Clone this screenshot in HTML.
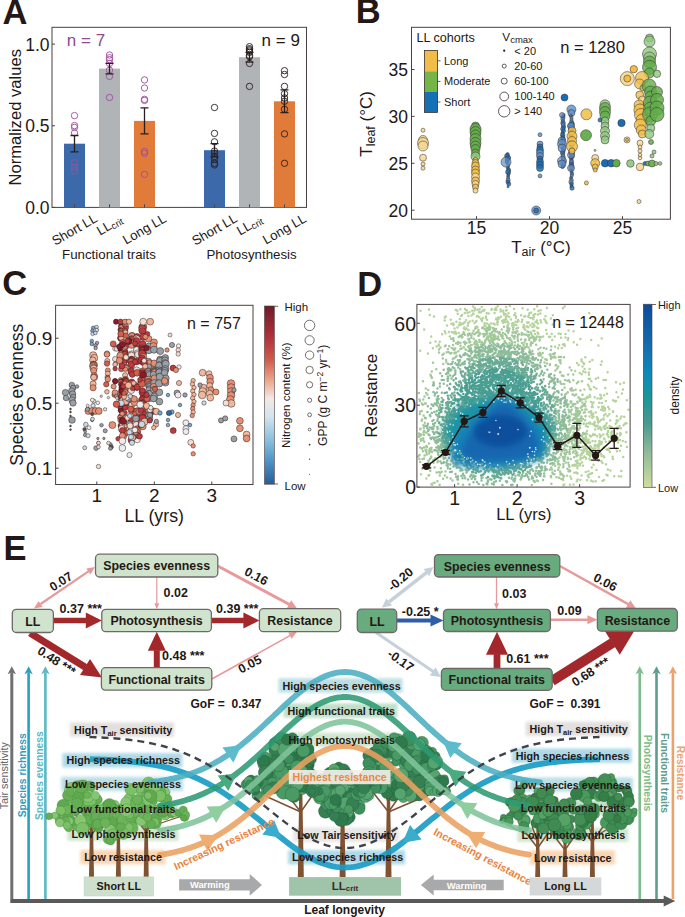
<!DOCTYPE html>
<html><head><meta charset="utf-8"><style>
html,body{margin:0;padding:0;background:#fff;}
svg{display:block;}
text{font-family:"Liberation Sans", sans-serif;}
</style></head><body>
<svg width="685" height="917" viewBox="0 0 685 917">
<rect width="685" height="917" fill="#fff"/>
<text x="2.5" y="23.8" font-size="34.5" fill="#231815" text-anchor="start" font-weight="bold">A</text>
<rect x="52" y="27.3" width="254.5" height="180.1" fill="none" stroke="#4a4040" stroke-width="1"/>
<line x1="52" y1="207.4" x2="55" y2="207.4" stroke="#4a4040" stroke-width="1"/>
<text x="49.6" y="213.8" font-size="17.5" fill="#231815" text-anchor="end">0.0</text>
<line x1="52" y1="125.75" x2="55" y2="125.75" stroke="#4a4040" stroke-width="1"/>
<text x="49.6" y="132.15" font-size="17.5" fill="#231815" text-anchor="end">0.5</text>
<line x1="52" y1="44.099999999999994" x2="55" y2="44.099999999999994" stroke="#4a4040" stroke-width="1"/>
<text x="49.6" y="50.49999999999999" font-size="17.5" fill="#231815" text-anchor="end">1.0</text>
<rect x="64.0" y="143.7" width="21" height="63.7" fill="#3c69aa"/>
<line x1="74.5" y1="207.4" x2="74.5" y2="204.4" stroke="#4a4040" stroke-width="1"/>
<rect x="99.0" y="68.6" width="21" height="138.8" fill="#b1b4b7"/>
<line x1="109.5" y1="207.4" x2="109.5" y2="204.4" stroke="#4a4040" stroke-width="1"/>
<rect x="134.0" y="120.9" width="21" height="86.5" fill="#e07b39"/>
<line x1="144.5" y1="207.4" x2="144.5" y2="204.4" stroke="#4a4040" stroke-width="1"/>
<rect x="204.0" y="150.2" width="21" height="57.2" fill="#3c69aa"/>
<line x1="214.5" y1="207.4" x2="214.5" y2="204.4" stroke="#4a4040" stroke-width="1"/>
<rect x="239.0" y="57.2" width="21" height="150.2" fill="#b1b4b7"/>
<line x1="249.5" y1="207.4" x2="249.5" y2="204.4" stroke="#4a4040" stroke-width="1"/>
<rect x="274.0" y="101.3" width="21" height="106.1" fill="#e07b39"/>
<line x1="284.5" y1="207.4" x2="284.5" y2="204.4" stroke="#4a4040" stroke-width="1"/>
<circle cx="74.5" cy="115.6" r="3.2" fill="none" stroke="#9d4e9d" stroke-width="0.9"/>
<circle cx="74.5" cy="125.6" r="3.2" fill="none" stroke="#9d4e9d" stroke-width="0.9"/>
<circle cx="74.5" cy="127.4" r="3.2" fill="none" stroke="#9d4e9d" stroke-width="0.9"/>
<circle cx="74.5" cy="132.9" r="3.2" fill="none" stroke="#9d4e9d" stroke-width="0.9"/>
<circle cx="74.5" cy="162.8" r="3.2" fill="none" stroke="#9d4e9d" stroke-width="0.9"/>
<circle cx="74.5" cy="167.1" r="3.2" fill="none" stroke="#9d4e9d" stroke-width="0.9"/>
<circle cx="74.5" cy="170.8" r="3.2" fill="none" stroke="#9d4e9d" stroke-width="0.9"/>
<path d="M74.5 135.5V151.9M70.5 135.5H78.5M70.5 151.9H78.5" stroke="#2a1f1f" stroke-width="1.3" fill="none"/>
<circle cx="109.5" cy="55.0" r="3.2" fill="none" stroke="#9d4e9d" stroke-width="0.9"/>
<circle cx="109.5" cy="57.7" r="3.2" fill="none" stroke="#9d4e9d" stroke-width="0.9"/>
<circle cx="109.5" cy="59.6" r="3.2" fill="none" stroke="#9d4e9d" stroke-width="0.9"/>
<circle cx="109.5" cy="63.4" r="3.2" fill="none" stroke="#9d4e9d" stroke-width="0.9"/>
<circle cx="109.5" cy="70.2" r="3.2" fill="none" stroke="#9d4e9d" stroke-width="0.9"/>
<circle cx="109.5" cy="76.4" r="3.2" fill="none" stroke="#9d4e9d" stroke-width="0.9"/>
<circle cx="109.5" cy="97.5" r="3.2" fill="none" stroke="#9d4e9d" stroke-width="0.9"/>
<path d="M109.5 63.4V73.8M105.5 63.4H113.5M105.5 73.8H113.5" stroke="#2a1f1f" stroke-width="1.3" fill="none"/>
<circle cx="144.5" cy="79.9" r="3.2" fill="none" stroke="#9d4e9d" stroke-width="0.9"/>
<circle cx="144.5" cy="88.0" r="3.2" fill="none" stroke="#9d4e9d" stroke-width="0.9"/>
<circle cx="144.5" cy="99.3" r="3.2" fill="none" stroke="#9d4e9d" stroke-width="0.9"/>
<circle cx="144.5" cy="100.4" r="3.2" fill="none" stroke="#9d4e9d" stroke-width="0.9"/>
<circle cx="144.5" cy="151.4" r="3.2" fill="none" stroke="#9d4e9d" stroke-width="0.9"/>
<circle cx="144.5" cy="153.3" r="3.2" fill="none" stroke="#9d4e9d" stroke-width="0.9"/>
<circle cx="144.5" cy="174.4" r="3.2" fill="none" stroke="#9d4e9d" stroke-width="0.9"/>
<path d="M144.5 107.8V133.9M140.5 107.8H148.5M140.5 133.9H148.5" stroke="#2a1f1f" stroke-width="1.3" fill="none"/>
<circle cx="214.5" cy="107.5" r="3.2" fill="none" stroke="#2a2020" stroke-width="0.9"/>
<circle cx="214.5" cy="133.4" r="3.2" fill="none" stroke="#2a2020" stroke-width="0.9"/>
<circle cx="214.5" cy="141.8" r="3.2" fill="none" stroke="#2a2020" stroke-width="0.9"/>
<circle cx="214.5" cy="151.1" r="3.2" fill="none" stroke="#2a2020" stroke-width="0.9"/>
<circle cx="214.5" cy="153.3" r="3.2" fill="none" stroke="#2a2020" stroke-width="0.9"/>
<circle cx="214.5" cy="156.6" r="3.2" fill="none" stroke="#2a2020" stroke-width="0.9"/>
<circle cx="214.5" cy="159.6" r="3.2" fill="none" stroke="#2a2020" stroke-width="0.9"/>
<circle cx="214.5" cy="163.3" r="3.2" fill="none" stroke="#2a2020" stroke-width="0.9"/>
<circle cx="214.5" cy="164.9" r="3.2" fill="none" stroke="#2a2020" stroke-width="0.9"/>
<path d="M214.5 143.7V156.8M210.5 143.7H218.5M210.5 156.8H218.5" stroke="#2a1f1f" stroke-width="1.3" fill="none"/>
<circle cx="249.5" cy="46.7" r="3.2" fill="none" stroke="#2a2020" stroke-width="0.9"/>
<circle cx="249.5" cy="48.7" r="3.2" fill="none" stroke="#2a2020" stroke-width="0.9"/>
<circle cx="249.5" cy="49.8" r="3.2" fill="none" stroke="#2a2020" stroke-width="0.9"/>
<circle cx="249.5" cy="51.0" r="3.2" fill="none" stroke="#2a2020" stroke-width="0.9"/>
<circle cx="249.5" cy="52.3" r="3.2" fill="none" stroke="#2a2020" stroke-width="0.9"/>
<circle cx="249.5" cy="55.5" r="3.2" fill="none" stroke="#2a2020" stroke-width="0.9"/>
<circle cx="249.5" cy="56.7" r="3.2" fill="none" stroke="#2a2020" stroke-width="0.9"/>
<circle cx="249.5" cy="63.4" r="3.2" fill="none" stroke="#2a2020" stroke-width="0.9"/>
<circle cx="249.5" cy="86.4" r="3.2" fill="none" stroke="#2a2020" stroke-width="0.9"/>
<path d="M249.5 52.3V62.1M245.5 52.3H253.5M245.5 62.1H253.5" stroke="#2a1f1f" stroke-width="1.3" fill="none"/>
<circle cx="284.5" cy="70.7" r="3.2" fill="none" stroke="#2a2020" stroke-width="0.9"/>
<circle cx="284.5" cy="74.5" r="3.2" fill="none" stroke="#2a2020" stroke-width="0.9"/>
<circle cx="284.5" cy="86.4" r="3.2" fill="none" stroke="#2a2020" stroke-width="0.9"/>
<circle cx="284.5" cy="93.7" r="3.2" fill="none" stroke="#2a2020" stroke-width="0.9"/>
<circle cx="284.5" cy="98.0" r="3.2" fill="none" stroke="#2a2020" stroke-width="0.9"/>
<circle cx="284.5" cy="101.3" r="3.2" fill="none" stroke="#2a2020" stroke-width="0.9"/>
<circle cx="284.5" cy="109.3" r="3.2" fill="none" stroke="#2a2020" stroke-width="0.9"/>
<circle cx="284.5" cy="133.9" r="3.2" fill="none" stroke="#2a2020" stroke-width="0.9"/>
<circle cx="284.5" cy="163.3" r="3.2" fill="none" stroke="#2a2020" stroke-width="0.9"/>
<path d="M284.5 89.8V112.7M280.5 89.8H288.5M280.5 112.7H288.5" stroke="#2a1f1f" stroke-width="1.3" fill="none"/>
<text x="66.8" y="45.9" font-size="17" fill="#8e4a8e" text-anchor="start">n = 7</text>
<text x="261.6" y="45.9" font-size="17" fill="#231815" text-anchor="start">n = 9</text>
<text x="74.5" y="229.5" font-size="13.2" fill="#231815" text-anchor="middle" transform="rotate(-30 74.5 229.5)" dominant-baseline="central">Short LL</text>
<text x="109.5" y="225" font-size="13.2" fill="#231815" text-anchor="middle" transform="rotate(-30 109.5 225)" dominant-baseline="central">LL<tspan font-size="9.5" dy="2">crit</tspan></text>
<text x="144.5" y="229" font-size="13.2" fill="#231815" text-anchor="middle" transform="rotate(-30 144.5 229)" dominant-baseline="central">Long LL</text>
<text x="214.5" y="229.5" font-size="13.2" fill="#231815" text-anchor="middle" transform="rotate(-30 214.5 229.5)" dominant-baseline="central">Short LL</text>
<text x="249.5" y="225" font-size="13.2" fill="#231815" text-anchor="middle" transform="rotate(-30 249.5 225)" dominant-baseline="central">LL<tspan font-size="9.5" dy="2">crit</tspan></text>
<text x="284.5" y="229" font-size="13.2" fill="#231815" text-anchor="middle" transform="rotate(-30 284.5 229)" dominant-baseline="central">Long LL</text>
<text x="109" y="258.5" font-size="13.3" fill="#231815" text-anchor="middle">Functional traits</text>
<text x="251.6" y="258.5" font-size="13.3" fill="#231815" text-anchor="middle">Photosynthesis</text>
<text x="20.6" y="117.3" font-size="16.6" fill="#231815" text-anchor="middle" transform="rotate(-90 20.6 117.3)">Normalized values</text>
<text x="355.7" y="23.4" font-size="34.5" fill="#231815" text-anchor="start" font-weight="bold">B</text>
<rect x="411.5" y="27.3" width="258.9" height="191.89999999999998" fill="none" stroke="#4a4040" stroke-width="1"/>
<line x1="476.5" y1="219.2" x2="476.5" y2="216.2" stroke="#4a4040" stroke-width="1"/>
<text x="476.5" y="234.2" font-size="17.5" fill="#231815" text-anchor="middle">15</text>
<line x1="549.5" y1="219.2" x2="549.5" y2="216.2" stroke="#4a4040" stroke-width="1"/>
<text x="549.5" y="234.2" font-size="17.5" fill="#231815" text-anchor="middle">20</text>
<line x1="622.5" y1="219.2" x2="622.5" y2="216.2" stroke="#4a4040" stroke-width="1"/>
<text x="622.5" y="234.2" font-size="17.5" fill="#231815" text-anchor="middle">25</text>
<line x1="411.5" y1="210.20000000000002" x2="414.5" y2="210.20000000000002" stroke="#4a4040" stroke-width="1"/>
<text x="408" y="216.60000000000002" font-size="17.5" fill="#231815" text-anchor="end">20</text>
<line x1="411.5" y1="163.3" x2="414.5" y2="163.3" stroke="#4a4040" stroke-width="1"/>
<text x="408" y="169.70000000000002" font-size="17.5" fill="#231815" text-anchor="end">25</text>
<line x1="411.5" y1="116.4" x2="414.5" y2="116.4" stroke="#4a4040" stroke-width="1"/>
<text x="408" y="122.80000000000001" font-size="17.5" fill="#231815" text-anchor="end">30</text>
<line x1="411.5" y1="69.5" x2="414.5" y2="69.5" stroke="#4a4040" stroke-width="1"/>
<text x="408" y="75.9" font-size="17.5" fill="#231815" text-anchor="end">35</text>
<text x="372.2" y="123.9" font-size="17" fill="#231815" text-anchor="middle" transform="rotate(-90 372.2 123.9)">T<tspan font-size="12.5" dy="3">leaf</tspan><tspan dy="-3"> (°C)</tspan></text>
<text x="540.9" y="252.7" font-size="17" fill="#231815" text-anchor="middle">T<tspan font-size="12.5" dy="3">air</tspan><tspan dy="-3"> (°C)</tspan></text>
<rect x="424.4" y="50.4" width="13.1" height="20.9" fill="#f0be48"/>
<rect x="424.4" y="71.3" width="13.1" height="20.7" fill="#74b548"/>
<rect x="424.4" y="92" width="13.1" height="20.4" fill="#1570b6"/>
<rect x="424.4" y="50.4" width="13.1" height="62" fill="none" stroke="#3a3030" stroke-width="0.8"/>
<line x1="437.5" y1="60.8" x2="440.5" y2="60.8" stroke="#3a3030" stroke-width="0.8"/>
<text x="444" y="64.8" font-size="11" fill="#231815" text-anchor="start">Long</text>
<line x1="437.5" y1="81.4" x2="440.5" y2="81.4" stroke="#3a3030" stroke-width="0.8"/>
<text x="444" y="85.4" font-size="11" fill="#231815" text-anchor="start">Moderate</text>
<line x1="437.5" y1="102" x2="440.5" y2="102" stroke="#3a3030" stroke-width="0.8"/>
<text x="444" y="106" font-size="11" fill="#231815" text-anchor="start">Short</text>
<text x="416.4" y="41.7" font-size="12.6" fill="#231815" text-anchor="start">LL cohorts</text>
<text x="502.3" y="40.9" font-size="11.8" fill="#231815" text-anchor="start">V<tspan font-size="9.5" dy="2">cmax</tspan></text>
<circle cx="504.2" cy="50.7" r="1.1" fill="#231815"/>
<text x="514.3" y="54.5" font-size="11" fill="#231815" text-anchor="start">&lt; 20</text>
<circle cx="504.2" cy="66.1" r="2" fill="none" stroke="#3a3030" stroke-width="0.8"/>
<text x="514.3" y="69.89999999999999" font-size="11" fill="#231815" text-anchor="start">20-60</text>
<circle cx="504.2" cy="81.1" r="3" fill="none" stroke="#3a3030" stroke-width="0.8"/>
<text x="514.3" y="84.89999999999999" font-size="11" fill="#231815" text-anchor="start">60-100</text>
<circle cx="504.2" cy="96.5" r="4.4" fill="none" stroke="#3a3030" stroke-width="0.8"/>
<text x="514.3" y="100.3" font-size="11" fill="#231815" text-anchor="start">100-140</text>
<circle cx="504.2" cy="111.3" r="5.7" fill="none" stroke="#3a3030" stroke-width="0.8"/>
<text x="514.3" y="115.1" font-size="11" fill="#231815" text-anchor="start">&gt; 140</text>
<text x="560.2" y="53.2" font-size="16.5" fill="#231815" text-anchor="start">n = 1280</text>
<circle cx="423.0" cy="130.2" r="2" fill="#f6d78f" fill-opacity="0.85" stroke="#3a3030" stroke-opacity="0.75" stroke-width="0.7"/>
<circle cx="423.0" cy="140.0" r="4.5" fill="#f6d78f" fill-opacity="0.85" stroke="#3a3030" stroke-opacity="0.75" stroke-width="0.7"/>
<circle cx="423.0" cy="143.0" r="5.5" fill="#f6d78f" fill-opacity="0.85" stroke="#3a3030" stroke-opacity="0.75" stroke-width="0.7"/>
<circle cx="423.0" cy="146.0" r="5" fill="#f6d78f" fill-opacity="0.85" stroke="#3a3030" stroke-opacity="0.75" stroke-width="0.7"/>
<circle cx="423.0" cy="157.7" r="3.5" fill="#f6d78f" fill-opacity="0.85" stroke="#3a3030" stroke-opacity="0.75" stroke-width="0.7"/>
<circle cx="423.0" cy="164.0" r="2" fill="#f6d78f" fill-opacity="0.85" stroke="#3a3030" stroke-opacity="0.75" stroke-width="0.7"/>
<circle cx="423.0" cy="168.2" r="2" fill="#f6d78f" fill-opacity="0.85" stroke="#3a3030" stroke-opacity="0.75" stroke-width="0.7"/>
<circle cx="475.5" cy="126.0" r="4" fill="#62ad4a" fill-opacity="0.85" stroke="#3a3030" stroke-opacity="0.75" stroke-width="0.7"/>
<circle cx="475.5" cy="129.0" r="5.5" fill="#62ad4a" fill-opacity="0.85" stroke="#3a3030" stroke-opacity="0.75" stroke-width="0.7"/>
<circle cx="475.5" cy="132.0" r="5.5" fill="#62ad4a" fill-opacity="0.85" stroke="#3a3030" stroke-opacity="0.75" stroke-width="0.7"/>
<circle cx="475.5" cy="135.0" r="5" fill="#62ad4a" fill-opacity="0.85" stroke="#3a3030" stroke-opacity="0.75" stroke-width="0.7"/>
<circle cx="475.5" cy="139.0" r="5.5" fill="#62ad4a" fill-opacity="0.85" stroke="#3a3030" stroke-opacity="0.75" stroke-width="0.7"/>
<circle cx="475.5" cy="143.0" r="5.5" fill="#62ad4a" fill-opacity="0.85" stroke="#3a3030" stroke-opacity="0.75" stroke-width="0.7"/>
<circle cx="475.5" cy="146.0" r="5" fill="#62ad4a" fill-opacity="0.85" stroke="#3a3030" stroke-opacity="0.75" stroke-width="0.7"/>
<circle cx="475.5" cy="149.0" r="4.5" fill="#62ad4a" fill-opacity="0.85" stroke="#3a3030" stroke-opacity="0.75" stroke-width="0.7"/>
<circle cx="475.5" cy="153.0" r="4" fill="#62ad4a" fill-opacity="0.85" stroke="#3a3030" stroke-opacity="0.75" stroke-width="0.7"/>
<circle cx="475.5" cy="156.5" r="4.5" fill="#8ec77e" fill-opacity="0.85" stroke="#3a3030" stroke-opacity="0.75" stroke-width="0.7"/>
<circle cx="475.5" cy="160.0" r="2.5" fill="#f0be48" fill-opacity="0.85" stroke="#3a3030" stroke-opacity="0.75" stroke-width="0.7"/>
<circle cx="475.5" cy="163.0" r="3.5" fill="#f0be48" fill-opacity="0.85" stroke="#3a3030" stroke-opacity="0.75" stroke-width="0.7"/>
<circle cx="475.5" cy="166.0" r="4" fill="#f0be48" fill-opacity="0.85" stroke="#3a3030" stroke-opacity="0.75" stroke-width="0.7"/>
<circle cx="475.5" cy="170.0" r="4" fill="#f0be48" fill-opacity="0.85" stroke="#3a3030" stroke-opacity="0.75" stroke-width="0.7"/>
<circle cx="475.5" cy="173.0" r="4" fill="#f0be48" fill-opacity="0.85" stroke="#3a3030" stroke-opacity="0.75" stroke-width="0.7"/>
<circle cx="475.5" cy="177.0" r="4" fill="#f6d78f" fill-opacity="0.85" stroke="#3a3030" stroke-opacity="0.75" stroke-width="0.7"/>
<circle cx="475.5" cy="181.0" r="4" fill="#f0be48" fill-opacity="0.85" stroke="#3a3030" stroke-opacity="0.75" stroke-width="0.7"/>
<circle cx="475.5" cy="184.0" r="3.5" fill="#f6d78f" fill-opacity="0.85" stroke="#3a3030" stroke-opacity="0.75" stroke-width="0.7"/>
<circle cx="475.5" cy="187.0" r="3" fill="#f0be48" fill-opacity="0.85" stroke="#3a3030" stroke-opacity="0.75" stroke-width="0.7"/>
<circle cx="475.5" cy="190.6" r="2.5" fill="#f6d78f" fill-opacity="0.85" stroke="#3a3030" stroke-opacity="0.75" stroke-width="0.7"/>
<circle cx="507.6" cy="154.0" r="1.5" fill="#1a6db4" fill-opacity="0.85" stroke="#3a3030" stroke-opacity="0.75" stroke-width="0.7"/>
<circle cx="507.1" cy="156.0" r="2.5" fill="#1a6db4" fill-opacity="0.85" stroke="#3a3030" stroke-opacity="0.75" stroke-width="0.7"/>
<circle cx="508.2" cy="158.0" r="2.5" fill="#1a6db4" fill-opacity="0.85" stroke="#3a3030" stroke-opacity="0.75" stroke-width="0.7"/>
<circle cx="507.2" cy="160.0" r="2" fill="#1a6db4" fill-opacity="0.85" stroke="#3a3030" stroke-opacity="0.75" stroke-width="0.7"/>
<circle cx="507.2" cy="162.0" r="2" fill="#1a6db4" fill-opacity="0.85" stroke="#3a3030" stroke-opacity="0.75" stroke-width="0.7"/>
<circle cx="508.1" cy="164.0" r="1.5" fill="#5d90c9" fill-opacity="0.85" stroke="#3a3030" stroke-opacity="0.75" stroke-width="0.7"/>
<circle cx="508.2" cy="166.0" r="1.5" fill="#5d90c9" fill-opacity="0.85" stroke="#3a3030" stroke-opacity="0.75" stroke-width="0.7"/>
<circle cx="507.8" cy="168.0" r="1.5" fill="#1a6db4" fill-opacity="0.85" stroke="#3a3030" stroke-opacity="0.75" stroke-width="0.7"/>
<circle cx="508.7" cy="170.0" r="2" fill="#1a6db4" fill-opacity="0.85" stroke="#3a3030" stroke-opacity="0.75" stroke-width="0.7"/>
<circle cx="508.1" cy="172.0" r="2.5" fill="#1a6db4" fill-opacity="0.85" stroke="#3a3030" stroke-opacity="0.75" stroke-width="0.7"/>
<circle cx="508.6" cy="174.0" r="1.5" fill="#1a6db4" fill-opacity="0.85" stroke="#3a3030" stroke-opacity="0.75" stroke-width="0.7"/>
<circle cx="508.1" cy="176.0" r="1.5" fill="#1a6db4" fill-opacity="0.85" stroke="#3a3030" stroke-opacity="0.75" stroke-width="0.7"/>
<circle cx="508.1" cy="178.0" r="1.5" fill="#5d90c9" fill-opacity="0.85" stroke="#3a3030" stroke-opacity="0.75" stroke-width="0.7"/>
<circle cx="508.2" cy="180.0" r="2" fill="#5d90c9" fill-opacity="0.85" stroke="#3a3030" stroke-opacity="0.75" stroke-width="0.7"/>
<circle cx="507.9" cy="182.0" r="2" fill="#1a6db4" fill-opacity="0.85" stroke="#3a3030" stroke-opacity="0.75" stroke-width="0.7"/>
<circle cx="508.8" cy="184.0" r="2" fill="#1a6db4" fill-opacity="0.85" stroke="#3a3030" stroke-opacity="0.75" stroke-width="0.7"/>
<circle cx="506.0" cy="162.1" r="5" fill="#5d90c9" fill-opacity="0.7" stroke="#3a3030" stroke-opacity="0.75" stroke-width="0.7"/>
<circle cx="508.0" cy="186.8" r="1" fill="#1a6db4" fill-opacity="0.85" stroke="#3a3030" stroke-opacity="0.75" stroke-width="0.7"/>
<circle cx="540.0" cy="134.7" r="2" fill="#5d90c9" fill-opacity="0.85" stroke="#3a3030" stroke-opacity="0.75" stroke-width="0.7"/>
<circle cx="540.0" cy="144.0" r="3" fill="#5d90c9" fill-opacity="0.85" stroke="#3a3030" stroke-opacity="0.75" stroke-width="0.7"/>
<circle cx="540.0" cy="147.0" r="3" fill="#1a6db4" fill-opacity="0.85" stroke="#3a3030" stroke-opacity="0.75" stroke-width="0.7"/>
<circle cx="540.0" cy="150.0" r="3.5" fill="#1a6db4" fill-opacity="0.85" stroke="#3a3030" stroke-opacity="0.75" stroke-width="0.7"/>
<circle cx="540.0" cy="153.0" r="3.5" fill="#5d90c9" fill-opacity="0.85" stroke="#3a3030" stroke-opacity="0.75" stroke-width="0.7"/>
<circle cx="540.0" cy="156.0" r="3.5" fill="#5d90c9" fill-opacity="0.85" stroke="#3a3030" stroke-opacity="0.75" stroke-width="0.7"/>
<circle cx="540.0" cy="159.0" r="3" fill="#1a6db4" fill-opacity="0.85" stroke="#3a3030" stroke-opacity="0.75" stroke-width="0.7"/>
<circle cx="540.0" cy="162.0" r="3.5" fill="#1a6db4" fill-opacity="0.85" stroke="#3a3030" stroke-opacity="0.75" stroke-width="0.7"/>
<circle cx="540.0" cy="165.0" r="3.5" fill="#1a6db4" fill-opacity="0.85" stroke="#3a3030" stroke-opacity="0.75" stroke-width="0.7"/>
<circle cx="540.0" cy="168.0" r="3.5" fill="#1a6db4" fill-opacity="0.85" stroke="#3a3030" stroke-opacity="0.75" stroke-width="0.7"/>
<circle cx="540.0" cy="175.9" r="2" fill="#5d90c9" fill-opacity="0.85" stroke="#3a3030" stroke-opacity="0.75" stroke-width="0.7"/>
<circle cx="536.2" cy="210.5" r="4.5" fill="#5d90c9" fill-opacity="0.8" stroke="#3a3030" stroke-opacity="0.75" stroke-width="0.7"/>
<circle cx="536.2" cy="210.5" r="2.5" fill="#1a6db4" fill-opacity="0.85" stroke="#3a3030" stroke-opacity="0.75" stroke-width="0.7"/>
<circle cx="563.6" cy="115.0" r="1.6" fill="#5d90c9" fill-opacity="0.8" stroke="#3a3030" stroke-opacity="0.75" stroke-width="0.7"/>
<circle cx="563.1" cy="117.0" r="2" fill="#1a6db4" fill-opacity="0.8" stroke="#3a3030" stroke-opacity="0.75" stroke-width="0.7"/>
<circle cx="562.8" cy="119.0" r="2" fill="#5d90c9" fill-opacity="0.8" stroke="#3a3030" stroke-opacity="0.75" stroke-width="0.7"/>
<circle cx="562.9" cy="121.0" r="1.6" fill="#5d90c9" fill-opacity="0.8" stroke="#3a3030" stroke-opacity="0.75" stroke-width="0.7"/>
<circle cx="563.0" cy="123.0" r="2.3" fill="#1a6db4" fill-opacity="0.8" stroke="#3a3030" stroke-opacity="0.75" stroke-width="0.7"/>
<circle cx="563.3" cy="125.0" r="2" fill="#5d90c9" fill-opacity="0.8" stroke="#3a3030" stroke-opacity="0.75" stroke-width="0.7"/>
<circle cx="563.6" cy="127.0" r="2" fill="#1a6db4" fill-opacity="0.8" stroke="#3a3030" stroke-opacity="0.75" stroke-width="0.7"/>
<circle cx="562.9" cy="129.0" r="2.3" fill="#1a6db4" fill-opacity="0.8" stroke="#3a3030" stroke-opacity="0.75" stroke-width="0.7"/>
<circle cx="563.5" cy="131.0" r="2" fill="#1a6db4" fill-opacity="0.8" stroke="#3a3030" stroke-opacity="0.75" stroke-width="0.7"/>
<circle cx="562.5" cy="133.0" r="1.6" fill="#1a6db4" fill-opacity="0.8" stroke="#3a3030" stroke-opacity="0.75" stroke-width="0.7"/>
<circle cx="562.7" cy="135.0" r="2.3" fill="#1a6db4" fill-opacity="0.8" stroke="#3a3030" stroke-opacity="0.75" stroke-width="0.7"/>
<circle cx="562.9" cy="137.0" r="2" fill="#1a6db4" fill-opacity="0.8" stroke="#3a3030" stroke-opacity="0.75" stroke-width="0.7"/>
<circle cx="562.9" cy="139.0" r="2.3" fill="#1a6db4" fill-opacity="0.8" stroke="#3a3030" stroke-opacity="0.75" stroke-width="0.7"/>
<circle cx="562.6" cy="141.0" r="2" fill="#5d90c9" fill-opacity="0.8" stroke="#3a3030" stroke-opacity="0.75" stroke-width="0.7"/>
<circle cx="562.7" cy="143.0" r="2" fill="#5d90c9" fill-opacity="0.8" stroke="#3a3030" stroke-opacity="0.75" stroke-width="0.7"/>
<circle cx="563.2" cy="145.0" r="2" fill="#5d90c9" fill-opacity="0.8" stroke="#3a3030" stroke-opacity="0.75" stroke-width="0.7"/>
<circle cx="562.6" cy="147.0" r="1.6" fill="#1a6db4" fill-opacity="0.8" stroke="#3a3030" stroke-opacity="0.75" stroke-width="0.7"/>
<circle cx="563.2" cy="149.0" r="1.6" fill="#1a6db4" fill-opacity="0.8" stroke="#3a3030" stroke-opacity="0.75" stroke-width="0.7"/>
<circle cx="563.1" cy="151.0" r="2" fill="#1a6db4" fill-opacity="0.8" stroke="#3a3030" stroke-opacity="0.75" stroke-width="0.7"/>
<circle cx="562.6" cy="153.0" r="2.3" fill="#1a6db4" fill-opacity="0.8" stroke="#3a3030" stroke-opacity="0.75" stroke-width="0.7"/>
<circle cx="563.1" cy="155.0" r="1.6" fill="#5d90c9" fill-opacity="0.8" stroke="#3a3030" stroke-opacity="0.75" stroke-width="0.7"/>
<circle cx="563.0" cy="157.0" r="2.3" fill="#5d90c9" fill-opacity="0.8" stroke="#3a3030" stroke-opacity="0.75" stroke-width="0.7"/>
<circle cx="563.3" cy="159.0" r="2" fill="#5d90c9" fill-opacity="0.8" stroke="#3a3030" stroke-opacity="0.75" stroke-width="0.7"/>
<circle cx="563.3" cy="161.0" r="2.3" fill="#5d90c9" fill-opacity="0.8" stroke="#3a3030" stroke-opacity="0.75" stroke-width="0.7"/>
<circle cx="562.9" cy="163.0" r="2" fill="#1a6db4" fill-opacity="0.8" stroke="#3a3030" stroke-opacity="0.75" stroke-width="0.7"/>
<circle cx="563.0" cy="165.0" r="2" fill="#1a6db4" fill-opacity="0.8" stroke="#3a3030" stroke-opacity="0.75" stroke-width="0.7"/>
<circle cx="562.5" cy="167.0" r="1.6" fill="#1a6db4" fill-opacity="0.8" stroke="#3a3030" stroke-opacity="0.75" stroke-width="0.7"/>
<circle cx="562.0" cy="115.0" r="2.5" fill="#5d90c9" fill-opacity="0.7" stroke="#3a3030" stroke-opacity="0.75" stroke-width="0.7"/>
<circle cx="562.0" cy="141.0" r="4" fill="#5d90c9" fill-opacity="0.7" stroke="#3a3030" stroke-opacity="0.75" stroke-width="0.7"/>
<circle cx="562.0" cy="144.0" r="4.5" fill="#5d90c9" fill-opacity="0.7" stroke="#3a3030" stroke-opacity="0.75" stroke-width="0.7"/>
<circle cx="562.0" cy="148.0" r="4" fill="#5d90c9" fill-opacity="0.7" stroke="#3a3030" stroke-opacity="0.75" stroke-width="0.7"/>
<circle cx="562.0" cy="161.0" r="4.5" fill="#5d90c9" fill-opacity="0.7" stroke="#3a3030" stroke-opacity="0.75" stroke-width="0.7"/>
<circle cx="562.0" cy="164.0" r="4" fill="#5d90c9" fill-opacity="0.7" stroke="#3a3030" stroke-opacity="0.75" stroke-width="0.7"/>
<circle cx="571.4" cy="109.5" r="4.5" fill="#5d90c9" fill-opacity="0.8" stroke="#3a3030" stroke-opacity="0.75" stroke-width="0.7"/>
<circle cx="571.4" cy="113.0" r="3.5" fill="#5d90c9" fill-opacity="0.8" stroke="#3a3030" stroke-opacity="0.75" stroke-width="0.7"/>
<circle cx="570.9" cy="116.0" r="1.6" fill="#1a6db4" fill-opacity="0.8" stroke="#3a3030" stroke-opacity="0.75" stroke-width="0.7"/>
<circle cx="571.5" cy="118.0" r="1.6" fill="#5d90c9" fill-opacity="0.8" stroke="#3a3030" stroke-opacity="0.75" stroke-width="0.7"/>
<circle cx="571.5" cy="120.0" r="1.6" fill="#5d90c9" fill-opacity="0.8" stroke="#3a3030" stroke-opacity="0.75" stroke-width="0.7"/>
<circle cx="571.5" cy="122.0" r="2" fill="#5d90c9" fill-opacity="0.8" stroke="#3a3030" stroke-opacity="0.75" stroke-width="0.7"/>
<circle cx="571.9" cy="124.0" r="2.5" fill="#1a6db4" fill-opacity="0.8" stroke="#3a3030" stroke-opacity="0.75" stroke-width="0.7"/>
<circle cx="570.9" cy="126.0" r="3" fill="#5d90c9" fill-opacity="0.8" stroke="#3a3030" stroke-opacity="0.75" stroke-width="0.7"/>
<circle cx="571.4" cy="128.0" r="3" fill="#1a6db4" fill-opacity="0.8" stroke="#3a3030" stroke-opacity="0.75" stroke-width="0.7"/>
<circle cx="571.0" cy="130.0" r="2.5" fill="#5d90c9" fill-opacity="0.8" stroke="#3a3030" stroke-opacity="0.75" stroke-width="0.7"/>
<circle cx="571.4" cy="132.0" r="2" fill="#5d90c9" fill-opacity="0.8" stroke="#3a3030" stroke-opacity="0.75" stroke-width="0.7"/>
<circle cx="571.0" cy="134.0" r="2.5" fill="#1a6db4" fill-opacity="0.8" stroke="#3a3030" stroke-opacity="0.75" stroke-width="0.7"/>
<circle cx="571.5" cy="136.0" r="1.6" fill="#5d90c9" fill-opacity="0.8" stroke="#3a3030" stroke-opacity="0.75" stroke-width="0.7"/>
<circle cx="571.2" cy="138.0" r="1.6" fill="#5d90c9" fill-opacity="0.8" stroke="#3a3030" stroke-opacity="0.75" stroke-width="0.7"/>
<circle cx="571.1" cy="140.0" r="2.5" fill="#5d90c9" fill-opacity="0.8" stroke="#3a3030" stroke-opacity="0.75" stroke-width="0.7"/>
<circle cx="571.2" cy="142.0" r="2" fill="#5d90c9" fill-opacity="0.8" stroke="#3a3030" stroke-opacity="0.75" stroke-width="0.7"/>
<circle cx="571.7" cy="144.0" r="2.5" fill="#5d90c9" fill-opacity="0.8" stroke="#3a3030" stroke-opacity="0.75" stroke-width="0.7"/>
<circle cx="571.5" cy="146.0" r="2" fill="#5d90c9" fill-opacity="0.8" stroke="#3a3030" stroke-opacity="0.75" stroke-width="0.7"/>
<circle cx="571.8" cy="148.0" r="2" fill="#1a6db4" fill-opacity="0.8" stroke="#3a3030" stroke-opacity="0.75" stroke-width="0.7"/>
<circle cx="571.4" cy="150.0" r="1.6" fill="#5d90c9" fill-opacity="0.8" stroke="#3a3030" stroke-opacity="0.75" stroke-width="0.7"/>
<circle cx="571.7" cy="152.0" r="3" fill="#1a6db4" fill-opacity="0.8" stroke="#3a3030" stroke-opacity="0.75" stroke-width="0.7"/>
<circle cx="571.6" cy="154.0" r="2.5" fill="#1a6db4" fill-opacity="0.8" stroke="#3a3030" stroke-opacity="0.75" stroke-width="0.7"/>
<circle cx="571.9" cy="156.0" r="2.5" fill="#5d90c9" fill-opacity="0.8" stroke="#3a3030" stroke-opacity="0.75" stroke-width="0.7"/>
<circle cx="571.2" cy="158.0" r="2" fill="#1a6db4" fill-opacity="0.8" stroke="#3a3030" stroke-opacity="0.75" stroke-width="0.7"/>
<circle cx="571.4" cy="160.0" r="1.8" fill="#1a6db4" fill-opacity="0.8" stroke="#3a3030" stroke-opacity="0.75" stroke-width="0.7"/>
<circle cx="571.5" cy="162.0" r="2.2" fill="#5d90c9" fill-opacity="0.8" stroke="#3a3030" stroke-opacity="0.75" stroke-width="0.7"/>
<circle cx="571.4" cy="164.0" r="2.2" fill="#1a6db4" fill-opacity="0.8" stroke="#3a3030" stroke-opacity="0.75" stroke-width="0.7"/>
<circle cx="571.6" cy="166.0" r="2.2" fill="#1a6db4" fill-opacity="0.8" stroke="#3a3030" stroke-opacity="0.75" stroke-width="0.7"/>
<circle cx="571.3" cy="168.0" r="2.2" fill="#5d90c9" fill-opacity="0.8" stroke="#3a3030" stroke-opacity="0.75" stroke-width="0.7"/>
<circle cx="571.4" cy="170.0" r="1.5" fill="#1a6db4" fill-opacity="0.8" stroke="#3a3030" stroke-opacity="0.75" stroke-width="0.7"/>
<circle cx="571.6" cy="172.0" r="1.5" fill="#5d90c9" fill-opacity="0.8" stroke="#3a3030" stroke-opacity="0.75" stroke-width="0.7"/>
<circle cx="572.0" cy="174.0" r="1.8" fill="#1a6db4" fill-opacity="0.8" stroke="#3a3030" stroke-opacity="0.75" stroke-width="0.7"/>
<circle cx="571.7" cy="176.0" r="1.5" fill="#5d90c9" fill-opacity="0.8" stroke="#3a3030" stroke-opacity="0.75" stroke-width="0.7"/>
<circle cx="571.0" cy="178.0" r="1.5" fill="#1a6db4" fill-opacity="0.8" stroke="#3a3030" stroke-opacity="0.75" stroke-width="0.7"/>
<circle cx="571.5" cy="180.0" r="1.8" fill="#5d90c9" fill-opacity="0.8" stroke="#3a3030" stroke-opacity="0.75" stroke-width="0.7"/>
<circle cx="571.0" cy="182.0" r="2.2" fill="#5d90c9" fill-opacity="0.8" stroke="#3a3030" stroke-opacity="0.75" stroke-width="0.7"/>
<circle cx="571.6" cy="184.0" r="1.8" fill="#1a6db4" fill-opacity="0.8" stroke="#3a3030" stroke-opacity="0.75" stroke-width="0.7"/>
<circle cx="571.5" cy="186.0" r="1.5" fill="#1a6db4" fill-opacity="0.8" stroke="#3a3030" stroke-opacity="0.75" stroke-width="0.7"/>
<circle cx="572.0" cy="188.0" r="2.2" fill="#1a6db4" fill-opacity="0.8" stroke="#3a3030" stroke-opacity="0.75" stroke-width="0.7"/>
<circle cx="571.0" cy="126.0" r="3.5" fill="#5d90c9" fill-opacity="0.7" stroke="#3a3030" stroke-opacity="0.75" stroke-width="0.7"/>
<circle cx="571.0" cy="155.0" r="3.5" fill="#5d90c9" fill-opacity="0.7" stroke="#3a3030" stroke-opacity="0.75" stroke-width="0.7"/>
<circle cx="571.0" cy="168.0" r="3.5" fill="#5d90c9" fill-opacity="0.7" stroke="#3a3030" stroke-opacity="0.75" stroke-width="0.7"/>
<circle cx="572.0" cy="131.0" r="4" fill="#f0be48" fill-opacity="0.85" stroke="#3a3030" stroke-opacity="0.75" stroke-width="0.7"/>
<circle cx="572.0" cy="136.2" r="5" fill="#f0be48" fill-opacity="0.85" stroke="#3a3030" stroke-opacity="0.75" stroke-width="0.7"/>
<circle cx="572.0" cy="141.0" r="4.5" fill="#f0be48" fill-opacity="0.85" stroke="#3a3030" stroke-opacity="0.75" stroke-width="0.7"/>
<circle cx="572.0" cy="146.4" r="5.5" fill="#f0be48" fill-opacity="0.85" stroke="#3a3030" stroke-opacity="0.75" stroke-width="0.7"/>
<circle cx="572.0" cy="151.0" r="3" fill="#f0be48" fill-opacity="0.85" stroke="#3a3030" stroke-opacity="0.75" stroke-width="0.7"/>
<circle cx="564.5" cy="97.5" r="3.5" fill="#1a6db4" fill-opacity="1" stroke="#3a3030" stroke-opacity="0.75" stroke-width="0.7"/>
<circle cx="586.4" cy="114.3" r="5.5" fill="#f0be48" fill-opacity="0.85" stroke="#3a3030" stroke-opacity="0.75" stroke-width="0.7"/>
<circle cx="586.0" cy="135.2" r="5.5" fill="#62ad4a" fill-opacity="0.95" stroke="#3a3030" stroke-opacity="0.75" stroke-width="0.7"/>
<circle cx="605.0" cy="104.8" r="5" fill="#8ec77e" fill-opacity="0.8" stroke="#3a3030" stroke-opacity="0.75" stroke-width="0.7"/>
<circle cx="605.0" cy="108.0" r="5.5" fill="#62ad4a" fill-opacity="0.8" stroke="#3a3030" stroke-opacity="0.75" stroke-width="0.7"/>
<circle cx="605.0" cy="112.0" r="5.5" fill="#62ad4a" fill-opacity="0.8" stroke="#3a3030" stroke-opacity="0.75" stroke-width="0.7"/>
<circle cx="605.0" cy="116.0" r="5" fill="#62ad4a" fill-opacity="0.8" stroke="#3a3030" stroke-opacity="0.75" stroke-width="0.7"/>
<circle cx="605.0" cy="121.0" r="4" fill="#8ec77e" fill-opacity="0.8" stroke="#3a3030" stroke-opacity="0.75" stroke-width="0.7"/>
<circle cx="605.0" cy="126.0" r="4" fill="#8ec77e" fill-opacity="0.8" stroke="#3a3030" stroke-opacity="0.75" stroke-width="0.7"/>
<circle cx="605.0" cy="131.0" r="4.5" fill="#8ec77e" fill-opacity="0.8" stroke="#3a3030" stroke-opacity="0.75" stroke-width="0.7"/>
<circle cx="605.0" cy="136.0" r="4.5" fill="#8ec77e" fill-opacity="0.8" stroke="#3a3030" stroke-opacity="0.75" stroke-width="0.7"/>
<circle cx="605.0" cy="139.9" r="4" fill="#8ec77e" fill-opacity="0.8" stroke="#3a3030" stroke-opacity="0.75" stroke-width="0.7"/>
<circle cx="600.0" cy="120.0" r="2" fill="#1a6db4" fill-opacity="0.85" stroke="#3a3030" stroke-opacity="0.75" stroke-width="0.7"/>
<circle cx="595.2" cy="158.0" r="3.5" fill="#f6d78f" fill-opacity="0.85" stroke="#3a3030" stroke-opacity="0.75" stroke-width="0.7"/>
<circle cx="595.2" cy="163.2" r="4.5" fill="#f0be48" fill-opacity="0.85" stroke="#3a3030" stroke-opacity="0.75" stroke-width="0.7"/>
<circle cx="595.2" cy="167.0" r="3" fill="#f0be48" fill-opacity="0.85" stroke="#3a3030" stroke-opacity="0.75" stroke-width="0.7"/>
<circle cx="595.2" cy="170.0" r="2" fill="#f0be48" fill-opacity="0.85" stroke="#3a3030" stroke-opacity="0.75" stroke-width="0.7"/>
<circle cx="595.0" cy="150.4" r="1" fill="#f0be48" fill-opacity="0.85" stroke="#3a3030" stroke-opacity="0.75" stroke-width="0.7"/>
<circle cx="605.1" cy="163.2" r="3.8" fill="#1a6db4" fill-opacity="1" stroke="#3a3030" stroke-opacity="0.75" stroke-width="0.7"/>
<circle cx="611.2" cy="163.2" r="3.8" fill="#1a6db4" fill-opacity="1" stroke="#3a3030" stroke-opacity="0.75" stroke-width="0.7"/>
<circle cx="616.4" cy="163.2" r="3.8" fill="#62ad4a" fill-opacity="1" stroke="#3a3030" stroke-opacity="0.75" stroke-width="0.7"/>
<circle cx="586.4" cy="182.9" r="2" fill="#f0be48" fill-opacity="0.85" stroke="#3a3030" stroke-opacity="0.75" stroke-width="0.7"/>
<circle cx="649.5" cy="38.0" r="4" fill="#8ec77e" fill-opacity="0.8" stroke="#3a3030" stroke-opacity="0.75" stroke-width="0.7"/>
<circle cx="649.5" cy="41.5" r="5.5" fill="#8ec77e" fill-opacity="0.8" stroke="#3a3030" stroke-opacity="0.75" stroke-width="0.7"/>
<circle cx="649.5" cy="54.0" r="7" fill="#8ec77e" fill-opacity="0.8" stroke="#3a3030" stroke-opacity="0.75" stroke-width="0.7"/>
<circle cx="649.5" cy="58.0" r="6" fill="#8ec77e" fill-opacity="0.8" stroke="#3a3030" stroke-opacity="0.75" stroke-width="0.7"/>
<circle cx="649.5" cy="62.0" r="6" fill="#62ad4a" fill-opacity="0.8" stroke="#3a3030" stroke-opacity="0.75" stroke-width="0.7"/>
<circle cx="649.5" cy="67.3" r="7" fill="#62ad4a" fill-opacity="0.8" stroke="#3a3030" stroke-opacity="0.75" stroke-width="0.7"/>
<circle cx="649.5" cy="73.0" r="5" fill="#62ad4a" fill-opacity="0.8" stroke="#3a3030" stroke-opacity="0.75" stroke-width="0.7"/>
<circle cx="657.0" cy="73.8" r="3.7" fill="#8ec77e" fill-opacity="0.8" stroke="#3a3030" stroke-opacity="0.75" stroke-width="0.7"/>
<circle cx="633.8" cy="69.2" r="3.7" fill="#f0be48" fill-opacity="1" stroke="#3a3030" stroke-opacity="0.75" stroke-width="0.7"/>
<circle cx="627.3" cy="78.6" r="7" fill="#f6d78f" fill-opacity="0.9" stroke="#3a3030" stroke-opacity="0.75" stroke-width="0.7"/>
<circle cx="627.3" cy="78.6" r="3.5" fill="#f0be48" fill-opacity="1" stroke="#3a3030" stroke-opacity="0.75" stroke-width="0.7"/>
<circle cx="642.0" cy="78.0" r="6.5" fill="#f0be48" fill-opacity="0.8" stroke="#3a3030" stroke-opacity="0.75" stroke-width="0.7"/>
<circle cx="639.6" cy="84.0" r="5" fill="#f0be48" fill-opacity="0.8" stroke="#3a3030" stroke-opacity="0.75" stroke-width="0.7"/>
<circle cx="642.9" cy="88.0" r="3" fill="#b8c050" fill-opacity="0.8" stroke="#3a3030" stroke-opacity="0.75" stroke-width="0.7"/>
<circle cx="639.8" cy="95.0" r="4" fill="#f0be48" fill-opacity="0.8" stroke="#3a3030" stroke-opacity="0.75" stroke-width="0.7"/>
<circle cx="642.5" cy="100.0" r="4" fill="#f6d78f" fill-opacity="0.8" stroke="#3a3030" stroke-opacity="0.75" stroke-width="0.7"/>
<circle cx="639.1" cy="105.0" r="5" fill="#f0be48" fill-opacity="0.8" stroke="#3a3030" stroke-opacity="0.75" stroke-width="0.7"/>
<circle cx="639.9" cy="110.0" r="6" fill="#f0be48" fill-opacity="0.8" stroke="#3a3030" stroke-opacity="0.75" stroke-width="0.7"/>
<circle cx="641.0" cy="115.0" r="6.5" fill="#f0be48" fill-opacity="0.8" stroke="#3a3030" stroke-opacity="0.75" stroke-width="0.7"/>
<circle cx="642.1" cy="120.0" r="6" fill="#f0be48" fill-opacity="0.8" stroke="#3a3030" stroke-opacity="0.75" stroke-width="0.7"/>
<circle cx="640.3" cy="125.0" r="6" fill="#f0be48" fill-opacity="0.8" stroke="#3a3030" stroke-opacity="0.75" stroke-width="0.7"/>
<circle cx="641.2" cy="130.0" r="5" fill="#f0be48" fill-opacity="0.8" stroke="#3a3030" stroke-opacity="0.75" stroke-width="0.7"/>
<circle cx="642.3" cy="134.0" r="4" fill="#f0be48" fill-opacity="0.8" stroke="#3a3030" stroke-opacity="0.75" stroke-width="0.7"/>
<circle cx="649.1" cy="86.0" r="7" fill="#62ad4a" fill-opacity="0.8" stroke="#3a3030" stroke-opacity="0.75" stroke-width="0.7"/>
<circle cx="650.5" cy="92.0" r="6" fill="#62ad4a" fill-opacity="0.8" stroke="#3a3030" stroke-opacity="0.75" stroke-width="0.7"/>
<circle cx="650.8" cy="97.0" r="6" fill="#62ad4a" fill-opacity="0.8" stroke="#3a3030" stroke-opacity="0.75" stroke-width="0.7"/>
<circle cx="650.3" cy="103.0" r="7" fill="#62ad4a" fill-opacity="0.8" stroke="#3a3030" stroke-opacity="0.75" stroke-width="0.7"/>
<circle cx="650.6" cy="109.0" r="7" fill="#62ad4a" fill-opacity="0.8" stroke="#3a3030" stroke-opacity="0.75" stroke-width="0.7"/>
<circle cx="650.0" cy="114.5" r="7.5" fill="#62ad4a" fill-opacity="0.8" stroke="#3a3030" stroke-opacity="0.75" stroke-width="0.7"/>
<circle cx="650.7" cy="121.0" r="5" fill="#62ad4a" fill-opacity="0.8" stroke="#3a3030" stroke-opacity="0.75" stroke-width="0.7"/>
<circle cx="650.8" cy="128.0" r="4" fill="#8ec77e" fill-opacity="0.8" stroke="#3a3030" stroke-opacity="0.75" stroke-width="0.7"/>
<circle cx="649.3" cy="134.0" r="4.5" fill="#8ec77e" fill-opacity="0.8" stroke="#3a3030" stroke-opacity="0.75" stroke-width="0.7"/>
<circle cx="657.0" cy="92.0" r="5.5" fill="#62ad4a" fill-opacity="0.85" stroke="#3a3030" stroke-opacity="0.75" stroke-width="0.7"/>
<circle cx="657.0" cy="100.0" r="6.5" fill="#62ad4a" fill-opacity="0.85" stroke="#3a3030" stroke-opacity="0.75" stroke-width="0.7"/>
<circle cx="657.0" cy="108.0" r="7" fill="#62ad4a" fill-opacity="0.85" stroke="#3a3030" stroke-opacity="0.75" stroke-width="0.7"/>
<circle cx="657.0" cy="114.5" r="7" fill="#62ad4a" fill-opacity="0.85" stroke="#3a3030" stroke-opacity="0.75" stroke-width="0.7"/>
<circle cx="621.5" cy="123.0" r="3.7" fill="#1a6db4" fill-opacity="1" stroke="#3a3030" stroke-opacity="0.75" stroke-width="0.7"/>
<circle cx="627.0" cy="139.9" r="3" fill="#f6d78f" fill-opacity="0.85" stroke="#3a3030" stroke-opacity="0.75" stroke-width="0.7"/>
<circle cx="627.0" cy="139.9" r="1.5" fill="#f0be48" fill-opacity="0.85" stroke="#3a3030" stroke-opacity="0.75" stroke-width="0.7"/>
<circle cx="640.0" cy="143.0" r="3" fill="#f6d78f" fill-opacity="0.85" stroke="#3a3030" stroke-opacity="0.75" stroke-width="0.7"/>
<circle cx="640.0" cy="147.0" r="2" fill="#f6d78f" fill-opacity="0.85" stroke="#3a3030" stroke-opacity="0.75" stroke-width="0.7"/>
<circle cx="640.0" cy="151.0" r="2" fill="#f6d78f" fill-opacity="0.85" stroke="#3a3030" stroke-opacity="0.75" stroke-width="0.7"/>
<circle cx="640.0" cy="155.0" r="1.8" fill="#f6d78f" fill-opacity="0.85" stroke="#3a3030" stroke-opacity="0.75" stroke-width="0.7"/>
<circle cx="640.0" cy="158.0" r="1.8" fill="#f6d78f" fill-opacity="0.85" stroke="#3a3030" stroke-opacity="0.75" stroke-width="0.7"/>
<circle cx="630.4" cy="163.5" r="3.8" fill="#8ec77e" fill-opacity="0.9" stroke="#3a3030" stroke-opacity="0.75" stroke-width="0.7"/>
<circle cx="640.0" cy="166.9" r="3.8" fill="#f6d78f" fill-opacity="0.9" stroke="#3a3030" stroke-opacity="0.75" stroke-width="0.7"/>
<circle cx="645.0" cy="163.5" r="2" fill="#1a6db4" fill-opacity="0.9" stroke="#3a3030" stroke-opacity="0.75" stroke-width="0.7"/>
<circle cx="648.0" cy="163.5" r="2.5" fill="#62ad4a" fill-opacity="0.9" stroke="#3a3030" stroke-opacity="0.75" stroke-width="0.7"/>
<circle cx="652.0" cy="163.5" r="3.5" fill="#62ad4a" fill-opacity="0.9" stroke="#3a3030" stroke-opacity="0.75" stroke-width="0.7"/>
<circle cx="656.0" cy="163.5" r="2" fill="#8ec77e" fill-opacity="0.9" stroke="#3a3030" stroke-opacity="0.75" stroke-width="0.7"/>
<circle cx="660.0" cy="163.5" r="1.8" fill="#8ec77e" fill-opacity="0.9" stroke="#3a3030" stroke-opacity="0.75" stroke-width="0.7"/>
<circle cx="651.0" cy="142.0" r="2.5" fill="#62ad4a" fill-opacity="0.85" stroke="#3a3030" stroke-opacity="0.75" stroke-width="0.7"/>
<circle cx="654.0" cy="152.0" r="2" fill="#8ec77e" fill-opacity="0.85" stroke="#3a3030" stroke-opacity="0.75" stroke-width="0.7"/>
<circle cx="652.0" cy="156.0" r="2" fill="#8ec77e" fill-opacity="0.85" stroke="#3a3030" stroke-opacity="0.75" stroke-width="0.7"/>
<circle cx="639.0" cy="201.5" r="2" fill="#f6d78f" fill-opacity="0.85" stroke="#3a3030" stroke-opacity="0.75" stroke-width="0.7"/>
<text x="2.3" y="295.3" font-size="34.5" fill="#231815" text-anchor="start" font-weight="bold">C</text>
<rect x="55.6" y="305.3" width="197.4" height="179.2" fill="none" stroke="#4a4040" stroke-width="1"/>
<line x1="55.6" y1="468.2" x2="58.6" y2="468.2" stroke="#4a4040" stroke-width="1"/>
<text x="52.4" y="475.09999999999997" font-size="19" fill="#231815" text-anchor="end">0.1</text>
<line x1="55.6" y1="403.2" x2="58.6" y2="403.2" stroke="#4a4040" stroke-width="1"/>
<text x="52.4" y="410.09999999999997" font-size="19" fill="#231815" text-anchor="end">0.5</text>
<line x1="55.6" y1="338.2" x2="58.6" y2="338.2" stroke="#4a4040" stroke-width="1"/>
<text x="52.4" y="345.09999999999997" font-size="19" fill="#231815" text-anchor="end">0.9</text>
<line x1="96.8" y1="484.5" x2="96.8" y2="481.5" stroke="#4a4040" stroke-width="1"/>
<text x="96.8" y="501.7" font-size="19" fill="#231815" text-anchor="middle">1</text>
<line x1="154.3" y1="484.5" x2="154.3" y2="481.5" stroke="#4a4040" stroke-width="1"/>
<text x="154.3" y="501.7" font-size="19" fill="#231815" text-anchor="middle">2</text>
<line x1="211.8" y1="484.5" x2="211.8" y2="481.5" stroke="#4a4040" stroke-width="1"/>
<text x="211.8" y="501.7" font-size="19" fill="#231815" text-anchor="middle">3</text>
<text x="154.2" y="522" font-size="17.8" fill="#231815" text-anchor="middle">LL (yrs)</text>
<text x="22.8" y="394.7" font-size="17.5" fill="#231815" text-anchor="middle" transform="rotate(-90 22.8 394.7)">Species evenness</text>
<text x="187" y="329" font-size="16" fill="#231815" text-anchor="start">n = 757</text>
<defs><linearGradient id="rdbu" x1="0" y1="0" x2="0" y2="1"><stop offset="0" stop-color="#6e1c28"/><stop offset="0.18" stop-color="#b2323c"/><stop offset="0.3" stop-color="#d05a4e"/><stop offset="0.42" stop-color="#eba88c"/><stop offset="0.52" stop-color="#f2e9e4"/><stop offset="0.62" stop-color="#d3e4ee"/><stop offset="0.76" stop-color="#86bddc"/><stop offset="0.88" stop-color="#4a8fc4"/><stop offset="1" stop-color="#2d5b94"/></linearGradient></defs>
<rect x="264.5" y="306" width="9.8" height="178.2" fill="url(#rdbu)" stroke="#4a4040" stroke-width="0.6"/>
<line x1="274.3" y1="306.3" x2="278" y2="306.3" stroke="#4a4040" stroke-width="0.8"/>
<line x1="274.3" y1="484" x2="278" y2="484" stroke="#4a4040" stroke-width="0.8"/>
<text x="284.5" y="310.5" font-size="11.5" fill="#231815" text-anchor="start">High</text>
<text x="284.5" y="489.5" font-size="11.5" fill="#231815" text-anchor="start">Low</text>
<text x="290.2" y="395.2" font-size="11.5" fill="#231815" text-anchor="middle" transform="rotate(-90 290.2 395.2)">Nitrogen content (%)</text>
<text x="327.3" y="395.3" font-size="12" fill="#231815" text-anchor="middle" transform="rotate(-90 327.3 395.3)">GPP (g C m<tspan font-size="8.5" dy="-4.5">−2</tspan><tspan dy="4.5"> yr</tspan><tspan font-size="8.5" dy="-4.5">−1</tspan><tspan dy="4.5">)</tspan></text>
<circle cx="309.6" cy="325.4" r="5.2" fill="none" stroke="#3a3030" stroke-width="0.7"/>
<circle cx="309.6" cy="340.3" r="4.6" fill="none" stroke="#3a3030" stroke-width="0.7"/>
<circle cx="309.6" cy="355.1" r="4.2" fill="none" stroke="#3a3030" stroke-width="0.7"/>
<circle cx="309.6" cy="370" r="3.7" fill="none" stroke="#3a3030" stroke-width="0.7"/>
<circle cx="309.6" cy="384.8" r="3.1" fill="none" stroke="#3a3030" stroke-width="0.7"/>
<circle cx="309.6" cy="400.2" r="2.1" fill="none" stroke="#3a3030" stroke-width="0.7"/>
<circle cx="309.6" cy="414.8" r="1.9" fill="none" stroke="#3a3030" stroke-width="0.7"/>
<circle cx="309.6" cy="429.5" r="1.4" fill="none" stroke="#3a3030" stroke-width="0.7"/>
<circle cx="309.6" cy="444.6" r="0.9" fill="#3a3030"/>
<circle cx="309.6" cy="459.2" r="0.6" fill="#3a3030"/>
<circle cx="309.6" cy="474.2" r="0.5" fill="#3a3030"/>
<circle cx="71.8" cy="385.0" r="2.8" fill="#98a1a7" stroke="#2a1a1a" stroke-opacity="0.8" stroke-width="0.6"/>
<circle cx="73.1" cy="388.0" r="2.8" fill="#98a1a7" stroke="#2a1a1a" stroke-opacity="0.8" stroke-width="0.6"/>
<circle cx="71.8" cy="391.0" r="3.2" fill="#98a1a7" stroke="#2a1a1a" stroke-opacity="0.8" stroke-width="0.6"/>
<circle cx="72.6" cy="394.0" r="3.2" fill="#98a1a7" stroke="#2a1a1a" stroke-opacity="0.8" stroke-width="0.6"/>
<circle cx="73.1" cy="397.0" r="2.8" fill="#98a1a7" stroke="#2a1a1a" stroke-opacity="0.8" stroke-width="0.6"/>
<circle cx="72.0" cy="400.0" r="3.2" fill="#98a1a7" stroke="#2a1a1a" stroke-opacity="0.8" stroke-width="0.6"/>
<circle cx="73.0" cy="403.0" r="3.2" fill="#98a1a7" stroke="#2a1a1a" stroke-opacity="0.8" stroke-width="0.6"/>
<circle cx="65.5" cy="392.6" r="3.2" fill="#98a1a7" stroke="#2a1a1a" stroke-opacity="0.8" stroke-width="0.6"/>
<circle cx="66.0" cy="398.0" r="2.8" fill="#98a1a7" stroke="#2a1a1a" stroke-opacity="0.8" stroke-width="0.6"/>
<circle cx="77.0" cy="386.5" r="1.8" fill="#98a1a7" stroke="#2a1a1a" stroke-opacity="0.8" stroke-width="0.6"/>
<circle cx="72.0" cy="420.0" r="3.3" fill="#98a1a7" stroke="#2a1a1a" stroke-opacity="0.8" stroke-width="0.6"/>
<circle cx="70.5" cy="409.0" r="0.9" fill="#555" stroke="#2a1a1a" stroke-opacity="0.8" stroke-width="0.6"/>
<circle cx="70.5" cy="412.0" r="0.9" fill="#555" stroke="#2a1a1a" stroke-opacity="0.8" stroke-width="0.6"/>
<circle cx="70.5" cy="416.0" r="0.9" fill="#555" stroke="#2a1a1a" stroke-opacity="0.8" stroke-width="0.6"/>
<circle cx="70.5" cy="426.0" r="0.9" fill="#555" stroke="#2a1a1a" stroke-opacity="0.8" stroke-width="0.6"/>
<circle cx="70.5" cy="429.6" r="0.9" fill="#555" stroke="#2a1a1a" stroke-opacity="0.8" stroke-width="0.6"/>
<circle cx="93.2" cy="327.8" r="1.8" fill="#6aa8d8" stroke="#2a1a1a" stroke-opacity="0.8" stroke-width="0.6"/>
<circle cx="92.4" cy="330.8" r="1.8" fill="#6aa8d8" stroke="#2a1a1a" stroke-opacity="0.8" stroke-width="0.6"/>
<circle cx="92.6" cy="333.8" r="1.8" fill="#c3dbea" stroke="#2a1a1a" stroke-opacity="0.8" stroke-width="0.6"/>
<circle cx="96.6" cy="327.0" r="1.8" fill="#c3dbea" stroke="#2a1a1a" stroke-opacity="0.8" stroke-width="0.6"/>
<circle cx="96.9" cy="330.0" r="1.8" fill="#c3dbea" stroke="#2a1a1a" stroke-opacity="0.8" stroke-width="0.6"/>
<circle cx="95.4" cy="333.0" r="1.8" fill="#c3dbea" stroke="#2a1a1a" stroke-opacity="0.8" stroke-width="0.6"/>
<circle cx="91.8" cy="341.0" r="1.8" fill="#6aa8d8" stroke="#2a1a1a" stroke-opacity="0.8" stroke-width="0.6"/>
<circle cx="91.8" cy="344.0" r="1.8" fill="#6aa8d8" stroke="#2a1a1a" stroke-opacity="0.8" stroke-width="0.6"/>
<circle cx="97.0" cy="343.0" r="1.8" fill="#98a1a7" stroke="#2a1a1a" stroke-opacity="0.8" stroke-width="0.6"/>
<circle cx="95.5" cy="345.5" r="1.8" fill="#98a1a7" stroke="#2a1a1a" stroke-opacity="0.8" stroke-width="0.6"/>
<circle cx="95.6" cy="348.0" r="1.8" fill="#98a1a7" stroke="#2a1a1a" stroke-opacity="0.8" stroke-width="0.6"/>
<circle cx="93.2" cy="355.3" r="3.6" fill="#f1b79b" stroke="#2a1a1a" stroke-opacity="0.8" stroke-width="0.6"/>
<circle cx="94.3" cy="357.9" r="3.5" fill="#f1b79b" stroke="#2a1a1a" stroke-opacity="0.8" stroke-width="0.6"/>
<circle cx="92.8" cy="360.1" r="3.2" fill="#f1b79b" stroke="#2a1a1a" stroke-opacity="0.8" stroke-width="0.6"/>
<circle cx="93.1" cy="364.2" r="3.1" fill="#e58f73" stroke="#2a1a1a" stroke-opacity="0.8" stroke-width="0.6"/>
<circle cx="94.1" cy="364.8" r="3.4" fill="#e58f73" stroke="#2a1a1a" stroke-opacity="0.8" stroke-width="0.6"/>
<circle cx="93.3" cy="365.2" r="3.3" fill="#f1b79b" stroke="#2a1a1a" stroke-opacity="0.8" stroke-width="0.6"/>
<circle cx="93.6" cy="365.8" r="3.4" fill="#f1b79b" stroke="#2a1a1a" stroke-opacity="0.8" stroke-width="0.6"/>
<circle cx="93.1" cy="366.5" r="3.5" fill="#f1b79b" stroke="#2a1a1a" stroke-opacity="0.8" stroke-width="0.6"/>
<circle cx="93.4" cy="367.2" r="3.0" fill="#f1b79b" stroke="#2a1a1a" stroke-opacity="0.8" stroke-width="0.6"/>
<circle cx="93.7" cy="368.5" r="3.5" fill="#f1b79b" stroke="#2a1a1a" stroke-opacity="0.8" stroke-width="0.6"/>
<circle cx="93.7" cy="370.6" r="3.1" fill="#e58f73" stroke="#2a1a1a" stroke-opacity="0.8" stroke-width="0.6"/>
<circle cx="94.1" cy="376.0" r="3.3" fill="#e58f73" stroke="#2a1a1a" stroke-opacity="0.8" stroke-width="0.6"/>
<circle cx="94.3" cy="377.3" r="3.3" fill="#e58f73" stroke="#2a1a1a" stroke-opacity="0.8" stroke-width="0.6"/>
<circle cx="93.7" cy="377.4" r="3.0" fill="#f1b79b" stroke="#2a1a1a" stroke-opacity="0.8" stroke-width="0.6"/>
<circle cx="93.1" cy="383.9" r="3.1" fill="#f1b79b" stroke="#2a1a1a" stroke-opacity="0.8" stroke-width="0.6"/>
<circle cx="93.1" cy="387.8" r="3.1" fill="#e58f73" stroke="#2a1a1a" stroke-opacity="0.8" stroke-width="0.6"/>
<circle cx="107.0" cy="353.7" r="2.8" fill="#f1b79b" stroke="#2a1a1a" stroke-opacity="0.8" stroke-width="0.6"/>
<circle cx="107.0" cy="354.4" r="2.8" fill="#e58f73" stroke="#2a1a1a" stroke-opacity="0.8" stroke-width="0.6"/>
<circle cx="107.3" cy="361.0" r="2.6" fill="#f1b79b" stroke="#2a1a1a" stroke-opacity="0.8" stroke-width="0.6"/>
<circle cx="107.0" cy="363.6" r="2.7" fill="#d3604f" stroke="#2a1a1a" stroke-opacity="0.8" stroke-width="0.6"/>
<circle cx="107.8" cy="370.4" r="2.5" fill="#e58f73" stroke="#2a1a1a" stroke-opacity="0.8" stroke-width="0.6"/>
<circle cx="107.8" cy="373.7" r="2.5" fill="#f1b79b" stroke="#2a1a1a" stroke-opacity="0.8" stroke-width="0.6"/>
<circle cx="107.4" cy="377.5" r="2.4" fill="#d3604f" stroke="#2a1a1a" stroke-opacity="0.8" stroke-width="0.6"/>
<circle cx="107.8" cy="379.2" r="2.7" fill="#e58f73" stroke="#2a1a1a" stroke-opacity="0.8" stroke-width="0.6"/>
<circle cx="106.3" cy="384.3" r="2.7" fill="#d3604f" stroke="#2a1a1a" stroke-opacity="0.8" stroke-width="0.6"/>
<circle cx="106.9" cy="391.8" r="2.3" fill="#f1b79b" stroke="#2a1a1a" stroke-opacity="0.8" stroke-width="0.6"/>
<circle cx="88.3" cy="411.0" r="3.4" fill="#e58f73" stroke="#2a1a1a" stroke-opacity="0.8" stroke-width="0.6"/>
<circle cx="92.0" cy="411.0" r="3.4" fill="#e58f73" stroke="#2a1a1a" stroke-opacity="0.8" stroke-width="0.6"/>
<circle cx="95.5" cy="411.0" r="3.4" fill="#e58f73" stroke="#2a1a1a" stroke-opacity="0.8" stroke-width="0.6"/>
<circle cx="98.8" cy="411.0" r="3.4" fill="#e58f73" stroke="#2a1a1a" stroke-opacity="0.8" stroke-width="0.6"/>
<circle cx="115.7" cy="347.5" r="2.3" fill="#ececec" stroke="#2a1a1a" stroke-opacity="0.8" stroke-width="0.6"/>
<circle cx="115.0" cy="348.6" r="2.3" fill="#ececec" stroke="#2a1a1a" stroke-opacity="0.8" stroke-width="0.6"/>
<circle cx="116.6" cy="348.9" r="2.4" fill="#f4dcd2" stroke="#2a1a1a" stroke-opacity="0.8" stroke-width="0.6"/>
<circle cx="115.1" cy="359.1" r="2.6" fill="#f4dcd2" stroke="#2a1a1a" stroke-opacity="0.8" stroke-width="0.6"/>
<circle cx="115.6" cy="363.7" r="2.2" fill="#ececec" stroke="#2a1a1a" stroke-opacity="0.8" stroke-width="0.6"/>
<circle cx="115.1" cy="364.5" r="2.3" fill="#f1b79b" stroke="#2a1a1a" stroke-opacity="0.8" stroke-width="0.6"/>
<circle cx="121.4" cy="322.4" r="2.3" fill="#e58f73" stroke="#2a1a1a" stroke-opacity="0.8" stroke-width="0.6"/>
<circle cx="121.0" cy="322.6" r="2.4" fill="#e58f73" stroke="#2a1a1a" stroke-opacity="0.8" stroke-width="0.6"/>
<circle cx="121.7" cy="324.7" r="2.4" fill="#8b1a2b" stroke="#2a1a1a" stroke-opacity="0.8" stroke-width="0.6"/>
<circle cx="121.2" cy="325.7" r="2.6" fill="#8b1a2b" stroke="#2a1a1a" stroke-opacity="0.8" stroke-width="0.6"/>
<circle cx="121.2" cy="326.9" r="2.4" fill="#d3604f" stroke="#2a1a1a" stroke-opacity="0.8" stroke-width="0.6"/>
<circle cx="121.2" cy="327.2" r="2.3" fill="#e58f73" stroke="#2a1a1a" stroke-opacity="0.8" stroke-width="0.6"/>
<circle cx="120.3" cy="329.8" r="2.4" fill="#8b1a2b" stroke="#2a1a1a" stroke-opacity="0.8" stroke-width="0.6"/>
<circle cx="121.3" cy="330.8" r="2.6" fill="#d3604f" stroke="#2a1a1a" stroke-opacity="0.8" stroke-width="0.6"/>
<circle cx="121.3" cy="332.6" r="2.4" fill="#e58f73" stroke="#2a1a1a" stroke-opacity="0.8" stroke-width="0.6"/>
<circle cx="120.9" cy="334.4" r="2.3" fill="#8b1a2b" stroke="#2a1a1a" stroke-opacity="0.8" stroke-width="0.6"/>
<circle cx="120.5" cy="337.7" r="2.8" fill="#e58f73" stroke="#2a1a1a" stroke-opacity="0.8" stroke-width="0.6"/>
<circle cx="120.2" cy="338.4" r="2.5" fill="#8b1a2b" stroke="#2a1a1a" stroke-opacity="0.8" stroke-width="0.6"/>
<circle cx="121.7" cy="339.6" r="2.5" fill="#d3604f" stroke="#2a1a1a" stroke-opacity="0.8" stroke-width="0.6"/>
<circle cx="120.8" cy="345.7" r="2.7" fill="#c0393f" stroke="#2a1a1a" stroke-opacity="0.8" stroke-width="0.6"/>
<circle cx="120.3" cy="349.1" r="2.3" fill="#8b1a2b" stroke="#2a1a1a" stroke-opacity="0.8" stroke-width="0.6"/>
<circle cx="120.6" cy="349.5" r="2.4" fill="#8b1a2b" stroke="#2a1a1a" stroke-opacity="0.8" stroke-width="0.6"/>
<circle cx="121.5" cy="351.8" r="2.5" fill="#8b1a2b" stroke="#2a1a1a" stroke-opacity="0.8" stroke-width="0.6"/>
<circle cx="121.3" cy="353.2" r="2.3" fill="#e58f73" stroke="#2a1a1a" stroke-opacity="0.8" stroke-width="0.6"/>
<circle cx="120.8" cy="353.3" r="2.3" fill="#e58f73" stroke="#2a1a1a" stroke-opacity="0.8" stroke-width="0.6"/>
<circle cx="121.3" cy="357.9" r="2.4" fill="#c0393f" stroke="#2a1a1a" stroke-opacity="0.8" stroke-width="0.6"/>
<circle cx="120.9" cy="360.5" r="2.4" fill="#8b1a2b" stroke="#2a1a1a" stroke-opacity="0.8" stroke-width="0.6"/>
<circle cx="121.5" cy="364.6" r="2.2" fill="#d3604f" stroke="#2a1a1a" stroke-opacity="0.8" stroke-width="0.6"/>
<circle cx="121.5" cy="368.0" r="2.3" fill="#c0393f" stroke="#2a1a1a" stroke-opacity="0.8" stroke-width="0.6"/>
<circle cx="121.3" cy="369.1" r="2.7" fill="#d3604f" stroke="#2a1a1a" stroke-opacity="0.8" stroke-width="0.6"/>
<circle cx="120.6" cy="379.7" r="2.2" fill="#e58f73" stroke="#2a1a1a" stroke-opacity="0.8" stroke-width="0.6"/>
<circle cx="121.8" cy="381.4" r="2.6" fill="#d3604f" stroke="#2a1a1a" stroke-opacity="0.8" stroke-width="0.6"/>
<circle cx="121.7" cy="381.5" r="2.7" fill="#8b1a2b" stroke="#2a1a1a" stroke-opacity="0.8" stroke-width="0.6"/>
<circle cx="120.6" cy="381.6" r="2.2" fill="#d3604f" stroke="#2a1a1a" stroke-opacity="0.8" stroke-width="0.6"/>
<circle cx="121.2" cy="383.8" r="2.3" fill="#d3604f" stroke="#2a1a1a" stroke-opacity="0.8" stroke-width="0.6"/>
<circle cx="120.9" cy="384.4" r="2.4" fill="#d3604f" stroke="#2a1a1a" stroke-opacity="0.8" stroke-width="0.6"/>
<circle cx="121.5" cy="385.2" r="2.5" fill="#8b1a2b" stroke="#2a1a1a" stroke-opacity="0.8" stroke-width="0.6"/>
<circle cx="121.5" cy="387.9" r="2.6" fill="#8b1a2b" stroke="#2a1a1a" stroke-opacity="0.8" stroke-width="0.6"/>
<circle cx="121.1" cy="390.9" r="2.6" fill="#8b1a2b" stroke="#2a1a1a" stroke-opacity="0.8" stroke-width="0.6"/>
<circle cx="121.7" cy="391.1" r="2.4" fill="#8b1a2b" stroke="#2a1a1a" stroke-opacity="0.8" stroke-width="0.6"/>
<circle cx="121.4" cy="395.9" r="2.6" fill="#d3604f" stroke="#2a1a1a" stroke-opacity="0.8" stroke-width="0.6"/>
<circle cx="121.0" cy="396.0" r="2.7" fill="#8b1a2b" stroke="#2a1a1a" stroke-opacity="0.8" stroke-width="0.6"/>
<circle cx="120.4" cy="396.1" r="2.5" fill="#d3604f" stroke="#2a1a1a" stroke-opacity="0.8" stroke-width="0.6"/>
<circle cx="120.7" cy="397.9" r="2.4" fill="#d3604f" stroke="#2a1a1a" stroke-opacity="0.8" stroke-width="0.6"/>
<circle cx="120.8" cy="399.6" r="2.3" fill="#e58f73" stroke="#2a1a1a" stroke-opacity="0.8" stroke-width="0.6"/>
<circle cx="121.1" cy="399.8" r="2.4" fill="#c0393f" stroke="#2a1a1a" stroke-opacity="0.8" stroke-width="0.6"/>
<circle cx="121.2" cy="402.3" r="2.2" fill="#8b1a2b" stroke="#2a1a1a" stroke-opacity="0.8" stroke-width="0.6"/>
<circle cx="121.6" cy="402.6" r="2.5" fill="#c0393f" stroke="#2a1a1a" stroke-opacity="0.8" stroke-width="0.6"/>
<circle cx="120.9" cy="403.8" r="2.4" fill="#e58f73" stroke="#2a1a1a" stroke-opacity="0.8" stroke-width="0.6"/>
<circle cx="120.9" cy="406.5" r="2.5" fill="#c0393f" stroke="#2a1a1a" stroke-opacity="0.8" stroke-width="0.6"/>
<circle cx="120.3" cy="407.5" r="2.4" fill="#8b1a2b" stroke="#2a1a1a" stroke-opacity="0.8" stroke-width="0.6"/>
<circle cx="120.7" cy="408.6" r="2.4" fill="#8b1a2b" stroke="#2a1a1a" stroke-opacity="0.8" stroke-width="0.6"/>
<circle cx="120.5" cy="408.9" r="2.2" fill="#e58f73" stroke="#2a1a1a" stroke-opacity="0.8" stroke-width="0.6"/>
<circle cx="120.8" cy="410.3" r="2.6" fill="#c0393f" stroke="#2a1a1a" stroke-opacity="0.8" stroke-width="0.6"/>
<circle cx="120.8" cy="410.6" r="2.4" fill="#8b1a2b" stroke="#2a1a1a" stroke-opacity="0.8" stroke-width="0.6"/>
<circle cx="121.0" cy="416.1" r="2.5" fill="#d3604f" stroke="#2a1a1a" stroke-opacity="0.8" stroke-width="0.6"/>
<circle cx="120.4" cy="417.0" r="2.5" fill="#c0393f" stroke="#2a1a1a" stroke-opacity="0.8" stroke-width="0.6"/>
<circle cx="120.3" cy="417.8" r="2.7" fill="#e58f73" stroke="#2a1a1a" stroke-opacity="0.8" stroke-width="0.6"/>
<circle cx="120.8" cy="419.5" r="2.5" fill="#d3604f" stroke="#2a1a1a" stroke-opacity="0.8" stroke-width="0.6"/>
<circle cx="121.6" cy="420.5" r="2.7" fill="#8b1a2b" stroke="#2a1a1a" stroke-opacity="0.8" stroke-width="0.6"/>
<circle cx="120.4" cy="420.6" r="2.5" fill="#e58f73" stroke="#2a1a1a" stroke-opacity="0.8" stroke-width="0.6"/>
<circle cx="121.7" cy="420.6" r="2.5" fill="#8b1a2b" stroke="#2a1a1a" stroke-opacity="0.8" stroke-width="0.6"/>
<circle cx="120.8" cy="425.7" r="2.8" fill="#8b1a2b" stroke="#2a1a1a" stroke-opacity="0.8" stroke-width="0.6"/>
<circle cx="121.6" cy="427.2" r="2.8" fill="#c0393f" stroke="#2a1a1a" stroke-opacity="0.8" stroke-width="0.6"/>
<circle cx="121.5" cy="427.4" r="2.3" fill="#c0393f" stroke="#2a1a1a" stroke-opacity="0.8" stroke-width="0.6"/>
<circle cx="121.0" cy="438.2" r="2.6" fill="#e58f73" stroke="#2a1a1a" stroke-opacity="0.8" stroke-width="0.6"/>
<circle cx="126.1" cy="322.1" r="2.2" fill="#c0393f" stroke="#2a1a1a" stroke-opacity="0.8" stroke-width="0.6"/>
<circle cx="126.3" cy="322.1" r="2.4" fill="#d3604f" stroke="#2a1a1a" stroke-opacity="0.8" stroke-width="0.6"/>
<circle cx="125.1" cy="322.7" r="2.3" fill="#f1b79b" stroke="#2a1a1a" stroke-opacity="0.8" stroke-width="0.6"/>
<circle cx="124.9" cy="325.2" r="2.5" fill="#d3604f" stroke="#2a1a1a" stroke-opacity="0.8" stroke-width="0.6"/>
<circle cx="126.1" cy="326.1" r="2.4" fill="#e58f73" stroke="#2a1a1a" stroke-opacity="0.8" stroke-width="0.6"/>
<circle cx="126.2" cy="328.0" r="2.3" fill="#c0393f" stroke="#2a1a1a" stroke-opacity="0.8" stroke-width="0.6"/>
<circle cx="124.8" cy="330.8" r="2.2" fill="#d3604f" stroke="#2a1a1a" stroke-opacity="0.8" stroke-width="0.6"/>
<circle cx="125.4" cy="331.2" r="2.6" fill="#d3604f" stroke="#2a1a1a" stroke-opacity="0.8" stroke-width="0.6"/>
<circle cx="125.3" cy="332.7" r="2.6" fill="#f1b79b" stroke="#2a1a1a" stroke-opacity="0.8" stroke-width="0.6"/>
<circle cx="125.9" cy="335.6" r="2.7" fill="#d3604f" stroke="#2a1a1a" stroke-opacity="0.8" stroke-width="0.6"/>
<circle cx="125.2" cy="342.7" r="2.3" fill="#c0393f" stroke="#2a1a1a" stroke-opacity="0.8" stroke-width="0.6"/>
<circle cx="124.8" cy="343.0" r="2.5" fill="#c0393f" stroke="#2a1a1a" stroke-opacity="0.8" stroke-width="0.6"/>
<circle cx="126.0" cy="346.6" r="2.7" fill="#c0393f" stroke="#2a1a1a" stroke-opacity="0.8" stroke-width="0.6"/>
<circle cx="125.0" cy="348.2" r="2.2" fill="#f1b79b" stroke="#2a1a1a" stroke-opacity="0.8" stroke-width="0.6"/>
<circle cx="124.8" cy="350.2" r="2.4" fill="#e58f73" stroke="#2a1a1a" stroke-opacity="0.8" stroke-width="0.6"/>
<circle cx="125.6" cy="352.1" r="2.6" fill="#c0393f" stroke="#2a1a1a" stroke-opacity="0.8" stroke-width="0.6"/>
<circle cx="125.3" cy="353.5" r="2.6" fill="#c0393f" stroke="#2a1a1a" stroke-opacity="0.8" stroke-width="0.6"/>
<circle cx="124.8" cy="354.4" r="2.6" fill="#d3604f" stroke="#2a1a1a" stroke-opacity="0.8" stroke-width="0.6"/>
<circle cx="125.3" cy="356.2" r="2.7" fill="#d3604f" stroke="#2a1a1a" stroke-opacity="0.8" stroke-width="0.6"/>
<circle cx="125.2" cy="361.1" r="2.6" fill="#c0393f" stroke="#2a1a1a" stroke-opacity="0.8" stroke-width="0.6"/>
<circle cx="124.7" cy="362.0" r="2.4" fill="#c0393f" stroke="#2a1a1a" stroke-opacity="0.8" stroke-width="0.6"/>
<circle cx="124.8" cy="364.8" r="2.2" fill="#e58f73" stroke="#2a1a1a" stroke-opacity="0.8" stroke-width="0.6"/>
<circle cx="126.0" cy="366.5" r="2.2" fill="#d3604f" stroke="#2a1a1a" stroke-opacity="0.8" stroke-width="0.6"/>
<circle cx="125.9" cy="367.8" r="2.6" fill="#f1b79b" stroke="#2a1a1a" stroke-opacity="0.8" stroke-width="0.6"/>
<circle cx="125.3" cy="369.2" r="2.4" fill="#e58f73" stroke="#2a1a1a" stroke-opacity="0.8" stroke-width="0.6"/>
<circle cx="125.1" cy="375.2" r="2.6" fill="#f1b79b" stroke="#2a1a1a" stroke-opacity="0.8" stroke-width="0.6"/>
<circle cx="126.2" cy="378.8" r="2.3" fill="#e58f73" stroke="#2a1a1a" stroke-opacity="0.8" stroke-width="0.6"/>
<circle cx="124.7" cy="379.1" r="2.3" fill="#c0393f" stroke="#2a1a1a" stroke-opacity="0.8" stroke-width="0.6"/>
<circle cx="125.8" cy="380.0" r="2.4" fill="#c0393f" stroke="#2a1a1a" stroke-opacity="0.8" stroke-width="0.6"/>
<circle cx="126.0" cy="381.1" r="2.7" fill="#c0393f" stroke="#2a1a1a" stroke-opacity="0.8" stroke-width="0.6"/>
<circle cx="124.9" cy="383.5" r="2.4" fill="#e58f73" stroke="#2a1a1a" stroke-opacity="0.8" stroke-width="0.6"/>
<circle cx="126.0" cy="389.7" r="2.6" fill="#d3604f" stroke="#2a1a1a" stroke-opacity="0.8" stroke-width="0.6"/>
<circle cx="125.7" cy="391.9" r="2.4" fill="#f1b79b" stroke="#2a1a1a" stroke-opacity="0.8" stroke-width="0.6"/>
<circle cx="125.4" cy="392.2" r="2.6" fill="#e58f73" stroke="#2a1a1a" stroke-opacity="0.8" stroke-width="0.6"/>
<circle cx="125.5" cy="397.1" r="2.4" fill="#d3604f" stroke="#2a1a1a" stroke-opacity="0.8" stroke-width="0.6"/>
<circle cx="125.1" cy="399.2" r="2.2" fill="#e58f73" stroke="#2a1a1a" stroke-opacity="0.8" stroke-width="0.6"/>
<circle cx="125.5" cy="399.6" r="2.5" fill="#d3604f" stroke="#2a1a1a" stroke-opacity="0.8" stroke-width="0.6"/>
<circle cx="126.3" cy="404.5" r="2.6" fill="#e58f73" stroke="#2a1a1a" stroke-opacity="0.8" stroke-width="0.6"/>
<circle cx="125.1" cy="405.9" r="2.2" fill="#e58f73" stroke="#2a1a1a" stroke-opacity="0.8" stroke-width="0.6"/>
<circle cx="125.4" cy="407.4" r="2.7" fill="#c0393f" stroke="#2a1a1a" stroke-opacity="0.8" stroke-width="0.6"/>
<circle cx="125.0" cy="412.7" r="2.3" fill="#c0393f" stroke="#2a1a1a" stroke-opacity="0.8" stroke-width="0.6"/>
<circle cx="125.7" cy="417.6" r="2.5" fill="#e58f73" stroke="#2a1a1a" stroke-opacity="0.8" stroke-width="0.6"/>
<circle cx="125.9" cy="423.9" r="2.3" fill="#f1b79b" stroke="#2a1a1a" stroke-opacity="0.8" stroke-width="0.6"/>
<circle cx="125.6" cy="425.9" r="2.4" fill="#f1b79b" stroke="#2a1a1a" stroke-opacity="0.8" stroke-width="0.6"/>
<circle cx="125.0" cy="429.6" r="2.3" fill="#d3604f" stroke="#2a1a1a" stroke-opacity="0.8" stroke-width="0.6"/>
<circle cx="132.0" cy="335.5" r="3.3" fill="#f4dcd2" stroke="#2a1a1a" stroke-opacity="0.8" stroke-width="0.6"/>
<circle cx="131.8" cy="335.7" r="2.9" fill="#e58f73" stroke="#2a1a1a" stroke-opacity="0.8" stroke-width="0.6"/>
<circle cx="130.8" cy="338.9" r="2.8" fill="#f4dcd2" stroke="#2a1a1a" stroke-opacity="0.8" stroke-width="0.6"/>
<circle cx="131.6" cy="338.9" r="2.8" fill="#c0393f" stroke="#2a1a1a" stroke-opacity="0.8" stroke-width="0.6"/>
<circle cx="132.0" cy="339.0" r="3.2" fill="#d3604f" stroke="#2a1a1a" stroke-opacity="0.8" stroke-width="0.6"/>
<circle cx="131.7" cy="339.6" r="2.9" fill="#d3604f" stroke="#2a1a1a" stroke-opacity="0.8" stroke-width="0.6"/>
<circle cx="131.3" cy="340.3" r="3.0" fill="#e58f73" stroke="#2a1a1a" stroke-opacity="0.8" stroke-width="0.6"/>
<circle cx="131.8" cy="341.8" r="3.1" fill="#c0393f" stroke="#2a1a1a" stroke-opacity="0.8" stroke-width="0.6"/>
<circle cx="131.2" cy="342.9" r="3.1" fill="#e58f73" stroke="#2a1a1a" stroke-opacity="0.8" stroke-width="0.6"/>
<circle cx="131.4" cy="345.6" r="2.8" fill="#e58f73" stroke="#2a1a1a" stroke-opacity="0.8" stroke-width="0.6"/>
<circle cx="131.7" cy="353.7" r="3.0" fill="#f4dcd2" stroke="#2a1a1a" stroke-opacity="0.8" stroke-width="0.6"/>
<circle cx="131.0" cy="354.8" r="2.8" fill="#d3604f" stroke="#2a1a1a" stroke-opacity="0.8" stroke-width="0.6"/>
<circle cx="131.4" cy="355.4" r="3.3" fill="#f4dcd2" stroke="#2a1a1a" stroke-opacity="0.8" stroke-width="0.6"/>
<circle cx="131.6" cy="359.3" r="3.0" fill="#d3604f" stroke="#2a1a1a" stroke-opacity="0.8" stroke-width="0.6"/>
<circle cx="130.9" cy="359.5" r="2.8" fill="#d3604f" stroke="#2a1a1a" stroke-opacity="0.8" stroke-width="0.6"/>
<circle cx="131.7" cy="359.7" r="3.3" fill="#c0393f" stroke="#2a1a1a" stroke-opacity="0.8" stroke-width="0.6"/>
<circle cx="131.6" cy="360.8" r="3.4" fill="#c0393f" stroke="#2a1a1a" stroke-opacity="0.8" stroke-width="0.6"/>
<circle cx="131.0" cy="361.4" r="3.0" fill="#d3604f" stroke="#2a1a1a" stroke-opacity="0.8" stroke-width="0.6"/>
<circle cx="131.5" cy="364.5" r="3.4" fill="#c0393f" stroke="#2a1a1a" stroke-opacity="0.8" stroke-width="0.6"/>
<circle cx="131.3" cy="370.7" r="3.3" fill="#d3604f" stroke="#2a1a1a" stroke-opacity="0.8" stroke-width="0.6"/>
<circle cx="131.2" cy="371.7" r="3.3" fill="#c0393f" stroke="#2a1a1a" stroke-opacity="0.8" stroke-width="0.6"/>
<circle cx="132.3" cy="374.3" r="3.1" fill="#c0393f" stroke="#2a1a1a" stroke-opacity="0.8" stroke-width="0.6"/>
<circle cx="131.7" cy="382.1" r="3.2" fill="#c0393f" stroke="#2a1a1a" stroke-opacity="0.8" stroke-width="0.6"/>
<circle cx="132.1" cy="383.7" r="3.2" fill="#d3604f" stroke="#2a1a1a" stroke-opacity="0.8" stroke-width="0.6"/>
<circle cx="131.7" cy="388.8" r="3.3" fill="#c0393f" stroke="#2a1a1a" stroke-opacity="0.8" stroke-width="0.6"/>
<circle cx="131.3" cy="390.3" r="3.3" fill="#f4dcd2" stroke="#2a1a1a" stroke-opacity="0.8" stroke-width="0.6"/>
<circle cx="131.0" cy="398.1" r="2.9" fill="#f4dcd2" stroke="#2a1a1a" stroke-opacity="0.8" stroke-width="0.6"/>
<circle cx="132.2" cy="398.3" r="2.9" fill="#e58f73" stroke="#2a1a1a" stroke-opacity="0.8" stroke-width="0.6"/>
<circle cx="130.9" cy="401.9" r="2.9" fill="#d3604f" stroke="#2a1a1a" stroke-opacity="0.8" stroke-width="0.6"/>
<circle cx="130.8" cy="403.2" r="3.1" fill="#c0393f" stroke="#2a1a1a" stroke-opacity="0.8" stroke-width="0.6"/>
<circle cx="131.8" cy="404.8" r="3.0" fill="#f4dcd2" stroke="#2a1a1a" stroke-opacity="0.8" stroke-width="0.6"/>
<circle cx="131.7" cy="409.5" r="3.1" fill="#e58f73" stroke="#2a1a1a" stroke-opacity="0.8" stroke-width="0.6"/>
<circle cx="131.7" cy="411.9" r="3.0" fill="#d3604f" stroke="#2a1a1a" stroke-opacity="0.8" stroke-width="0.6"/>
<circle cx="131.4" cy="416.4" r="3.2" fill="#f4dcd2" stroke="#2a1a1a" stroke-opacity="0.8" stroke-width="0.6"/>
<circle cx="131.5" cy="421.9" r="2.9" fill="#c0393f" stroke="#2a1a1a" stroke-opacity="0.8" stroke-width="0.6"/>
<circle cx="131.7" cy="427.1" r="3.1" fill="#d3604f" stroke="#2a1a1a" stroke-opacity="0.8" stroke-width="0.6"/>
<circle cx="131.4" cy="427.7" r="3.2" fill="#f4dcd2" stroke="#2a1a1a" stroke-opacity="0.8" stroke-width="0.6"/>
<circle cx="132.0" cy="430.3" r="3.3" fill="#f4dcd2" stroke="#2a1a1a" stroke-opacity="0.8" stroke-width="0.6"/>
<circle cx="130.9" cy="431.0" r="2.9" fill="#f4dcd2" stroke="#2a1a1a" stroke-opacity="0.8" stroke-width="0.6"/>
<circle cx="131.3" cy="440.0" r="3.3" fill="#c0393f" stroke="#2a1a1a" stroke-opacity="0.8" stroke-width="0.6"/>
<circle cx="137.0" cy="336.4" r="3.0" fill="#c0393f" stroke="#2a1a1a" stroke-opacity="0.8" stroke-width="0.6"/>
<circle cx="136.5" cy="337.9" r="3.0" fill="#f1b79b" stroke="#2a1a1a" stroke-opacity="0.8" stroke-width="0.6"/>
<circle cx="137.7" cy="339.1" r="3.2" fill="#ececec" stroke="#2a1a1a" stroke-opacity="0.8" stroke-width="0.6"/>
<circle cx="136.5" cy="340.9" r="3.3" fill="#c0393f" stroke="#2a1a1a" stroke-opacity="0.8" stroke-width="0.6"/>
<circle cx="137.4" cy="346.7" r="2.8" fill="#f4dcd2" stroke="#2a1a1a" stroke-opacity="0.8" stroke-width="0.6"/>
<circle cx="137.7" cy="347.5" r="3.1" fill="#d3604f" stroke="#2a1a1a" stroke-opacity="0.8" stroke-width="0.6"/>
<circle cx="137.1" cy="349.1" r="3.3" fill="#c0393f" stroke="#2a1a1a" stroke-opacity="0.8" stroke-width="0.6"/>
<circle cx="136.6" cy="349.8" r="3.1" fill="#ececec" stroke="#2a1a1a" stroke-opacity="0.8" stroke-width="0.6"/>
<circle cx="137.4" cy="352.9" r="3.0" fill="#ececec" stroke="#2a1a1a" stroke-opacity="0.8" stroke-width="0.6"/>
<circle cx="137.8" cy="354.5" r="3.1" fill="#f4dcd2" stroke="#2a1a1a" stroke-opacity="0.8" stroke-width="0.6"/>
<circle cx="136.7" cy="360.4" r="2.8" fill="#e58f73" stroke="#2a1a1a" stroke-opacity="0.8" stroke-width="0.6"/>
<circle cx="136.5" cy="361.7" r="3.2" fill="#c0393f" stroke="#2a1a1a" stroke-opacity="0.8" stroke-width="0.6"/>
<circle cx="136.7" cy="369.9" r="3.1" fill="#f4dcd2" stroke="#2a1a1a" stroke-opacity="0.8" stroke-width="0.6"/>
<circle cx="137.2" cy="372.8" r="3.4" fill="#d3604f" stroke="#2a1a1a" stroke-opacity="0.8" stroke-width="0.6"/>
<circle cx="137.7" cy="385.1" r="3.3" fill="#f1b79b" stroke="#2a1a1a" stroke-opacity="0.8" stroke-width="0.6"/>
<circle cx="136.2" cy="386.2" r="2.8" fill="#e58f73" stroke="#2a1a1a" stroke-opacity="0.8" stroke-width="0.6"/>
<circle cx="136.7" cy="386.4" r="3.2" fill="#ececec" stroke="#2a1a1a" stroke-opacity="0.8" stroke-width="0.6"/>
<circle cx="137.0" cy="387.1" r="3.3" fill="#e58f73" stroke="#2a1a1a" stroke-opacity="0.8" stroke-width="0.6"/>
<circle cx="137.0" cy="387.2" r="3.2" fill="#c0393f" stroke="#2a1a1a" stroke-opacity="0.8" stroke-width="0.6"/>
<circle cx="136.2" cy="400.7" r="2.8" fill="#f4dcd2" stroke="#2a1a1a" stroke-opacity="0.8" stroke-width="0.6"/>
<circle cx="136.7" cy="411.1" r="3.1" fill="#d3604f" stroke="#2a1a1a" stroke-opacity="0.8" stroke-width="0.6"/>
<circle cx="136.6" cy="411.2" r="3.2" fill="#d3604f" stroke="#2a1a1a" stroke-opacity="0.8" stroke-width="0.6"/>
<circle cx="136.4" cy="413.7" r="3.0" fill="#ececec" stroke="#2a1a1a" stroke-opacity="0.8" stroke-width="0.6"/>
<circle cx="136.5" cy="416.0" r="2.8" fill="#e58f73" stroke="#2a1a1a" stroke-opacity="0.8" stroke-width="0.6"/>
<circle cx="137.3" cy="417.1" r="3.1" fill="#c0393f" stroke="#2a1a1a" stroke-opacity="0.8" stroke-width="0.6"/>
<circle cx="137.2" cy="420.0" r="3.3" fill="#f4dcd2" stroke="#2a1a1a" stroke-opacity="0.8" stroke-width="0.6"/>
<circle cx="136.8" cy="420.1" r="3.0" fill="#c0393f" stroke="#2a1a1a" stroke-opacity="0.8" stroke-width="0.6"/>
<circle cx="136.3" cy="424.6" r="3.3" fill="#f4dcd2" stroke="#2a1a1a" stroke-opacity="0.8" stroke-width="0.6"/>
<circle cx="137.2" cy="428.8" r="3.1" fill="#d3604f" stroke="#2a1a1a" stroke-opacity="0.8" stroke-width="0.6"/>
<circle cx="137.7" cy="430.9" r="3.2" fill="#e58f73" stroke="#2a1a1a" stroke-opacity="0.8" stroke-width="0.6"/>
<circle cx="136.5" cy="431.4" r="2.8" fill="#c0393f" stroke="#2a1a1a" stroke-opacity="0.8" stroke-width="0.6"/>
<circle cx="137.1" cy="432.5" r="3.0" fill="#e58f73" stroke="#2a1a1a" stroke-opacity="0.8" stroke-width="0.6"/>
<circle cx="136.5" cy="434.7" r="3.3" fill="#c0393f" stroke="#2a1a1a" stroke-opacity="0.8" stroke-width="0.6"/>
<circle cx="136.2" cy="435.3" r="3.1" fill="#e58f73" stroke="#2a1a1a" stroke-opacity="0.8" stroke-width="0.6"/>
<circle cx="136.4" cy="438.0" r="2.9" fill="#d3604f" stroke="#2a1a1a" stroke-opacity="0.8" stroke-width="0.6"/>
<circle cx="137.2" cy="439.6" r="3.2" fill="#ececec" stroke="#2a1a1a" stroke-opacity="0.8" stroke-width="0.6"/>
<circle cx="143.0" cy="326.7" r="3.8" fill="#d3604f" stroke="#2a1a1a" stroke-opacity="0.8" stroke-width="0.6"/>
<circle cx="142.1" cy="327.6" r="3.4" fill="#c0393f" stroke="#2a1a1a" stroke-opacity="0.8" stroke-width="0.6"/>
<circle cx="142.4" cy="330.0" r="3.7" fill="#e58f73" stroke="#2a1a1a" stroke-opacity="0.8" stroke-width="0.6"/>
<circle cx="142.6" cy="331.0" r="3.5" fill="#c0393f" stroke="#2a1a1a" stroke-opacity="0.8" stroke-width="0.6"/>
<circle cx="143.2" cy="336.9" r="3.5" fill="#c0393f" stroke="#2a1a1a" stroke-opacity="0.8" stroke-width="0.6"/>
<circle cx="142.7" cy="344.2" r="3.4" fill="#c0393f" stroke="#2a1a1a" stroke-opacity="0.8" stroke-width="0.6"/>
<circle cx="142.4" cy="348.6" r="3.6" fill="#c0393f" stroke="#2a1a1a" stroke-opacity="0.8" stroke-width="0.6"/>
<circle cx="142.0" cy="349.5" r="3.2" fill="#c0393f" stroke="#2a1a1a" stroke-opacity="0.8" stroke-width="0.6"/>
<circle cx="142.8" cy="350.2" r="3.3" fill="#c0393f" stroke="#2a1a1a" stroke-opacity="0.8" stroke-width="0.6"/>
<circle cx="142.9" cy="350.6" r="3.2" fill="#c0393f" stroke="#2a1a1a" stroke-opacity="0.8" stroke-width="0.6"/>
<circle cx="142.9" cy="353.1" r="3.6" fill="#c0393f" stroke="#2a1a1a" stroke-opacity="0.8" stroke-width="0.6"/>
<circle cx="143.0" cy="353.6" r="3.2" fill="#d3604f" stroke="#2a1a1a" stroke-opacity="0.8" stroke-width="0.6"/>
<circle cx="142.1" cy="353.7" r="3.8" fill="#c0393f" stroke="#2a1a1a" stroke-opacity="0.8" stroke-width="0.6"/>
<circle cx="143.2" cy="357.2" r="3.7" fill="#e58f73" stroke="#2a1a1a" stroke-opacity="0.8" stroke-width="0.6"/>
<circle cx="142.0" cy="358.2" r="3.3" fill="#c0393f" stroke="#2a1a1a" stroke-opacity="0.8" stroke-width="0.6"/>
<circle cx="141.9" cy="360.9" r="3.8" fill="#c0393f" stroke="#2a1a1a" stroke-opacity="0.8" stroke-width="0.6"/>
<circle cx="143.1" cy="371.3" r="3.6" fill="#d3604f" stroke="#2a1a1a" stroke-opacity="0.8" stroke-width="0.6"/>
<circle cx="142.6" cy="373.1" r="3.3" fill="#c0393f" stroke="#2a1a1a" stroke-opacity="0.8" stroke-width="0.6"/>
<circle cx="142.3" cy="374.4" r="3.4" fill="#d3604f" stroke="#2a1a1a" stroke-opacity="0.8" stroke-width="0.6"/>
<circle cx="141.8" cy="380.4" r="3.4" fill="#d3604f" stroke="#2a1a1a" stroke-opacity="0.8" stroke-width="0.6"/>
<circle cx="141.9" cy="383.6" r="3.7" fill="#d3604f" stroke="#2a1a1a" stroke-opacity="0.8" stroke-width="0.6"/>
<circle cx="143.0" cy="392.8" r="3.6" fill="#e58f73" stroke="#2a1a1a" stroke-opacity="0.8" stroke-width="0.6"/>
<circle cx="143.2" cy="398.3" r="3.6" fill="#c0393f" stroke="#2a1a1a" stroke-opacity="0.8" stroke-width="0.6"/>
<circle cx="143.1" cy="400.0" r="3.2" fill="#c0393f" stroke="#2a1a1a" stroke-opacity="0.8" stroke-width="0.6"/>
<circle cx="142.4" cy="400.4" r="3.6" fill="#c0393f" stroke="#2a1a1a" stroke-opacity="0.8" stroke-width="0.6"/>
<circle cx="142.9" cy="403.1" r="3.7" fill="#d3604f" stroke="#2a1a1a" stroke-opacity="0.8" stroke-width="0.6"/>
<circle cx="142.1" cy="403.5" r="3.2" fill="#c0393f" stroke="#2a1a1a" stroke-opacity="0.8" stroke-width="0.6"/>
<circle cx="142.3" cy="404.0" r="3.7" fill="#c0393f" stroke="#2a1a1a" stroke-opacity="0.8" stroke-width="0.6"/>
<circle cx="141.8" cy="407.4" r="3.5" fill="#e58f73" stroke="#2a1a1a" stroke-opacity="0.8" stroke-width="0.6"/>
<circle cx="142.9" cy="408.0" r="3.7" fill="#e58f73" stroke="#2a1a1a" stroke-opacity="0.8" stroke-width="0.6"/>
<circle cx="142.7" cy="410.6" r="3.8" fill="#d3604f" stroke="#2a1a1a" stroke-opacity="0.8" stroke-width="0.6"/>
<circle cx="142.7" cy="413.8" r="3.3" fill="#c0393f" stroke="#2a1a1a" stroke-opacity="0.8" stroke-width="0.6"/>
<circle cx="143.3" cy="413.9" r="3.3" fill="#c0393f" stroke="#2a1a1a" stroke-opacity="0.8" stroke-width="0.6"/>
<circle cx="142.0" cy="417.5" r="3.6" fill="#c0393f" stroke="#2a1a1a" stroke-opacity="0.8" stroke-width="0.6"/>
<circle cx="142.6" cy="418.5" r="3.8" fill="#c0393f" stroke="#2a1a1a" stroke-opacity="0.8" stroke-width="0.6"/>
<circle cx="142.8" cy="426.4" r="3.4" fill="#e58f73" stroke="#2a1a1a" stroke-opacity="0.8" stroke-width="0.6"/>
<circle cx="148.6" cy="338.8" r="3.3" fill="#e58f73" stroke="#2a1a1a" stroke-opacity="0.8" stroke-width="0.6"/>
<circle cx="148.9" cy="346.7" r="3.6" fill="#98a1a7" stroke="#2a1a1a" stroke-opacity="0.8" stroke-width="0.6"/>
<circle cx="149.0" cy="350.4" r="3.3" fill="#98a1a7" stroke="#2a1a1a" stroke-opacity="0.8" stroke-width="0.6"/>
<circle cx="148.4" cy="361.5" r="3.3" fill="#98a1a7" stroke="#2a1a1a" stroke-opacity="0.8" stroke-width="0.6"/>
<circle cx="149.4" cy="363.2" r="3.4" fill="#e58f73" stroke="#2a1a1a" stroke-opacity="0.8" stroke-width="0.6"/>
<circle cx="148.5" cy="367.2" r="3.3" fill="#98a1a7" stroke="#2a1a1a" stroke-opacity="0.8" stroke-width="0.6"/>
<circle cx="148.6" cy="371.5" r="3.6" fill="#98a1a7" stroke="#2a1a1a" stroke-opacity="0.8" stroke-width="0.6"/>
<circle cx="148.5" cy="372.0" r="3.5" fill="#98a1a7" stroke="#2a1a1a" stroke-opacity="0.8" stroke-width="0.6"/>
<circle cx="148.8" cy="373.8" r="3.6" fill="#e58f73" stroke="#2a1a1a" stroke-opacity="0.8" stroke-width="0.6"/>
<circle cx="149.4" cy="374.9" r="3.4" fill="#98a1a7" stroke="#2a1a1a" stroke-opacity="0.8" stroke-width="0.6"/>
<circle cx="148.4" cy="379.8" r="3.6" fill="#e58f73" stroke="#2a1a1a" stroke-opacity="0.8" stroke-width="0.6"/>
<circle cx="148.5" cy="381.8" r="3.4" fill="#98a1a7" stroke="#2a1a1a" stroke-opacity="0.8" stroke-width="0.6"/>
<circle cx="148.2" cy="382.5" r="3.5" fill="#d3604f" stroke="#2a1a1a" stroke-opacity="0.8" stroke-width="0.6"/>
<circle cx="149.3" cy="384.9" r="3.4" fill="#e58f73" stroke="#2a1a1a" stroke-opacity="0.8" stroke-width="0.6"/>
<circle cx="148.9" cy="385.9" r="3.3" fill="#98a1a7" stroke="#2a1a1a" stroke-opacity="0.8" stroke-width="0.6"/>
<circle cx="149.4" cy="386.8" r="3.2" fill="#98a1a7" stroke="#2a1a1a" stroke-opacity="0.8" stroke-width="0.6"/>
<circle cx="149.7" cy="389.0" r="3.4" fill="#98a1a7" stroke="#2a1a1a" stroke-opacity="0.8" stroke-width="0.6"/>
<circle cx="149.1" cy="390.3" r="3.5" fill="#98a1a7" stroke="#2a1a1a" stroke-opacity="0.8" stroke-width="0.6"/>
<circle cx="149.3" cy="393.9" r="3.5" fill="#98a1a7" stroke="#2a1a1a" stroke-opacity="0.8" stroke-width="0.6"/>
<circle cx="149.6" cy="393.9" r="3.5" fill="#98a1a7" stroke="#2a1a1a" stroke-opacity="0.8" stroke-width="0.6"/>
<circle cx="148.9" cy="398.6" r="3.3" fill="#98a1a7" stroke="#2a1a1a" stroke-opacity="0.8" stroke-width="0.6"/>
<circle cx="149.6" cy="408.9" r="3.3" fill="#d3604f" stroke="#2a1a1a" stroke-opacity="0.8" stroke-width="0.6"/>
<circle cx="149.3" cy="410.9" r="3.5" fill="#e58f73" stroke="#2a1a1a" stroke-opacity="0.8" stroke-width="0.6"/>
<circle cx="149.6" cy="414.0" r="3.4" fill="#98a1a7" stroke="#2a1a1a" stroke-opacity="0.8" stroke-width="0.6"/>
<circle cx="149.2" cy="415.3" r="3.4" fill="#98a1a7" stroke="#2a1a1a" stroke-opacity="0.8" stroke-width="0.6"/>
<circle cx="149.6" cy="418.5" r="3.3" fill="#98a1a7" stroke="#2a1a1a" stroke-opacity="0.8" stroke-width="0.6"/>
<circle cx="154.0" cy="342.3" r="3.4" fill="#e58f73" stroke="#2a1a1a" stroke-opacity="0.8" stroke-width="0.6"/>
<circle cx="153.5" cy="346.1" r="3.5" fill="#e58f73" stroke="#2a1a1a" stroke-opacity="0.8" stroke-width="0.6"/>
<circle cx="154.0" cy="349.7" r="3.6" fill="#98a1a7" stroke="#2a1a1a" stroke-opacity="0.8" stroke-width="0.6"/>
<circle cx="154.2" cy="363.3" r="3.3" fill="#e58f73" stroke="#2a1a1a" stroke-opacity="0.8" stroke-width="0.6"/>
<circle cx="153.8" cy="369.4" r="3.2" fill="#e58f73" stroke="#2a1a1a" stroke-opacity="0.8" stroke-width="0.6"/>
<circle cx="154.7" cy="370.7" r="3.5" fill="#98a1a7" stroke="#2a1a1a" stroke-opacity="0.8" stroke-width="0.6"/>
<circle cx="154.1" cy="371.2" r="3.2" fill="#98a1a7" stroke="#2a1a1a" stroke-opacity="0.8" stroke-width="0.6"/>
<circle cx="154.4" cy="372.5" r="3.6" fill="#98a1a7" stroke="#2a1a1a" stroke-opacity="0.8" stroke-width="0.6"/>
<circle cx="154.8" cy="372.6" r="3.6" fill="#e58f73" stroke="#2a1a1a" stroke-opacity="0.8" stroke-width="0.6"/>
<circle cx="153.5" cy="374.5" r="3.3" fill="#98a1a7" stroke="#2a1a1a" stroke-opacity="0.8" stroke-width="0.6"/>
<circle cx="154.5" cy="378.4" r="3.5" fill="#e58f73" stroke="#2a1a1a" stroke-opacity="0.8" stroke-width="0.6"/>
<circle cx="154.2" cy="383.0" r="3.5" fill="#98a1a7" stroke="#2a1a1a" stroke-opacity="0.8" stroke-width="0.6"/>
<circle cx="153.8" cy="386.9" r="3.5" fill="#e58f73" stroke="#2a1a1a" stroke-opacity="0.8" stroke-width="0.6"/>
<circle cx="153.9" cy="389.7" r="3.3" fill="#98a1a7" stroke="#2a1a1a" stroke-opacity="0.8" stroke-width="0.6"/>
<circle cx="154.4" cy="396.4" r="3.4" fill="#98a1a7" stroke="#2a1a1a" stroke-opacity="0.8" stroke-width="0.6"/>
<circle cx="153.6" cy="398.5" r="3.4" fill="#98a1a7" stroke="#2a1a1a" stroke-opacity="0.8" stroke-width="0.6"/>
<circle cx="160.2" cy="351.1" r="3.5" fill="#98a1a7" stroke="#2a1a1a" stroke-opacity="0.8" stroke-width="0.6"/>
<circle cx="160.2" cy="359.5" r="3.5" fill="#98a1a7" stroke="#2a1a1a" stroke-opacity="0.8" stroke-width="0.6"/>
<circle cx="160.1" cy="360.9" r="3.5" fill="#98a1a7" stroke="#2a1a1a" stroke-opacity="0.8" stroke-width="0.6"/>
<circle cx="159.8" cy="365.3" r="3.5" fill="#98a1a7" stroke="#2a1a1a" stroke-opacity="0.8" stroke-width="0.6"/>
<circle cx="159.1" cy="365.5" r="3.5" fill="#98a1a7" stroke="#2a1a1a" stroke-opacity="0.8" stroke-width="0.6"/>
<circle cx="159.2" cy="370.4" r="3.5" fill="#98a1a7" stroke="#2a1a1a" stroke-opacity="0.8" stroke-width="0.6"/>
<circle cx="160.2" cy="371.6" r="3.6" fill="#98a1a7" stroke="#2a1a1a" stroke-opacity="0.8" stroke-width="0.6"/>
<circle cx="159.4" cy="372.4" r="3.5" fill="#98a1a7" stroke="#2a1a1a" stroke-opacity="0.8" stroke-width="0.6"/>
<circle cx="160.1" cy="376.8" r="3.6" fill="#98a1a7" stroke="#2a1a1a" stroke-opacity="0.8" stroke-width="0.6"/>
<circle cx="159.9" cy="377.0" r="3.8" fill="#98a1a7" stroke="#2a1a1a" stroke-opacity="0.8" stroke-width="0.6"/>
<circle cx="159.1" cy="383.4" r="3.7" fill="#98a1a7" stroke="#2a1a1a" stroke-opacity="0.8" stroke-width="0.6"/>
<circle cx="165.3" cy="357.8" r="3.3" fill="#98a1a7" stroke="#2a1a1a" stroke-opacity="0.8" stroke-width="0.6"/>
<circle cx="165.0" cy="360.2" r="3.3" fill="#98a1a7" stroke="#2a1a1a" stroke-opacity="0.8" stroke-width="0.6"/>
<circle cx="164.9" cy="363.0" r="3.4" fill="#98a1a7" stroke="#2a1a1a" stroke-opacity="0.8" stroke-width="0.6"/>
<circle cx="165.7" cy="363.9" r="3.6" fill="#98a1a7" stroke="#2a1a1a" stroke-opacity="0.8" stroke-width="0.6"/>
<circle cx="165.3" cy="369.2" r="3.6" fill="#98a1a7" stroke="#2a1a1a" stroke-opacity="0.8" stroke-width="0.6"/>
<circle cx="164.9" cy="370.8" r="3.4" fill="#98a1a7" stroke="#2a1a1a" stroke-opacity="0.8" stroke-width="0.6"/>
<circle cx="164.6" cy="372.7" r="3.3" fill="#98a1a7" stroke="#2a1a1a" stroke-opacity="0.8" stroke-width="0.6"/>
<circle cx="165.9" cy="378.3" r="3.3" fill="#98a1a7" stroke="#2a1a1a" stroke-opacity="0.8" stroke-width="0.6"/>
<circle cx="165.4" cy="382.5" r="3.6" fill="#98a1a7" stroke="#2a1a1a" stroke-opacity="0.8" stroke-width="0.6"/>
<circle cx="122.2" cy="413.7" r="2.4" fill="#e58f73" stroke="#2a1a1a" stroke-opacity="0.8" stroke-width="0.6"/>
<circle cx="153.4" cy="411.5" r="2.8" fill="#8b1a2b" stroke="#2a1a1a" stroke-opacity="0.8" stroke-width="0.6"/>
<circle cx="138.6" cy="436.1" r="2.6" fill="#c3dbea" stroke="#2a1a1a" stroke-opacity="0.8" stroke-width="0.6"/>
<circle cx="132.3" cy="419.9" r="3.3" fill="#ececec" stroke="#2a1a1a" stroke-opacity="0.8" stroke-width="0.6"/>
<circle cx="129.0" cy="417.2" r="2.6" fill="#ececec" stroke="#2a1a1a" stroke-opacity="0.8" stroke-width="0.6"/>
<circle cx="153.9" cy="410.5" r="2.5" fill="#d3604f" stroke="#2a1a1a" stroke-opacity="0.8" stroke-width="0.6"/>
<circle cx="150.0" cy="409.9" r="2.6" fill="#ececec" stroke="#2a1a1a" stroke-opacity="0.8" stroke-width="0.6"/>
<circle cx="118.1" cy="438.8" r="2.3" fill="#c0393f" stroke="#2a1a1a" stroke-opacity="0.8" stroke-width="0.6"/>
<circle cx="131.1" cy="419.9" r="2.7" fill="#c0393f" stroke="#2a1a1a" stroke-opacity="0.8" stroke-width="0.6"/>
<circle cx="131.1" cy="399.9" r="2.3" fill="#d3604f" stroke="#2a1a1a" stroke-opacity="0.8" stroke-width="0.6"/>
<circle cx="141.2" cy="424.6" r="3.2" fill="#8b1a2b" stroke="#2a1a1a" stroke-opacity="0.8" stroke-width="0.6"/>
<circle cx="141.4" cy="422.8" r="3.0" fill="#e58f73" stroke="#2a1a1a" stroke-opacity="0.8" stroke-width="0.6"/>
<circle cx="122.2" cy="425.0" r="2.8" fill="#f1b79b" stroke="#2a1a1a" stroke-opacity="0.8" stroke-width="0.6"/>
<circle cx="116.9" cy="403.2" r="2.2" fill="#e58f73" stroke="#2a1a1a" stroke-opacity="0.8" stroke-width="0.6"/>
<circle cx="155.9" cy="424.5" r="2.7" fill="#f1b79b" stroke="#2a1a1a" stroke-opacity="0.8" stroke-width="0.6"/>
<circle cx="149.8" cy="420.3" r="2.5" fill="#ececec" stroke="#2a1a1a" stroke-opacity="0.8" stroke-width="0.6"/>
<circle cx="120.9" cy="396.5" r="2.2" fill="#c0393f" stroke="#2a1a1a" stroke-opacity="0.8" stroke-width="0.6"/>
<circle cx="135.9" cy="418.5" r="3.3" fill="#98a1a7" stroke="#2a1a1a" stroke-opacity="0.8" stroke-width="0.6"/>
<circle cx="139.6" cy="436.3" r="2.8" fill="#c0393f" stroke="#2a1a1a" stroke-opacity="0.8" stroke-width="0.6"/>
<circle cx="144.6" cy="421.7" r="3.5" fill="#f1b79b" stroke="#2a1a1a" stroke-opacity="0.8" stroke-width="0.6"/>
<circle cx="134.8" cy="413.6" r="2.3" fill="#d3604f" stroke="#2a1a1a" stroke-opacity="0.8" stroke-width="0.6"/>
<circle cx="122.2" cy="401.8" r="2.2" fill="#c0393f" stroke="#2a1a1a" stroke-opacity="0.8" stroke-width="0.6"/>
<circle cx="112.4" cy="425.1" r="3.5" fill="#e58f73" stroke="#2a1a1a" stroke-opacity="0.8" stroke-width="0.6"/>
<circle cx="122.5" cy="400.5" r="2.8" fill="#ececec" stroke="#2a1a1a" stroke-opacity="0.8" stroke-width="0.6"/>
<circle cx="146.5" cy="405.9" r="3.2" fill="#f1b79b" stroke="#2a1a1a" stroke-opacity="0.8" stroke-width="0.6"/>
<circle cx="156.3" cy="411.5" r="3.2" fill="#f1b79b" stroke="#2a1a1a" stroke-opacity="0.8" stroke-width="0.6"/>
<circle cx="147.0" cy="398.8" r="3.0" fill="#d3604f" stroke="#2a1a1a" stroke-opacity="0.8" stroke-width="0.6"/>
<circle cx="134.1" cy="437.0" r="2.5" fill="#c0393f" stroke="#2a1a1a" stroke-opacity="0.8" stroke-width="0.6"/>
<circle cx="146.4" cy="395.5" r="2.2" fill="#e58f73" stroke="#2a1a1a" stroke-opacity="0.8" stroke-width="0.6"/>
<circle cx="130.7" cy="409.1" r="3.0" fill="#d3604f" stroke="#2a1a1a" stroke-opacity="0.8" stroke-width="0.6"/>
<circle cx="141.2" cy="409.2" r="3.4" fill="#d3604f" stroke="#2a1a1a" stroke-opacity="0.8" stroke-width="0.6"/>
<circle cx="134.6" cy="402.5" r="3.5" fill="#e58f73" stroke="#2a1a1a" stroke-opacity="0.8" stroke-width="0.6"/>
<circle cx="129.4" cy="424.0" r="3.0" fill="#98a1a7" stroke="#2a1a1a" stroke-opacity="0.8" stroke-width="0.6"/>
<circle cx="134.9" cy="430.0" r="2.8" fill="#ececec" stroke="#2a1a1a" stroke-opacity="0.8" stroke-width="0.6"/>
<circle cx="149.7" cy="420.5" r="2.6" fill="#c0393f" stroke="#2a1a1a" stroke-opacity="0.8" stroke-width="0.6"/>
<circle cx="141.8" cy="424.3" r="3.2" fill="#c3dbea" stroke="#2a1a1a" stroke-opacity="0.8" stroke-width="0.6"/>
<circle cx="153.7" cy="427.7" r="2.2" fill="#f1b79b" stroke="#2a1a1a" stroke-opacity="0.8" stroke-width="0.6"/>
<circle cx="140.9" cy="408.9" r="2.8" fill="#f4dcd2" stroke="#2a1a1a" stroke-opacity="0.8" stroke-width="0.6"/>
<circle cx="130.1" cy="425.8" r="3.0" fill="#f4dcd2" stroke="#2a1a1a" stroke-opacity="0.8" stroke-width="0.6"/>
<circle cx="150.8" cy="407.7" r="2.2" fill="#ececec" stroke="#2a1a1a" stroke-opacity="0.8" stroke-width="0.6"/>
<circle cx="124.9" cy="402.1" r="3.4" fill="#c0393f" stroke="#2a1a1a" stroke-opacity="0.8" stroke-width="0.6"/>
<circle cx="125.8" cy="401.3" r="3.4" fill="#f1b79b" stroke="#2a1a1a" stroke-opacity="0.8" stroke-width="0.6"/>
<circle cx="125.1" cy="433.3" r="3.2" fill="#d3604f" stroke="#2a1a1a" stroke-opacity="0.8" stroke-width="0.6"/>
<circle cx="128.6" cy="398.8" r="2.9" fill="#98a1a7" stroke="#2a1a1a" stroke-opacity="0.8" stroke-width="0.6"/>
<circle cx="121.6" cy="428.8" r="3.4" fill="#f4dcd2" stroke="#2a1a1a" stroke-opacity="0.8" stroke-width="0.6"/>
<circle cx="126.9" cy="397.6" r="2.7" fill="#f4dcd2" stroke="#2a1a1a" stroke-opacity="0.8" stroke-width="0.6"/>
<circle cx="156.4" cy="421.4" r="2.2" fill="#98a1a7" stroke="#2a1a1a" stroke-opacity="0.8" stroke-width="0.6"/>
<circle cx="134.1" cy="398.9" r="3.2" fill="#e58f73" stroke="#2a1a1a" stroke-opacity="0.8" stroke-width="0.6"/>
<circle cx="123.2" cy="421.1" r="3.4" fill="#8b1a2b" stroke="#2a1a1a" stroke-opacity="0.8" stroke-width="0.6"/>
<circle cx="127.4" cy="417.8" r="2.5" fill="#f4dcd2" stroke="#2a1a1a" stroke-opacity="0.8" stroke-width="0.6"/>
<circle cx="121.2" cy="403.1" r="3.1" fill="#c3dbea" stroke="#2a1a1a" stroke-opacity="0.8" stroke-width="0.6"/>
<circle cx="139.7" cy="411.2" r="3.2" fill="#f1b79b" stroke="#2a1a1a" stroke-opacity="0.8" stroke-width="0.6"/>
<circle cx="123.8" cy="436.5" r="2.8" fill="#e58f73" stroke="#2a1a1a" stroke-opacity="0.8" stroke-width="0.6"/>
<circle cx="129.8" cy="415.9" r="2.3" fill="#c3dbea" stroke="#2a1a1a" stroke-opacity="0.8" stroke-width="0.6"/>
<circle cx="140.7" cy="410.5" r="2.9" fill="#c0393f" stroke="#2a1a1a" stroke-opacity="0.8" stroke-width="0.6"/>
<circle cx="116.5" cy="404.2" r="3.3" fill="#d3604f" stroke="#2a1a1a" stroke-opacity="0.8" stroke-width="0.6"/>
<circle cx="140.2" cy="404.6" r="3.4" fill="#ececec" stroke="#2a1a1a" stroke-opacity="0.8" stroke-width="0.6"/>
<circle cx="132.4" cy="437.6" r="3.2" fill="#f1b79b" stroke="#2a1a1a" stroke-opacity="0.8" stroke-width="0.6"/>
<circle cx="124.2" cy="396.7" r="2.5" fill="#f1b79b" stroke="#2a1a1a" stroke-opacity="0.8" stroke-width="0.6"/>
<circle cx="130.2" cy="396.2" r="2.2" fill="#c3dbea" stroke="#2a1a1a" stroke-opacity="0.8" stroke-width="0.6"/>
<circle cx="143.5" cy="362.1" r="3.2" fill="#c0393f" stroke="#2a1a1a" stroke-opacity="0.8" stroke-width="0.6"/>
<circle cx="143.2" cy="374.8" r="3.2" fill="#8b1a2b" stroke="#2a1a1a" stroke-opacity="0.8" stroke-width="0.6"/>
<circle cx="146.6" cy="348.0" r="2.8" fill="#8b1a2b" stroke="#2a1a1a" stroke-opacity="0.8" stroke-width="0.6"/>
<circle cx="116.1" cy="394.5" r="2.8" fill="#e58f73" stroke="#2a1a1a" stroke-opacity="0.8" stroke-width="0.6"/>
<circle cx="128.7" cy="341.2" r="3.3" fill="#8b1a2b" stroke="#2a1a1a" stroke-opacity="0.8" stroke-width="0.6"/>
<circle cx="120.8" cy="332.7" r="2.5" fill="#f1b79b" stroke="#2a1a1a" stroke-opacity="0.8" stroke-width="0.6"/>
<circle cx="115.1" cy="368.7" r="2.2" fill="#c0393f" stroke="#2a1a1a" stroke-opacity="0.8" stroke-width="0.6"/>
<circle cx="122.0" cy="365.9" r="3.0" fill="#c0393f" stroke="#2a1a1a" stroke-opacity="0.8" stroke-width="0.6"/>
<circle cx="147.5" cy="333.9" r="2.4" fill="#c0393f" stroke="#2a1a1a" stroke-opacity="0.8" stroke-width="0.6"/>
<circle cx="113.2" cy="343.9" r="3.0" fill="#d3604f" stroke="#2a1a1a" stroke-opacity="0.8" stroke-width="0.6"/>
<circle cx="133.7" cy="383.1" r="2.3" fill="#f1b79b" stroke="#2a1a1a" stroke-opacity="0.8" stroke-width="0.6"/>
<circle cx="126.0" cy="357.3" r="2.6" fill="#f4dcd2" stroke="#2a1a1a" stroke-opacity="0.8" stroke-width="0.6"/>
<circle cx="118.9" cy="346.7" r="2.4" fill="#8b1a2b" stroke="#2a1a1a" stroke-opacity="0.8" stroke-width="0.6"/>
<circle cx="144.2" cy="362.8" r="3.2" fill="#c0393f" stroke="#2a1a1a" stroke-opacity="0.8" stroke-width="0.6"/>
<circle cx="114.3" cy="394.9" r="2.4" fill="#d3604f" stroke="#2a1a1a" stroke-opacity="0.8" stroke-width="0.6"/>
<circle cx="143.3" cy="392.2" r="2.4" fill="#f4dcd2" stroke="#2a1a1a" stroke-opacity="0.8" stroke-width="0.6"/>
<circle cx="146.5" cy="394.8" r="2.6" fill="#c0393f" stroke="#2a1a1a" stroke-opacity="0.8" stroke-width="0.6"/>
<circle cx="135.0" cy="361.7" r="2.6" fill="#c0393f" stroke="#2a1a1a" stroke-opacity="0.8" stroke-width="0.6"/>
<circle cx="121.2" cy="338.1" r="2.6" fill="#f1b79b" stroke="#2a1a1a" stroke-opacity="0.8" stroke-width="0.6"/>
<circle cx="120.8" cy="334.0" r="3.0" fill="#d3604f" stroke="#2a1a1a" stroke-opacity="0.8" stroke-width="0.6"/>
<circle cx="144.1" cy="360.7" r="2.4" fill="#f4dcd2" stroke="#2a1a1a" stroke-opacity="0.8" stroke-width="0.6"/>
<circle cx="127.4" cy="340.9" r="2.5" fill="#c0393f" stroke="#2a1a1a" stroke-opacity="0.8" stroke-width="0.6"/>
<circle cx="123.4" cy="386.3" r="2.5" fill="#c0393f" stroke="#2a1a1a" stroke-opacity="0.8" stroke-width="0.6"/>
<circle cx="124.1" cy="393.2" r="2.3" fill="#d3604f" stroke="#2a1a1a" stroke-opacity="0.8" stroke-width="0.6"/>
<circle cx="115.0" cy="392.7" r="2.9" fill="#e58f73" stroke="#2a1a1a" stroke-opacity="0.8" stroke-width="0.6"/>
<circle cx="132.6" cy="388.5" r="2.3" fill="#c0393f" stroke="#2a1a1a" stroke-opacity="0.8" stroke-width="0.6"/>
<circle cx="120.1" cy="355.5" r="3.3" fill="#e58f73" stroke="#2a1a1a" stroke-opacity="0.8" stroke-width="0.6"/>
<circle cx="145.4" cy="336.8" r="2.5" fill="#e58f73" stroke="#2a1a1a" stroke-opacity="0.8" stroke-width="0.6"/>
<circle cx="115.0" cy="380.9" r="2.5" fill="#8b1a2b" stroke="#2a1a1a" stroke-opacity="0.8" stroke-width="0.6"/>
<circle cx="113.6" cy="386.5" r="2.6" fill="#e58f73" stroke="#2a1a1a" stroke-opacity="0.8" stroke-width="0.6"/>
<circle cx="128.5" cy="385.3" r="3.2" fill="#f1b79b" stroke="#2a1a1a" stroke-opacity="0.8" stroke-width="0.6"/>
<circle cx="119.5" cy="360.5" r="3.2" fill="#e58f73" stroke="#2a1a1a" stroke-opacity="0.8" stroke-width="0.6"/>
<circle cx="122.7" cy="342.6" r="3.1" fill="#d3604f" stroke="#2a1a1a" stroke-opacity="0.8" stroke-width="0.6"/>
<circle cx="140.0" cy="379.8" r="2.4" fill="#c0393f" stroke="#2a1a1a" stroke-opacity="0.8" stroke-width="0.6"/>
<circle cx="142.0" cy="392.3" r="3.0" fill="#c0393f" stroke="#2a1a1a" stroke-opacity="0.8" stroke-width="0.6"/>
<circle cx="122.6" cy="344.4" r="2.9" fill="#8b1a2b" stroke="#2a1a1a" stroke-opacity="0.8" stroke-width="0.6"/>
<circle cx="135.0" cy="343.5" r="2.5" fill="#c0393f" stroke="#2a1a1a" stroke-opacity="0.8" stroke-width="0.6"/>
<circle cx="115.3" cy="381.3" r="2.6" fill="#8b1a2b" stroke="#2a1a1a" stroke-opacity="0.8" stroke-width="0.6"/>
<circle cx="145.1" cy="366.3" r="2.6" fill="#f1b79b" stroke="#2a1a1a" stroke-opacity="0.8" stroke-width="0.6"/>
<circle cx="142.5" cy="390.5" r="2.7" fill="#c0393f" stroke="#2a1a1a" stroke-opacity="0.8" stroke-width="0.6"/>
<circle cx="97.9" cy="438.5" r="1.2" fill="#98a1a7" stroke="#2a1a1a" stroke-opacity="0.8" stroke-width="0.6"/>
<circle cx="93.1" cy="405.6" r="2.2" fill="#c3dbea" stroke="#2a1a1a" stroke-opacity="0.8" stroke-width="0.6"/>
<circle cx="85.2" cy="435.0" r="1.8" fill="#98a1a7" stroke="#2a1a1a" stroke-opacity="0.8" stroke-width="0.6"/>
<circle cx="96.1" cy="448.1" r="2.4" fill="#98a1a7" stroke="#2a1a1a" stroke-opacity="0.8" stroke-width="0.6"/>
<circle cx="88.1" cy="435.7" r="2.1" fill="#c3dbea" stroke="#2a1a1a" stroke-opacity="0.8" stroke-width="0.6"/>
<circle cx="110.5" cy="444.5" r="1.8" fill="#98a1a7" stroke="#2a1a1a" stroke-opacity="0.8" stroke-width="0.6"/>
<circle cx="93.9" cy="401.1" r="2.0" fill="#f4dcd2" stroke="#2a1a1a" stroke-opacity="0.8" stroke-width="0.6"/>
<circle cx="101.5" cy="425.2" r="1.8" fill="#98a1a7" stroke="#2a1a1a" stroke-opacity="0.8" stroke-width="0.6"/>
<circle cx="92.3" cy="400.0" r="1.9" fill="#ececec" stroke="#2a1a1a" stroke-opacity="0.8" stroke-width="0.6"/>
<circle cx="87.5" cy="409.3" r="2.1" fill="#98a1a7" stroke="#2a1a1a" stroke-opacity="0.8" stroke-width="0.6"/>
<circle cx="84.7" cy="447.8" r="2.0" fill="#c3dbea" stroke="#2a1a1a" stroke-opacity="0.8" stroke-width="0.6"/>
<circle cx="84.6" cy="429.2" r="1.8" fill="#555" stroke="#2a1a1a" stroke-opacity="0.8" stroke-width="0.6"/>
<circle cx="92.1" cy="420.3" r="1.5" fill="#98a1a7" stroke="#2a1a1a" stroke-opacity="0.8" stroke-width="0.6"/>
<circle cx="108.4" cy="397.6" r="1.2" fill="#f4dcd2" stroke="#2a1a1a" stroke-opacity="0.8" stroke-width="0.6"/>
<circle cx="103.9" cy="438.4" r="1.2" fill="#98a1a7" stroke="#2a1a1a" stroke-opacity="0.8" stroke-width="0.6"/>
<circle cx="97.8" cy="402.8" r="1.8" fill="#ececec" stroke="#2a1a1a" stroke-opacity="0.8" stroke-width="0.6"/>
<circle cx="89.0" cy="427.7" r="2.0" fill="#ececec" stroke="#2a1a1a" stroke-opacity="0.8" stroke-width="0.6"/>
<circle cx="116.2" cy="396.1" r="1.9" fill="#98a1a7" stroke="#2a1a1a" stroke-opacity="0.8" stroke-width="0.6"/>
<circle cx="98.3" cy="442.9" r="1.7" fill="#f4dcd2" stroke="#2a1a1a" stroke-opacity="0.8" stroke-width="0.6"/>
<circle cx="117.0" cy="398.0" r="1.5" fill="#f4dcd2" stroke="#2a1a1a" stroke-opacity="0.8" stroke-width="0.6"/>
<circle cx="92.2" cy="414.1" r="1.6" fill="#555" stroke="#2a1a1a" stroke-opacity="0.8" stroke-width="0.6"/>
<circle cx="111.3" cy="447.0" r="2.1" fill="#555" stroke="#2a1a1a" stroke-opacity="0.8" stroke-width="0.6"/>
<circle cx="85.8" cy="424.5" r="2.3" fill="#c3dbea" stroke="#2a1a1a" stroke-opacity="0.8" stroke-width="0.6"/>
<circle cx="92.5" cy="419.1" r="1.9" fill="#c3dbea" stroke="#2a1a1a" stroke-opacity="0.8" stroke-width="0.6"/>
<circle cx="87.7" cy="405.7" r="1.5" fill="#ececec" stroke="#2a1a1a" stroke-opacity="0.8" stroke-width="0.6"/>
<circle cx="101.2" cy="396.2" r="1.2" fill="#f4dcd2" stroke="#2a1a1a" stroke-opacity="0.8" stroke-width="0.6"/>
<circle cx="110.4" cy="448.4" r="1.9" fill="#98a1a7" stroke="#2a1a1a" stroke-opacity="0.8" stroke-width="0.6"/>
<circle cx="85.2" cy="431.6" r="1.4" fill="#98a1a7" stroke="#2a1a1a" stroke-opacity="0.8" stroke-width="0.6"/>
<circle cx="105.2" cy="430.8" r="2.1" fill="#98a1a7" stroke="#2a1a1a" stroke-opacity="0.8" stroke-width="0.6"/>
<circle cx="105.1" cy="409.3" r="1.7" fill="#f4dcd2" stroke="#2a1a1a" stroke-opacity="0.8" stroke-width="0.6"/>
<circle cx="116.0" cy="321.7" r="2.6" fill="#8b1a2b" stroke="#2a1a1a" stroke-opacity="0.8" stroke-width="0.6"/>
<circle cx="120.5" cy="321.7" r="2.6" fill="#c0393f" stroke="#2a1a1a" stroke-opacity="0.8" stroke-width="0.6"/>
<circle cx="125.0" cy="321.7" r="2.6" fill="#e58f73" stroke="#2a1a1a" stroke-opacity="0.8" stroke-width="0.6"/>
<circle cx="129.0" cy="321.7" r="2.6" fill="#f1b79b" stroke="#2a1a1a" stroke-opacity="0.8" stroke-width="0.6"/>
<circle cx="143.2" cy="321.7" r="3.4" fill="#f4dcd2" stroke="#2a1a1a" stroke-opacity="0.8" stroke-width="0.6"/>
<circle cx="150.2" cy="321.7" r="3.4" fill="#f1b79b" stroke="#2a1a1a" stroke-opacity="0.8" stroke-width="0.6"/>
<circle cx="164.7" cy="381.0" r="3.3" fill="#e58f73" stroke="#2a1a1a" stroke-opacity="0.8" stroke-width="0.6"/>
<circle cx="159.4" cy="392.3" r="3.4" fill="#98a1a7" stroke="#2a1a1a" stroke-opacity="0.8" stroke-width="0.6"/>
<circle cx="159.4" cy="401.6" r="3.4" fill="#98a1a7" stroke="#2a1a1a" stroke-opacity="0.8" stroke-width="0.6"/>
<circle cx="178.5" cy="346.0" r="2.2" fill="#ececec" stroke="#2a1a1a" stroke-opacity="0.8" stroke-width="0.6"/>
<circle cx="178.2" cy="350.0" r="2.2" fill="#f4dcd2" stroke="#2a1a1a" stroke-opacity="0.8" stroke-width="0.6"/>
<circle cx="178.2" cy="354.0" r="2.2" fill="#f4dcd2" stroke="#2a1a1a" stroke-opacity="0.8" stroke-width="0.6"/>
<circle cx="179.0" cy="367.0" r="2.2" fill="#ececec" stroke="#2a1a1a" stroke-opacity="0.8" stroke-width="0.6"/>
<circle cx="179.0" cy="383.0" r="2.6" fill="#f1b79b" stroke="#2a1a1a" stroke-opacity="0.8" stroke-width="0.6"/>
<circle cx="173.0" cy="368.0" r="3" fill="#c0393f" stroke="#2a1a1a" stroke-opacity="0.8" stroke-width="0.6"/>
<circle cx="176.0" cy="370.0" r="2.6" fill="#e58f73" stroke="#2a1a1a" stroke-opacity="0.8" stroke-width="0.6"/>
<circle cx="193.1" cy="380.6" r="2.2" fill="#f1b79b" stroke="#2a1a1a" stroke-opacity="0.8" stroke-width="0.6"/>
<circle cx="192.4" cy="384.1" r="2.2" fill="#f1b79b" stroke="#2a1a1a" stroke-opacity="0.8" stroke-width="0.6"/>
<circle cx="194.0" cy="387.6" r="2.2" fill="#f1b79b" stroke="#2a1a1a" stroke-opacity="0.8" stroke-width="0.6"/>
<circle cx="192.7" cy="391.1" r="2.2" fill="#f1b79b" stroke="#2a1a1a" stroke-opacity="0.8" stroke-width="0.6"/>
<circle cx="193.9" cy="394.6" r="2.2" fill="#f1b79b" stroke="#2a1a1a" stroke-opacity="0.8" stroke-width="0.6"/>
<circle cx="192.6" cy="398.1" r="2.2" fill="#f1b79b" stroke="#2a1a1a" stroke-opacity="0.8" stroke-width="0.6"/>
<circle cx="194.0" cy="401.6" r="2.2" fill="#f1b79b" stroke="#2a1a1a" stroke-opacity="0.8" stroke-width="0.6"/>
<circle cx="193.1" cy="405.1" r="2.2" fill="#e58f73" stroke="#2a1a1a" stroke-opacity="0.8" stroke-width="0.6"/>
<circle cx="192.7" cy="408.6" r="2.2" fill="#e58f73" stroke="#2a1a1a" stroke-opacity="0.8" stroke-width="0.6"/>
<circle cx="193.2" cy="412.1" r="2.2" fill="#f1b79b" stroke="#2a1a1a" stroke-opacity="0.8" stroke-width="0.6"/>
<circle cx="192.2" cy="415.6" r="2.2" fill="#e58f73" stroke="#2a1a1a" stroke-opacity="0.8" stroke-width="0.6"/>
<circle cx="202.6" cy="372.7" r="3.4" fill="#f1b79b" stroke="#2a1a1a" stroke-opacity="0.8" stroke-width="0.6"/>
<circle cx="203.3" cy="388.0" r="3.8" fill="#f1b79b" stroke="#2a1a1a" stroke-opacity="0.8" stroke-width="0.6"/>
<circle cx="202.7" cy="391.5" r="3.8" fill="#f1b79b" stroke="#2a1a1a" stroke-opacity="0.8" stroke-width="0.6"/>
<circle cx="202.2" cy="395.0" r="3.8" fill="#f1b79b" stroke="#2a1a1a" stroke-opacity="0.8" stroke-width="0.6"/>
<circle cx="204.0" cy="403.0" r="2.2" fill="#c3dbea" stroke="#2a1a1a" stroke-opacity="0.8" stroke-width="0.6"/>
<circle cx="209.0" cy="373.7" r="3" fill="#f1b79b" stroke="#2a1a1a" stroke-opacity="0.8" stroke-width="0.6"/>
<circle cx="210.0" cy="377.7" r="3.4" fill="#e58f73" stroke="#2a1a1a" stroke-opacity="0.8" stroke-width="0.6"/>
<circle cx="210.2" cy="381.7" r="3.4" fill="#e58f73" stroke="#2a1a1a" stroke-opacity="0.8" stroke-width="0.6"/>
<circle cx="209.6" cy="385.7" r="3" fill="#f1b79b" stroke="#2a1a1a" stroke-opacity="0.8" stroke-width="0.6"/>
<circle cx="210.9" cy="389.7" r="3" fill="#e58f73" stroke="#2a1a1a" stroke-opacity="0.8" stroke-width="0.6"/>
<circle cx="209.6" cy="393.7" r="3.4" fill="#f1b79b" stroke="#2a1a1a" stroke-opacity="0.8" stroke-width="0.6"/>
<circle cx="210.3" cy="397.7" r="3.4" fill="#f1b79b" stroke="#2a1a1a" stroke-opacity="0.8" stroke-width="0.6"/>
<circle cx="216.0" cy="392.0" r="3" fill="#e58f73" stroke="#2a1a1a" stroke-opacity="0.8" stroke-width="0.6"/>
<circle cx="200.0" cy="385.0" r="2.2" fill="#98a1a7" stroke="#2a1a1a" stroke-opacity="0.8" stroke-width="0.6"/>
<circle cx="231.0" cy="383.5" r="3.8" fill="#e58f73" stroke="#2a1a1a" stroke-opacity="0.8" stroke-width="0.6"/>
<circle cx="231.1" cy="387.5" r="3.8" fill="#e58f73" stroke="#2a1a1a" stroke-opacity="0.8" stroke-width="0.6"/>
<circle cx="231.2" cy="391.5" r="3.8" fill="#e58f73" stroke="#2a1a1a" stroke-opacity="0.8" stroke-width="0.6"/>
<circle cx="231.0" cy="395.5" r="3.8" fill="#e58f73" stroke="#2a1a1a" stroke-opacity="0.8" stroke-width="0.6"/>
<circle cx="230.3" cy="399.5" r="3.8" fill="#e58f73" stroke="#2a1a1a" stroke-opacity="0.8" stroke-width="0.6"/>
<circle cx="231.2" cy="403.5" r="3.8" fill="#f1b79b" stroke="#2a1a1a" stroke-opacity="0.8" stroke-width="0.6"/>
<circle cx="226.0" cy="403.0" r="3" fill="#f4dcd2" stroke="#2a1a1a" stroke-opacity="0.8" stroke-width="0.6"/>
<circle cx="234.0" cy="390.0" r="2.2" fill="#98a1a7" stroke="#2a1a1a" stroke-opacity="0.8" stroke-width="0.6"/>
<circle cx="239.9" cy="420.8" r="3.4" fill="#e58f73" stroke="#2a1a1a" stroke-opacity="0.8" stroke-width="0.6"/>
<circle cx="239.9" cy="428.3" r="3.4" fill="#e58f73" stroke="#2a1a1a" stroke-opacity="0.8" stroke-width="0.6"/>
<circle cx="246.6" cy="434.5" r="3.4" fill="#f1b79b" stroke="#2a1a1a" stroke-opacity="0.8" stroke-width="0.6"/>
<circle cx="246.6" cy="438.5" r="3.4" fill="#e58f73" stroke="#2a1a1a" stroke-opacity="0.8" stroke-width="0.6"/>
<circle cx="234.0" cy="438.9" r="3" fill="#98a1a7" stroke="#2a1a1a" stroke-opacity="0.8" stroke-width="0.6"/>
<circle cx="173.2" cy="430.6" r="3" fill="#c0393f" stroke="#2a1a1a" stroke-opacity="0.8" stroke-width="0.6"/>
<circle cx="221.0" cy="420.4" r="2.6" fill="#98a1a7" stroke="#2a1a1a" stroke-opacity="0.8" stroke-width="0.6"/>
<circle cx="225.2" cy="418.4" r="2.6" fill="#98a1a7" stroke="#2a1a1a" stroke-opacity="0.8" stroke-width="0.6"/>
<circle cx="185.9" cy="422.8" r="3" fill="#ececec" stroke="#2a1a1a" stroke-opacity="0.8" stroke-width="0.6"/>
<circle cx="185.9" cy="428.7" r="3" fill="#ececec" stroke="#2a1a1a" stroke-opacity="0.8" stroke-width="0.6"/>
<circle cx="185.9" cy="431.6" r="3" fill="#ececec" stroke="#2a1a1a" stroke-opacity="0.8" stroke-width="0.6"/>
<circle cx="190.8" cy="442.4" r="3" fill="#f4dcd2" stroke="#2a1a1a" stroke-opacity="0.8" stroke-width="0.6"/>
<circle cx="193.2" cy="445.9" r="2.2" fill="#e58f73" stroke="#2a1a1a" stroke-opacity="0.8" stroke-width="0.6"/>
<circle cx="193.2" cy="453.8" r="2.2" fill="#e58f73" stroke="#2a1a1a" stroke-opacity="0.8" stroke-width="0.6"/>
<circle cx="172.0" cy="412.0" r="2.2" fill="#6aa8d8" stroke="#2a1a1a" stroke-opacity="0.8" stroke-width="0.6"/>
<circle cx="169.0" cy="413.0" r="2.6" fill="#2f6aa8" stroke="#2a1a1a" stroke-opacity="0.8" stroke-width="0.6"/>
<circle cx="168.0" cy="420.0" r="1.8" fill="#6aa8d8" stroke="#2a1a1a" stroke-opacity="0.8" stroke-width="0.6"/>
<circle cx="190.0" cy="425.0" r="1.8" fill="#6aa8d8" stroke="#2a1a1a" stroke-opacity="0.8" stroke-width="0.6"/>
<circle cx="180.0" cy="405.0" r="1.8" fill="#6aa8d8" stroke="#2a1a1a" stroke-opacity="0.8" stroke-width="0.6"/>
<circle cx="168.0" cy="395.0" r="1.8" fill="#6aa8d8" stroke="#2a1a1a" stroke-opacity="0.8" stroke-width="0.6"/>
<circle cx="177.0" cy="393.0" r="3" fill="#98a1a7" stroke="#2a1a1a" stroke-opacity="0.8" stroke-width="0.6"/>
<circle cx="178.0" cy="395.0" r="3" fill="#ececec" stroke="#2a1a1a" stroke-opacity="0.8" stroke-width="0.6"/>
<circle cx="185.0" cy="395.0" r="2.2" fill="#98a1a7" stroke="#2a1a1a" stroke-opacity="0.8" stroke-width="0.6"/>
<circle cx="168.0" cy="425.0" r="1.8" fill="#98a1a7" stroke="#2a1a1a" stroke-opacity="0.8" stroke-width="0.6"/>
<circle cx="178.0" cy="415.0" r="2.6" fill="#f1b79b" stroke="#2a1a1a" stroke-opacity="0.8" stroke-width="0.6"/>
<circle cx="155.0" cy="389.0" r="2.6" fill="#d3604f" stroke="#2a1a1a" stroke-opacity="0.8" stroke-width="0.6"/>
<circle cx="160.0" cy="413.0" r="2.2" fill="#6aa8d8" stroke="#2a1a1a" stroke-opacity="0.8" stroke-width="0.6"/>
<circle cx="150.0" cy="415.0" r="2.6" fill="#98a1a7" stroke="#2a1a1a" stroke-opacity="0.8" stroke-width="0.6"/>
<circle cx="167.0" cy="350.0" r="2.2" fill="#e58f73" stroke="#2a1a1a" stroke-opacity="0.8" stroke-width="0.6"/>
<circle cx="172.0" cy="345.0" r="2.6" fill="#98a1a7" stroke="#2a1a1a" stroke-opacity="0.8" stroke-width="0.6"/>
<circle cx="170.0" cy="335.0" r="2" fill="#f4dcd2" stroke="#2a1a1a" stroke-opacity="0.8" stroke-width="0.6"/>
<circle cx="122.4" cy="430.5" r="3" fill="#c0393f" stroke="#2a1a1a" stroke-opacity="0.8" stroke-width="0.6"/>
<circle cx="122.4" cy="435.8" r="3" fill="#e58f73" stroke="#2a1a1a" stroke-opacity="0.8" stroke-width="0.6"/>
<circle cx="122.4" cy="441.0" r="3.4" fill="#ececec" stroke="#2a1a1a" stroke-opacity="0.8" stroke-width="0.6"/>
<circle cx="122.4" cy="448.0" r="3.4" fill="#ececec" stroke="#2a1a1a" stroke-opacity="0.8" stroke-width="0.6"/>
<circle cx="129.5" cy="455.0" r="2.6" fill="#ececec" stroke="#2a1a1a" stroke-opacity="0.8" stroke-width="0.6"/>
<circle cx="129.5" cy="432.3" r="2.6" fill="#c3dbea" stroke="#2a1a1a" stroke-opacity="0.8" stroke-width="0.6"/>
<circle cx="131.0" cy="437.0" r="2.6" fill="#c3dbea" stroke="#2a1a1a" stroke-opacity="0.8" stroke-width="0.6"/>
<circle cx="132.0" cy="442.8" r="2.6" fill="#c3dbea" stroke="#2a1a1a" stroke-opacity="0.8" stroke-width="0.6"/>
<circle cx="98.5" cy="466.5" r="2.2" fill="#f4dcd2" stroke="#2a1a1a" stroke-opacity="0.8" stroke-width="0.6"/>
<circle cx="98.5" cy="443.0" r="1.8" fill="#f4dcd2" stroke="#2a1a1a" stroke-opacity="0.8" stroke-width="0.6"/>
<circle cx="98.5" cy="447.0" r="1.8" fill="#f4dcd2" stroke="#2a1a1a" stroke-opacity="0.8" stroke-width="0.6"/>
<circle cx="108.5" cy="443.0" r="1.8" fill="#f4dcd2" stroke="#2a1a1a" stroke-opacity="0.8" stroke-width="0.6"/>
<text x="357.2" y="295.5" font-size="34.5" fill="#231815" text-anchor="start" font-weight="bold">D</text>
<defs><clipPath id="dclip"><rect x="416.9" y="304.4" width="213.20000000000005" height="182.70000000000005"/></clipPath><filter id="blur4" x="-50%" y="-50%" width="200%" height="200%"><feGaussianBlur stdDeviation="5"/></filter><filter id="blur2" x="-50%" y="-50%" width="200%" height="200%"><feGaussianBlur stdDeviation="3"/></filter><linearGradient id="dens" x1="0" y1="0" x2="0" y2="1"><stop offset="0" stop-color="#0d4a9a"/><stop offset="0.25" stop-color="#1570b0"/><stop offset="0.38" stop-color="#0d8ab8"/><stop offset="0.5" stop-color="#19959a"/><stop offset="0.65" stop-color="#4a9a8e"/><stop offset="0.8" stop-color="#8cb89a"/><stop offset="1" stop-color="#cfe09d"/></linearGradient></defs>
<g clip-path="url(#dclip)">
<path d="M560.8 334.1h0M445.5 333.2h0M477.1 326.5h0M537.7 332.7h0M606.5 474.8h0M461.1 315.9h0M552.8 315.3h0M591.0 436.3h0M580.4 339.0h0M546.2 329.9h0M577.6 479.4h0M516.4 324.9h0M532.1 318.0h0M427.9 353.5h0M616.3 439.6h0M525.4 329.7h0M590.2 456.2h0M591.8 467.6h0M582.2 381.2h0M564.2 484.6h0M615.1 401.6h0M613.0 400.3h0M626.4 432.3h0M588.4 471.3h0M507.2 315.8h0M466.5 310.5h0M515.9 316.2h0M582.0 453.6h0M477.7 316.1h0M615.1 401.0h0M609.0 449.8h0M618.1 439.7h0M505.9 317.1h0M605.2 429.1h0M506.3 319.2h0M589.1 386.6h0M522.6 308.2h0M602.5 481.0h0M476.0 321.6h0M600.6 427.8h0M583.2 450.8h0M474.6 310.4h0M583.2 452.8h0M426.4 478.5h0M521.8 322.0h0M486.0 316.6h0M592.6 407.0h0M479.0 311.9h0M584.1 363.9h0M583.8 441.4h0M616.0 382.2h0M592.1 473.0h0M577.0 363.1h0M588.7 378.8h0M601.3 461.2h0M432.9 348.3h0M599.6 442.3h0M585.7 472.1h0M585.7 401.5h0M453.9 333.1h0M486.7 313.3h0M472.2 310.7h0M590.0 379.1h0M468.0 322.9h0M599.1 477.0h0M598.4 452.3h0M483.0 317.9h0M605.0 410.3h0M616.8 416.3h0M606.6 449.4h0M604.5 439.3h0M614.2 476.2h0M589.8 388.9h0M591.3 454.6h0M589.8 361.7h0M473.2 313.6h0M599.6 453.1h0M459.0 325.3h0M593.2 434.3h0M625.3 423.6h0M620.2 384.0h0M564.7 345.9h0M590.4 445.9h0M420.2 350.7h0M597.5 398.6h0M573.7 342.3h0M585.5 448.2h0M595.0 425.8h0M591.0 413.0h0M591.0 447.0h0M608.4 448.9h0M514.5 324.4h0M600.9 395.4h0M624.7 424.1h0M626.8 400.3h0M601.3 429.7h0M586.7 439.4h0M422.4 468.7h0M620.0 435.3h0M594.7 459.0h0M593.0 455.1h0M587.6 475.4h0M451.3 323.8h0M605.4 414.1h0M481.7 306.9h0M598.4 345.6h0M587.6 453.2h0M594.8 422.6h0M445.7 316.6h0M612.1 431.4h0M589.5 441.9h0M469.7 321.5h0M606.9 434.1h0M570.3 471.1h0M518.1 327.8h0M584.6 369.1h0M589.4 458.7h0M444.8 331.2h0M530.2 318.1h0M592.2 417.8h0M597.9 420.2h0M599.2 445.1h0M454.5 328.6h0M586.1 444.1h0M611.1 432.6h0M607.0 393.8h0M563.2 480.1h0M586.0 437.0h0M528.3 327.2h0M597.6 445.0h0M503.2 322.3h0M589.6 416.5h0M468.5 330.1h0M585.5 406.4h0M618.1 442.4h0M585.2 448.8h0M588.0 397.5h0M464.8 313.1h0M508.6 323.5h0M595.8 426.6h0M588.1 451.5h0M587.1 434.0h0M603.1 410.5h0M619.8 450.8h0M593.5 402.5h0M599.2 402.8h0M587.5 442.7h0M597.7 460.1h0M611.1 435.7h0M595.1 429.4h0M486.9 323.4h0M432.6 483.6h0M525.3 316.2h0M488.7 313.4h0M626.5 423.3h0M591.0 411.2h0M580.5 457.6h0M506.1 307.1h0M570.3 476.5h0M457.7 313.7h0M604.1 438.6h0M460.7 324.7h0M506.7 310.2h0M546.9 333.7h0M580.4 479.9h0M580.0 465.2h0M537.1 306.2h0M605.3 388.0h0M618.7 476.2h0M587.9 426.7h0M464.3 327.4h0M574.3 472.7h0M538.1 323.5h0M605.8 400.9h0M508.5 313.3h0M578.9 463.5h0M587.2 397.0h0M538.0 314.4h0M577.6 466.2h0M587.4 441.8h0M530.3 325.2h0M538.2 328.2h0M616.5 422.6h0M484.4 325.5h0M447.0 325.5h0M533.3 319.2h0M578.7 365.0h0M498.3 317.5h0M600.1 437.2h0M591.3 473.4h0M585.3 357.3h0M564.4 344.2h0M559.2 345.3h0M603.3 434.4h0M580.6 455.2h0M590.1 452.7h0M502.2 321.0h0M518.6 321.3h0M601.8 361.5h0M580.7 454.8h0M597.3 446.5h0M618.2 397.3h0M540.3 313.6h0M585.4 372.3h0M505.8 310.6h0M507.9 325.7h0M598.1 422.5h0M465.0 309.1h0M438.8 344.4h0M546.7 322.9h0M449.8 336.6h0M590.3 459.9h0M579.7 373.0h0M579.8 463.8h0M616.0 400.9h0M616.5 392.3h0M612.6 456.7h0M517.0 322.0h0M497.6 322.1h0M507.4 321.6h0M533.4 314.9h0M609.6 426.0h0M586.6 409.5h0M588.8 454.8h0M456.2 310.1h0M598.9 444.3h0M533.8 324.6h0M512.2 325.4h0M483.6 310.1h0M600.2 394.8h0M588.8 372.6h0M594.0 386.9h0M574.2 464.7h0M514.4 325.2h0M601.2 409.8h0M617.3 429.1h0M587.1 480.3h0M607.5 415.9h0M608.0 430.9h0M534.0 316.7h0M601.6 454.7h0M455.8 310.1h0M575.2 371.0h0M555.2 346.8h0M604.7 426.7h0M607.6 372.2h0M453.6 325.0h0M491.8 309.1h0M598.9 446.5h0M609.4 441.1h0M536.8 327.6h0M567.9 340.0h0M609.3 414.3h0M495.9 308.0h0M524.5 329.1h0M434.0 316.5h0M628.5 409.7h0M581.6 454.8h0M535.5 322.0h0M568.5 330.4h0M587.1 454.0h0M620.8 434.1h0M621.2 476.4h0M499.1 318.6h0M537.0 320.6h0M607.9 432.2h0M471.5 315.5h0M438.7 345.6h0M581.8 381.3h0M528.3 316.8h0M474.5 323.0h0M532.4 327.1h0M576.8 481.3h0M600.9 364.7h0M601.7 338.6h0M582.4 453.0h0M589.4 448.1h0M603.6 406.8h0M590.3 451.8h0M485.5 325.9h0M586.8 441.7h0M481.0 312.2h0M472.6 320.7h0M598.5 407.3h0M568.3 338.1h0M607.1 449.4h0M544.3 319.3h0M603.8 456.2h0M530.7 332.3h0M540.6 310.3h0M603.7 419.5h0M592.3 404.4h0M621.4 416.5h0M537.7 332.6h0M533.8 326.4h0M577.4 473.5h0M429.0 309.6h0M534.3 309.2h0M444.7 320.5h0M594.6 397.2h0M610.4 470.6h0M584.4 389.4h0M616.0 401.0h0M595.4 448.4h0M524.1 327.0h0M565.5 333.9h0M605.0 408.6h0M497.1 322.4h0M466.0 320.3h0M500.9 316.8h0M607.6 475.4h0M528.7 322.6h0M482.0 321.1h0M436.7 346.4h0M584.6 439.6h0M504.5 320.4h0M612.9 459.1h0M462.9 323.7h0M593.5 416.5h0M526.7 326.6h0M516.0 318.0h0M589.8 448.0h0M591.1 402.0h0M586.9 451.7h0M591.1 480.7h0M511.0 319.5h0M455.0 331.8h0M583.4 362.7h0M467.7 325.7h0M577.2 465.7h0M589.6 368.9h0M598.5 461.0h0M484.5 309.7h0M456.2 333.7h0M584.3 456.5h0M597.8 455.5h0M585.2 434.6h0M623.9 382.8h0M593.0 423.9h0M468.2 323.4h0M586.9 431.0h0M473.1 306.5h0M469.6 312.0h0M599.4 441.0h0M503.5 312.8h0M524.2 327.9h0M522.2 319.7h0M543.1 336.4h0M596.8 417.3h0M609.2 428.2h0M570.0 484.8h0M595.3 441.2h0M481.1 319.2h0M584.5 438.7h0M551.7 334.0h0M514.0 309.1h0M515.2 313.2h0M484.1 310.4h0M421.1 474.2h0M497.8 322.1h0M420.5 310.7h0M460.4 309.2h0M494.8 324.6h0M620.0 440.1h0M586.4 423.8h0M623.2 457.1h0M624.2 416.8h0M523.3 327.2h0M586.3 433.2h0M621.0 445.8h0M439.8 341.7h0M584.5 450.7h0M466.8 310.2h0M567.1 475.7h0M608.2 407.1h0M504.2 314.8h0M585.9 439.0h0M614.9 435.6h0M535.2 314.0h0M589.3 442.7h0M481.8 319.2h0M581.5 450.3h0M505.5 314.0h0M541.1 322.4h0M600.8 453.7h0M534.5 325.6h0M528.8 315.0h0M616.6 420.2h0M424.2 329.6h0M625.7 442.0h0M509.9 305.9h0M537.7 333.0h0M541.1 337.3h0M617.2 433.8h0M565.5 337.5h0M620.8 428.2h0M621.9 393.4h0M595.8 378.7h0M623.0 389.5h0M599.9 427.2h0M576.3 472.4h0M464.3 322.6h0M582.9 446.9h0M585.4 444.5h0M552.7 324.4h0M476.9 316.6h0M590.6 450.3h0M497.7 306.3h0M609.3 409.3h0M459.8 319.1h0M606.6 423.3h0M584.9 445.7h0M591.2 411.5h0M512.3 323.4h0M582.6 447.1h0M621.3 470.9h0M503.0 322.8h0M602.0 442.1h0M587.6 397.0h0M590.0 442.7h0M608.7 436.9h0M588.7 423.3h0M611.6 427.0h0M507.5 325.6h0M607.9 469.6h0M562.9 308.3h0M607.3 427.7h0M592.3 360.1h0M605.9 441.7h0M493.7 323.5h0M601.2 436.1h0M507.7 322.0h0M527.7 309.8h0M491.1 323.5h0M594.6 421.9h0M597.5 419.5h0M622.8 441.1h0M545.4 320.5h0M591.8 406.9h0M536.5 322.2h0M580.4 459.5h0M477.6 309.7h0M467.5 313.1h0M596.2 425.8h0M476.5 321.0h0M602.7 408.0h0M505.2 319.5h0M432.2 484.9h0M595.7 412.4h0M539.8 336.8h0M603.5 427.3h0M512.2 323.5h0M592.4 453.4h0M598.6 449.1h0M431.3 484.2h0M473.5 313.9h0M582.0 462.6h0M523.7 325.0h0M585.1 441.3h0M581.6 475.4h0M571.3 478.8h0M518.1 320.0h0M558.1 348.3h0M588.6 439.6h0M502.9 310.8h0M474.8 308.0h0M591.2 449.6h0M588.0 384.7h0M491.4 309.8h0M585.1 433.8h0M596.5 470.0h0M450.7 319.8h0M619.4 425.9h0M601.7 443.5h0M494.6 312.9h0M597.8 419.4h0M534.9 334.1h0M584.1 449.0h0M597.3 451.0h0M454.9 333.3h0M597.8 425.8h0M589.2 312.9h0M524.2 316.6h0M435.6 341.5h0M444.8 317.5h0M540.6 320.2h0M575.8 464.9h0M461.1 323.8h0M550.9 318.5h0M595.1 445.1h0M500.5 309.6h0M503.5 321.4h0M604.1 428.2h0M497.5 324.5h0M618.2 420.6h0M561.8 347.9h0M601.5 455.9h0M514.2 314.9h0M549.0 336.7h0M585.0 403.9h0M600.2 441.5h0M583.0 465.7h0M604.8 408.1h0M614.1 437.6h0M607.3 449.7h0M582.6 457.9h0M464.7 322.4h0M503.1 320.3h0M592.6 441.1h0M581.7 374.2h0M599.6 434.4h0M609.0 448.4h0M577.4 473.3h0M600.1 398.5h0M604.0 480.1h0M593.1 448.4h0M598.1 428.4h0M477.1 316.0h0M586.8 449.3h0M610.2 420.5h0M521.1 315.2h0M616.1 448.5h0M582.5 366.5h0M600.3 398.8h0M616.9 451.2h0M588.9 374.7h0M545.9 321.9h0M442.1 334.2h0M591.3 381.3h0M623.5 425.2h0M564.6 306.6h0M505.3 322.2h0M475.1 309.3h0M533.2 330.8h0M602.5 463.1h0M603.6 379.9h0M593.6 449.1h0M488.9 324.7h0M613.5 441.7h0M588.7 477.2h0M494.7 309.5h0M576.8 462.7h0M554.8 336.6h0M581.5 359.5h0M457.4 310.7h0M486.0 317.9h0M593.6 464.8h0M529.4 313.3h0M594.7 446.1h0M600.7 444.3h0M591.8 415.0h0M590.5 436.5h0M603.3 418.5h0M463.9 328.4h0M573.5 484.5h0M590.1 422.4h0M604.1 415.5h0M465.5 329.5h0M456.4 321.8h0M599.4 421.4h0M563.5 484.9h0M532.4 323.6h0M577.4 468.3h0M604.2 457.3h0M594.0 424.4h0M453.9 332.6h0M593.1 413.7h0M457.4 327.6h0M603.6 447.4h0M552.3 340.1h0M583.1 371.6h0M515.6 321.7h0M429.8 315.1h0M558.6 333.5h0M589.9 435.6h0M607.7 435.2h0M496.4 309.9h0M497.6 320.0h0M590.5 423.7h0M613.1 411.9h0M451.9 331.9h0M573.5 331.2h0M466.5 328.4h0M583.8 440.1h0M476.7 327.0h0M597.1 436.3h0M577.6 460.4h0M604.5 426.1h0M538.4 310.9h0M591.2 340.0h0M575.8 461.1h0M585.7 457.7h0M588.8 412.1h0M601.0 453.9h0M453.2 324.8h0M594.7 425.4h0M562.9 344.5h0M605.9 379.9h0M577.1 344.7h0M601.1 420.1h0M590.2 396.8h0M500.6 311.5h0M538.2 334.0h0M527.4 326.6h0M458.8 333.1h0M626.9 447.1h0M545.5 316.3h0M613.0 411.3h0M601.8 403.1h0M611.8 434.3h0M494.7 309.7h0M604.2 395.3h0M431.2 336.6h0M581.5 361.2h0M595.0 434.8h0M599.9 428.3h0M462.1 315.0h0M477.4 327.4h0M468.4 316.0h0M527.1 322.4h0M574.6 465.8h0M496.1 319.2h0M523.8 326.3h0M534.4 330.7h0M596.3 388.5h0M593.1 435.0h0M606.0 464.3h0M589.7 395.1h0M595.7 481.2h0M590.9 389.4h0M588.2 440.1h0M615.6 423.8h0M513.3 323.2h0M585.9 426.1h0M605.6 425.5h0M589.2 474.3h0M487.0 319.7h0M453.4 323.4h0M602.1 406.7h0M496.3 318.6h0M455.9 332.5h0M509.2 317.0h0M609.9 452.1h0M601.5 398.1h0M620.4 418.4h0M479.3 312.5h0M546.9 308.1h0M584.1 399.0h0M479.7 309.3h0M476.7 327.7h0M479.3 317.3h0M484.5 323.2h0M616.8 427.5h0M586.1 458.8h0M593.0 481.5h0M586.0 398.4h0M597.9 418.8h0M550.2 337.1h0M459.7 322.8h0M620.3 433.0h0M482.4 311.1h0M598.2 377.8h0M561.0 337.8h0M566.2 323.9h0M448.9 331.9h0M475.6 327.0h0M430.3 342.7h0M618.6 428.1h0M618.0 437.9h0M531.0 312.5h0" stroke="#b4d49c" stroke-width="2.5" stroke-linecap="round" fill="none"/>
<path d="M418.3 456.6h0M539.3 337.3h0M486.0 333.7h0M571.4 401.4h0M571.1 429.4h0M443.1 478.7h0M493.1 342.9h0M492.3 331.8h0M490.4 341.9h0M563.2 467.2h0M572.8 435.3h0M570.3 389.2h0M568.0 436.9h0M471.7 344.9h0M585.0 420.3h0M574.1 414.6h0M482.8 343.7h0M422.9 451.3h0M552.4 472.4h0M443.3 364.0h0M583.7 423.8h0M555.4 370.4h0M479.4 342.1h0M576.1 410.3h0M558.1 469.8h0M458.4 351.2h0M575.6 443.9h0M565.3 441.9h0M456.1 352.6h0M566.3 450.0h0M425.8 403.5h0M524.5 334.5h0M554.5 474.2h0M571.4 370.3h0M491.5 337.8h0M451.8 348.1h0M493.0 327.9h0M561.4 478.9h0M560.8 454.9h0M551.4 483.7h0M542.4 357.4h0M532.7 337.1h0M464.0 333.0h0M510.2 339.2h0M519.0 346.0h0M421.7 420.8h0M577.6 421.5h0M488.8 340.4h0M428.9 443.4h0M501.4 336.1h0M438.9 472.3h0M449.2 346.2h0M580.8 418.0h0M494.0 330.9h0M489.0 328.4h0M568.3 429.1h0M544.5 362.4h0M469.4 342.4h0M536.4 337.8h0M573.3 380.3h0M567.3 431.6h0M426.8 454.6h0M585.3 409.6h0M533.7 338.9h0M461.8 334.7h0M485.7 329.7h0M574.9 439.0h0M552.7 473.8h0M575.9 428.4h0M464.9 334.7h0M565.0 380.1h0M528.5 332.1h0M578.2 437.0h0M531.3 352.5h0M488.5 328.8h0M493.6 338.9h0M567.4 468.8h0M489.8 341.0h0M577.2 401.7h0M568.6 417.9h0M554.8 352.9h0M521.9 342.9h0M513.2 327.4h0M538.8 355.4h0M529.7 349.9h0M561.7 451.6h0M568.7 435.3h0M486.8 333.0h0M526.8 344.8h0M564.4 449.5h0M431.3 449.4h0M456.1 343.2h0M568.7 415.8h0M523.5 347.9h0M576.7 409.3h0M585.6 416.1h0M423.0 381.2h0M558.2 464.2h0M493.8 340.0h0M493.6 343.3h0M451.2 338.7h0M424.3 441.7h0M575.8 413.3h0M452.3 348.3h0M575.6 407.6h0M567.8 392.2h0M572.5 465.5h0M422.5 459.0h0M512.6 332.3h0M530.8 345.6h0M552.7 464.7h0M485.8 330.7h0M491.7 339.1h0M583.0 432.9h0M489.2 340.6h0M554.2 354.6h0M470.2 342.0h0M576.6 442.1h0M482.2 328.0h0M489.5 341.5h0M431.5 447.7h0M442.4 354.9h0M503.9 326.8h0M502.4 338.3h0M508.9 330.7h0M422.1 419.5h0M440.9 468.3h0M514.4 332.5h0M497.8 338.1h0M492.9 338.7h0M564.6 450.6h0M483.3 327.8h0M570.6 428.3h0M453.4 339.6h0M577.0 441.4h0M504.7 342.4h0M476.7 332.5h0M575.6 414.3h0M454.3 350.2h0M454.2 358.3h0M574.1 445.9h0M577.4 435.3h0M563.6 459.3h0M562.8 478.8h0M569.0 412.2h0M421.7 410.9h0M569.3 424.6h0M486.8 333.9h0M491.4 334.1h0M570.5 401.5h0M419.6 455.0h0M571.6 414.3h0M510.1 338.3h0M507.4 327.2h0M560.2 381.4h0M583.9 412.8h0M475.2 328.4h0M532.6 343.1h0M469.3 346.1h0M559.3 360.2h0M524.4 342.5h0M485.6 334.5h0M552.0 469.4h0M487.1 327.7h0M527.6 331.5h0M423.8 427.8h0M478.5 330.1h0M454.4 349.6h0M570.0 417.1h0M563.8 460.8h0M504.9 333.9h0M423.4 425.2h0M549.9 365.0h0M580.4 390.6h0M561.0 356.9h0M489.4 336.6h0M474.3 344.0h0M439.0 352.6h0M471.5 336.1h0M564.6 387.8h0M564.1 476.6h0M479.3 340.0h0M502.9 332.9h0M477.1 343.9h0M572.9 439.2h0M527.9 331.8h0M576.7 414.7h0M430.5 374.8h0M508.9 338.6h0M509.4 328.4h0M580.1 399.1h0M470.0 348.9h0M420.1 462.1h0M424.9 417.7h0M574.8 418.5h0M528.6 347.5h0M539.6 340.5h0M478.0 331.5h0M424.5 447.5h0M506.5 336.3h0M489.2 326.8h0M473.7 338.8h0M584.3 433.7h0M495.8 338.9h0M576.6 416.9h0M542.7 353.0h0M566.4 437.1h0M544.0 476.4h0M578.5 397.5h0M569.4 453.5h0M491.0 338.3h0M455.3 348.5h0M577.5 428.3h0M475.1 341.3h0M555.3 465.8h0M468.7 339.8h0M567.3 380.7h0M489.8 333.7h0M521.9 333.4h0M549.7 354.5h0M570.7 411.8h0M454.4 353.3h0M576.7 422.0h0M577.3 452.6h0M578.6 434.6h0M566.1 454.1h0M577.9 415.5h0M487.7 336.4h0M579.9 399.2h0M441.7 471.7h0M578.2 439.2h0M465.1 344.3h0M427.5 394.7h0M507.2 337.9h0M446.6 352.2h0M425.9 432.6h0M570.8 402.5h0M463.5 332.3h0M522.6 333.9h0M559.1 477.7h0M432.1 451.9h0M546.8 359.9h0M568.8 465.0h0M579.5 411.3h0M533.3 353.9h0M501.1 334.9h0M580.7 407.8h0M578.0 424.3h0M561.9 375.4h0M491.9 334.3h0M494.6 331.0h0M493.5 329.0h0M573.3 446.8h0M514.4 338.4h0M484.4 335.7h0M572.7 394.5h0M495.5 336.5h0M582.0 436.4h0M431.0 457.4h0M567.6 432.4h0M482.2 344.4h0M564.2 384.0h0M468.1 346.7h0M505.9 342.9h0M576.5 456.3h0M575.3 404.2h0M578.9 448.8h0M557.7 462.1h0M582.3 402.5h0M579.4 421.2h0M560.6 363.3h0M547.0 363.6h0M504.7 341.1h0M554.3 357.2h0M506.9 331.0h0M420.6 428.7h0M490.5 327.6h0M483.2 334.1h0M421.0 440.7h0M570.8 459.0h0M515.0 342.2h0M536.1 344.8h0M520.0 346.1h0M572.7 438.4h0M582.1 435.2h0M568.3 442.6h0M571.6 438.3h0M577.0 412.1h0M529.0 335.2h0M576.6 439.3h0M581.6 435.9h0M450.4 353.6h0M429.3 453.6h0M563.9 457.9h0M583.9 434.1h0M419.9 401.1h0M447.9 349.3h0M475.8 340.8h0M580.6 442.7h0M464.6 341.7h0M577.6 402.7h0M518.1 344.8h0M558.9 356.9h0M521.9 347.6h0M582.8 418.9h0M466.1 349.8h0M466.5 342.7h0M540.5 347.7h0M558.3 366.6h0M545.3 359.2h0M543.9 348.1h0M580.2 421.1h0M572.5 446.5h0M560.4 372.1h0M568.3 462.8h0M544.6 476.2h0M569.7 367.6h0M531.3 333.7h0M420.3 434.6h0M507.6 329.0h0M529.2 340.1h0M425.4 450.2h0M430.0 458.8h0M453.1 344.9h0M564.0 357.3h0M534.7 482.0h0M439.6 484.8h0M536.7 336.4h0M574.5 395.5h0M469.3 347.9h0M560.5 360.2h0M575.1 441.4h0M421.3 434.6h0M569.8 449.5h0M492.6 342.7h0M475.4 333.4h0M530.7 337.7h0M538.2 353.7h0M526.6 334.8h0M550.9 349.9h0M580.2 412.8h0M567.8 457.7h0M534.9 339.5h0M446.4 362.3h0M445.0 346.2h0M474.6 342.7h0M579.8 425.4h0M467.9 335.5h0M516.2 332.9h0M577.2 447.2h0M436.3 369.2h0M448.8 352.3h0M463.8 347.2h0M460.5 345.8h0M477.6 346.0h0M440.5 347.4h0M488.0 338.4h0M578.3 414.4h0M525.5 339.6h0M569.8 382.1h0M454.2 348.8h0M475.0 347.1h0M479.9 334.2h0M582.8 405.7h0M580.0 427.9h0M567.3 451.8h0M489.6 326.6h0M568.7 434.7h0M560.7 383.5h0M481.8 341.9h0M495.6 331.6h0M568.6 404.5h0M504.7 342.3h0M579.8 400.9h0M502.0 335.6h0M575.6 450.6h0M425.0 425.7h0M578.7 397.6h0M573.9 419.0h0M573.2 427.8h0M571.8 436.3h0M524.0 347.9h0M512.6 332.5h0M418.8 392.9h0M524.8 347.2h0M424.5 396.5h0M469.1 339.1h0M423.5 432.2h0M418.6 443.5h0M565.4 453.3h0M577.7 419.2h0M463.7 342.3h0M531.1 342.3h0M488.4 336.4h0M583.7 438.2h0M423.9 434.7h0M574.4 436.9h0M552.5 357.3h0M572.4 426.3h0M455.9 353.0h0M426.4 449.7h0M434.6 467.5h0M573.6 451.4h0M569.4 466.8h0M564.8 457.3h0M535.8 339.6h0M582.7 405.5h0M499.7 334.0h0M491.4 338.6h0M421.7 403.4h0M575.7 416.9h0M573.3 374.4h0M581.5 416.4h0M444.9 475.5h0M469.6 333.4h0M567.4 446.3h0M494.4 334.5h0M582.9 439.3h0M565.0 443.3h0M526.6 346.7h0M447.1 477.4h0M476.8 341.7h0M581.8 406.6h0M423.2 438.2h0M419.6 399.5h0M495.0 329.8h0M492.1 340.1h0M567.9 459.0h0M498.5 332.9h0M578.3 442.5h0M424.7 403.6h0M489.9 329.4h0M455.8 356.9h0M569.6 451.8h0M577.7 455.2h0M419.3 435.6h0M553.1 354.0h0M518.0 335.1h0M578.4 445.8h0M437.4 462.2h0M428.8 468.2h0M581.8 399.4h0M577.1 445.4h0M474.4 334.2h0M558.8 467.6h0M463.7 333.8h0M493.7 336.1h0M575.6 389.8h0M536.7 480.6h0M498.9 332.8h0M578.3 422.8h0M571.6 428.8h0M494.0 338.3h0M517.4 331.2h0M563.4 475.8h0M420.7 435.4h0M506.6 343.8h0M582.5 394.8h0M570.9 439.1h0M573.4 439.9h0M451.5 353.1h0M551.0 358.8h0M572.5 448.7h0M512.4 342.4h0M562.1 474.2h0M555.5 357.5h0M580.5 441.0h0M428.3 462.8h0M538.4 349.3h0M471.3 337.7h0M463.0 484.8h0M565.0 456.5h0M499.3 332.6h0M472.5 333.2h0M574.9 447.8h0M556.1 364.9h0M565.0 446.1h0M563.5 375.9h0M572.0 443.2h0M484.1 344.5h0M426.4 452.4h0M431.8 378.0h0M584.0 412.6h0M557.6 458.9h0M498.2 336.4h0M551.1 477.3h0M429.1 451.4h0M582.1 410.1h0M424.8 422.7h0M523.6 345.1h0M560.9 453.9h0M554.2 463.6h0M574.9 422.2h0M559.5 457.5h0M461.6 348.6h0M511.4 340.8h0M570.6 411.0h0M570.0 419.8h0M578.3 381.7h0M570.7 441.1h0M506.7 331.1h0M558.4 460.9h0M570.0 437.6h0M434.5 482.7h0M573.1 439.6h0M559.0 463.9h0M478.7 335.7h0M437.4 481.3h0M515.0 336.1h0M461.6 336.7h0M568.5 471.3h0M453.3 338.3h0M537.8 481.0h0M551.3 346.5h0M512.2 345.1h0M567.0 400.3h0M568.6 409.8h0M513.2 329.6h0M446.1 360.1h0M572.9 452.6h0M517.6 337.1h0M501.7 329.5h0M491.5 333.2h0M420.2 429.2h0M568.3 442.9h0M582.0 406.4h0M458.4 343.0h0M508.2 332.7h0M430.9 376.0h0M438.0 460.8h0M546.4 348.7h0M565.1 454.3h0M452.7 358.7h0M525.5 340.2h0M569.6 471.2h0M532.4 350.9h0M528.5 335.6h0M460.0 335.9h0M564.5 459.4h0M483.0 343.6h0M426.2 451.2h0M490.0 343.1h0M571.7 441.0h0M577.5 402.5h0M490.3 336.2h0M576.7 442.1h0M560.5 474.5h0M574.3 404.0h0M491.5 340.1h0M573.7 444.8h0M572.8 427.7h0M499.8 332.2h0M550.0 364.2h0M486.9 337.8h0M477.6 344.9h0M490.5 336.6h0M482.9 327.4h0M476.1 344.5h0M576.2 394.5h0M424.1 430.7h0M507.2 338.0h0M584.6 405.4h0M512.1 343.8h0M577.9 420.9h0M561.7 384.1h0M468.1 333.9h0M577.1 420.0h0M560.4 472.4h0M424.6 455.4h0M513.2 336.6h0M564.4 453.3h0M573.2 390.6h0M571.1 390.4h0M434.4 459.9h0M499.2 339.8h0M564.2 448.5h0M458.2 483.8h0M509.6 339.5h0M565.7 462.5h0M569.8 432.6h0M575.9 415.3h0M578.5 430.0h0M585.5 416.2h0M456.5 355.9h0M575.4 415.2h0M429.5 449.5h0M573.6 432.6h0M452.5 480.6h0M517.8 339.3h0M513.8 337.2h0M462.4 336.7h0M517.8 344.8h0M433.4 460.1h0M470.7 335.1h0M439.8 475.4h0M539.9 352.7h0M550.6 354.4h0M532.4 335.9h0M560.1 471.6h0M428.8 460.7h0M521.6 334.8h0M483.8 336.6h0M579.4 419.5h0M529.8 351.5h0M569.4 470.2h0M568.4 439.0h0M423.3 439.9h0M554.8 470.7h0M423.3 399.5h0M458.0 342.0h0M572.9 406.1h0M577.5 425.1h0M574.0 426.1h0M514.9 345.6h0M569.8 430.6h0M574.6 445.6h0M560.0 361.8h0M517.9 340.9h0M497.4 343.5h0M534.2 341.1h0M478.8 332.5h0M425.8 388.6h0M420.1 447.5h0M575.8 453.8h0M575.1 445.6h0M518.9 334.2h0M535.7 338.3h0M517.5 346.3h0M562.6 450.2h0M458.8 336.9h0M423.6 415.5h0M568.8 437.4h0M571.1 402.3h0M521.1 339.5h0M432.0 377.6h0M577.4 440.1h0M521.8 333.0h0M450.6 478.6h0M576.3 410.9h0M573.1 445.5h0M440.3 472.8h0M570.8 407.1h0M436.6 472.5h0M569.5 441.5h0M563.4 466.0h0M577.3 443.5h0M580.2 425.0h0M549.7 469.7h0M479.7 340.4h0M494.0 328.6h0M577.6 413.5h0M506.1 335.3h0M572.7 404.3h0M422.0 448.8h0M445.7 345.5h0M566.2 438.7h0M579.5 412.1h0M550.8 356.6h0M540.4 354.8h0M430.2 448.5h0M442.8 358.6h0M562.1 375.4h0M546.1 359.5h0M577.8 410.8h0M574.1 457.3h0M529.4 338.6h0M579.9 411.7h0M526.9 344.0h0M485.1 340.8h0M530.7 344.3h0M516.0 331.8h0M426.6 432.8h0M431.2 456.6h0M581.4 420.7h0M572.5 420.3h0M541.0 354.8h0M470.9 345.3h0M419.0 436.8h0M581.4 440.7h0M539.8 340.0h0M543.9 475.9h0M569.8 438.4h0M419.4 459.1h0M579.1 446.9h0M509.6 343.1h0M430.0 451.5h0M481.0 344.5h0M420.0 411.7h0M424.0 447.6h0M426.1 393.0h0M575.3 427.9h0M470.1 334.4h0M430.3 470.7h0M566.9 435.2h0M484.9 342.6h0M428.3 460.7h0M524.7 348.5h0M489.5 333.4h0M487.0 330.6h0M512.0 335.4h0M557.2 368.6h0M568.1 374.5h0M575.6 419.0h0M535.0 340.5h0M583.2 432.9h0M516.4 328.4h0M560.1 372.5h0M577.7 408.3h0M419.9 414.0h0M575.0 447.6h0M424.1 458.5h0M439.0 349.5h0M568.6 421.1h0M573.7 418.2h0M565.9 444.8h0M428.2 390.1h0M584.7 412.2h0M569.0 380.2h0M584.4 403.9h0M578.5 415.5h0M525.0 339.8h0M562.7 456.9h0M492.9 335.5h0M496.0 328.9h0M492.8 341.1h0M563.4 464.0h0M433.6 382.2h0M485.8 340.2h0M498.2 339.2h0M426.4 446.1h0M503.3 338.6h0M433.0 362.8h0M478.4 335.7h0M435.3 458.2h0M540.2 355.6h0M551.2 467.5h0M430.5 467.7h0M502.7 335.9h0M569.8 454.1h0M550.8 476.0h0M576.9 383.2h0M579.1 414.6h0M569.6 411.8h0M529.0 335.1h0M555.7 365.6h0M419.0 433.4h0M570.7 430.4h0M468.4 338.8h0M571.7 409.7h0M497.6 331.8h0M570.1 447.2h0M420.8 439.0h0M573.1 435.6h0M453.7 349.5h0M422.1 448.3h0M445.5 471.4h0M427.1 447.0h0M528.2 336.3h0M460.4 342.7h0M569.4 421.8h0M484.4 334.1h0M575.6 453.5h0M574.2 429.0h0M543.0 479.9h0M579.0 422.4h0M488.6 330.0h0M485.1 342.6h0M572.6 394.5h0M457.9 344.0h0M428.6 475.6h0M443.7 353.7h0M489.1 336.3h0M533.9 337.4h0M469.0 340.2h0M486.5 339.0h0M566.2 393.7h0M453.7 341.1h0M480.4 333.6h0M498.1 337.9h0M431.8 371.4h0M531.8 485.1h0M460.4 349.1h0M461.8 337.4h0M574.3 446.7h0M559.9 464.8h0M470.9 348.3h0M429.1 475.3h0M565.2 394.4h0M433.5 462.8h0M484.4 328.8h0M473.5 330.8h0M571.7 388.2h0M422.7 404.8h0M556.5 477.2h0M486.9 331.3h0M465.5 349.5h0" stroke="#a3c99b" stroke-width="2.5" stroke-linecap="round" fill="none"/>
<path d="M475.4 350.1h0M558.2 434.5h0M503.9 348.5h0M482.5 477.4h0M471.2 474.8h0M487.9 347.8h0M476.2 361.2h0M447.3 372.7h0M565.4 438.0h0M481.6 350.2h0M568.3 416.8h0M556.2 411.0h0M526.0 475.3h0M550.4 463.8h0M556.3 441.1h0M441.3 448.3h0M551.2 460.1h0M564.7 405.3h0M521.0 356.7h0M498.1 346.5h0M558.7 413.6h0M471.5 359.3h0M442.1 447.2h0M551.7 397.0h0M560.9 432.9h0M471.8 352.3h0M451.3 460.7h0M527.5 472.0h0M514.8 480.6h0M515.1 352.0h0M560.4 407.6h0M478.7 484.1h0M565.7 438.6h0M439.3 439.9h0M560.5 401.0h0M538.6 471.5h0M472.1 358.1h0M473.8 360.9h0M457.0 463.6h0M459.0 362.5h0M463.1 364.3h0M441.5 463.2h0M508.9 350.2h0M557.7 450.9h0M464.6 364.1h0M470.0 476.6h0M474.3 357.3h0M524.9 353.9h0M515.5 475.7h0M554.9 456.7h0M553.5 453.0h0M554.8 446.8h0M564.6 428.2h0M552.6 446.6h0M448.3 373.2h0M496.6 349.4h0M566.0 427.4h0M447.8 463.9h0M450.2 468.7h0M502.0 352.1h0M529.0 358.3h0M430.8 408.4h0M455.3 363.2h0M468.5 355.8h0M557.6 379.2h0M445.3 457.9h0M558.2 391.3h0M444.4 445.6h0M430.4 416.3h0M509.0 354.6h0M433.1 423.9h0M559.4 400.0h0M541.5 468.5h0M501.6 345.9h0M507.7 356.6h0M546.9 453.4h0M553.3 435.7h0M480.0 356.1h0M493.5 357.2h0M549.7 376.5h0M438.0 402.7h0M484.8 350.1h0M508.9 477.8h0M548.9 383.9h0M500.4 355.9h0M543.2 375.3h0M562.7 424.5h0M537.5 364.7h0M565.1 402.5h0M440.6 447.7h0M564.2 402.7h0M529.0 479.4h0M479.0 359.4h0M447.2 460.5h0M507.6 345.7h0M494.0 353.9h0M535.3 473.6h0M555.1 437.2h0M523.4 356.2h0M562.4 420.1h0M526.4 365.5h0M564.8 425.0h0M512.5 484.8h0M546.2 453.0h0M499.1 352.3h0M434.5 440.0h0M442.3 443.6h0M507.3 346.8h0M558.1 421.3h0M556.9 449.9h0M455.4 371.9h0M502.0 346.3h0M437.8 398.6h0M479.6 352.5h0M427.9 406.3h0M528.9 363.8h0M460.3 470.5h0M555.2 403.4h0M559.2 439.7h0M458.2 464.0h0M437.6 428.7h0M441.8 398.0h0M438.5 415.1h0M527.1 357.3h0M496.1 349.8h0M526.8 363.1h0M473.8 361.3h0M564.2 405.9h0M474.0 477.3h0M529.5 472.5h0M553.0 456.3h0M551.6 380.7h0M487.5 351.5h0M470.2 355.9h0M546.1 451.9h0M457.5 478.1h0M490.5 356.4h0M446.1 374.1h0M564.2 418.7h0M467.6 470.4h0M556.0 414.1h0M531.2 354.5h0M560.8 430.2h0M445.7 455.0h0M437.3 427.1h0M454.4 463.5h0M552.3 459.7h0M434.1 437.8h0M566.1 414.7h0M479.1 349.5h0M501.0 353.2h0M522.5 361.4h0M456.7 466.0h0M459.8 355.4h0M562.3 417.1h0M545.4 468.6h0M447.8 368.8h0M511.5 478.4h0M563.4 444.0h0M481.5 480.4h0M491.2 349.4h0M495.6 352.7h0M558.1 429.7h0M522.0 475.1h0M502.0 352.6h0M507.1 481.6h0M438.0 416.8h0M553.6 448.2h0M554.8 434.5h0M555.9 453.4h0M439.8 439.9h0M508.0 345.6h0M548.0 455.3h0M508.4 358.3h0M524.7 359.7h0M562.6 415.2h0M564.6 409.7h0M459.4 361.7h0M564.7 420.1h0M452.0 363.7h0M429.5 435.3h0M557.4 452.2h0M488.6 351.7h0M492.4 351.2h0M554.3 443.3h0M428.6 434.5h0M552.7 388.2h0M527.7 471.8h0M438.0 399.1h0M494.5 344.4h0M558.6 415.8h0M487.7 348.3h0M426.0 426.1h0M440.1 404.5h0M520.2 356.2h0M521.8 361.8h0M515.6 354.2h0M554.1 434.2h0M558.6 392.4h0M499.7 346.9h0M445.3 453.1h0M560.6 438.7h0M558.0 397.2h0M555.4 419.6h0M532.9 478.1h0M511.1 358.2h0M443.6 457.8h0M550.3 459.1h0M515.0 349.3h0M561.4 398.9h0M475.5 476.3h0M463.3 355.1h0M500.7 354.9h0M430.5 437.9h0M464.1 354.6h0M429.7 427.6h0M564.7 425.6h0M477.6 351.6h0M442.9 441.5h0M553.5 439.3h0M517.2 360.9h0M479.1 356.8h0M489.8 356.6h0M564.0 436.2h0M437.1 399.4h0M558.6 418.3h0M505.9 481.2h0M539.1 473.7h0M484.3 351.1h0M461.4 476.1h0M501.9 353.2h0M487.3 484.3h0M523.2 351.3h0M545.2 366.1h0M557.6 445.5h0M544.6 470.4h0M567.4 430.2h0M469.7 364.2h0M526.4 362.3h0M536.1 358.3h0M482.8 345.2h0M448.2 363.9h0M554.4 430.3h0M534.8 370.5h0M489.8 479.0h0M533.0 359.5h0M436.7 411.2h0M481.2 346.8h0M490.2 349.4h0M553.1 441.2h0M558.0 441.5h0M501.2 355.2h0M441.4 451.7h0M436.9 402.2h0M464.9 361.4h0M428.9 398.1h0M437.9 452.5h0M522.5 358.5h0M513.6 347.4h0M504.8 346.2h0M469.6 356.6h0M552.9 395.4h0M567.2 417.9h0M560.8 442.4h0M538.1 368.6h0M541.6 462.5h0M528.6 356.1h0M508.3 351.0h0M432.8 431.8h0M541.7 470.2h0M488.5 349.9h0M563.1 443.1h0M502.6 356.1h0M506.8 481.4h0M455.3 373.9h0M439.0 446.7h0M549.3 453.7h0M490.2 349.9h0M554.2 458.8h0M450.1 375.4h0M454.3 368.2h0M431.8 413.1h0M562.1 434.5h0M541.7 466.4h0M562.9 424.5h0M531.7 358.5h0M558.9 416.3h0M443.8 462.0h0M456.7 364.7h0M567.2 404.8h0M482.1 356.3h0M442.3 451.8h0M540.4 362.6h0M450.2 369.4h0M523.1 472.7h0M536.6 476.8h0M557.7 381.9h0M434.1 426.2h0M557.5 401.8h0M437.6 397.0h0M504.8 354.5h0M532.7 358.0h0M463.3 362.8h0M549.5 446.5h0M553.9 437.7h0M519.1 349.0h0M443.8 380.1h0M540.8 468.0h0M450.7 364.2h0M508.9 347.4h0M549.2 374.7h0M487.7 354.5h0M540.4 476.0h0M497.8 356.4h0M563.5 419.4h0M560.7 445.3h0M482.9 348.1h0M554.5 405.8h0M451.5 378.6h0M468.1 479.6h0M541.9 371.0h0M536.0 364.8h0M460.6 470.5h0M555.5 410.3h0M522.1 363.3h0M501.4 345.7h0M560.6 407.0h0M492.6 355.0h0M555.9 421.4h0M499.0 351.2h0M461.3 357.0h0M509.2 357.0h0M498.4 344.5h0M503.3 352.4h0M519.2 358.9h0M440.4 461.6h0M483.6 354.1h0M455.5 474.1h0M559.4 419.4h0M452.5 461.4h0M512.0 358.9h0M503.8 356.1h0M538.8 471.2h0M437.1 450.7h0M447.8 381.0h0M511.2 359.1h0M500.2 352.3h0M549.2 451.0h0M564.1 421.6h0M470.2 351.0h0M553.3 396.9h0M560.1 428.3h0M452.7 361.7h0M562.5 429.0h0M531.8 478.5h0M525.5 357.4h0M493.5 348.5h0M565.2 438.4h0M541.8 459.8h0M434.3 450.2h0M436.1 414.4h0M471.5 350.7h0M435.1 422.9h0M432.4 421.0h0M490.7 479.4h0M558.5 410.7h0M546.7 456.2h0M498.9 351.4h0M555.8 397.1h0M434.2 439.2h0M560.3 440.6h0M428.8 430.0h0M513.6 359.0h0M558.4 439.0h0M443.7 458.8h0M523.0 349.9h0M552.4 462.9h0M562.7 441.8h0M531.8 365.4h0M514.6 479.0h0M442.5 440.9h0M500.9 347.2h0M564.1 421.9h0M438.0 440.9h0M520.6 479.4h0M565.8 427.7h0M490.9 348.6h0M553.6 453.5h0M439.0 447.3h0M477.6 352.2h0M448.3 378.4h0M540.0 366.1h0M567.4 406.8h0M479.5 354.0h0M528.2 477.3h0M503.2 344.3h0M541.1 360.2h0M440.7 440.4h0M464.5 364.0h0M427.2 428.2h0M554.8 458.4h0M452.5 458.7h0M472.2 360.0h0M449.4 454.6h0M554.6 447.1h0M521.8 356.8h0M495.4 348.3h0M565.3 412.5h0M547.3 369.8h0M452.7 367.2h0M479.3 347.5h0M562.6 444.6h0M562.2 389.9h0M549.1 448.9h0M555.9 411.4h0M450.2 464.4h0M440.4 451.6h0M440.3 446.9h0M517.2 347.2h0M558.9 435.5h0M549.5 460.2h0M559.1 417.2h0M547.5 460.1h0M438.2 395.9h0M556.3 443.9h0M525.9 353.7h0M456.1 462.8h0M448.9 457.9h0M565.9 425.5h0M458.0 479.5h0M501.4 478.5h0M553.7 453.2h0M501.7 346.6h0M567.2 430.1h0M482.2 354.6h0M507.0 351.6h0M526.8 356.7h0M471.6 351.5h0M510.7 345.6h0M443.7 383.7h0M556.1 433.9h0M554.8 378.3h0M566.2 402.0h0M557.5 429.1h0M562.1 420.1h0M486.4 356.9h0M560.3 447.3h0M528.0 360.5h0M487.9 480.4h0M547.1 455.1h0M442.0 437.9h0M510.3 352.8h0M457.9 360.3h0M457.9 364.2h0M565.0 397.9h0M501.1 350.7h0M560.1 442.9h0M564.0 420.0h0M466.5 472.4h0M557.7 405.1h0M519.3 475.5h0M469.0 359.0h0M434.7 403.6h0M508.8 352.9h0M531.4 362.5h0M554.9 458.5h0M460.1 359.9h0M523.9 353.9h0M461.8 363.7h0M439.0 449.6h0M561.3 439.5h0M440.9 444.8h0M503.7 345.2h0M533.1 363.0h0M514.3 478.8h0M453.4 466.6h0M537.1 369.0h0M460.6 356.7h0M473.7 475.4h0M432.4 437.6h0M551.2 444.3h0M566.8 404.1h0M517.3 351.5h0M456.1 463.9h0M438.6 416.9h0M535.2 369.3h0M554.8 388.7h0M484.2 350.2h0M451.9 471.7h0M462.4 470.2h0M565.3 400.6h0M561.7 394.6h0M439.9 386.4h0M440.0 447.2h0M452.9 376.2h0M476.1 355.6h0M488.7 347.5h0M509.1 358.3h0M546.7 469.6h0M481.5 478.1h0M515.3 478.5h0M490.4 352.2h0M542.3 467.4h0M490.7 350.9h0M443.0 455.6h0M438.2 441.8h0M541.9 458.3h0M554.0 386.7h0M556.8 446.0h0M492.0 350.3h0M551.3 455.2h0M448.3 370.5h0M556.0 458.2h0M526.5 361.9h0M555.7 417.5h0M526.6 358.2h0M503.1 351.0h0M498.3 354.4h0M461.3 469.1h0M458.3 367.4h0M478.6 351.4h0M558.0 451.1h0M555.4 408.9h0M490.7 345.4h0M506.4 353.6h0M561.8 437.3h0M564.3 420.4h0M562.0 439.9h0M444.8 446.9h0M427.3 425.7h0M539.2 471.2h0M533.8 358.6h0M493.9 347.9h0M446.3 462.5h0M485.3 346.4h0M440.2 457.0h0M455.4 465.6h0M435.4 441.9h0M443.7 369.7h0M446.5 448.1h0M555.2 437.4h0M517.0 354.8h0M437.6 400.7h0M479.4 352.1h0M560.2 426.9h0M428.0 423.7h0M539.1 466.2h0M548.5 454.3h0M437.3 415.6h0M517.6 347.3h0M446.6 465.2h0M481.9 351.6h0M493.4 346.7h0M494.9 349.6h0M535.0 475.3h0M561.2 448.1h0M470.3 349.3h0M464.7 353.7h0M554.2 440.3h0M483.4 355.9h0M558.1 440.4h0M435.9 437.6h0M546.4 453.7h0M522.9 358.1h0M502.7 344.6h0M510.0 348.5h0M521.9 348.5h0M522.0 352.2h0M502.4 485.0h0M440.8 434.2h0M487.3 355.9h0M521.1 360.5h0M541.2 466.9h0M550.6 381.3h0M471.3 353.4h0M557.1 391.2h0M543.8 462.7h0M504.2 355.5h0M558.3 450.9h0M554.4 375.5h0M529.4 352.6h0M489.0 345.8h0M468.9 359.6h0M493.8 484.6h0M471.4 475.5h0M521.4 352.3h0M486.6 483.8h0M511.5 352.2h0M557.5 381.0h0M447.3 385.4h0M566.5 429.6h0M500.1 348.1h0M511.1 484.9h0M485.4 348.3h0M551.7 397.0h0M548.7 448.6h0M478.0 347.9h0M469.5 360.5h0M471.6 478.7h0M510.7 355.8h0M510.4 356.4h0M431.9 427.6h0M534.6 359.7h0M514.6 360.2h0M533.3 366.3h0M557.0 399.1h0M443.1 453.3h0M437.5 388.5h0M541.8 372.0h0M457.5 479.5h0M436.3 447.5h0M521.5 477.4h0M552.9 396.3h0M549.9 382.0h0M479.7 358.1h0M504.6 349.8h0M532.2 476.5h0M433.3 406.0h0M451.4 369.8h0M463.1 473.7h0M467.1 354.6h0M431.7 429.1h0M539.4 460.7h0M477.0 482.0h0M487.8 481.9h0M464.8 354.4h0M501.2 353.8h0M539.3 474.9h0M511.0 353.9h0M554.6 392.4h0M447.5 378.9h0M529.6 472.0h0M553.4 441.2h0M428.1 431.0h0M433.0 385.2h0M509.9 345.6h0M521.2 477.5h0M439.5 440.1h0M475.5 356.0h0M537.5 473.5h0M489.2 347.1h0M470.7 359.7h0M436.9 431.7h0M526.1 474.3h0M507.3 352.6h0M565.3 400.5h0M519.0 353.3h0M442.8 455.3h0M560.9 421.9h0M560.1 424.3h0M482.8 358.9h0M467.2 354.7h0M560.1 438.7h0M555.1 404.4h0M458.0 476.2h0M555.8 420.6h0M464.1 355.0h0M503.4 352.9h0M523.1 353.9h0M553.5 436.1h0M530.3 469.9h0M496.0 481.2h0M460.2 369.3h0M552.9 436.2h0M447.8 468.2h0M553.6 393.7h0M565.0 435.3h0M465.7 469.7h0M439.9 406.3h0M546.3 454.0h0M556.6 443.5h0M477.9 355.1h0M498.3 353.7h0M544.4 373.0h0M560.0 447.1h0M547.0 462.6h0M518.2 475.0h0M480.0 350.7h0M436.0 432.2h0M433.5 419.9h0M458.4 365.0h0M563.0 423.0h0M556.9 449.0h0M431.6 404.5h0M518.5 353.4h0M508.9 352.7h0M512.1 351.9h0M508.7 354.6h0M554.1 383.2h0M539.8 472.8h0M551.4 396.4h0M521.4 361.1h0M468.5 351.1h0M555.9 438.4h0M483.4 358.9h0M441.9 392.8h0M558.9 438.4h0M553.1 442.4h0M464.4 475.9h0M487.8 353.6h0M479.6 354.6h0M554.5 431.4h0M443.5 463.1h0M486.8 357.2h0M460.5 365.2h0M496.7 355.7h0M564.8 416.6h0M454.5 374.8h0M427.4 412.0h0M511.0 347.7h0M437.7 436.9h0M564.2 439.0h0M526.6 474.5h0M550.9 374.1h0M539.4 375.8h0M563.4 426.2h0M555.2 384.6h0M469.9 361.0h0M507.0 482.2h0M433.3 428.8h0M522.4 476.2h0M509.4 353.9h0M433.8 385.3h0M486.5 478.0h0M458.9 467.6h0M436.8 399.3h0M543.6 379.3h0M456.1 476.7h0M463.0 474.4h0M435.1 393.4h0M557.2 423.5h0M474.1 361.8h0M495.9 350.6h0M557.2 411.6h0M514.8 359.4h0M469.5 484.5h0M560.5 399.6h0M445.5 455.2h0M529.2 352.3h0M531.9 358.3h0M564.6 424.2h0M555.8 435.4h0M558.6 446.1h0M494.2 353.5h0M464.6 363.5h0M447.8 376.4h0M529.4 473.3h0M491.8 349.2h0M436.5 441.0h0M437.3 439.9h0M564.8 396.5h0M456.7 467.7h0M494.2 482.0h0M462.6 478.3h0M556.7 441.2h0M491.1 348.9h0M437.4 420.9h0M482.6 354.7h0M523.9 362.1h0M555.7 443.0h0M437.7 419.2h0M474.3 356.3h0M473.5 482.2h0M425.7 418.2h0M539.0 464.6h0M534.9 364.7h0M455.4 370.6h0M442.1 376.1h0M437.2 447.5h0M532.9 357.1h0M553.5 400.6h0M475.8 348.2h0M476.7 357.9h0M533.9 366.1h0M506.6 354.0h0M437.3 405.5h0M442.0 441.7h0M545.2 466.8h0M503.4 356.8h0M551.4 459.9h0M522.5 351.2h0M453.5 463.4h0M532.1 469.3h0M433.5 405.4h0M438.9 409.9h0M439.6 435.8h0M527.3 355.7h0M436.6 443.3h0M480.0 349.7h0M447.0 454.8h0M439.4 439.2h0M533.1 358.4h0M450.5 370.6h0M438.3 454.7h0M442.6 445.7h0M527.0 475.6h0M554.9 382.4h0M437.7 432.7h0M434.1 432.7h0M565.5 415.4h0M489.1 356.4h0M552.9 457.3h0M519.6 357.5h0M563.1 398.3h0M433.7 425.3h0M475.2 479.3h0M441.7 380.1h0M500.8 347.9h0M541.7 461.4h0M507.6 357.9h0M478.7 351.5h0M438.6 399.1h0M505.3 351.4h0M533.0 366.8h0M540.9 373.8h0M557.3 451.8h0M501.7 357.6h0M517.8 352.4h0M504.2 353.5h0M538.1 359.9h0M522.9 361.5h0M494.7 357.4h0M559.2 410.7h0M477.4 347.4h0M553.5 448.4h0M447.7 466.1h0M561.8 424.9h0M435.3 450.2h0M560.8 438.5h0M517.3 354.0h0M537.0 467.3h0M514.3 481.6h0M560.9 426.6h0M563.2 421.7h0M552.9 379.5h0M431.2 439.0h0M469.1 363.0h0M492.0 483.7h0M564.5 416.5h0M526.3 360.5h0M507.6 357.7h0M439.9 383.4h0M565.0 433.8h0M552.4 442.4h0M520.1 357.2h0M539.8 365.6h0M440.2 373.2h0M556.0 442.7h0M523.7 361.8h0M513.0 351.9h0M557.1 399.4h0M567.1 429.2h0M526.5 360.4h0M434.1 434.1h0M560.9 403.4h0M513.6 353.3h0M565.1 401.0h0M541.1 459.2h0M560.3 403.2h0M523.7 358.4h0M491.6 345.2h0M543.2 458.2h0M442.3 443.5h0M544.2 473.6h0M559.1 415.1h0M433.7 383.5h0M536.1 470.8h0M438.9 407.7h0M448.4 371.2h0M559.7 433.2h0M554.9 428.7h0M536.3 467.7h0M565.6 437.1h0M553.9 379.8h0M459.6 467.6h0M560.9 400.7h0M551.5 378.1h0M554.3 382.6h0M508.4 347.3h0M483.3 484.9h0M540.6 367.3h0M491.7 479.6h0M479.1 355.6h0M511.9 477.5h0M450.1 472.0h0M475.8 352.2h0M507.9 345.7h0M465.2 353.3h0M465.2 478.3h0M559.5 423.1h0M535.0 370.9h0M537.2 367.1h0M540.2 471.5h0M436.3 404.6h0M475.1 355.1h0M434.3 412.1h0M526.8 358.7h0M449.1 368.3h0M450.0 454.0h0M433.4 392.0h0M533.2 471.0h0M438.3 446.2h0M557.0 443.5h0M530.2 353.8h0M501.0 352.6h0M548.9 376.7h0M533.7 480.7h0M556.0 424.4h0M503.4 343.9h0M518.1 360.9h0M445.8 448.6h0M521.7 356.7h0M436.9 400.7h0M530.2 361.1h0M473.2 476.9h0M442.1 455.4h0M555.1 398.2h0M540.9 473.7h0M521.9 349.3h0M479.1 353.1h0M556.2 401.6h0M496.4 345.7h0M429.9 415.1h0M499.9 480.8h0M534.8 366.4h0M515.8 359.6h0M549.2 386.9h0M517.7 358.1h0M474.4 351.4h0M552.1 381.2h0M565.3 415.8h0M555.0 445.7h0M543.0 458.7h0M441.4 455.5h0M549.1 375.6h0M486.2 351.9h0M547.8 450.2h0M470.5 350.5h0M487.9 347.2h0M563.2 411.8h0M524.7 476.1h0M564.0 421.0h0M493.6 483.9h0M529.8 473.7h0M434.7 395.4h0M503.9 353.1h0M554.5 435.7h0M509.4 345.8h0M513.3 480.2h0M444.4 447.4h0M546.9 449.2h0M467.5 359.3h0M436.9 392.5h0M555.1 460.7h0M556.3 444.2h0" stroke="#8dbc9a" stroke-width="2.5" stroke-linecap="round" fill="none"/>
<path d="M533.9 381.8h0M450.0 421.7h0M546.3 443.3h0M530.8 371.5h0M522.7 371.1h0M520.2 463.3h0M516.9 362.3h0M541.1 453.5h0M473.5 371.9h0M469.6 465.1h0M444.7 392.9h0M554.2 416.3h0M510.2 362.4h0M501.3 470.2h0M468.7 375.7h0M447.0 402.6h0M480.6 372.1h0M467.8 368.0h0M448.8 444.9h0M478.1 362.0h0M526.1 466.7h0M461.0 383.1h0M504.1 360.4h0M534.7 388.6h0M443.0 436.1h0M448.6 411.8h0M510.9 363.9h0M480.3 362.9h0M549.6 401.4h0M552.4 417.9h0M448.9 416.6h0M446.8 434.1h0M461.8 462.6h0M494.5 478.5h0M467.8 369.0h0M523.2 369.3h0M550.2 397.3h0M547.5 416.3h0M546.5 415.0h0M455.3 456.6h0M529.9 382.6h0M483.4 367.3h0M473.9 368.0h0M439.2 413.3h0M505.5 363.1h0M442.4 404.9h0M449.0 403.0h0M547.3 392.2h0M476.8 464.6h0M509.2 359.0h0M546.6 447.3h0M545.1 407.1h0M554.0 428.4h0M439.2 422.4h0M494.6 364.5h0M520.9 370.1h0M477.8 370.6h0M445.9 442.9h0M496.6 360.3h0M446.6 419.1h0M519.3 372.6h0M471.2 370.0h0M497.8 474.2h0M503.2 362.1h0M545.7 443.0h0M528.2 379.3h0M506.4 361.9h0M520.9 469.1h0M447.7 443.0h0M444.7 431.0h0M455.8 383.1h0M552.6 422.7h0M494.3 475.8h0M517.2 372.8h0M468.4 372.0h0M521.3 461.4h0M495.9 361.6h0M471.4 467.2h0M537.4 452.5h0M493.1 471.1h0M544.2 394.4h0M527.8 467.2h0M540.8 380.3h0M454.5 450.3h0M539.9 457.1h0M491.9 361.2h0M447.1 415.4h0M448.0 405.9h0M442.1 417.0h0M489.4 358.8h0M545.0 392.4h0M522.3 371.4h0M450.1 451.3h0M465.6 380.2h0M519.3 368.3h0M460.9 457.3h0M554.4 411.3h0M506.3 366.1h0M496.0 368.2h0M516.3 373.1h0M500.5 474.8h0M551.8 429.5h0M547.3 397.6h0M474.9 373.4h0M499.0 365.9h0M458.3 459.4h0M528.5 458.7h0M531.6 459.9h0M522.3 370.5h0M546.9 444.6h0M467.8 370.9h0M469.4 370.4h0M548.2 425.5h0M547.2 397.8h0M523.9 374.8h0M473.4 472.3h0M550.9 397.0h0M507.3 473.2h0M545.5 389.7h0M534.0 377.8h0M513.9 369.1h0M470.0 373.6h0M472.6 364.5h0M543.5 450.3h0M552.4 419.6h0M469.9 376.5h0M451.1 402.5h0M542.7 405.7h0M514.3 364.1h0M477.9 365.1h0M445.1 420.9h0M453.3 452.2h0M461.5 385.2h0M477.4 468.0h0M493.8 364.6h0M538.3 458.6h0M451.1 401.9h0M509.0 471.2h0M486.8 470.2h0M476.8 468.1h0M523.0 466.9h0M476.0 371.2h0M534.6 461.1h0M528.9 377.4h0M515.4 367.8h0M468.5 374.2h0M505.9 472.5h0M529.4 465.6h0M506.2 365.3h0M550.3 399.4h0M498.2 467.5h0M511.9 366.9h0M546.6 424.0h0M441.9 424.5h0M454.6 387.0h0M480.1 361.7h0M545.8 416.5h0M543.8 388.4h0M454.4 395.8h0M510.8 471.7h0M510.0 364.4h0M488.3 467.6h0M544.3 415.5h0M519.6 469.0h0M469.2 378.6h0M541.3 395.9h0M519.9 472.8h0M441.1 412.0h0M455.4 450.0h0M550.9 408.9h0M485.6 365.6h0M505.3 366.2h0M502.7 473.1h0M463.9 464.7h0M533.3 376.5h0M480.2 361.3h0M549.4 400.2h0M524.6 377.6h0M488.3 470.7h0M549.1 428.7h0M517.6 363.4h0M446.1 428.4h0M451.5 450.5h0M521.7 368.7h0M447.8 441.3h0M477.4 370.0h0M522.4 376.8h0M529.2 377.6h0M531.8 370.6h0M512.7 361.4h0M452.1 393.4h0M518.7 373.2h0M517.4 372.5h0M484.0 364.1h0M544.1 403.7h0M443.5 420.2h0M487.8 361.8h0M508.4 473.3h0M460.7 457.8h0M467.5 375.0h0M473.5 364.7h0M547.9 438.3h0M510.8 369.5h0M533.0 457.2h0M550.9 398.5h0M522.8 365.1h0M494.6 369.1h0M554.6 426.0h0M447.8 433.3h0M523.2 372.5h0M544.0 445.9h0M547.3 393.4h0M479.4 368.4h0M469.5 374.0h0M547.6 411.9h0M461.9 375.4h0M507.1 467.3h0M486.4 467.9h0M541.3 399.2h0M552.0 425.4h0M490.8 358.3h0M515.2 367.4h0M525.5 367.2h0M447.0 408.4h0M483.7 474.0h0M495.6 360.3h0M534.3 461.2h0M472.4 472.2h0M526.9 462.5h0M502.1 362.4h0M502.0 364.4h0M545.0 416.5h0M480.2 367.7h0M445.7 417.3h0M550.0 441.1h0M544.1 418.5h0M477.5 370.6h0M495.3 367.6h0M515.7 366.6h0M548.7 420.3h0M467.1 467.2h0M515.4 361.0h0M549.5 394.9h0M489.8 361.7h0M491.6 468.8h0M553.9 428.3h0M512.5 369.2h0M542.0 395.1h0M539.9 390.9h0M540.7 454.2h0M550.2 427.6h0M448.4 421.8h0M486.3 368.5h0M544.9 452.2h0M496.6 363.4h0M549.0 396.6h0M540.2 384.3h0M479.9 361.2h0M472.0 366.5h0M512.3 371.6h0M550.8 434.4h0M449.2 388.2h0M457.8 453.9h0M549.8 431.3h0M449.6 445.2h0M505.1 361.3h0M542.3 381.8h0M531.2 374.3h0M531.4 383.1h0M547.1 399.3h0M515.0 466.1h0M463.4 456.7h0M481.1 359.8h0M551.3 429.0h0M536.1 375.5h0M547.7 442.9h0M468.8 372.9h0M541.3 450.7h0M482.4 464.7h0M447.8 395.8h0M501.3 364.3h0M526.0 467.9h0M448.0 448.4h0M495.9 368.8h0M550.0 415.0h0M540.5 456.7h0M536.7 459.6h0M485.4 360.0h0M515.6 467.5h0M446.6 422.0h0M448.2 447.9h0M543.7 402.5h0M456.9 450.8h0M488.9 359.7h0M536.2 387.3h0M501.0 469.0h0M551.7 419.6h0M451.7 397.5h0M444.7 441.4h0M547.1 425.4h0M509.4 370.2h0M466.5 379.8h0M465.4 373.2h0M525.5 374.8h0M538.9 454.8h0M472.5 364.0h0M535.1 455.6h0M499.9 359.3h0M547.6 443.5h0M466.2 368.5h0M469.3 374.6h0M481.1 475.5h0M446.8 392.6h0M453.6 380.2h0M498.1 361.4h0M467.2 459.4h0M502.2 470.6h0M478.7 466.1h0M482.1 366.1h0M536.7 458.3h0M552.5 419.4h0M447.6 429.2h0M544.9 390.1h0M447.2 416.5h0M518.9 467.0h0M532.1 381.9h0M449.2 443.3h0M506.0 358.8h0M553.9 426.2h0M471.0 369.0h0M507.1 360.2h0M450.0 450.6h0M552.4 425.2h0M464.6 377.4h0M536.0 458.4h0M472.4 370.2h0M482.5 369.2h0M521.4 463.5h0M493.5 368.7h0M472.2 472.0h0M512.1 467.7h0M524.5 368.9h0M548.8 436.5h0M500.1 473.9h0M495.1 470.7h0M450.9 405.7h0M499.1 472.7h0M493.7 363.4h0M457.7 457.5h0M543.2 390.1h0M550.2 426.0h0M508.9 366.3h0M479.3 369.4h0M548.3 406.6h0M449.7 402.2h0M491.2 469.5h0M524.8 463.4h0M552.1 405.0h0M514.4 367.6h0M517.5 366.1h0M453.7 395.5h0M479.7 363.1h0M469.5 377.2h0M539.9 391.2h0M492.6 364.4h0M544.9 447.3h0M523.1 373.2h0M542.8 454.7h0M480.7 367.1h0M525.0 469.9h0M538.7 458.0h0M470.7 465.5h0M488.9 367.3h0M455.1 389.5h0M461.1 371.5h0M553.3 407.1h0M545.8 445.5h0M447.7 425.5h0M523.0 466.6h0M546.6 395.0h0M545.1 416.8h0M530.7 457.9h0M479.8 371.7h0M519.6 464.8h0M447.2 437.7h0M553.8 428.9h0M508.9 368.6h0M529.7 376.4h0M510.5 367.1h0M527.3 459.5h0M479.3 364.7h0M443.2 430.2h0M512.9 465.1h0M470.8 467.9h0M552.4 433.8h0M473.0 365.6h0M448.2 398.4h0M527.1 375.3h0M546.5 446.5h0M496.3 361.1h0M544.7 448.8h0M471.8 375.5h0M552.1 405.9h0M481.4 369.9h0M523.4 465.9h0M510.2 471.7h0M488.0 476.9h0M535.4 378.2h0M536.6 456.9h0M519.1 472.3h0M547.3 405.0h0M507.3 368.7h0M501.3 358.3h0M451.1 450.7h0M480.0 363.0h0M550.3 437.3h0M460.3 381.4h0M508.5 473.8h0M520.8 463.0h0M457.2 385.1h0M490.3 365.7h0M549.8 399.1h0M521.6 373.7h0M448.8 399.2h0M506.4 467.8h0M517.7 363.6h0M533.8 461.6h0M500.0 365.7h0M489.1 366.5h0M507.6 467.6h0M548.1 441.1h0M491.4 360.5h0M439.2 422.9h0M542.1 387.0h0M537.2 384.6h0M485.1 359.0h0M530.8 376.2h0M496.5 466.9h0M470.1 375.8h0M459.1 459.8h0M443.0 426.8h0M528.0 377.1h0M442.5 402.0h0M531.8 379.6h0M443.3 399.9h0M444.9 432.4h0M518.0 367.2h0M524.1 372.6h0M515.9 361.6h0M504.1 358.4h0M453.8 387.0h0M469.4 366.5h0M496.8 475.1h0M506.9 470.2h0M492.4 475.7h0M514.1 471.2h0M462.7 376.4h0M442.6 438.8h0M498.8 362.2h0M476.2 365.5h0M473.4 371.6h0M475.1 462.2h0M442.8 437.7h0M473.4 469.6h0M525.3 369.2h0M458.2 452.3h0M453.8 448.1h0M508.3 365.2h0M502.4 358.1h0M467.2 459.4h0M495.3 359.7h0M444.7 434.8h0M501.9 363.5h0M488.5 363.1h0M504.2 474.3h0M534.9 375.9h0M511.0 473.0h0M444.5 433.6h0M518.5 466.5h0M467.3 459.9h0M545.7 405.3h0M460.7 372.0h0M526.8 376.4h0M448.2 398.3h0M521.8 373.0h0M551.0 408.2h0M492.7 362.6h0M464.9 378.6h0M521.4 369.9h0M468.9 462.7h0M536.7 389.9h0M474.4 363.8h0M539.9 391.6h0M550.8 407.5h0M549.7 421.4h0M474.7 368.2h0M488.3 358.5h0M493.4 476.6h0M483.7 365.5h0M548.7 426.4h0M482.9 360.6h0M446.6 405.1h0M485.2 471.5h0M527.7 369.9h0M551.7 410.5h0M452.9 456.6h0M527.5 379.0h0M489.9 363.6h0M529.2 466.8h0M547.7 417.8h0M445.8 429.9h0M521.6 363.1h0M514.5 470.9h0M448.0 440.1h0M439.7 416.7h0M446.1 402.7h0M488.0 466.3h0M496.4 476.9h0M478.6 472.1h0M504.2 467.7h0M440.7 411.0h0M549.7 420.1h0M447.6 402.0h0M513.1 369.7h0M488.3 366.1h0M551.4 419.0h0M544.2 418.2h0M518.5 472.2h0M458.9 384.7h0M453.2 399.9h0M475.0 469.6h0M548.5 428.1h0M515.6 363.1h0M517.3 370.7h0M510.0 366.6h0M541.6 382.8h0M499.8 363.2h0M513.6 360.3h0M549.9 403.4h0M549.7 423.6h0M505.6 468.9h0M501.6 358.1h0M464.6 375.8h0M443.9 441.2h0M463.0 371.4h0M494.1 467.1h0M472.3 372.9h0M510.0 468.0h0M517.4 368.8h0M546.2 408.8h0M480.8 471.3h0M527.9 377.3h0M442.7 428.4h0M449.6 389.3h0M485.9 363.6h0M549.8 432.0h0M501.2 468.9h0M545.7 390.6h0M446.2 407.7h0M516.3 464.2h0M452.1 403.8h0M512.6 475.1h0M553.9 422.4h0M513.7 473.7h0M523.9 374.6h0M507.7 362.4h0M456.3 459.8h0M483.7 469.1h0M550.2 415.4h0M447.7 421.3h0M475.9 473.1h0M553.0 423.1h0M440.8 425.0h0M507.2 365.1h0M447.4 413.7h0M510.2 471.8h0M442.8 419.6h0M542.5 390.7h0M544.1 394.2h0M506.1 362.3h0M454.4 392.5h0M542.3 449.4h0M444.6 443.0h0M458.9 386.3h0M445.2 436.1h0M501.4 475.1h0M457.2 452.6h0M447.1 445.7h0M546.3 416.3h0M535.8 456.9h0M545.2 386.1h0M533.7 461.3h0M509.6 467.8h0M501.2 360.3h0M551.1 439.2h0M511.0 368.8h0M486.9 365.9h0M466.2 464.6h0M461.0 373.2h0M462.0 459.8h0M500.2 362.9h0M455.9 378.5h0M525.5 465.1h0M459.1 381.7h0M543.5 408.2h0M449.1 421.1h0M443.6 430.7h0M510.8 370.6h0M478.5 367.1h0M488.2 368.0h0M478.1 471.0h0M471.0 367.0h0M550.4 401.2h0M473.2 365.7h0M510.6 370.3h0M455.9 389.1h0M547.8 419.9h0M454.8 458.4h0M512.3 369.1h0M506.1 369.5h0M497.2 475.8h0M478.9 364.6h0M465.0 373.8h0M528.8 461.3h0M456.1 383.7h0M495.5 369.1h0M533.7 378.7h0M488.7 359.9h0M549.3 428.8h0M441.4 411.7h0M503.9 363.3h0M538.0 387.8h0M548.5 443.0h0M545.1 414.7h0M459.9 454.1h0M469.6 464.3h0M513.0 468.8h0M512.3 359.7h0M482.6 365.2h0M450.5 395.5h0M491.5 368.1h0M448.2 440.6h0M515.4 463.5h0M546.7 404.8h0M535.7 459.8h0M526.5 372.8h0M540.7 380.0h0M542.8 397.6h0M542.7 398.3h0M485.4 465.7h0M552.8 430.1h0M549.4 423.9h0M440.1 410.4h0M547.9 430.0h0M482.2 370.3h0M445.2 437.9h0M549.5 428.7h0M478.8 365.2h0M542.7 454.7h0M551.5 415.1h0M454.6 395.7h0M446.6 412.8h0M521.2 469.4h0M551.1 423.9h0M530.9 379.9h0M478.0 470.3h0M443.7 427.0h0M486.1 466.6h0M518.3 370.9h0M498.0 363.5h0M521.6 375.1h0M449.8 446.4h0M478.0 365.7h0M542.7 388.1h0M544.9 444.5h0M514.2 369.9h0M503.7 363.8h0M491.9 362.2h0M482.5 359.6h0M469.0 469.2h0M543.5 394.1h0M517.2 369.8h0M464.5 381.2h0M481.2 364.2h0M503.6 366.4h0M442.3 432.6h0M471.7 366.6h0M446.6 439.5h0M536.5 455.2h0M466.6 462.7h0M526.4 459.8h0M507.8 469.9h0M494.7 368.4h0M553.5 405.7h0M492.8 471.2h0M485.8 364.1h0M447.5 447.0h0M530.8 377.7h0M458.4 460.1h0M554.3 412.8h0M545.5 415.2h0M535.3 456.6h0M447.3 415.8h0M538.2 390.0h0M467.5 467.7h0M522.3 372.9h0M454.9 395.4h0M445.3 411.4h0M461.2 454.5h0M523.9 377.3h0M443.2 417.3h0M464.7 465.5h0M527.9 368.0h0M476.3 470.8h0M441.5 409.2h0M489.0 361.4h0M531.2 369.2h0M457.5 389.5h0M454.7 450.2h0M486.6 360.1h0M528.2 380.4h0M524.7 371.5h0M449.1 411.4h0M494.7 362.2h0M461.4 456.1h0M488.6 471.4h0M494.1 467.1h0M517.4 468.1h0M499.5 367.9h0M524.9 377.3h0M549.2 433.2h0M507.0 362.0h0M488.6 359.2h0M447.7 429.1h0M523.0 470.9h0M458.8 456.2h0M449.2 415.3h0M447.9 404.7h0M519.2 374.3h0M482.6 475.0h0M465.3 367.6h0M466.9 465.7h0M448.4 407.6h0M459.8 454.2h0M550.7 397.0h0M545.8 418.7h0M471.7 367.9h0M489.2 367.5h0M445.9 437.8h0M445.5 426.3h0M530.8 371.7h0M493.2 471.3h0M490.5 360.5h0M500.4 469.8h0M480.4 366.6h0M450.1 384.0h0M473.4 466.9h0M550.3 439.1h0M444.7 433.3h0M510.5 363.3h0M532.2 372.1h0M549.9 424.7h0M526.2 369.6h0M540.3 456.0h0M504.4 470.3h0M448.6 422.3h0M514.2 467.9h0M550.2 431.6h0M546.3 445.5h0M506.5 368.2h0M524.0 370.4h0M544.5 415.8h0M448.3 443.2h0M463.3 380.6h0M534.0 456.1h0M484.9 370.2h0M552.2 426.6h0M504.6 474.4h0M525.0 460.8h0M538.3 457.2h0M498.4 477.3h0M444.4 428.3h0M441.5 401.8h0M509.0 363.5h0M546.4 442.1h0M499.4 367.3h0M441.0 407.9h0M485.0 472.5h0M461.5 460.2h0M531.8 460.7h0M499.7 362.2h0M493.1 357.8h0M442.5 407.9h0M500.5 478.1h0M499.9 357.6h0M446.2 430.3h0M491.9 367.3h0M543.5 409.5h0M465.4 461.6h0M446.6 441.0h0M493.3 369.1h0M478.1 372.8h0M496.0 362.8h0M454.7 452.6h0M536.6 373.8h0M537.9 390.1h0M445.7 408.2h0M490.8 469.4h0M495.6 471.1h0M465.3 381.8h0M450.1 413.1h0M488.3 467.5h0M449.8 409.0h0M549.4 397.5h0" stroke="#6aab95" stroke-width="2.5" stroke-linecap="round" fill="none"/>
<path d="M467.4 385.7h0M478.5 396.6h0M524.8 383.4h0M484.9 383.3h0M471.2 401.7h0M489.9 381.3h0M475.6 400.1h0M488.1 392.5h0M515.5 390.3h0M513.4 397.8h0M470.7 400.0h0M521.2 391.4h0M473.0 388.3h0M484.0 378.6h0M523.8 391.6h0M503.2 384.5h0M539.5 398.6h0M467.2 397.9h0M486.0 384.5h0M522.1 392.8h0M525.6 403.1h0M472.2 401.8h0M513.4 378.9h0M495.1 375.7h0M494.1 379.4h0M505.5 370.9h0M519.8 392.1h0M501.7 372.4h0M520.6 386.1h0M491.5 396.2h0M488.4 398.8h0M526.8 393.2h0M479.6 387.2h0M492.0 384.3h0M516.9 399.5h0M480.7 398.7h0M490.1 385.5h0M482.9 393.7h0M497.7 394.1h0M461.7 388.1h0M501.4 377.2h0M466.7 387.0h0M506.3 397.2h0M515.6 375.1h0M513.4 381.3h0M526.1 384.4h0M466.7 382.9h0M470.5 403.5h0M537.4 393.7h0M525.1 395.8h0M465.4 382.8h0M543.4 413.2h0M462.2 391.2h0M522.0 396.3h0M521.0 383.7h0M505.8 394.0h0M484.5 392.7h0M501.2 393.0h0M505.1 370.7h0M487.0 381.9h0M529.4 395.5h0M472.6 382.0h0M493.9 389.4h0M469.1 404.8h0M453.6 411.8h0M455.0 410.4h0M466.9 403.2h0M536.6 402.9h0M533.4 394.9h0M468.4 399.4h0M487.1 394.9h0M493.3 399.0h0M520.5 378.5h0M518.3 376.3h0M481.8 376.1h0M532.1 399.7h0M487.3 392.5h0M464.9 403.7h0M505.8 397.3h0M488.8 391.7h0M503.6 393.2h0M528.9 384.9h0M530.1 390.1h0M512.6 393.0h0M538.2 402.7h0M487.1 380.1h0M498.6 378.9h0M496.5 386.1h0M499.9 383.7h0M512.4 379.7h0M518.0 397.1h0M508.8 393.0h0M495.9 396.5h0M507.0 394.2h0M493.7 387.1h0M510.9 377.5h0M540.7 409.4h0M518.9 391.4h0M478.6 399.8h0M512.5 391.3h0M506.1 390.1h0M460.7 407.0h0M511.3 397.4h0M539.7 410.2h0M501.3 385.6h0M456.4 399.5h0M525.5 400.0h0M514.5 383.5h0M494.7 395.4h0M499.5 374.5h0M483.3 399.2h0M507.5 392.2h0M534.8 406.2h0M475.5 386.5h0M482.5 387.3h0M472.1 377.5h0M509.7 388.2h0M450.8 414.2h0M480.4 392.3h0M505.0 395.6h0M507.9 392.3h0M481.9 394.3h0M500.0 383.6h0M488.4 393.5h0M469.7 383.8h0M510.3 464.3h0M504.5 391.8h0M485.8 386.9h0M506.6 373.4h0M481.8 382.9h0M500.8 389.1h0M478.7 374.0h0M505.4 370.1h0M485.0 391.5h0M505.2 372.3h0M475.6 389.3h0M466.9 405.9h0M499.1 379.9h0M506.3 370.9h0M494.5 389.2h0M470.0 386.2h0M502.6 396.5h0M512.9 399.0h0M520.5 393.7h0M481.2 390.2h0M490.5 371.9h0M481.6 385.8h0M507.6 393.5h0M466.2 390.4h0M486.8 373.9h0M474.3 398.8h0M492.8 387.1h0M526.7 381.6h0M512.9 374.4h0M514.6 379.3h0M467.3 403.4h0M529.1 398.3h0M492.6 398.6h0M493.7 376.6h0M487.2 372.4h0M471.9 386.0h0M457.5 392.9h0M529.1 393.0h0M488.7 395.8h0M539.7 412.5h0M534.5 406.8h0M503.8 371.5h0M454.1 403.3h0M477.6 397.5h0M528.8 398.1h0M509.1 398.1h0M503.3 371.5h0M522.2 384.9h0M481.3 386.7h0M478.0 386.3h0M528.7 401.2h0M507.0 376.1h0M520.2 389.3h0M517.4 394.3h0M462.6 402.7h0M536.7 407.7h0M486.9 371.6h0M474.5 383.9h0M472.3 377.7h0M485.5 382.2h0M478.7 401.0h0M506.9 386.2h0M529.5 399.5h0M486.1 399.1h0M470.8 393.2h0M461.4 389.7h0M497.3 379.4h0M537.0 407.7h0M492.7 385.0h0M521.1 394.6h0M474.2 397.8h0M481.5 391.9h0M481.0 380.9h0M501.7 397.3h0M514.8 397.5h0M478.2 385.4h0M490.7 392.4h0M477.5 397.3h0M531.9 396.2h0M488.1 392.2h0M534.0 394.9h0M451.2 419.5h0M486.6 379.9h0M510.8 378.0h0M474.6 379.8h0M509.3 372.3h0M493.4 378.1h0M512.5 390.7h0M506.6 465.6h0M507.8 372.2h0M520.0 380.1h0M501.7 380.7h0M534.9 405.7h0M466.6 401.7h0M500.8 378.2h0M497.5 374.8h0M481.2 400.7h0M531.1 404.3h0M452.9 412.7h0M509.3 375.1h0M466.1 396.3h0M493.0 379.5h0M539.3 400.2h0M514.1 392.6h0M493.6 387.3h0M527.1 403.9h0M506.6 385.7h0M492.2 466.2h0M514.6 399.0h0M519.7 389.8h0M512.0 391.6h0M508.7 381.6h0M463.3 394.0h0M534.3 408.6h0M488.6 387.3h0M512.6 389.8h0M510.9 377.9h0M538.5 409.3h0M535.1 404.0h0M517.4 385.6h0M513.6 398.2h0M459.3 400.1h0M522.8 377.5h0M462.8 398.0h0M530.3 392.3h0M541.1 405.3h0M472.3 392.9h0M486.3 379.7h0M462.5 396.9h0M485.6 378.7h0M538.0 410.2h0M483.9 400.2h0M529.9 397.2h0M519.9 378.3h0M465.1 402.2h0M469.0 382.2h0M507.1 382.6h0M496.6 395.1h0M479.6 386.5h0M492.7 372.3h0M518.5 380.7h0M527.0 400.0h0M476.1 396.6h0M508.2 387.9h0M531.8 393.5h0M477.9 392.6h0M484.7 384.5h0M540.3 399.7h0M516.0 387.1h0M526.9 397.3h0M483.7 464.5h0M532.0 401.4h0M510.8 395.3h0M505.4 373.2h0M496.7 395.9h0M495.1 396.5h0M472.4 400.0h0M518.3 375.1h0M484.3 392.6h0M514.3 372.7h0M499.5 393.1h0M512.8 394.2h0M479.1 388.8h0M494.1 380.1h0M518.7 382.9h0M512.8 385.2h0M533.9 407.4h0M493.8 395.7h0M457.7 408.9h0M475.3 391.5h0M513.1 381.2h0M489.2 388.9h0M479.1 401.0h0M496.7 371.4h0M511.8 375.2h0M490.1 370.3h0M501.5 380.9h0M469.9 388.0h0M504.8 383.7h0M493.3 375.0h0M518.5 375.3h0M483.8 372.5h0M523.4 380.9h0M473.0 388.3h0M531.4 397.7h0M490.8 382.2h0M517.7 377.7h0M532.4 402.8h0M465.5 385.9h0M517.9 383.2h0M479.1 373.2h0M484.8 373.4h0M508.4 374.5h0M505.8 378.2h0M473.6 391.4h0M534.0 392.1h0M476.3 386.1h0M498.0 375.3h0M452.5 403.2h0M481.3 388.7h0M460.5 408.7h0M489.8 384.9h0M466.9 385.0h0M489.3 390.3h0M457.5 405.1h0M534.0 397.7h0M465.8 406.2h0M516.0 380.1h0M504.3 376.5h0M520.4 392.3h0M485.8 390.9h0M510.3 372.3h0M507.9 377.6h0M506.7 393.5h0M496.0 396.3h0M488.6 370.9h0M518.5 391.2h0M543.2 414.3h0M474.1 394.7h0M505.0 389.2h0M458.9 405.0h0M521.4 385.4h0M485.3 392.1h0M465.6 390.3h0M516.7 377.8h0M492.8 397.0h0M520.9 388.6h0M519.1 400.4h0M483.7 382.4h0M466.0 394.9h0M490.6 375.7h0M494.6 394.7h0M461.6 398.1h0M476.3 378.0h0M522.7 388.7h0M452.4 414.9h0M492.4 394.6h0M502.4 465.6h0M531.2 405.2h0M508.2 377.2h0M501.3 394.1h0M495.3 396.9h0M493.8 466.1h0M515.2 391.5h0M538.9 401.4h0M510.6 377.7h0M462.3 406.8h0M487.7 387.8h0M505.6 372.1h0M509.1 386.3h0M500.8 372.1h0M498.4 391.2h0M498.2 382.9h0M505.6 378.2h0M497.8 369.4h0M485.6 381.5h0M478.8 398.6h0M516.7 389.9h0M490.7 373.1h0M519.6 384.7h0M480.1 386.8h0M536.4 410.6h0M515.0 388.7h0M515.5 393.0h0M495.5 384.5h0M494.2 397.9h0M475.4 397.7h0M481.0 389.9h0M510.3 464.8h0M476.1 400.5h0M494.3 399.0h0M543.2 415.5h0M520.8 376.2h0M525.2 398.5h0M462.5 388.0h0M496.9 378.3h0M482.1 395.5h0M476.0 382.7h0M503.0 389.2h0M535.6 402.8h0M503.0 374.3h0M528.8 387.6h0M506.4 376.8h0M542.6 414.4h0M501.6 388.4h0M511.6 386.3h0M515.9 392.7h0M489.4 393.0h0M476.5 388.6h0M470.0 404.2h0M466.2 385.4h0M485.6 390.6h0M450.5 417.9h0M543.2 412.8h0M489.7 374.8h0M459.2 409.1h0M512.2 372.1h0M512.1 379.4h0M486.5 391.4h0M513.6 377.2h0M494.0 389.0h0M522.7 394.9h0M511.1 398.7h0M460.4 390.6h0M500.5 392.3h0M492.3 383.1h0M503.4 371.4h0M502.0 396.2h0M496.7 376.2h0M484.9 396.2h0M470.1 387.7h0M468.5 401.5h0M493.9 385.2h0M489.4 395.7h0M506.8 373.8h0M495.6 396.2h0M489.5 398.3h0M524.5 393.1h0M484.1 390.8h0M492.8 381.1h0M489.3 389.3h0M499.0 395.4h0M490.8 390.8h0M475.5 397.8h0M493.8 396.3h0M488.5 382.7h0M471.5 381.9h0M521.4 378.7h0M519.2 383.7h0M464.6 396.7h0M467.2 387.5h0M480.2 396.0h0M493.7 375.6h0M492.5 374.4h0M538.7 399.3h0M527.6 393.5h0M490.7 391.7h0M524.4 388.7h0M507.2 371.4h0M491.3 383.9h0M503.5 384.7h0M496.7 395.1h0M496.0 466.7h0M458.2 399.4h0M527.1 397.6h0M480.9 377.0h0M480.8 395.3h0M491.9 369.6h0M524.0 400.8h0M497.1 388.5h0M508.7 387.0h0M489.6 382.3h0M476.1 402.2h0M450.4 421.6h0M452.1 411.2h0M491.7 393.4h0M460.9 398.7h0M513.1 377.8h0M481.7 392.8h0M465.5 405.7h0M482.3 379.1h0M505.0 377.2h0M458.6 394.3h0M488.3 396.3h0M478.5 393.5h0M496.7 376.9h0M524.8 384.2h0M516.2 382.6h0M469.0 401.1h0M508.5 372.5h0M494.4 386.0h0M478.8 381.8h0M533.2 407.5h0M514.9 375.1h0M510.8 385.0h0M490.3 379.6h0M497.3 383.4h0M508.0 394.9h0M504.4 393.4h0M523.0 383.0h0M466.6 404.2h0M511.3 395.7h0M534.4 400.7h0M538.2 399.2h0M507.6 381.4h0M479.9 384.8h0M532.6 398.8h0M478.5 380.5h0M488.8 382.7h0M479.9 388.6h0M466.3 402.9h0M485.1 371.1h0M492.2 392.9h0M501.0 397.8h0M466.8 388.2h0M499.7 377.0h0M506.5 381.4h0M482.2 385.1h0M450.7 417.9h0M537.3 402.3h0M518.8 399.2h0M506.9 390.9h0M527.3 380.9h0M508.5 397.6h0M470.8 398.4h0M523.2 398.7h0M517.6 391.1h0M525.6 392.9h0M502.8 388.1h0M514.0 386.3h0M476.2 385.9h0M500.7 391.8h0M480.0 381.5h0M528.4 386.2h0M482.9 376.6h0M461.3 389.7h0M513.5 400.0h0M496.7 392.0h0M467.6 393.9h0M488.1 388.4h0M504.5 392.4h0M506.9 391.2h0M505.4 399.2h0M513.3 397.9h0M533.7 407.6h0M506.8 398.0h0M499.7 375.1h0M509.8 374.6h0M471.2 400.7h0M500.0 385.4h0M456.8 412.6h0M518.9 386.3h0M453.3 409.1h0M454.8 398.3h0M505.4 377.3h0M519.5 385.2h0M526.0 385.5h0M467.7 398.6h0M467.4 396.8h0M479.0 399.0h0M495.2 371.8h0M460.5 395.4h0M481.6 389.1h0M484.4 385.1h0M506.4 392.0h0M496.0 397.5h0M526.2 401.2h0M496.3 390.2h0M498.7 382.8h0M467.5 401.2h0M486.0 377.6h0M458.7 409.7h0M530.3 386.6h0M530.0 404.5h0M489.7 385.9h0M474.4 383.1h0M532.0 398.0h0M502.1 377.6h0M527.4 403.1h0M465.7 399.2h0M466.0 383.5h0M479.9 392.8h0M494.4 397.0h0M503.7 380.8h0M458.8 404.4h0M473.4 381.2h0M468.8 397.4h0M509.9 399.2h0M520.8 377.8h0M454.3 413.8h0M470.0 398.6h0M490.7 372.3h0M471.8 379.0h0M521.6 384.8h0M468.3 392.4h0M483.8 388.4h0M529.8 399.4h0M537.9 406.2h0M497.7 378.3h0M495.3 370.2h0M488.9 371.1h0M469.3 383.5h0M478.4 393.5h0M507.9 383.0h0M534.1 403.9h0M519.9 378.8h0M525.7 387.2h0M482.1 381.8h0M489.6 396.8h0M493.1 374.7h0M513.1 394.6h0M491.3 384.3h0M519.4 380.3h0M503.5 371.0h0M478.4 377.3h0M523.8 396.0h0M504.6 391.1h0M502.8 384.0h0M466.6 388.0h0M513.2 389.4h0M481.7 400.5h0M511.3 396.5h0M489.5 395.6h0M473.9 386.0h0M522.5 397.5h0M461.4 387.3h0M495.6 382.0h0M516.2 381.0h0M528.8 389.1h0M478.5 389.7h0M466.2 394.2h0M513.8 397.8h0M503.7 378.8h0M494.2 376.0h0M461.0 391.6h0M476.0 402.2h0M465.2 385.9h0M484.3 381.4h0M478.5 389.4h0M521.6 396.4h0M519.7 392.7h0M537.9 400.1h0M464.6 404.4h0M467.2 391.9h0M487.4 383.0h0M518.2 388.2h0M505.6 379.6h0M490.1 394.7h0M487.4 381.7h0M504.9 376.0h0M516.1 396.7h0M519.1 381.9h0M480.2 398.3h0M488.4 399.3h0M520.8 381.3h0M511.3 464.1h0M508.6 392.4h0M508.0 389.0h0M510.6 378.9h0M522.8 391.0h0M502.4 385.9h0M468.9 390.3h0M510.4 394.5h0M472.4 398.4h0M491.0 381.0h0M469.0 382.5h0M477.7 392.5h0M475.2 392.6h0M476.2 374.4h0M485.1 387.5h0M504.4 370.0h0M541.2 403.3h0M510.9 395.5h0M480.4 380.1h0M503.8 372.2h0M509.3 371.8h0M526.5 384.2h0M490.9 379.5h0M516.2 391.0h0M526.2 400.7h0M503.5 383.7h0M489.1 377.2h0M493.6 371.9h0M530.8 395.6h0M495.0 397.2h0M511.0 383.3h0M490.4 369.9h0M496.7 379.5h0M475.7 392.1h0M516.2 382.0h0M480.2 400.3h0M475.3 398.8h0M508.0 391.9h0M537.6 405.6h0M507.3 387.7h0M510.7 397.4h0M522.3 397.0h0M485.3 379.6h0M507.1 385.5h0M502.3 398.3h0M529.5 395.2h0M493.2 388.0h0M500.2 384.6h0M512.4 387.6h0M481.0 379.4h0M496.4 393.2h0M508.3 371.1h0M493.0 385.7h0M526.2 385.4h0M469.3 382.6h0M479.3 401.0h0M521.4 383.5h0M512.9 375.1h0M465.3 398.1h0M532.0 388.3h0M505.1 381.7h0M535.8 409.4h0M522.2 401.2h0M517.9 377.3h0M500.6 394.3h0M514.2 387.2h0M504.0 382.3h0M490.6 398.5h0M523.6 377.8h0M472.2 394.7h0M494.6 397.2h0M538.0 397.0h0M525.0 397.1h0M483.2 391.8h0M529.4 395.4h0M503.1 395.4h0M483.0 397.8h0M501.1 381.8h0M522.3 379.3h0M466.7 383.3h0M511.3 392.7h0M507.1 370.9h0M486.9 377.0h0M503.2 370.9h0M526.3 403.1h0M500.4 392.0h0M492.6 399.0h0M493.0 385.1h0M465.2 388.8h0M497.5 392.5h0M472.0 380.3h0M497.0 377.3h0M483.6 372.4h0M523.2 386.2h0M494.7 385.1h0M496.5 393.4h0M511.4 398.5h0M495.5 376.9h0M526.0 402.0h0M473.2 391.3h0M455.2 400.5h0M491.6 398.2h0M524.1 400.1h0M508.9 384.9h0M500.4 383.1h0M461.6 406.4h0M521.2 390.2h0M500.6 390.7h0M525.1 393.4h0M486.3 399.2h0M508.7 397.7h0M473.9 391.5h0M496.8 371.2h0M530.3 399.0h0M471.0 399.0h0M511.2 395.0h0M506.9 397.9h0M474.1 400.5h0M507.5 380.9h0M505.3 386.8h0M508.2 377.2h0M499.1 376.6h0M464.9 388.1h0M502.1 369.6h0M503.8 392.2h0M511.8 392.9h0M535.1 392.7h0M514.5 397.6h0M504.8 379.8h0M498.7 388.8h0M462.5 398.6h0M452.2 415.7h0M500.5 387.5h0M476.7 382.5h0M522.7 385.3h0M476.4 374.2h0M488.0 395.8h0M454.5 408.0h0M465.4 400.8h0M521.4 376.3h0M453.6 414.4h0M500.8 377.3h0M476.3 401.7h0M468.8 380.1h0M532.2 399.3h0M459.0 399.6h0M506.2 395.7h0M511.9 375.0h0M473.3 384.9h0M486.7 382.7h0M492.5 395.0h0M525.8 400.4h0M499.9 392.5h0M508.5 376.3h0M517.3 393.5h0M538.0 404.0h0M496.2 371.3h0M464.9 398.7h0M510.3 379.7h0M493.1 374.0h0M512.3 387.3h0M528.3 382.4h0M525.0 382.7h0M503.3 394.7h0M530.6 397.2h0M496.2 374.8h0M489.4 395.3h0M503.5 383.6h0M486.7 378.8h0M521.0 388.0h0M515.9 375.7h0M486.1 380.4h0M481.8 396.8h0M529.0 398.2h0M524.8 400.9h0M502.3 375.0h0M489.4 396.1h0M475.3 397.0h0M501.5 374.6h0M503.8 379.0h0M452.0 412.8h0M500.9 398.9h0M527.3 394.2h0M496.6 397.6h0M500.5 392.9h0M475.2 388.6h0M495.9 370.6h0M499.6 384.7h0M510.7 383.4h0M466.4 403.1h0M496.4 369.6h0M488.7 375.9h0M473.7 400.8h0M522.2 393.2h0M504.3 465.7h0M502.0 370.1h0M450.7 414.8h0M471.2 388.5h0M492.9 376.0h0M538.3 398.1h0M530.8 398.3h0M463.2 399.9h0M533.9 403.1h0M457.7 401.2h0M482.2 375.3h0M520.9 399.3h0M505.8 389.6h0M460.9 389.0h0M494.6 378.4h0M507.2 389.8h0M493.4 392.2h0M506.8 388.9h0M527.9 402.5h0M536.2 407.1h0M486.4 399.7h0M531.3 404.5h0M521.5 391.5h0M474.9 380.2h0M507.8 391.0h0M486.4 393.2h0M495.4 376.8h0M460.5 390.0h0M536.0 403.9h0M537.4 399.3h0M508.9 388.2h0M478.6 393.6h0M494.2 374.4h0M493.2 371.1h0M509.9 398.6h0M472.8 389.4h0M478.8 390.7h0M480.3 388.4h0M531.4 393.2h0M520.0 384.1h0M488.6 391.4h0M462.7 401.3h0M503.4 372.3h0M514.2 384.5h0M514.7 388.5h0M479.3 388.3h0M535.9 401.0h0M505.5 393.8h0M495.6 398.9h0M517.9 386.1h0M518.5 376.3h0M477.8 389.3h0M504.1 380.9h0M523.6 395.7h0M541.5 414.8h0M488.3 386.9h0M512.4 390.8h0M540.9 411.8h0M493.9 370.0h0M517.2 399.3h0M516.2 385.4h0M529.2 399.7h0M516.1 379.6h0M542.6 415.3h0M483.6 399.3h0M535.6 394.5h0M475.1 376.3h0M510.7 376.3h0M491.9 377.3h0M470.3 378.1h0M487.7 385.7h0M519.3 383.9h0M483.5 390.2h0M492.2 373.2h0M517.7 401.0h0M474.9 396.0h0M517.6 389.6h0M472.6 384.7h0M476.6 401.9h0M526.7 392.6h0M467.5 402.9h0M467.7 389.7h0M505.5 386.9h0M473.5 398.0h0M501.5 378.8h0M466.6 388.7h0M477.1 397.9h0M514.1 393.2h0M489.4 375.6h0M472.8 381.3h0M480.9 383.2h0M507.5 390.2h0M484.5 375.8h0M494.1 394.7h0M499.3 376.4h0M462.6 400.5h0M469.8 403.3h0M525.3 399.3h0M508.6 377.1h0M489.2 389.1h0M534.1 401.8h0M475.1 397.2h0M470.0 392.4h0M517.5 388.4h0M533.2 392.4h0M532.7 401.7h0M502.4 373.8h0M534.2 403.7h0M489.7 373.1h0M480.8 384.5h0M453.0 416.1h0" stroke="#4a9e92" stroke-width="2.5" stroke-linecap="round" fill="none"/>
<g filter="url(#blur2)">
<ellipse cx="498" cy="432" rx="56" ry="38" fill="#3f9c94"/>
<ellipse cx="498" cy="432" rx="50" ry="33" fill="#1e94a4"/>
<path d="M450,452C448,440 470,420 488,404C500,392 510,394 522,408C538,424 552,440 545,455C538,468 470,470 458,465C452,462 451,458 450,452z" fill="#1380b8"/>
<path d="M462,451C462,440 478,424 492,410C502,400 510,402 520,414C532,428 542,440 536,452C528,462 480,462 470,460C465,458 462,455 462,451z" fill="#1466b0"/>
<ellipse cx="500" cy="431" rx="27" ry="16" fill="#0d4f9c"/>
</g>
<path d="M472.7 460.3h0M498.3 398.8h0M452.5 434.0h0M495.9 468.0h0M538.3 410.7h0M470.6 461.8h0M515.0 395.3h0M541.5 439.8h0M457.3 444.3h0M450.3 424.3h0M543.3 436.9h0M442.5 427.7h0M497.7 465.1h0M455.9 407.6h0M456.9 408.4h0M470.8 458.1h0M531.0 404.5h0M533.9 458.8h0M543.7 451.9h0M476.5 397.5h0M459.7 450.8h0M538.5 419.5h0M449.9 431.3h0M534.6 451.7h0M543.5 431.0h0M542.5 418.9h0M485.8 400.0h0M549.5 437.8h0M532.3 451.5h0M531.0 462.4h0M480.0 464.5h0M468.2 458.0h0M535.6 447.8h0M509.9 400.9h0M539.8 420.5h0M530.3 402.0h0M525.3 403.1h0M548.2 445.4h0M515.7 402.6h0M504.1 402.3h0M462.7 414.1h0M534.5 455.2h0M541.9 409.5h0M493.8 401.9h0M541.2 420.1h0M467.2 404.7h0M467.9 458.5h0M501.6 400.5h0M545.5 411.8h0M485.5 465.3h0M531.0 405.8h0M546.8 443.9h0M527.4 462.8h0M527.0 460.4h0M484.6 466.3h0M550.6 424.4h0M466.7 459.0h0M470.5 406.0h0M447.2 431.2h0M531.4 459.9h0M521.2 463.8h0M543.4 415.3h0M536.3 408.5h0M455.5 450.3h0M519.3 398.2h0M446.9 426.0h0M484.9 462.0h0M453.2 425.0h0M483.1 460.7h0M460.7 413.1h0M527.9 454.2h0M463.3 461.7h0M449.3 441.6h0M453.8 442.5h0M532.4 404.4h0M457.7 453.7h0M528.9 403.4h0M527.9 454.0h0M543.9 441.4h0M546.7 420.4h0M520.3 463.4h0M456.9 408.1h0M496.8 396.3h0M489.9 463.3h0M528.2 456.9h0M475.8 461.9h0M521.9 463.7h0M516.0 399.7h0M455.3 445.1h0M510.7 402.1h0M509.5 463.7h0M513.9 399.3h0M513.1 460.6h0M537.7 404.8h0M543.2 411.4h0M443.9 425.5h0M506.6 461.7h0M456.7 411.7h0M504.2 398.3h0M493.5 469.2h0M477.3 402.7h0M514.4 464.9h0M461.0 453.3h0M442.8 431.9h0M456.0 418.9h0M516.9 401.4h0M535.9 449.5h0M482.4 459.9h0M536.9 411.3h0M547.4 446.4h0M506.0 402.3h0M477.6 464.4h0M447.5 432.5h0M483.3 403.2h0M552.5 442.4h0M464.4 457.5h0M453.0 437.3h0M527.6 407.0h0M511.9 398.4h0M454.1 444.8h0" stroke="#ffffff" stroke-width="1.6" stroke-linecap="round" stroke-opacity="0.85" fill="none"/>
<path d="M531.0 402.4h0M555.3 427.9h0M475.7 468.6h0M530.1 398.9h0M461.4 459.1h0M497.3 471.1h0M538.3 460.1h0M507.8 464.9h0M450.9 418.3h0M448.8 409.4h0M550.0 414.8h0M439.0 433.4h0M484.1 468.6h0M504.9 472.3h0M462.4 399.6h0M543.2 452.1h0M554.1 446.7h0M509.4 398.2h0M546.4 449.7h0M477.9 400.9h0M524.8 467.0h0M463.0 459.0h0M518.6 465.3h0M447.8 438.6h0M481.2 396.4h0M480.9 395.7h0M520.9 402.1h0M537.2 402.6h0M450.6 445.8h0M546.8 454.2h0M549.9 415.2h0M449.2 438.7h0M554.3 423.2h0M545.9 442.2h0M538.0 408.8h0M462.5 455.9h0M546.7 445.8h0M552.1 419.1h0M453.3 451.5h0M527.3 403.4h0M464.2 464.0h0M449.1 411.9h0M492.0 469.0h0M448.5 446.5h0M495.8 471.7h0M537.7 458.2h0M471.7 461.2h0M458.5 401.7h0M462.4 404.1h0M474.2 463.4h0M526.2 466.8h0M465.2 405.0h0M463.1 402.3h0M555.5 434.1h0M476.0 401.5h0M493.9 472.6h0M457.7 459.0h0M444.1 424.3h0M556.4 435.0h0M445.9 446.8h0M453.4 412.8h0M467.6 458.0h0M482.2 464.0h0M445.6 436.1h0M499.1 470.0h0M465.4 407.3h0M553.1 436.4h0M505.2 469.9h0M453.4 418.2h0M547.5 426.1h0M468.0 401.5h0M496.7 393.2h0M479.9 397.0h0M529.8 458.5h0M468.4 403.2h0M443.4 432.9h0M529.0 404.2h0M550.9 418.5h0M553.9 427.9h0M553.9 446.3h0M533.8 460.9h0M455.2 451.4h0M549.2 417.7h0M554.6 429.5h0M537.2 458.6h0M482.6 396.4h0M531.1 465.7h0M516.2 470.3h0M464.4 460.7h0M519.4 464.9h0M496.6 472.6h0M460.4 453.7h0M543.8 409.2h0M448.8 416.1h0M547.3 434.9h0M514.7 470.3h0M482.9 395.9h0M530.9 466.5h0M498.6 471.7h0M459.5 452.4h0M444.9 441.8h0M452.1 412.9h0M555.7 441.9h0M548.4 410.9h0M510.2 393.6h0M447.9 440.7h0M456.5 450.5h0M520.3 399.9h0M493.9 469.4h0M469.9 398.1h0" stroke="#5aa696" stroke-width="2.4" stroke-linecap="round" fill="none"/>
<circle cx="532.5" cy="419.5" r="1.0" fill="#fff" opacity="0.8"/>
<circle cx="529.8" cy="447.7" r="1.0" fill="#fff" opacity="0.8"/>
<circle cx="489.7" cy="432.3" r="0.8" fill="#fff" opacity="0.8"/>
<circle cx="495.9" cy="420.5" r="0.8" fill="#fff" opacity="0.8"/>
<circle cx="442.9" cy="422.2" r="0.6" fill="#fff" opacity="0.8"/>
<circle cx="518.0" cy="429.6" r="0.8" fill="#fff" opacity="0.8"/>
<circle cx="531.1" cy="431.4" r="0.8" fill="#fff" opacity="0.8"/>
<circle cx="529.8" cy="436.0" r="0.8" fill="#fff" opacity="0.8"/>
<circle cx="488.8" cy="432.1" r="0.6" fill="#fff" opacity="0.8"/>
<circle cx="499.9" cy="427.8" r="1.0" fill="#fff" opacity="0.8"/>
<circle cx="498.2" cy="434.1" r="1.0" fill="#fff" opacity="0.8"/>
<circle cx="455.0" cy="450.3" r="1.0" fill="#fff" opacity="0.8"/>
</g>
<rect x="416.9" y="304.4" width="213.20000000000005" height="182.70000000000005" fill="none" stroke="#4a4040" stroke-width="1"/>
<line x1="416.9" y1="487.1" x2="419.9" y2="487.1" stroke="#4a4040" stroke-width="1"/>
<text x="416" y="494.3" font-size="19.5" fill="#231815" text-anchor="end">0</text>
<line x1="416.9" y1="405.20000000000005" x2="419.9" y2="405.20000000000005" stroke="#4a4040" stroke-width="1"/>
<text x="416" y="412.40000000000003" font-size="19.5" fill="#231815" text-anchor="end">30</text>
<line x1="416.9" y1="323.3" x2="419.9" y2="323.3" stroke="#4a4040" stroke-width="1"/>
<text x="416" y="330.5" font-size="19.5" fill="#231815" text-anchor="end">60</text>
<line x1="454.6" y1="487.1" x2="454.6" y2="484.1" stroke="#4a4040" stroke-width="1"/>
<text x="454.6" y="505" font-size="19.5" fill="#231815" text-anchor="middle">1</text>
<line x1="517.1" y1="487.1" x2="517.1" y2="484.1" stroke="#4a4040" stroke-width="1"/>
<text x="517.1" y="505" font-size="19.5" fill="#231815" text-anchor="middle">2</text>
<line x1="579.6" y1="487.1" x2="579.6" y2="484.1" stroke="#4a4040" stroke-width="1"/>
<text x="579.6" y="505" font-size="19.5" fill="#231815" text-anchor="middle">3</text>
<text x="523.8" y="520" font-size="16.5" fill="#231815" text-anchor="middle">LL (yrs)</text>
<text x="376.6" y="395.8" font-size="17" fill="#231815" text-anchor="middle" transform="rotate(-90 376.6 395.8)">Resistance</text>
<text x="552.2" y="328.4" font-size="16" fill="#231815" text-anchor="start">n = 12448</text>
<rect x="643.3" y="304.2" width="8.7" height="183.4" fill="url(#dens)" stroke="#4a4040" stroke-width="0.6"/>
<line x1="652" y1="304.5" x2="656" y2="304.5" stroke="#4a4040" stroke-width="0.8"/>
<line x1="652" y1="487.3" x2="656" y2="487.3" stroke="#4a4040" stroke-width="0.8"/>
<text x="657.9" y="309" font-size="11" fill="#231815" text-anchor="start">High</text>
<text x="657.9" y="492" font-size="11" fill="#231815" text-anchor="start">Low</text>
<text x="679.5" y="395.4" font-size="12" fill="#231815" text-anchor="middle" transform="rotate(-90 679.5 395.4)">density</text>
<polyline points="426.4,466.3 445.4,452.3 464.2,421.3 482.9,412.4 501.3,391 520.2,402.8 539,417.7 557.7,446.2 576.9,435.3 595.6,455.4 614.2,438.3" fill="none" stroke="#231815" stroke-width="1.5"/>
<path d="M426.4 464.8V467.8M421.9 464.8H430.9M421.9 467.8H430.9" stroke="#231815" stroke-width="1.3" fill="none"/>
<circle cx="426.4" cy="466.3" r="3.6" fill="#231815"/>
<path d="M445.4 450.3V454.3M440.9 450.3H449.9M440.9 454.3H449.9" stroke="#231815" stroke-width="1.3" fill="none"/>
<circle cx="445.4" cy="452.3" r="3.6" fill="#231815"/>
<path d="M464.2 415.8V426.8M459.7 415.8H468.7M459.7 426.8H468.7" stroke="#231815" stroke-width="1.3" fill="none"/>
<circle cx="464.2" cy="421.3" r="3.6" fill="#231815"/>
<path d="M482.9 407.4V417.4M478.4 407.4H487.4M478.4 417.4H487.4" stroke="#231815" stroke-width="1.3" fill="none"/>
<circle cx="482.9" cy="412.4" r="3.6" fill="#231815"/>
<path d="M501.3 385.5V396.5M496.8 385.5H505.8M496.8 396.5H505.8" stroke="#231815" stroke-width="1.3" fill="none"/>
<circle cx="501.3" cy="391" r="3.6" fill="#231815"/>
<path d="M520.2 397.8V407.8M515.7 397.8H524.7M515.7 407.8H524.7" stroke="#231815" stroke-width="1.3" fill="none"/>
<circle cx="520.2" cy="402.8" r="3.6" fill="#231815"/>
<path d="M539 413.2V422.2M534.5 413.2H543.5M534.5 422.2H543.5" stroke="#231815" stroke-width="1.3" fill="none"/>
<circle cx="539" cy="417.7" r="3.6" fill="#231815"/>
<path d="M557.7 442.7V449.7M553.2 442.7H562.2M553.2 449.7H562.2" stroke="#231815" stroke-width="1.3" fill="none"/>
<circle cx="557.7" cy="446.2" r="3.6" fill="#231815"/>
<path d="M576.9 423.3V447.3M572.4 423.3H581.4M572.4 447.3H581.4" stroke="#231815" stroke-width="1.3" fill="none"/>
<circle cx="576.9" cy="435.3" r="3.6" fill="#231815"/>
<path d="M595.6 450.59999999999997V460.2M591.1 450.59999999999997H600.1M591.1 460.2H600.1" stroke="#231815" stroke-width="1.3" fill="none"/>
<circle cx="595.6" cy="455.4" r="3.6" fill="#231815"/>
<path d="M614.2 428.3V448.3M609.7 428.3H618.7M609.7 448.3H618.7" stroke="#231815" stroke-width="1.3" fill="none"/>
<circle cx="614.2" cy="438.3" r="3.6" fill="#231815"/>
<text x="3.6" y="559.8" font-size="34.5" fill="#231815" text-anchor="start" font-weight="bold">E</text>
<defs><filter id="glow" x="-20%" y="-60%" width="140%" height="220%"><feGaussianBlur stdDeviation="1.4"/></filter><marker id="mk" markerWidth="4" markerHeight="4" refX="2" refY="2" orient="auto"><path d="M0,0L4,2L0,4z" fill="context-stroke"/></marker></defs>
<path d="M34.0,608.5L42.6,606.9L38.6,601.1z" fill="#e8999a"/>
<line x1="40.6" y1="604.0" x2="88.8" y2="571.2" stroke="#e8999a" stroke-width="2.2"/>
<path d="M95.0,567.0L90.4,574.4L86.4,568.6z" fill="#e8999a"/>
<line x1="217.8" y1="566.0" x2="289.5" y2="604.5" stroke="#e8999a" stroke-width="3"/>
<path d="M297.0,608.5L286.9,608.2L291.2,600.3z" fill="#e8999a"/>
<line x1="156.8" y1="577.0" x2="156.8" y2="603.8" stroke="#e8999a" stroke-width="1.2"/>
<path d="M156.8,609.3L154.3,603.3L159.3,603.3z" fill="#e8999a"/>
<line x1="211.8" y1="679.0" x2="290.4" y2="635.4" stroke="#e8999a" stroke-width="1.6"/>
<path d="M297.0,631.8L291.7,638.7L288.3,632.6z" fill="#e8999a"/>
<line x1="53.4" y1="620.5" x2="86.3" y2="620.5" stroke="#a3282c" stroke-width="5.5"/>
<path d="M101.8,620.5L85.8,628.5L85.8,612.5z" fill="#a3282c"/>
<line x1="211.4" y1="620.5" x2="243.9" y2="620.5" stroke="#a3282c" stroke-width="5.5"/>
<path d="M259.4,620.5L243.4,628.5L243.4,612.5z" fill="#a3282c"/>
<line x1="30.0" y1="633.0" x2="85.4" y2="667.2" stroke="#a3282c" stroke-width="7"/>
<path d="M102.0,677.5L80.0,675.1L90.0,658.9z" fill="#a3282c"/>
<line x1="156.8" y1="667.7" x2="156.8" y2="650.2" stroke="#a3282c" stroke-width="6"/>
<path d="M156.8,631.7L165.8,650.7L147.8,650.7z" fill="#a3282c"/>
<rect x="95.5" y="554.2" width="122.30000000000001" height="22.799999999999955" rx="4" fill="#d0e3cc" stroke="#6e6868" stroke-width="1.3"/>
<text x="156.65" y="570.4" font-size="12.4" fill="#231815" text-anchor="middle" font-weight="bold">Species evenness</text>
<rect x="12.3" y="609.4" width="41.099999999999994" height="23.100000000000023" rx="4" fill="#d0e3cc" stroke="#6e6868" stroke-width="1.3"/>
<text x="32.85" y="625.75" font-size="12.4" fill="#231815" text-anchor="middle" font-weight="bold">LL</text>
<rect x="101.8" y="609.3" width="109.60000000000001" height="22.40000000000009" rx="4" fill="#d0e3cc" stroke="#6e6868" stroke-width="1.3"/>
<text x="156.6" y="625.3" font-size="12.4" fill="#231815" text-anchor="middle" font-weight="bold">Photosynthesis</text>
<rect x="259.4" y="608.7" width="81.30000000000001" height="23.0" rx="4" fill="#d0e3cc" stroke="#6e6868" stroke-width="1.3"/>
<text x="300.04999999999995" y="625.0" font-size="12.4" fill="#231815" text-anchor="middle" font-weight="bold">Resistance</text>
<rect x="101.4" y="667.7" width="110.4" height="22.399999999999977" rx="4" fill="#d0e3cc" stroke="#6e6868" stroke-width="1.3"/>
<text x="156.60000000000002" y="683.7" font-size="12.4" fill="#231815" text-anchor="middle" font-weight="bold">Functional traits</text>
<text x="63.3" y="585" font-size="12.5" fill="#231815" text-anchor="middle" font-weight="bold" transform="rotate(-33 63.3 585)">0.07</text>
<text x="59.6" y="613" font-size="12.5" fill="#231815" text-anchor="start" font-weight="bold">0.37 ***</text>
<text x="163.6" y="597" font-size="12.5" fill="#231815" text-anchor="start" font-weight="bold">0.02</text>
<text x="216" y="613" font-size="12.5" fill="#231815" text-anchor="start" font-weight="bold">0.39 ***</text>
<text x="254.3" y="580" font-size="12.5" fill="#231815" text-anchor="middle" font-weight="bold" transform="rotate(28 254.3 580)">0.16</text>
<text x="54.3" y="664.5" font-size="12.5" fill="#231815" text-anchor="middle" font-weight="bold" transform="rotate(33 54.3 664.5)">0.48 ***</text>
<text x="162.1" y="659.9" font-size="12.5" fill="#231815" text-anchor="start" font-weight="bold">0.48 ***</text>
<text x="251.8" y="668" font-size="12.5" fill="#231815" text-anchor="middle" font-weight="bold" transform="rotate(-28 251.8 668)">0.05</text>
<text x="190.5" y="708.4" font-size="12" fill="#231815" text-anchor="start" font-weight="bold">GoF =&#160; 0.347</text>
<path d="M382.0,607.5L391.9,605.5L386.3,598.4z" fill="#c4d0da"/>
<line x1="389.1" y1="601.9" x2="426.8" y2="572.3" stroke="#c4d0da" stroke-width="3.5"/>
<path d="M433.5,567.0L429.2,576.1L423.6,569.0z" fill="#c4d0da"/>
<line x1="496.5" y1="577.0" x2="496.5" y2="603.8" stroke="#e8999a" stroke-width="1.3"/>
<path d="M496.5,609.3L494.0,603.3L499.0,603.3z" fill="#e8999a"/>
<line x1="396.7" y1="620.5" x2="431.0" y2="620.5" stroke="#2f5ea6" stroke-width="4"/>
<path d="M443.5,620.5L430.5,626.5L430.5,614.5z" fill="#2f5ea6"/>
<line x1="550.4" y1="619.7" x2="587.9" y2="619.7" stroke="#e8999a" stroke-width="2.5"/>
<path d="M597.4,619.7L587.4,624.2L587.4,615.2z" fill="#e8999a"/>
<line x1="559.8" y1="566.0" x2="628.6" y2="604.4" stroke="#e8999a" stroke-width="2.5"/>
<path d="M636.0,608.5L625.9,608.0L630.3,600.2z" fill="#e8999a"/>
<line x1="376.0" y1="632.5" x2="433.2" y2="671.6" stroke="#c4d0da" stroke-width="3"/>
<path d="M441.0,677.0L429.9,675.5L435.6,667.2z" fill="#c4d0da"/>
<line x1="497.0" y1="668.2" x2="497.0" y2="654.2" stroke="#a3282c" stroke-width="6.8"/>
<path d="M497.0,631.7L508.0,654.7L486.0,654.7z" fill="#a3282c"/>
<line x1="552.0" y1="681.0" x2="612.7" y2="642.7" stroke="#a3282c" stroke-width="10"/>
<path d="M636.0,628.0L619.8,654.8L604.8,631.1z" fill="#a3282c"/>
<rect x="434.5" y="554.6" width="125.29999999999995" height="22.399999999999977" rx="4" fill="#68ab7e" stroke="#6e6868" stroke-width="1.3"/>
<text x="497.15" y="570.5999999999999" font-size="12.4" fill="#231815" text-anchor="middle" font-weight="bold">Species evenness</text>
<rect x="357.3" y="609.2" width="39.39999999999998" height="23.299999999999955" rx="4" fill="#68ab7e" stroke="#6e6868" stroke-width="1.3"/>
<text x="377.0" y="625.65" font-size="12.4" fill="#231815" text-anchor="middle" font-weight="bold">LL</text>
<rect x="443.5" y="609.3" width="106.89999999999998" height="22.200000000000045" rx="4" fill="#68ab7e" stroke="#6e6868" stroke-width="1.3"/>
<text x="496.95" y="625.1999999999999" font-size="12.4" fill="#231815" text-anchor="middle" font-weight="bold">Photosynthesis</text>
<rect x="597.4" y="608.5" width="79.89999999999998" height="22.700000000000045" rx="4" fill="#68ab7e" stroke="#6e6868" stroke-width="1.3"/>
<text x="637.3499999999999" y="624.65" font-size="12.4" fill="#231815" text-anchor="middle" font-weight="bold">Resistance</text>
<rect x="441.4" y="668.5" width="110.80000000000007" height="21.799999999999955" rx="4" fill="#68ab7e" stroke="#6e6868" stroke-width="1.3"/>
<text x="496.8" y="684.1999999999999" font-size="12.4" fill="#231815" text-anchor="middle" font-weight="bold">Functional traits</text>
<text x="403.2" y="582.5" font-size="12.5" fill="#231815" text-anchor="middle" font-weight="bold" transform="rotate(-40 403.2 582.5)">-0.20</text>
<text x="401.8" y="616.1" font-size="12.5" fill="#231815" text-anchor="start" font-weight="bold">-0.25 *</text>
<text x="502.1" y="598" font-size="12.5" fill="#231815" text-anchor="start" font-weight="bold">0.03</text>
<text x="557.3" y="615.4" font-size="12.5" fill="#231815" text-anchor="start" font-weight="bold">0.09</text>
<text x="603.3" y="586" font-size="12.5" fill="#231815" text-anchor="middle" font-weight="bold" transform="rotate(28 603.3 586)">0.06</text>
<text x="398.2" y="664" font-size="12.5" fill="#231815" text-anchor="middle" font-weight="bold" transform="rotate(35 398.2 664)">-0.17</text>
<text x="506.2" y="663.4" font-size="12.5" fill="#231815" text-anchor="start" font-weight="bold">0.61 ***</text>
<text x="593" y="675.5" font-size="12.5" fill="#231815" text-anchor="middle" font-weight="bold" transform="rotate(-33 593 675.5)">0.68 ***</text>
<text x="529.5" y="708.4" font-size="12" fill="#231815" text-anchor="start" font-weight="bold">GoF =&#160; 0.391</text>
<line x1="11.8" y1="672.2" x2="11.8" y2="899" stroke="#707070" stroke-width="3"/>
<path d="M11.8,666.2L16.0,674.2L11.8,672.2L7.6000000000000005,674.2z" fill="#707070"/>
<line x1="28.6" y1="672.2" x2="28.6" y2="899" stroke="#2aa0c0" stroke-width="2.6"/>
<path d="M28.6,666.2L32.800000000000004,674.2L28.6,672.2L24.400000000000002,674.2z" fill="#2aa0c0"/>
<line x1="45.4" y1="672.2" x2="45.4" y2="899" stroke="#5bb8c5" stroke-width="2.6"/>
<path d="M45.4,666.2L49.6,674.2L45.4,672.2L41.199999999999996,674.2z" fill="#5bb8c5"/>
<line x1="639.7" y1="672.2" x2="639.7" y2="899" stroke="#7dbd8c" stroke-width="2.6"/>
<path d="M639.7,666.2L643.9000000000001,674.2L639.7,672.2L635.5,674.2z" fill="#7dbd8c"/>
<line x1="656.5" y1="672.2" x2="656.5" y2="899" stroke="#5e9c8c" stroke-width="2.6"/>
<path d="M656.5,666.2L660.7,674.2L656.5,672.2L652.3,674.2z" fill="#5e9c8c"/>
<line x1="672.9" y1="672.2" x2="672.9" y2="899" stroke="#eba36e" stroke-width="2.6"/>
<path d="M672.9,666.2L677.1,674.2L672.9,672.2L668.6999999999999,674.2z" fill="#eba36e"/>
<text x="8.2" y="775.7" font-size="10.8" fill="#666" text-anchor="middle" transform="rotate(-90 8.2 775.7)">Tair sensitivity</text>
<text x="25.6" y="775.3" font-size="10.3" fill="#2aa0c0" text-anchor="middle" font-weight="bold" transform="rotate(-90 25.6 775.3)">Species richness</text>
<text x="43" y="775.7" font-size="10.3" fill="#5bb8c5" text-anchor="middle" font-weight="bold" transform="rotate(-90 43 775.7)">Species evenness</text>
<text x="643.5" y="773" font-size="10.3" fill="#7dbd8c" text-anchor="middle" font-weight="bold" transform="rotate(90 643.5 773)">Photosynthesis</text>
<text x="660.5" y="773" font-size="10.3" fill="#5e9c8c" text-anchor="middle" font-weight="bold" transform="rotate(90 660.5 773)">Functional traits</text>
<text x="677" y="773" font-size="10.3" fill="#eba36e" text-anchor="middle" font-weight="bold" transform="rotate(90 677 773)">Resistance</text>
<rect x="70" y="722.45" width="104" height="14.25" fill="#e2e0de" filter="url(#glow)"/><rect x="62.400000000000006" y="753.15" width="120" height="14.25" fill="#afd9e8" filter="url(#glow)"/><rect x="61.099999999999994" y="776.85" width="122" height="14.25" fill="#bcdfe4" filter="url(#glow)"/><rect x="66.3" y="802.05" width="112" height="14.25" fill="#bfe0c9" filter="url(#glow)"/><rect x="67.5" y="826.55" width="111" height="14.25" fill="#d0e6d0" filter="url(#glow)"/><rect x="80.3" y="850.05" width="85" height="14.25" fill="#f9d6b3" filter="url(#glow)"/><rect x="278.5" y="678.35" width="124" height="14.25" fill="#bcdfe4" filter="url(#glow)"/><rect x="283.5" y="703.45" width="114" height="14.25" fill="#bfe0c9" filter="url(#glow)"/><rect x="284.6" y="732.65" width="112" height="14.25" fill="#d0e6d0" filter="url(#glow)"/><rect x="293.2" y="827.65" width="106" height="14.25" fill="#e6e6e6" filter="url(#glow)"/><rect x="288.1" y="850.15" width="117" height="14.25" fill="#afd9e8" filter="url(#glow)"/><rect x="525.6" y="721.65" width="104" height="14.25" fill="#e2e0de" filter="url(#glow)"/><rect x="511.79999999999995" y="748.55" width="120" height="14.25" fill="#afd9e8" filter="url(#glow)"/><rect x="510.9" y="777.45" width="122" height="14.25" fill="#bcdfe4" filter="url(#glow)"/><rect x="516.8" y="800.45" width="112" height="14.25" fill="#bfe0c9" filter="url(#glow)"/><rect x="517.4" y="827.75" width="111" height="14.25" fill="#d0e6d0" filter="url(#glow)"/><rect x="529.9" y="850.35" width="85" height="14.25" fill="#f9d6b3" filter="url(#glow)"/>
<path d="M89.0,877L90.25,812L92.75,812L94.0,877z" fill="#7f5232"/>
<path d="M115.9,877L117.15,822L119.65,822L120.9,877z" fill="#7f5232"/>
<path d="M143.7,877L144.95,806L147.45,806L148.7,877z" fill="#7f5232"/>
<path d="M91.5,835L75.5,815M91.5,835L104.3,817.0M91.5,829.0L85.1,811.0" stroke="#7f5232" stroke-width="1.5" fill="none"/>
<path d="M118.4,840L102.4,820M118.4,840L131.20000000000002,822.0M118.4,834.0L112.0,816.0" stroke="#7f5232" stroke-width="1.5" fill="none"/>
<path d="M146.2,832L130.2,812M146.2,832L159.0,814.0M146.2,826.0L139.79999999999998,808.0" stroke="#7f5232" stroke-width="1.5" fill="none"/>
<path d="M91.5,830L55,815M146.2,828L185,815" stroke="#7f5232" stroke-width="1.3" fill="none"/>
<circle cx="82.7" cy="822.7" r="5.1" fill="#86c672" stroke="#3f8a38" stroke-width="0.5" stroke-opacity="0.7"/><circle cx="90.3" cy="818.9" r="5.1" fill="#5fa84e" stroke="#3f8a38" stroke-width="0.5" stroke-opacity="0.7"/><circle cx="86.2" cy="811.9" r="4.7" fill="#66ae55" stroke="#3f8a38" stroke-width="0.5" stroke-opacity="0.7"/><circle cx="75.5" cy="811.2" r="4.6" fill="#5fa84e" stroke="#3f8a38" stroke-width="0.5" stroke-opacity="0.7"/><circle cx="90.1" cy="798.4" r="4.4" fill="#7cc068" stroke="#3f8a38" stroke-width="0.5" stroke-opacity="0.7"/><circle cx="89.2" cy="823.9" r="3.7" fill="#5fa84e" stroke="#3f8a38" stroke-width="0.5" stroke-opacity="0.7"/><circle cx="93.3" cy="803.6" r="5.9" fill="#86c672" stroke="#3f8a38" stroke-width="0.5" stroke-opacity="0.7"/><circle cx="77.0" cy="825.3" r="5.5" fill="#6cb45a" stroke="#3f8a38" stroke-width="0.5" stroke-opacity="0.7"/><circle cx="89.5" cy="787.0" r="5.9" fill="#66ae55" stroke="#3f8a38" stroke-width="0.5" stroke-opacity="0.7"/><circle cx="96.9" cy="811.6" r="4.4" fill="#66ae55" stroke="#3f8a38" stroke-width="0.5" stroke-opacity="0.7"/><circle cx="73.3" cy="799.8" r="6.1" fill="#7cc068" stroke="#3f8a38" stroke-width="0.5" stroke-opacity="0.7"/><circle cx="83.2" cy="808.7" r="5.0" fill="#6cb45a" stroke="#3f8a38" stroke-width="0.5" stroke-opacity="0.7"/><circle cx="87.7" cy="798.0" r="3.9" fill="#7cc068" stroke="#3f8a38" stroke-width="0.5" stroke-opacity="0.7"/><circle cx="76.2" cy="794.1" r="4.5" fill="#7cc068" stroke="#3f8a38" stroke-width="0.5" stroke-opacity="0.7"/><circle cx="71.7" cy="807.0" r="4.7" fill="#66ae55" stroke="#3f8a38" stroke-width="0.5" stroke-opacity="0.7"/><circle cx="67.9" cy="792.9" r="3.8" fill="#7cc068" stroke="#3f8a38" stroke-width="0.5" stroke-opacity="0.7"/><circle cx="97.8" cy="798.3" r="3.5" fill="#86c672" stroke="#3f8a38" stroke-width="0.5" stroke-opacity="0.7"/><circle cx="71.4" cy="786.9" r="4.0" fill="#86c672" stroke="#3f8a38" stroke-width="0.5" stroke-opacity="0.7"/><circle cx="89.1" cy="804.0" r="3.9" fill="#86c672" stroke="#3f8a38" stroke-width="0.5" stroke-opacity="0.7"/><circle cx="98.1" cy="799.7" r="4.2" fill="#66ae55" stroke="#3f8a38" stroke-width="0.5" stroke-opacity="0.7"/><circle cx="80.6" cy="795.4" r="4.9" fill="#86c672" stroke="#3f8a38" stroke-width="0.5" stroke-opacity="0.7"/><circle cx="87.2" cy="819.6" r="4.9" fill="#6cb45a" stroke="#3f8a38" stroke-width="0.5" stroke-opacity="0.7"/><circle cx="93.3" cy="821.9" r="6.1" fill="#5fa84e" stroke="#3f8a38" stroke-width="0.5" stroke-opacity="0.7"/><circle cx="81.3" cy="805.7" r="5.8" fill="#66ae55" stroke="#3f8a38" stroke-width="0.5" stroke-opacity="0.7"/><circle cx="69.0" cy="814.0" r="5.2" fill="#86c672" stroke="#3f8a38" stroke-width="0.5" stroke-opacity="0.7"/><circle cx="97.3" cy="810.8" r="4.6" fill="#66ae55" stroke="#3f8a38" stroke-width="0.5" stroke-opacity="0.7"/><circle cx="66.4" cy="808.7" r="5.7" fill="#5fa84e" stroke="#3f8a38" stroke-width="0.5" stroke-opacity="0.7"/><circle cx="89.8" cy="801.3" r="6.3" fill="#7cc068" stroke="#3f8a38" stroke-width="0.5" stroke-opacity="0.7"/><circle cx="88.4" cy="810.2" r="5.1" fill="#6cb45a" stroke="#3f8a38" stroke-width="0.5" stroke-opacity="0.7"/><circle cx="80.0" cy="795.2" r="5.9" fill="#6cb45a" stroke="#3f8a38" stroke-width="0.5" stroke-opacity="0.7"/><circle cx="80.8" cy="790.0" r="4.1" fill="#7cc068" stroke="#3f8a38" stroke-width="0.5" stroke-opacity="0.7"/><circle cx="90.8" cy="818.5" r="5.7" fill="#66ae55" stroke="#3f8a38" stroke-width="0.5" stroke-opacity="0.7"/><circle cx="79.2" cy="796.7" r="3.9" fill="#6cb45a" stroke="#3f8a38" stroke-width="0.5" stroke-opacity="0.7"/><circle cx="88.5" cy="810.9" r="4.3" fill="#66ae55" stroke="#3f8a38" stroke-width="0.5" stroke-opacity="0.7"/><circle cx="72.3" cy="821.0" r="4.6" fill="#5fa84e" stroke="#3f8a38" stroke-width="0.5" stroke-opacity="0.7"/><circle cx="88.2" cy="796.3" r="6.1" fill="#86c672" stroke="#3f8a38" stroke-width="0.5" stroke-opacity="0.7"/><circle cx="95.3" cy="810.6" r="4.3" fill="#86c672" stroke="#3f8a38" stroke-width="0.5" stroke-opacity="0.7"/><circle cx="76.7" cy="785.7" r="4.9" fill="#66ae55" stroke="#3f8a38" stroke-width="0.5" stroke-opacity="0.7"/><circle cx="84.7" cy="827.3" r="4.0" fill="#7cc068" stroke="#3f8a38" stroke-width="0.5" stroke-opacity="0.7"/><circle cx="95.5" cy="795.7" r="4.3" fill="#86c672" stroke="#3f8a38" stroke-width="0.5" stroke-opacity="0.7"/><circle cx="80.4" cy="820.7" r="5.8" fill="#86c672" stroke="#3f8a38" stroke-width="0.5" stroke-opacity="0.7"/><circle cx="76.2" cy="790.6" r="5.8" fill="#5fa84e" stroke="#3f8a38" stroke-width="0.5" stroke-opacity="0.7"/><circle cx="68.6" cy="795.2" r="6.1" fill="#66ae55" stroke="#3f8a38" stroke-width="0.5" stroke-opacity="0.7"/><circle cx="78.9" cy="786.9" r="3.9" fill="#86c672" stroke="#3f8a38" stroke-width="0.5" stroke-opacity="0.7"/><circle cx="78.3" cy="797.5" r="5.9" fill="#6cb45a" stroke="#3f8a38" stroke-width="0.5" stroke-opacity="0.7"/><circle cx="71.0" cy="788.8" r="6.4" fill="#86c672" stroke="#3f8a38" stroke-width="0.5" stroke-opacity="0.7"/><circle cx="71.4" cy="791.2" r="5.0" fill="#66ae55" stroke="#3f8a38" stroke-width="0.5" stroke-opacity="0.7"/><circle cx="67.0" cy="813.0" r="6.2" fill="#5fa84e" stroke="#3f8a38" stroke-width="0.5" stroke-opacity="0.7"/><circle cx="82.4" cy="828.8" r="6.4" fill="#7cc068" stroke="#3f8a38" stroke-width="0.5" stroke-opacity="0.7"/><circle cx="67.1" cy="806.0" r="5.2" fill="#7cc068" stroke="#3f8a38" stroke-width="0.5" stroke-opacity="0.7"/><circle cx="76.2" cy="809.6" r="4.6" fill="#6cb45a" stroke="#3f8a38" stroke-width="0.5" stroke-opacity="0.7"/><circle cx="95.7" cy="808.8" r="4.8" fill="#66ae55" stroke="#3f8a38" stroke-width="0.5" stroke-opacity="0.7"/><circle cx="79.0" cy="790.8" r="5.5" fill="#7cc068" stroke="#3f8a38" stroke-width="0.5" stroke-opacity="0.7"/><circle cx="63.2" cy="805.5" r="6.2" fill="#5fa84e" stroke="#3f8a38" stroke-width="0.5" stroke-opacity="0.7"/><circle cx="83.8" cy="784.6" r="4.7" fill="#6cb45a" stroke="#3f8a38" stroke-width="0.5" stroke-opacity="0.7"/><circle cx="78.9" cy="795.1" r="5.3" fill="#5fa84e" stroke="#3f8a38" stroke-width="0.5" stroke-opacity="0.7"/><circle cx="81.4" cy="786.5" r="6.4" fill="#66ae55" stroke="#3f8a38" stroke-width="0.5" stroke-opacity="0.7"/><circle cx="77.3" cy="803.3" r="5.4" fill="#66ae55" stroke="#3f8a38" stroke-width="0.5" stroke-opacity="0.7"/><circle cx="94.3" cy="818.4" r="4.0" fill="#66ae55" stroke="#3f8a38" stroke-width="0.5" stroke-opacity="0.7"/><circle cx="87.2" cy="795.1" r="3.5" fill="#6cb45a" stroke="#3f8a38" stroke-width="0.5" stroke-opacity="0.7"/>
<circle cx="114.4" cy="804.3" r="4.1" fill="#86c672" stroke="#3f8a38" stroke-width="0.5" stroke-opacity="0.7"/><circle cx="131.7" cy="820.6" r="6.3" fill="#5fa84e" stroke="#3f8a38" stroke-width="0.5" stroke-opacity="0.7"/><circle cx="116.9" cy="827.5" r="6.4" fill="#5fa84e" stroke="#3f8a38" stroke-width="0.5" stroke-opacity="0.7"/><circle cx="113.6" cy="811.4" r="6.1" fill="#86c672" stroke="#3f8a38" stroke-width="0.5" stroke-opacity="0.7"/><circle cx="130.5" cy="814.2" r="6.0" fill="#6cb45a" stroke="#3f8a38" stroke-width="0.5" stroke-opacity="0.7"/><circle cx="103.8" cy="814.4" r="4.7" fill="#7cc068" stroke="#3f8a38" stroke-width="0.5" stroke-opacity="0.7"/><circle cx="111.1" cy="811.0" r="3.8" fill="#5fa84e" stroke="#3f8a38" stroke-width="0.5" stroke-opacity="0.7"/><circle cx="113.7" cy="808.2" r="4.6" fill="#5fa84e" stroke="#3f8a38" stroke-width="0.5" stroke-opacity="0.7"/><circle cx="112.6" cy="828.4" r="4.8" fill="#7cc068" stroke="#3f8a38" stroke-width="0.5" stroke-opacity="0.7"/><circle cx="111.2" cy="823.4" r="4.3" fill="#6cb45a" stroke="#3f8a38" stroke-width="0.5" stroke-opacity="0.7"/><circle cx="113.8" cy="814.6" r="5.3" fill="#66ae55" stroke="#3f8a38" stroke-width="0.5" stroke-opacity="0.7"/><circle cx="107.4" cy="806.2" r="5.9" fill="#86c672" stroke="#3f8a38" stroke-width="0.5" stroke-opacity="0.7"/><circle cx="124.9" cy="822.8" r="4.0" fill="#5fa84e" stroke="#3f8a38" stroke-width="0.5" stroke-opacity="0.7"/><circle cx="107.0" cy="808.9" r="5.6" fill="#6cb45a" stroke="#3f8a38" stroke-width="0.5" stroke-opacity="0.7"/><circle cx="107.6" cy="806.6" r="5.9" fill="#86c672" stroke="#3f8a38" stroke-width="0.5" stroke-opacity="0.7"/><circle cx="107.7" cy="821.1" r="6.4" fill="#66ae55" stroke="#3f8a38" stroke-width="0.5" stroke-opacity="0.7"/><circle cx="114.9" cy="820.6" r="4.1" fill="#66ae55" stroke="#3f8a38" stroke-width="0.5" stroke-opacity="0.7"/><circle cx="117.2" cy="823.2" r="4.6" fill="#6cb45a" stroke="#3f8a38" stroke-width="0.5" stroke-opacity="0.7"/><circle cx="129.1" cy="817.6" r="6.4" fill="#66ae55" stroke="#3f8a38" stroke-width="0.5" stroke-opacity="0.7"/><circle cx="109.4" cy="820.7" r="5.4" fill="#86c672" stroke="#3f8a38" stroke-width="0.5" stroke-opacity="0.7"/><circle cx="122.4" cy="810.0" r="6.4" fill="#66ae55" stroke="#3f8a38" stroke-width="0.5" stroke-opacity="0.7"/><circle cx="121.0" cy="825.9" r="5.9" fill="#5fa84e" stroke="#3f8a38" stroke-width="0.5" stroke-opacity="0.7"/><circle cx="114.4" cy="836.6" r="4.2" fill="#66ae55" stroke="#3f8a38" stroke-width="0.5" stroke-opacity="0.7"/><circle cx="101.6" cy="808.8" r="4.4" fill="#7cc068" stroke="#3f8a38" stroke-width="0.5" stroke-opacity="0.7"/><circle cx="109.0" cy="826.9" r="3.6" fill="#7cc068" stroke="#3f8a38" stroke-width="0.5" stroke-opacity="0.7"/><circle cx="97.8" cy="816.1" r="6.3" fill="#66ae55" stroke="#3f8a38" stroke-width="0.5" stroke-opacity="0.7"/><circle cx="121.3" cy="827.1" r="5.5" fill="#86c672" stroke="#3f8a38" stroke-width="0.5" stroke-opacity="0.7"/><circle cx="112.8" cy="817.8" r="4.9" fill="#86c672" stroke="#3f8a38" stroke-width="0.5" stroke-opacity="0.7"/><circle cx="120.8" cy="820.9" r="3.7" fill="#6cb45a" stroke="#3f8a38" stroke-width="0.5" stroke-opacity="0.7"/><circle cx="97.6" cy="825.3" r="6.2" fill="#5fa84e" stroke="#3f8a38" stroke-width="0.5" stroke-opacity="0.7"/><circle cx="107.9" cy="839.4" r="4.5" fill="#66ae55" stroke="#3f8a38" stroke-width="0.5" stroke-opacity="0.7"/><circle cx="121.0" cy="814.2" r="5.4" fill="#66ae55" stroke="#3f8a38" stroke-width="0.5" stroke-opacity="0.7"/><circle cx="120.6" cy="815.1" r="5.3" fill="#6cb45a" stroke="#3f8a38" stroke-width="0.5" stroke-opacity="0.7"/><circle cx="118.4" cy="821.6" r="3.6" fill="#66ae55" stroke="#3f8a38" stroke-width="0.5" stroke-opacity="0.7"/><circle cx="114.1" cy="826.8" r="5.4" fill="#66ae55" stroke="#3f8a38" stroke-width="0.5" stroke-opacity="0.7"/><circle cx="127.8" cy="811.9" r="4.1" fill="#5fa84e" stroke="#3f8a38" stroke-width="0.5" stroke-opacity="0.7"/><circle cx="109.4" cy="804.9" r="6.3" fill="#5fa84e" stroke="#3f8a38" stroke-width="0.5" stroke-opacity="0.7"/><circle cx="111.0" cy="822.1" r="6.2" fill="#5fa84e" stroke="#3f8a38" stroke-width="0.5" stroke-opacity="0.7"/><circle cx="98.8" cy="828.2" r="3.9" fill="#5fa84e" stroke="#3f8a38" stroke-width="0.5" stroke-opacity="0.7"/><circle cx="109.6" cy="810.1" r="3.8" fill="#5fa84e" stroke="#3f8a38" stroke-width="0.5" stroke-opacity="0.7"/><circle cx="131.4" cy="817.3" r="3.7" fill="#6cb45a" stroke="#3f8a38" stroke-width="0.5" stroke-opacity="0.7"/><circle cx="112.7" cy="833.2" r="4.5" fill="#7cc068" stroke="#3f8a38" stroke-width="0.5" stroke-opacity="0.7"/><circle cx="97.4" cy="824.0" r="4.7" fill="#66ae55" stroke="#3f8a38" stroke-width="0.5" stroke-opacity="0.7"/><circle cx="110.8" cy="840.9" r="4.2" fill="#7cc068" stroke="#3f8a38" stroke-width="0.5" stroke-opacity="0.7"/><circle cx="110.0" cy="830.1" r="5.5" fill="#86c672" stroke="#3f8a38" stroke-width="0.5" stroke-opacity="0.7"/><circle cx="108.2" cy="813.2" r="6.0" fill="#66ae55" stroke="#3f8a38" stroke-width="0.5" stroke-opacity="0.7"/><circle cx="132.1" cy="828.0" r="6.0" fill="#6cb45a" stroke="#3f8a38" stroke-width="0.5" stroke-opacity="0.7"/><circle cx="112.9" cy="834.1" r="5.3" fill="#7cc068" stroke="#3f8a38" stroke-width="0.5" stroke-opacity="0.7"/><circle cx="104.3" cy="815.6" r="5.3" fill="#66ae55" stroke="#3f8a38" stroke-width="0.5" stroke-opacity="0.7"/><circle cx="127.8" cy="827.6" r="5.2" fill="#7cc068" stroke="#3f8a38" stroke-width="0.5" stroke-opacity="0.7"/><circle cx="105.2" cy="822.9" r="4.9" fill="#6cb45a" stroke="#3f8a38" stroke-width="0.5" stroke-opacity="0.7"/><circle cx="123.2" cy="819.7" r="6.1" fill="#6cb45a" stroke="#3f8a38" stroke-width="0.5" stroke-opacity="0.7"/><circle cx="110.1" cy="840.5" r="4.0" fill="#66ae55" stroke="#3f8a38" stroke-width="0.5" stroke-opacity="0.7"/><circle cx="123.4" cy="833.6" r="5.9" fill="#7cc068" stroke="#3f8a38" stroke-width="0.5" stroke-opacity="0.7"/><circle cx="121.0" cy="827.0" r="4.3" fill="#66ae55" stroke="#3f8a38" stroke-width="0.5" stroke-opacity="0.7"/>
<circle cx="163.6" cy="799.0" r="3.7" fill="#86c672" stroke="#3f8a38" stroke-width="0.5" stroke-opacity="0.7"/><circle cx="131.1" cy="816.1" r="5.5" fill="#86c672" stroke="#3f8a38" stroke-width="0.5" stroke-opacity="0.7"/><circle cx="129.5" cy="805.9" r="4.6" fill="#66ae55" stroke="#3f8a38" stroke-width="0.5" stroke-opacity="0.7"/><circle cx="152.1" cy="803.4" r="3.8" fill="#86c672" stroke="#3f8a38" stroke-width="0.5" stroke-opacity="0.7"/><circle cx="129.9" cy="816.4" r="6.5" fill="#7cc068" stroke="#3f8a38" stroke-width="0.5" stroke-opacity="0.7"/><circle cx="140.9" cy="813.7" r="6.3" fill="#5fa84e" stroke="#3f8a38" stroke-width="0.5" stroke-opacity="0.7"/><circle cx="160.8" cy="797.3" r="4.5" fill="#66ae55" stroke="#3f8a38" stroke-width="0.5" stroke-opacity="0.7"/><circle cx="144.3" cy="814.5" r="3.9" fill="#5fa84e" stroke="#3f8a38" stroke-width="0.5" stroke-opacity="0.7"/><circle cx="155.4" cy="823.0" r="6.0" fill="#66ae55" stroke="#3f8a38" stroke-width="0.5" stroke-opacity="0.7"/><circle cx="143.5" cy="797.7" r="6.1" fill="#7cc068" stroke="#3f8a38" stroke-width="0.5" stroke-opacity="0.7"/><circle cx="129.3" cy="807.7" r="6.1" fill="#86c672" stroke="#3f8a38" stroke-width="0.5" stroke-opacity="0.7"/><circle cx="167.3" cy="808.2" r="6.1" fill="#86c672" stroke="#3f8a38" stroke-width="0.5" stroke-opacity="0.7"/><circle cx="156.6" cy="809.5" r="4.4" fill="#7cc068" stroke="#3f8a38" stroke-width="0.5" stroke-opacity="0.7"/><circle cx="146.1" cy="793.6" r="4.5" fill="#6cb45a" stroke="#3f8a38" stroke-width="0.5" stroke-opacity="0.7"/><circle cx="145.3" cy="788.1" r="5.9" fill="#86c672" stroke="#3f8a38" stroke-width="0.5" stroke-opacity="0.7"/><circle cx="165.0" cy="792.5" r="5.1" fill="#86c672" stroke="#3f8a38" stroke-width="0.5" stroke-opacity="0.7"/><circle cx="159.7" cy="811.9" r="5.5" fill="#5fa84e" stroke="#3f8a38" stroke-width="0.5" stroke-opacity="0.7"/><circle cx="164.4" cy="806.8" r="5.6" fill="#86c672" stroke="#3f8a38" stroke-width="0.5" stroke-opacity="0.7"/><circle cx="142.6" cy="792.1" r="6.5" fill="#86c672" stroke="#3f8a38" stroke-width="0.5" stroke-opacity="0.7"/><circle cx="147.4" cy="820.6" r="3.8" fill="#86c672" stroke="#3f8a38" stroke-width="0.5" stroke-opacity="0.7"/><circle cx="145.2" cy="801.3" r="5.6" fill="#86c672" stroke="#3f8a38" stroke-width="0.5" stroke-opacity="0.7"/><circle cx="133.2" cy="801.1" r="6.5" fill="#7cc068" stroke="#3f8a38" stroke-width="0.5" stroke-opacity="0.7"/><circle cx="141.4" cy="786.9" r="4.7" fill="#5fa84e" stroke="#3f8a38" stroke-width="0.5" stroke-opacity="0.7"/><circle cx="145.1" cy="792.8" r="4.0" fill="#6cb45a" stroke="#3f8a38" stroke-width="0.5" stroke-opacity="0.7"/><circle cx="152.8" cy="794.5" r="6.4" fill="#86c672" stroke="#3f8a38" stroke-width="0.5" stroke-opacity="0.7"/><circle cx="156.0" cy="818.3" r="6.0" fill="#5fa84e" stroke="#3f8a38" stroke-width="0.5" stroke-opacity="0.7"/><circle cx="139.4" cy="803.7" r="4.8" fill="#7cc068" stroke="#3f8a38" stroke-width="0.5" stroke-opacity="0.7"/><circle cx="146.5" cy="823.4" r="4.9" fill="#66ae55" stroke="#3f8a38" stroke-width="0.5" stroke-opacity="0.7"/><circle cx="131.1" cy="802.0" r="5.1" fill="#6cb45a" stroke="#3f8a38" stroke-width="0.5" stroke-opacity="0.7"/><circle cx="142.9" cy="788.6" r="4.1" fill="#6cb45a" stroke="#3f8a38" stroke-width="0.5" stroke-opacity="0.7"/><circle cx="153.7" cy="800.5" r="3.8" fill="#66ae55" stroke="#3f8a38" stroke-width="0.5" stroke-opacity="0.7"/><circle cx="142.0" cy="808.0" r="5.1" fill="#6cb45a" stroke="#3f8a38" stroke-width="0.5" stroke-opacity="0.7"/><circle cx="159.9" cy="792.1" r="5.9" fill="#66ae55" stroke="#3f8a38" stroke-width="0.5" stroke-opacity="0.7"/><circle cx="165.7" cy="815.3" r="4.5" fill="#7cc068" stroke="#3f8a38" stroke-width="0.5" stroke-opacity="0.7"/><circle cx="130.1" cy="817.0" r="5.0" fill="#66ae55" stroke="#3f8a38" stroke-width="0.5" stroke-opacity="0.7"/><circle cx="141.2" cy="820.7" r="5.3" fill="#86c672" stroke="#3f8a38" stroke-width="0.5" stroke-opacity="0.7"/><circle cx="164.7" cy="813.7" r="6.1" fill="#86c672" stroke="#3f8a38" stroke-width="0.5" stroke-opacity="0.7"/><circle cx="138.6" cy="799.4" r="4.1" fill="#66ae55" stroke="#3f8a38" stroke-width="0.5" stroke-opacity="0.7"/><circle cx="154.8" cy="822.3" r="4.1" fill="#7cc068" stroke="#3f8a38" stroke-width="0.5" stroke-opacity="0.7"/><circle cx="146.8" cy="786.3" r="5.6" fill="#5fa84e" stroke="#3f8a38" stroke-width="0.5" stroke-opacity="0.7"/><circle cx="127.9" cy="797.8" r="3.8" fill="#86c672" stroke="#3f8a38" stroke-width="0.5" stroke-opacity="0.7"/><circle cx="144.0" cy="812.3" r="6.3" fill="#6cb45a" stroke="#3f8a38" stroke-width="0.5" stroke-opacity="0.7"/><circle cx="148.6" cy="783.5" r="6.5" fill="#7cc068" stroke="#3f8a38" stroke-width="0.5" stroke-opacity="0.7"/><circle cx="167.7" cy="798.8" r="4.3" fill="#66ae55" stroke="#3f8a38" stroke-width="0.5" stroke-opacity="0.7"/><circle cx="154.2" cy="789.5" r="5.9" fill="#86c672" stroke="#3f8a38" stroke-width="0.5" stroke-opacity="0.7"/><circle cx="140.0" cy="788.7" r="4.5" fill="#7cc068" stroke="#3f8a38" stroke-width="0.5" stroke-opacity="0.7"/><circle cx="137.3" cy="799.7" r="4.9" fill="#6cb45a" stroke="#3f8a38" stroke-width="0.5" stroke-opacity="0.7"/><circle cx="160.1" cy="795.8" r="5.5" fill="#7cc068" stroke="#3f8a38" stroke-width="0.5" stroke-opacity="0.7"/><circle cx="125.8" cy="802.1" r="5.1" fill="#86c672" stroke="#3f8a38" stroke-width="0.5" stroke-opacity="0.7"/><circle cx="135.0" cy="813.2" r="4.3" fill="#6cb45a" stroke="#3f8a38" stroke-width="0.5" stroke-opacity="0.7"/><circle cx="162.9" cy="810.7" r="5.8" fill="#6cb45a" stroke="#3f8a38" stroke-width="0.5" stroke-opacity="0.7"/><circle cx="129.1" cy="814.4" r="4.1" fill="#7cc068" stroke="#3f8a38" stroke-width="0.5" stroke-opacity="0.7"/><circle cx="126.5" cy="810.2" r="6.4" fill="#86c672" stroke="#3f8a38" stroke-width="0.5" stroke-opacity="0.7"/><circle cx="150.6" cy="795.9" r="6.4" fill="#5fa84e" stroke="#3f8a38" stroke-width="0.5" stroke-opacity="0.7"/><circle cx="148.0" cy="795.6" r="3.6" fill="#7cc068" stroke="#3f8a38" stroke-width="0.5" stroke-opacity="0.7"/><circle cx="148.4" cy="808.9" r="3.8" fill="#66ae55" stroke="#3f8a38" stroke-width="0.5" stroke-opacity="0.7"/><circle cx="130.9" cy="789.4" r="6.0" fill="#7cc068" stroke="#3f8a38" stroke-width="0.5" stroke-opacity="0.7"/><circle cx="151.4" cy="824.2" r="4.5" fill="#66ae55" stroke="#3f8a38" stroke-width="0.5" stroke-opacity="0.7"/><circle cx="147.3" cy="817.2" r="4.3" fill="#6cb45a" stroke="#3f8a38" stroke-width="0.5" stroke-opacity="0.7"/><circle cx="162.9" cy="811.2" r="6.3" fill="#5fa84e" stroke="#3f8a38" stroke-width="0.5" stroke-opacity="0.7"/>
<circle cx="67.1" cy="809.9" r="4.8" fill="#6cb45a" stroke="#3f8a38" stroke-width="0.5" stroke-opacity="0.7"/><circle cx="58.2" cy="816.4" r="3.4" fill="#86c672" stroke="#3f8a38" stroke-width="0.5" stroke-opacity="0.7"/><circle cx="60.6" cy="810.7" r="4.8" fill="#7cc068" stroke="#3f8a38" stroke-width="0.5" stroke-opacity="0.7"/><circle cx="69.0" cy="821.3" r="4.4" fill="#86c672" stroke="#3f8a38" stroke-width="0.5" stroke-opacity="0.7"/><circle cx="68.9" cy="827.1" r="3.1" fill="#7cc068" stroke="#3f8a38" stroke-width="0.5" stroke-opacity="0.7"/><circle cx="68.6" cy="827.5" r="4.2" fill="#6cb45a" stroke="#3f8a38" stroke-width="0.5" stroke-opacity="0.7"/><circle cx="57.2" cy="816.6" r="3.3" fill="#5fa84e" stroke="#3f8a38" stroke-width="0.5" stroke-opacity="0.7"/><circle cx="65.8" cy="820.7" r="3.8" fill="#6cb45a" stroke="#3f8a38" stroke-width="0.5" stroke-opacity="0.7"/><circle cx="58.5" cy="820.7" r="3.4" fill="#6cb45a" stroke="#3f8a38" stroke-width="0.5" stroke-opacity="0.7"/><circle cx="62.8" cy="822.4" r="3.7" fill="#6cb45a" stroke="#3f8a38" stroke-width="0.5" stroke-opacity="0.7"/><circle cx="59.9" cy="822.7" r="4.3" fill="#86c672" stroke="#3f8a38" stroke-width="0.5" stroke-opacity="0.7"/><circle cx="67.1" cy="825.4" r="4.0" fill="#7cc068" stroke="#3f8a38" stroke-width="0.5" stroke-opacity="0.7"/>
<circle cx="171.6" cy="814.3" r="3.8" fill="#5fa84e" stroke="#3f8a38" stroke-width="0.5" stroke-opacity="0.7"/><circle cx="174.8" cy="812.8" r="4.1" fill="#86c672" stroke="#3f8a38" stroke-width="0.5" stroke-opacity="0.7"/><circle cx="181.2" cy="813.7" r="4.0" fill="#66ae55" stroke="#3f8a38" stroke-width="0.5" stroke-opacity="0.7"/><circle cx="178.4" cy="812.9" r="3.4" fill="#5fa84e" stroke="#3f8a38" stroke-width="0.5" stroke-opacity="0.7"/><circle cx="183.2" cy="810.1" r="4.2" fill="#66ae55" stroke="#3f8a38" stroke-width="0.5" stroke-opacity="0.7"/><circle cx="184.7" cy="817.3" r="4.1" fill="#66ae55" stroke="#3f8a38" stroke-width="0.5" stroke-opacity="0.7"/><circle cx="185.7" cy="814.9" r="4.0" fill="#6cb45a" stroke="#3f8a38" stroke-width="0.5" stroke-opacity="0.7"/><circle cx="183.5" cy="817.8" r="3.1" fill="#5fa84e" stroke="#3f8a38" stroke-width="0.5" stroke-opacity="0.7"/>
<circle cx="50.6" cy="816.1" r="2.6" fill="#86c672" stroke="#3f8a38" stroke-width="0.5" stroke-opacity="0.7"/><circle cx="55.0" cy="815.5" r="3.4" fill="#86c672" stroke="#3f8a38" stroke-width="0.5" stroke-opacity="0.7"/><circle cx="49.1" cy="816.3" r="3.5" fill="#66ae55" stroke="#3f8a38" stroke-width="0.5" stroke-opacity="0.7"/>
<path d="M535.2,877L536.45,830L538.95,830L540.2,877z" fill="#7f5232"/>
<path d="M562.5,877L563.75,835L566.25,835L567.5,877z" fill="#7f5232"/>
<path d="M589.9,877L591.15,815L593.65,815L594.9,877z" fill="#7f5232"/>
<path d="M537.7,848L523.7,830M537.7,848L548.9000000000001,831.8M537.7,842.6L532.1,826.4" stroke="#7f5232" stroke-width="1.5" fill="none"/>
<path d="M565,850L551,832M565,850L576.2,833.8M565,844.6L559.4,828.4" stroke="#7f5232" stroke-width="1.5" fill="none"/>
<path d="M592.4,842L578.4,824M592.4,842L603.6,825.8M592.4,836.6L586.8,820.4" stroke="#7f5232" stroke-width="1.5" fill="none"/>
<path d="M537.7,840L508,825M592.4,838L632,815" stroke="#7f5232" stroke-width="1.3" fill="none"/>
<circle cx="524.2" cy="784.0" r="3.7" fill="#56a465" stroke="#24583a" stroke-width="0.5" stroke-opacity="0.7"/><circle cx="519.7" cy="790.7" r="5.2" fill="#56a465" stroke="#24583a" stroke-width="0.5" stroke-opacity="0.7"/><circle cx="539.8" cy="811.9" r="3.9" fill="#438f55" stroke="#24583a" stroke-width="0.5" stroke-opacity="0.7"/><circle cx="522.7" cy="799.9" r="5.8" fill="#4a9a5c" stroke="#24583a" stroke-width="0.5" stroke-opacity="0.7"/><circle cx="553.7" cy="810.4" r="4.9" fill="#357e47" stroke="#24583a" stroke-width="0.5" stroke-opacity="0.7"/><circle cx="545.8" cy="815.9" r="5.2" fill="#438f55" stroke="#24583a" stroke-width="0.5" stroke-opacity="0.7"/><circle cx="554.6" cy="800.1" r="3.6" fill="#357e47" stroke="#24583a" stroke-width="0.5" stroke-opacity="0.7"/><circle cx="513.3" cy="813.0" r="4.0" fill="#438f55" stroke="#24583a" stroke-width="0.5" stroke-opacity="0.7"/><circle cx="516.5" cy="800.6" r="5.0" fill="#56a465" stroke="#24583a" stroke-width="0.5" stroke-opacity="0.7"/><circle cx="541.5" cy="795.4" r="6.1" fill="#3f8c52" stroke="#24583a" stroke-width="0.5" stroke-opacity="0.7"/><circle cx="549.0" cy="800.6" r="6.0" fill="#4a9a5c" stroke="#24583a" stroke-width="0.5" stroke-opacity="0.7"/><circle cx="543.2" cy="825.9" r="4.6" fill="#56a465" stroke="#24583a" stroke-width="0.5" stroke-opacity="0.7"/><circle cx="524.0" cy="820.4" r="6.4" fill="#56a465" stroke="#24583a" stroke-width="0.5" stroke-opacity="0.7"/><circle cx="535.7" cy="823.0" r="4.9" fill="#357e47" stroke="#24583a" stroke-width="0.5" stroke-opacity="0.7"/><circle cx="523.9" cy="810.6" r="3.8" fill="#4a9a5c" stroke="#24583a" stroke-width="0.5" stroke-opacity="0.7"/><circle cx="548.4" cy="812.9" r="5.0" fill="#4a9a5c" stroke="#24583a" stroke-width="0.5" stroke-opacity="0.7"/><circle cx="537.6" cy="791.4" r="3.7" fill="#56a465" stroke="#24583a" stroke-width="0.5" stroke-opacity="0.7"/><circle cx="512.6" cy="802.6" r="5.6" fill="#56a465" stroke="#24583a" stroke-width="0.5" stroke-opacity="0.7"/><circle cx="533.3" cy="799.8" r="4.0" fill="#56a465" stroke="#24583a" stroke-width="0.5" stroke-opacity="0.7"/><circle cx="529.9" cy="800.2" r="5.4" fill="#56a465" stroke="#24583a" stroke-width="0.5" stroke-opacity="0.7"/><circle cx="541.3" cy="826.6" r="5.6" fill="#357e47" stroke="#24583a" stroke-width="0.5" stroke-opacity="0.7"/><circle cx="547.8" cy="805.8" r="6.0" fill="#357e47" stroke="#24583a" stroke-width="0.5" stroke-opacity="0.7"/><circle cx="522.4" cy="801.7" r="4.4" fill="#4a9a5c" stroke="#24583a" stroke-width="0.5" stroke-opacity="0.7"/><circle cx="520.8" cy="789.4" r="3.5" fill="#4a9a5c" stroke="#24583a" stroke-width="0.5" stroke-opacity="0.7"/><circle cx="536.0" cy="809.2" r="5.3" fill="#3f8c52" stroke="#24583a" stroke-width="0.5" stroke-opacity="0.7"/><circle cx="555.9" cy="805.2" r="4.1" fill="#3f8c52" stroke="#24583a" stroke-width="0.5" stroke-opacity="0.7"/><circle cx="519.9" cy="810.8" r="5.8" fill="#3f8c52" stroke="#24583a" stroke-width="0.5" stroke-opacity="0.7"/><circle cx="525.7" cy="820.1" r="4.1" fill="#56a465" stroke="#24583a" stroke-width="0.5" stroke-opacity="0.7"/><circle cx="523.3" cy="802.6" r="4.8" fill="#438f55" stroke="#24583a" stroke-width="0.5" stroke-opacity="0.7"/><circle cx="517.9" cy="813.9" r="3.9" fill="#438f55" stroke="#24583a" stroke-width="0.5" stroke-opacity="0.7"/><circle cx="535.0" cy="796.9" r="3.8" fill="#438f55" stroke="#24583a" stroke-width="0.5" stroke-opacity="0.7"/><circle cx="548.8" cy="791.0" r="5.6" fill="#3f8c52" stroke="#24583a" stroke-width="0.5" stroke-opacity="0.7"/><circle cx="516.8" cy="799.3" r="4.8" fill="#438f55" stroke="#24583a" stroke-width="0.5" stroke-opacity="0.7"/><circle cx="538.7" cy="819.4" r="3.8" fill="#357e47" stroke="#24583a" stroke-width="0.5" stroke-opacity="0.7"/><circle cx="509.5" cy="802.3" r="4.3" fill="#357e47" stroke="#24583a" stroke-width="0.5" stroke-opacity="0.7"/><circle cx="534.7" cy="797.9" r="4.0" fill="#357e47" stroke="#24583a" stroke-width="0.5" stroke-opacity="0.7"/><circle cx="533.8" cy="802.4" r="6.1" fill="#438f55" stroke="#24583a" stroke-width="0.5" stroke-opacity="0.7"/><circle cx="514.5" cy="805.7" r="6.4" fill="#4a9a5c" stroke="#24583a" stroke-width="0.5" stroke-opacity="0.7"/><circle cx="532.3" cy="802.8" r="6.4" fill="#3f8c52" stroke="#24583a" stroke-width="0.5" stroke-opacity="0.7"/><circle cx="541.5" cy="806.9" r="4.9" fill="#357e47" stroke="#24583a" stroke-width="0.5" stroke-opacity="0.7"/><circle cx="542.7" cy="825.5" r="4.9" fill="#438f55" stroke="#24583a" stroke-width="0.5" stroke-opacity="0.7"/><circle cx="517.7" cy="790.8" r="4.0" fill="#4a9a5c" stroke="#24583a" stroke-width="0.5" stroke-opacity="0.7"/><circle cx="549.9" cy="800.6" r="6.0" fill="#438f55" stroke="#24583a" stroke-width="0.5" stroke-opacity="0.7"/><circle cx="538.0" cy="818.6" r="5.0" fill="#4a9a5c" stroke="#24583a" stroke-width="0.5" stroke-opacity="0.7"/><circle cx="546.2" cy="822.2" r="6.4" fill="#3f8c52" stroke="#24583a" stroke-width="0.5" stroke-opacity="0.7"/><circle cx="523.8" cy="826.9" r="5.3" fill="#438f55" stroke="#24583a" stroke-width="0.5" stroke-opacity="0.7"/><circle cx="518.0" cy="815.9" r="4.3" fill="#438f55" stroke="#24583a" stroke-width="0.5" stroke-opacity="0.7"/><circle cx="520.0" cy="789.6" r="4.4" fill="#3f8c52" stroke="#24583a" stroke-width="0.5" stroke-opacity="0.7"/><circle cx="541.6" cy="793.5" r="5.3" fill="#3f8c52" stroke="#24583a" stroke-width="0.5" stroke-opacity="0.7"/><circle cx="533.0" cy="811.0" r="4.0" fill="#4a9a5c" stroke="#24583a" stroke-width="0.5" stroke-opacity="0.7"/>
<circle cx="580.4" cy="815.1" r="4.3" fill="#438f55" stroke="#24583a" stroke-width="0.5" stroke-opacity="0.7"/><circle cx="550.4" cy="824.5" r="4.2" fill="#357e47" stroke="#24583a" stroke-width="0.5" stroke-opacity="0.7"/><circle cx="581.0" cy="810.2" r="5.2" fill="#56a465" stroke="#24583a" stroke-width="0.5" stroke-opacity="0.7"/><circle cx="550.2" cy="820.3" r="5.3" fill="#357e47" stroke="#24583a" stroke-width="0.5" stroke-opacity="0.7"/><circle cx="573.1" cy="810.1" r="4.2" fill="#4a9a5c" stroke="#24583a" stroke-width="0.5" stroke-opacity="0.7"/><circle cx="582.8" cy="823.1" r="4.8" fill="#56a465" stroke="#24583a" stroke-width="0.5" stroke-opacity="0.7"/><circle cx="564.9" cy="817.6" r="5.3" fill="#4a9a5c" stroke="#24583a" stroke-width="0.5" stroke-opacity="0.7"/><circle cx="578.6" cy="833.7" r="6.3" fill="#4a9a5c" stroke="#24583a" stroke-width="0.5" stroke-opacity="0.7"/><circle cx="581.1" cy="832.2" r="4.7" fill="#357e47" stroke="#24583a" stroke-width="0.5" stroke-opacity="0.7"/><circle cx="554.1" cy="812.1" r="4.6" fill="#4a9a5c" stroke="#24583a" stroke-width="0.5" stroke-opacity="0.7"/><circle cx="562.0" cy="827.7" r="5.0" fill="#4a9a5c" stroke="#24583a" stroke-width="0.5" stroke-opacity="0.7"/><circle cx="566.2" cy="825.7" r="3.7" fill="#357e47" stroke="#24583a" stroke-width="0.5" stroke-opacity="0.7"/><circle cx="584.7" cy="812.4" r="5.7" fill="#56a465" stroke="#24583a" stroke-width="0.5" stroke-opacity="0.7"/><circle cx="568.3" cy="827.2" r="5.5" fill="#438f55" stroke="#24583a" stroke-width="0.5" stroke-opacity="0.7"/><circle cx="570.5" cy="802.9" r="5.5" fill="#438f55" stroke="#24583a" stroke-width="0.5" stroke-opacity="0.7"/><circle cx="556.9" cy="811.4" r="5.2" fill="#357e47" stroke="#24583a" stroke-width="0.5" stroke-opacity="0.7"/><circle cx="547.7" cy="812.9" r="3.9" fill="#56a465" stroke="#24583a" stroke-width="0.5" stroke-opacity="0.7"/><circle cx="561.3" cy="823.1" r="5.0" fill="#4a9a5c" stroke="#24583a" stroke-width="0.5" stroke-opacity="0.7"/><circle cx="571.0" cy="819.1" r="4.2" fill="#3f8c52" stroke="#24583a" stroke-width="0.5" stroke-opacity="0.7"/><circle cx="548.0" cy="816.2" r="6.0" fill="#357e47" stroke="#24583a" stroke-width="0.5" stroke-opacity="0.7"/><circle cx="542.8" cy="815.0" r="4.1" fill="#56a465" stroke="#24583a" stroke-width="0.5" stroke-opacity="0.7"/><circle cx="553.5" cy="829.9" r="3.8" fill="#438f55" stroke="#24583a" stroke-width="0.5" stroke-opacity="0.7"/><circle cx="566.6" cy="838.5" r="5.0" fill="#56a465" stroke="#24583a" stroke-width="0.5" stroke-opacity="0.7"/><circle cx="551.8" cy="808.5" r="4.7" fill="#4a9a5c" stroke="#24583a" stroke-width="0.5" stroke-opacity="0.7"/><circle cx="553.6" cy="818.6" r="5.5" fill="#3f8c52" stroke="#24583a" stroke-width="0.5" stroke-opacity="0.7"/><circle cx="579.8" cy="834.3" r="5.6" fill="#3f8c52" stroke="#24583a" stroke-width="0.5" stroke-opacity="0.7"/><circle cx="548.2" cy="810.7" r="6.1" fill="#56a465" stroke="#24583a" stroke-width="0.5" stroke-opacity="0.7"/><circle cx="564.3" cy="804.1" r="3.6" fill="#357e47" stroke="#24583a" stroke-width="0.5" stroke-opacity="0.7"/><circle cx="563.1" cy="811.0" r="5.9" fill="#3f8c52" stroke="#24583a" stroke-width="0.5" stroke-opacity="0.7"/><circle cx="588.4" cy="823.3" r="4.0" fill="#56a465" stroke="#24583a" stroke-width="0.5" stroke-opacity="0.7"/><circle cx="580.8" cy="825.5" r="5.3" fill="#438f55" stroke="#24583a" stroke-width="0.5" stroke-opacity="0.7"/><circle cx="564.2" cy="803.9" r="5.1" fill="#438f55" stroke="#24583a" stroke-width="0.5" stroke-opacity="0.7"/><circle cx="559.5" cy="833.7" r="4.7" fill="#3f8c52" stroke="#24583a" stroke-width="0.5" stroke-opacity="0.7"/><circle cx="555.2" cy="826.5" r="4.5" fill="#438f55" stroke="#24583a" stroke-width="0.5" stroke-opacity="0.7"/><circle cx="567.3" cy="825.5" r="4.8" fill="#4a9a5c" stroke="#24583a" stroke-width="0.5" stroke-opacity="0.7"/><circle cx="564.3" cy="819.0" r="4.9" fill="#357e47" stroke="#24583a" stroke-width="0.5" stroke-opacity="0.7"/><circle cx="564.4" cy="819.8" r="6.5" fill="#56a465" stroke="#24583a" stroke-width="0.5" stroke-opacity="0.7"/><circle cx="548.2" cy="811.7" r="5.0" fill="#4a9a5c" stroke="#24583a" stroke-width="0.5" stroke-opacity="0.7"/><circle cx="568.0" cy="833.3" r="3.8" fill="#4a9a5c" stroke="#24583a" stroke-width="0.5" stroke-opacity="0.7"/><circle cx="584.9" cy="814.6" r="3.7" fill="#56a465" stroke="#24583a" stroke-width="0.5" stroke-opacity="0.7"/><circle cx="557.3" cy="835.3" r="3.9" fill="#3f8c52" stroke="#24583a" stroke-width="0.5" stroke-opacity="0.7"/><circle cx="548.3" cy="825.3" r="5.1" fill="#3f8c52" stroke="#24583a" stroke-width="0.5" stroke-opacity="0.7"/><circle cx="543.5" cy="828.6" r="5.6" fill="#438f55" stroke="#24583a" stroke-width="0.5" stroke-opacity="0.7"/><circle cx="580.3" cy="815.0" r="5.0" fill="#438f55" stroke="#24583a" stroke-width="0.5" stroke-opacity="0.7"/><circle cx="554.5" cy="825.0" r="6.4" fill="#3f8c52" stroke="#24583a" stroke-width="0.5" stroke-opacity="0.7"/>
<circle cx="592.7" cy="807.0" r="4.1" fill="#357e47" stroke="#24583a" stroke-width="0.5" stroke-opacity="0.7"/><circle cx="608.4" cy="785.4" r="3.7" fill="#3f8c52" stroke="#24583a" stroke-width="0.5" stroke-opacity="0.7"/><circle cx="627.9" cy="818.6" r="6.3" fill="#56a465" stroke="#24583a" stroke-width="0.5" stroke-opacity="0.7"/><circle cx="585.9" cy="823.3" r="5.8" fill="#438f55" stroke="#24583a" stroke-width="0.5" stroke-opacity="0.7"/><circle cx="611.6" cy="792.5" r="5.5" fill="#438f55" stroke="#24583a" stroke-width="0.5" stroke-opacity="0.7"/><circle cx="582.1" cy="791.5" r="4.0" fill="#3f8c52" stroke="#24583a" stroke-width="0.5" stroke-opacity="0.7"/><circle cx="601.5" cy="780.7" r="4.3" fill="#3f8c52" stroke="#24583a" stroke-width="0.5" stroke-opacity="0.7"/><circle cx="595.6" cy="814.3" r="3.8" fill="#56a465" stroke="#24583a" stroke-width="0.5" stroke-opacity="0.7"/><circle cx="626.8" cy="790.8" r="5.0" fill="#357e47" stroke="#24583a" stroke-width="0.5" stroke-opacity="0.7"/><circle cx="606.2" cy="822.6" r="6.0" fill="#4a9a5c" stroke="#24583a" stroke-width="0.5" stroke-opacity="0.7"/><circle cx="612.6" cy="827.9" r="6.3" fill="#3f8c52" stroke="#24583a" stroke-width="0.5" stroke-opacity="0.7"/><circle cx="611.3" cy="782.5" r="5.5" fill="#438f55" stroke="#24583a" stroke-width="0.5" stroke-opacity="0.7"/><circle cx="585.4" cy="823.2" r="6.1" fill="#4a9a5c" stroke="#24583a" stroke-width="0.5" stroke-opacity="0.7"/><circle cx="596.8" cy="786.0" r="3.6" fill="#3f8c52" stroke="#24583a" stroke-width="0.5" stroke-opacity="0.7"/><circle cx="626.8" cy="814.7" r="6.4" fill="#438f55" stroke="#24583a" stroke-width="0.5" stroke-opacity="0.7"/><circle cx="612.1" cy="801.7" r="3.9" fill="#4a9a5c" stroke="#24583a" stroke-width="0.5" stroke-opacity="0.7"/><circle cx="591.1" cy="793.6" r="5.9" fill="#357e47" stroke="#24583a" stroke-width="0.5" stroke-opacity="0.7"/><circle cx="621.1" cy="823.6" r="6.1" fill="#3f8c52" stroke="#24583a" stroke-width="0.5" stroke-opacity="0.7"/><circle cx="591.1" cy="782.4" r="5.0" fill="#4a9a5c" stroke="#24583a" stroke-width="0.5" stroke-opacity="0.7"/><circle cx="608.7" cy="784.0" r="4.4" fill="#438f55" stroke="#24583a" stroke-width="0.5" stroke-opacity="0.7"/><circle cx="601.6" cy="786.7" r="4.6" fill="#3f8c52" stroke="#24583a" stroke-width="0.5" stroke-opacity="0.7"/><circle cx="621.7" cy="801.4" r="4.1" fill="#357e47" stroke="#24583a" stroke-width="0.5" stroke-opacity="0.7"/><circle cx="584.2" cy="796.2" r="6.2" fill="#4a9a5c" stroke="#24583a" stroke-width="0.5" stroke-opacity="0.7"/><circle cx="585.1" cy="784.0" r="4.4" fill="#56a465" stroke="#24583a" stroke-width="0.5" stroke-opacity="0.7"/><circle cx="620.8" cy="810.6" r="6.5" fill="#357e47" stroke="#24583a" stroke-width="0.5" stroke-opacity="0.7"/><circle cx="585.7" cy="814.7" r="6.3" fill="#357e47" stroke="#24583a" stroke-width="0.5" stroke-opacity="0.7"/><circle cx="627.9" cy="793.0" r="4.2" fill="#438f55" stroke="#24583a" stroke-width="0.5" stroke-opacity="0.7"/><circle cx="585.9" cy="818.2" r="5.9" fill="#357e47" stroke="#24583a" stroke-width="0.5" stroke-opacity="0.7"/><circle cx="609.3" cy="795.7" r="4.0" fill="#56a465" stroke="#24583a" stroke-width="0.5" stroke-opacity="0.7"/><circle cx="630.4" cy="801.1" r="4.0" fill="#3f8c52" stroke="#24583a" stroke-width="0.5" stroke-opacity="0.7"/><circle cx="582.9" cy="822.5" r="5.4" fill="#357e47" stroke="#24583a" stroke-width="0.5" stroke-opacity="0.7"/><circle cx="587.5" cy="801.4" r="4.3" fill="#4a9a5c" stroke="#24583a" stroke-width="0.5" stroke-opacity="0.7"/><circle cx="594.2" cy="809.2" r="5.8" fill="#3f8c52" stroke="#24583a" stroke-width="0.5" stroke-opacity="0.7"/><circle cx="580.2" cy="819.5" r="6.2" fill="#438f55" stroke="#24583a" stroke-width="0.5" stroke-opacity="0.7"/><circle cx="576.4" cy="793.6" r="5.6" fill="#3f8c52" stroke="#24583a" stroke-width="0.5" stroke-opacity="0.7"/><circle cx="609.3" cy="782.7" r="5.9" fill="#4a9a5c" stroke="#24583a" stroke-width="0.5" stroke-opacity="0.7"/><circle cx="627.7" cy="818.9" r="5.0" fill="#438f55" stroke="#24583a" stroke-width="0.5" stroke-opacity="0.7"/><circle cx="628.5" cy="796.7" r="5.2" fill="#357e47" stroke="#24583a" stroke-width="0.5" stroke-opacity="0.7"/><circle cx="598.7" cy="796.5" r="5.0" fill="#56a465" stroke="#24583a" stroke-width="0.5" stroke-opacity="0.7"/><circle cx="613.0" cy="802.2" r="6.1" fill="#357e47" stroke="#24583a" stroke-width="0.5" stroke-opacity="0.7"/><circle cx="611.0" cy="777.2" r="3.7" fill="#4a9a5c" stroke="#24583a" stroke-width="0.5" stroke-opacity="0.7"/><circle cx="585.7" cy="807.9" r="3.7" fill="#438f55" stroke="#24583a" stroke-width="0.5" stroke-opacity="0.7"/><circle cx="581.0" cy="811.1" r="3.9" fill="#438f55" stroke="#24583a" stroke-width="0.5" stroke-opacity="0.7"/><circle cx="576.4" cy="794.0" r="6.0" fill="#357e47" stroke="#24583a" stroke-width="0.5" stroke-opacity="0.7"/><circle cx="622.0" cy="811.1" r="5.0" fill="#4a9a5c" stroke="#24583a" stroke-width="0.5" stroke-opacity="0.7"/><circle cx="612.6" cy="818.7" r="5.6" fill="#3f8c52" stroke="#24583a" stroke-width="0.5" stroke-opacity="0.7"/><circle cx="618.9" cy="788.5" r="3.6" fill="#357e47" stroke="#24583a" stroke-width="0.5" stroke-opacity="0.7"/><circle cx="628.9" cy="801.9" r="5.3" fill="#3f8c52" stroke="#24583a" stroke-width="0.5" stroke-opacity="0.7"/><circle cx="600.8" cy="795.2" r="5.0" fill="#3f8c52" stroke="#24583a" stroke-width="0.5" stroke-opacity="0.7"/><circle cx="593.8" cy="781.4" r="4.3" fill="#438f55" stroke="#24583a" stroke-width="0.5" stroke-opacity="0.7"/><circle cx="622.0" cy="818.3" r="5.7" fill="#438f55" stroke="#24583a" stroke-width="0.5" stroke-opacity="0.7"/><circle cx="589.5" cy="782.6" r="5.3" fill="#3f8c52" stroke="#24583a" stroke-width="0.5" stroke-opacity="0.7"/><circle cx="617.3" cy="818.7" r="3.9" fill="#357e47" stroke="#24583a" stroke-width="0.5" stroke-opacity="0.7"/><circle cx="618.3" cy="797.1" r="4.0" fill="#438f55" stroke="#24583a" stroke-width="0.5" stroke-opacity="0.7"/><circle cx="604.0" cy="796.4" r="5.3" fill="#357e47" stroke="#24583a" stroke-width="0.5" stroke-opacity="0.7"/><circle cx="606.2" cy="786.9" r="5.1" fill="#438f55" stroke="#24583a" stroke-width="0.5" stroke-opacity="0.7"/><circle cx="604.9" cy="779.7" r="6.3" fill="#438f55" stroke="#24583a" stroke-width="0.5" stroke-opacity="0.7"/><circle cx="608.7" cy="815.4" r="5.8" fill="#3f8c52" stroke="#24583a" stroke-width="0.5" stroke-opacity="0.7"/><circle cx="582.8" cy="784.6" r="3.9" fill="#357e47" stroke="#24583a" stroke-width="0.5" stroke-opacity="0.7"/><circle cx="590.9" cy="815.9" r="6.4" fill="#357e47" stroke="#24583a" stroke-width="0.5" stroke-opacity="0.7"/>
<circle cx="503.5" cy="817.4" r="3.1" fill="#438f55" stroke="#24583a" stroke-width="0.5" stroke-opacity="0.7"/><circle cx="502.2" cy="820.8" r="2.7" fill="#357e47" stroke="#24583a" stroke-width="0.5" stroke-opacity="0.7"/><circle cx="504.0" cy="820.6" r="2.7" fill="#56a465" stroke="#24583a" stroke-width="0.5" stroke-opacity="0.7"/><circle cx="510.0" cy="816.1" r="3.7" fill="#3f8c52" stroke="#24583a" stroke-width="0.5" stroke-opacity="0.7"/><circle cx="508.9" cy="819.0" r="3.7" fill="#4a9a5c" stroke="#24583a" stroke-width="0.5" stroke-opacity="0.7"/><circle cx="509.0" cy="821.8" r="4.3" fill="#4a9a5c" stroke="#24583a" stroke-width="0.5" stroke-opacity="0.7"/>
<circle cx="630.4" cy="814.4" r="3.9" fill="#56a465" stroke="#24583a" stroke-width="0.5" stroke-opacity="0.7"/><circle cx="632.6" cy="813.3" r="4.5" fill="#4a9a5c" stroke="#24583a" stroke-width="0.5" stroke-opacity="0.7"/><circle cx="626.9" cy="807.8" r="2.7" fill="#438f55" stroke="#24583a" stroke-width="0.5" stroke-opacity="0.7"/><circle cx="634.7" cy="810.6" r="2.6" fill="#4a9a5c" stroke="#24583a" stroke-width="0.5" stroke-opacity="0.7"/><circle cx="626.7" cy="810.5" r="4.0" fill="#56a465" stroke="#24583a" stroke-width="0.5" stroke-opacity="0.7"/><circle cx="627.8" cy="812.6" r="4.0" fill="#4a9a5c" stroke="#24583a" stroke-width="0.5" stroke-opacity="0.7"/>
<path d="M297.8,877L299.3,790L302.3,790L303.8,877z" fill="#7f5232"/>
<path d="M339.6,877L341.1,800L344.1,800L345.6,877z" fill="#7f5232"/>
<path d="M385.5,877L387.0,790L390.0,790L391.5,877z" fill="#7f5232"/>
<path d="M300.8,812L278.8,784M300.8,812L318.40000000000003,786.8M300.8,803.6L292.0,778.4" stroke="#7f5232" stroke-width="1.5" fill="none"/>
<path d="M342.6,818L320.6,790M342.6,818L360.20000000000005,792.8M342.6,809.6L333.8,784.4" stroke="#7f5232" stroke-width="1.5" fill="none"/>
<path d="M388.5,812L366.5,784M388.5,812L406.1,786.8M388.5,803.6L379.7,778.4" stroke="#7f5232" stroke-width="1.5" fill="none"/>
<path d="M300.8,812L252,790M388.5,812L440,790" stroke="#7f5232" stroke-width="1.6" fill="none"/>
<circle cx="277.7" cy="748.1" r="7.2" fill="#2f7a4c" stroke="#1f5a35" stroke-width="0.5" stroke-opacity="0.7"/><circle cx="273.0" cy="768.0" r="4.4" fill="#56a46f" stroke="#1f5a35" stroke-width="0.5" stroke-opacity="0.7"/><circle cx="294.9" cy="755.1" r="4.9" fill="#56a46f" stroke="#1f5a35" stroke-width="0.5" stroke-opacity="0.7"/><circle cx="276.9" cy="780.7" r="6.4" fill="#2f7a4c" stroke="#1f5a35" stroke-width="0.5" stroke-opacity="0.7"/><circle cx="272.0" cy="764.2" r="5.0" fill="#56a46f" stroke="#1f5a35" stroke-width="0.5" stroke-opacity="0.7"/><circle cx="284.1" cy="751.5" r="7.0" fill="#357f52" stroke="#1f5a35" stroke-width="0.5" stroke-opacity="0.7"/><circle cx="275.0" cy="743.5" r="6.1" fill="#2f7a4c" stroke="#1f5a35" stroke-width="0.5" stroke-opacity="0.7"/><circle cx="288.4" cy="759.0" r="6.4" fill="#3f8f5e" stroke="#1f5a35" stroke-width="0.5" stroke-opacity="0.7"/><circle cx="286.2" cy="786.1" r="7.0" fill="#357f52" stroke="#1f5a35" stroke-width="0.5" stroke-opacity="0.7"/><circle cx="288.5" cy="788.8" r="5.7" fill="#2f7a4c" stroke="#1f5a35" stroke-width="0.5" stroke-opacity="0.7"/><circle cx="294.1" cy="768.5" r="5.8" fill="#4a9a66" stroke="#1f5a35" stroke-width="0.5" stroke-opacity="0.7"/><circle cx="274.8" cy="763.6" r="7.1" fill="#56a46f" stroke="#1f5a35" stroke-width="0.5" stroke-opacity="0.7"/><circle cx="286.1" cy="777.8" r="5.7" fill="#2f7a4c" stroke="#1f5a35" stroke-width="0.5" stroke-opacity="0.7"/><circle cx="275.7" cy="757.9" r="6.0" fill="#4a9a66" stroke="#1f5a35" stroke-width="0.5" stroke-opacity="0.7"/><circle cx="309.1" cy="756.3" r="5.7" fill="#2f7a4c" stroke="#1f5a35" stroke-width="0.5" stroke-opacity="0.7"/><circle cx="276.4" cy="748.9" r="5.0" fill="#3f8f5e" stroke="#1f5a35" stroke-width="0.5" stroke-opacity="0.7"/><circle cx="293.5" cy="775.0" r="7.0" fill="#56a46f" stroke="#1f5a35" stroke-width="0.5" stroke-opacity="0.7"/><circle cx="309.4" cy="771.1" r="4.5" fill="#4a9a66" stroke="#1f5a35" stroke-width="0.5" stroke-opacity="0.7"/><circle cx="269.7" cy="764.9" r="4.3" fill="#4a9a66" stroke="#1f5a35" stroke-width="0.5" stroke-opacity="0.7"/><circle cx="307.1" cy="779.9" r="4.0" fill="#2f7a4c" stroke="#1f5a35" stroke-width="0.5" stroke-opacity="0.7"/><circle cx="301.2" cy="767.3" r="5.8" fill="#3f8f5e" stroke="#1f5a35" stroke-width="0.5" stroke-opacity="0.7"/><circle cx="285.2" cy="750.9" r="4.4" fill="#3f8f5e" stroke="#1f5a35" stroke-width="0.5" stroke-opacity="0.7"/><circle cx="294.8" cy="776.3" r="6.4" fill="#2f7a4c" stroke="#1f5a35" stroke-width="0.5" stroke-opacity="0.7"/><circle cx="286.8" cy="783.0" r="7.2" fill="#2f7a4c" stroke="#1f5a35" stroke-width="0.5" stroke-opacity="0.7"/><circle cx="308.6" cy="764.5" r="5.3" fill="#357f52" stroke="#1f5a35" stroke-width="0.5" stroke-opacity="0.7"/><circle cx="299.2" cy="749.3" r="7.4" fill="#357f52" stroke="#1f5a35" stroke-width="0.5" stroke-opacity="0.7"/><circle cx="302.6" cy="785.9" r="4.1" fill="#56a46f" stroke="#1f5a35" stroke-width="0.5" stroke-opacity="0.7"/><circle cx="291.3" cy="768.4" r="6.4" fill="#357f52" stroke="#1f5a35" stroke-width="0.5" stroke-opacity="0.7"/><circle cx="265.4" cy="758.0" r="5.9" fill="#4a9a66" stroke="#1f5a35" stroke-width="0.5" stroke-opacity="0.7"/><circle cx="289.4" cy="782.0" r="7.0" fill="#3f8f5e" stroke="#1f5a35" stroke-width="0.5" stroke-opacity="0.7"/><circle cx="268.4" cy="784.2" r="5.1" fill="#2f7a4c" stroke="#1f5a35" stroke-width="0.5" stroke-opacity="0.7"/><circle cx="286.6" cy="768.9" r="7.5" fill="#357f52" stroke="#1f5a35" stroke-width="0.5" stroke-opacity="0.7"/><circle cx="306.2" cy="752.4" r="7.5" fill="#4a9a66" stroke="#1f5a35" stroke-width="0.5" stroke-opacity="0.7"/><circle cx="284.1" cy="786.1" r="5.2" fill="#3f8f5e" stroke="#1f5a35" stroke-width="0.5" stroke-opacity="0.7"/><circle cx="266.5" cy="763.4" r="7.0" fill="#357f52" stroke="#1f5a35" stroke-width="0.5" stroke-opacity="0.7"/><circle cx="293.2" cy="765.1" r="5.5" fill="#56a46f" stroke="#1f5a35" stroke-width="0.5" stroke-opacity="0.7"/><circle cx="267.1" cy="765.5" r="4.3" fill="#2f7a4c" stroke="#1f5a35" stroke-width="0.5" stroke-opacity="0.7"/><circle cx="282.5" cy="790.4" r="5.6" fill="#56a46f" stroke="#1f5a35" stroke-width="0.5" stroke-opacity="0.7"/><circle cx="299.0" cy="745.7" r="6.9" fill="#4a9a66" stroke="#1f5a35" stroke-width="0.5" stroke-opacity="0.7"/><circle cx="303.8" cy="756.7" r="4.9" fill="#4a9a66" stroke="#1f5a35" stroke-width="0.5" stroke-opacity="0.7"/><circle cx="302.0" cy="789.0" r="5.8" fill="#56a46f" stroke="#1f5a35" stroke-width="0.5" stroke-opacity="0.7"/><circle cx="284.7" cy="756.9" r="5.3" fill="#3f8f5e" stroke="#1f5a35" stroke-width="0.5" stroke-opacity="0.7"/><circle cx="281.9" cy="742.5" r="6.8" fill="#2f7a4c" stroke="#1f5a35" stroke-width="0.5" stroke-opacity="0.7"/><circle cx="285.7" cy="769.4" r="4.9" fill="#4a9a66" stroke="#1f5a35" stroke-width="0.5" stroke-opacity="0.7"/><circle cx="306.4" cy="785.7" r="7.3" fill="#357f52" stroke="#1f5a35" stroke-width="0.5" stroke-opacity="0.7"/><circle cx="276.1" cy="751.1" r="7.2" fill="#56a46f" stroke="#1f5a35" stroke-width="0.5" stroke-opacity="0.7"/><circle cx="296.2" cy="768.1" r="4.4" fill="#4a9a66" stroke="#1f5a35" stroke-width="0.5" stroke-opacity="0.7"/><circle cx="299.7" cy="747.2" r="6.5" fill="#56a46f" stroke="#1f5a35" stroke-width="0.5" stroke-opacity="0.7"/><circle cx="296.9" cy="779.0" r="6.4" fill="#4a9a66" stroke="#1f5a35" stroke-width="0.5" stroke-opacity="0.7"/><circle cx="285.6" cy="774.0" r="5.2" fill="#4a9a66" stroke="#1f5a35" stroke-width="0.5" stroke-opacity="0.7"/><circle cx="304.3" cy="778.3" r="4.4" fill="#3f8f5e" stroke="#1f5a35" stroke-width="0.5" stroke-opacity="0.7"/><circle cx="300.6" cy="786.1" r="6.1" fill="#2f7a4c" stroke="#1f5a35" stroke-width="0.5" stroke-opacity="0.7"/><circle cx="292.7" cy="759.6" r="5.6" fill="#2f7a4c" stroke="#1f5a35" stroke-width="0.5" stroke-opacity="0.7"/><circle cx="288.0" cy="757.1" r="4.7" fill="#357f52" stroke="#1f5a35" stroke-width="0.5" stroke-opacity="0.7"/><circle cx="304.8" cy="779.1" r="6.6" fill="#357f52" stroke="#1f5a35" stroke-width="0.5" stroke-opacity="0.7"/><circle cx="280.9" cy="785.0" r="4.6" fill="#4a9a66" stroke="#1f5a35" stroke-width="0.5" stroke-opacity="0.7"/><circle cx="299.7" cy="750.8" r="6.1" fill="#2f7a4c" stroke="#1f5a35" stroke-width="0.5" stroke-opacity="0.7"/><circle cx="309.1" cy="779.9" r="5.1" fill="#3f8f5e" stroke="#1f5a35" stroke-width="0.5" stroke-opacity="0.7"/><circle cx="274.8" cy="744.5" r="5.4" fill="#3f8f5e" stroke="#1f5a35" stroke-width="0.5" stroke-opacity="0.7"/><circle cx="295.5" cy="746.3" r="6.3" fill="#3f8f5e" stroke="#1f5a35" stroke-width="0.5" stroke-opacity="0.7"/><circle cx="308.8" cy="765.1" r="5.4" fill="#2f7a4c" stroke="#1f5a35" stroke-width="0.5" stroke-opacity="0.7"/><circle cx="277.6" cy="742.4" r="6.7" fill="#357f52" stroke="#1f5a35" stroke-width="0.5" stroke-opacity="0.7"/><circle cx="287.4" cy="747.7" r="6.6" fill="#4a9a66" stroke="#1f5a35" stroke-width="0.5" stroke-opacity="0.7"/><circle cx="286.2" cy="792.7" r="6.0" fill="#4a9a66" stroke="#1f5a35" stroke-width="0.5" stroke-opacity="0.7"/><circle cx="292.2" cy="761.5" r="5.1" fill="#357f52" stroke="#1f5a35" stroke-width="0.5" stroke-opacity="0.7"/><circle cx="279.4" cy="739.1" r="4.6" fill="#2f7a4c" stroke="#1f5a35" stroke-width="0.5" stroke-opacity="0.7"/><circle cx="288.5" cy="764.9" r="5.5" fill="#357f52" stroke="#1f5a35" stroke-width="0.5" stroke-opacity="0.7"/><circle cx="275.7" cy="754.9" r="4.2" fill="#357f52" stroke="#1f5a35" stroke-width="0.5" stroke-opacity="0.7"/><circle cx="307.2" cy="764.5" r="5.8" fill="#2f7a4c" stroke="#1f5a35" stroke-width="0.5" stroke-opacity="0.7"/><circle cx="288.4" cy="761.0" r="5.6" fill="#4a9a66" stroke="#1f5a35" stroke-width="0.5" stroke-opacity="0.7"/><circle cx="270.4" cy="780.8" r="4.2" fill="#3f8f5e" stroke="#1f5a35" stroke-width="0.5" stroke-opacity="0.7"/><circle cx="300.4" cy="764.2" r="6.6" fill="#2f7a4c" stroke="#1f5a35" stroke-width="0.5" stroke-opacity="0.7"/><circle cx="283.4" cy="779.8" r="4.4" fill="#4a9a66" stroke="#1f5a35" stroke-width="0.5" stroke-opacity="0.7"/><circle cx="266.9" cy="771.3" r="6.3" fill="#3f8f5e" stroke="#1f5a35" stroke-width="0.5" stroke-opacity="0.7"/><circle cx="296.7" cy="783.5" r="7.2" fill="#56a46f" stroke="#1f5a35" stroke-width="0.5" stroke-opacity="0.7"/><circle cx="269.7" cy="776.2" r="4.7" fill="#357f52" stroke="#1f5a35" stroke-width="0.5" stroke-opacity="0.7"/><circle cx="265.0" cy="783.0" r="7.2" fill="#3f8f5e" stroke="#1f5a35" stroke-width="0.5" stroke-opacity="0.7"/><circle cx="297.3" cy="767.0" r="6.7" fill="#4a9a66" stroke="#1f5a35" stroke-width="0.5" stroke-opacity="0.7"/><circle cx="281.6" cy="738.5" r="6.4" fill="#56a46f" stroke="#1f5a35" stroke-width="0.5" stroke-opacity="0.7"/><circle cx="294.0" cy="795.9" r="6.5" fill="#357f52" stroke="#1f5a35" stroke-width="0.5" stroke-opacity="0.7"/><circle cx="302.7" cy="751.7" r="6.4" fill="#357f52" stroke="#1f5a35" stroke-width="0.5" stroke-opacity="0.7"/><circle cx="283.8" cy="756.0" r="7.1" fill="#357f52" stroke="#1f5a35" stroke-width="0.5" stroke-opacity="0.7"/><circle cx="264.6" cy="774.3" r="5.7" fill="#3f8f5e" stroke="#1f5a35" stroke-width="0.5" stroke-opacity="0.7"/><circle cx="289.2" cy="779.9" r="6.2" fill="#4a9a66" stroke="#1f5a35" stroke-width="0.5" stroke-opacity="0.7"/><circle cx="272.4" cy="766.0" r="6.4" fill="#56a46f" stroke="#1f5a35" stroke-width="0.5" stroke-opacity="0.7"/><circle cx="264.7" cy="773.2" r="5.4" fill="#56a46f" stroke="#1f5a35" stroke-width="0.5" stroke-opacity="0.7"/><circle cx="281.8" cy="753.3" r="6.5" fill="#4a9a66" stroke="#1f5a35" stroke-width="0.5" stroke-opacity="0.7"/><circle cx="309.0" cy="774.5" r="7.1" fill="#2f7a4c" stroke="#1f5a35" stroke-width="0.5" stroke-opacity="0.7"/><circle cx="280.2" cy="777.1" r="4.3" fill="#357f52" stroke="#1f5a35" stroke-width="0.5" stroke-opacity="0.7"/><circle cx="281.8" cy="763.5" r="4.1" fill="#4a9a66" stroke="#1f5a35" stroke-width="0.5" stroke-opacity="0.7"/><circle cx="280.9" cy="747.1" r="5.3" fill="#4a9a66" stroke="#1f5a35" stroke-width="0.5" stroke-opacity="0.7"/><circle cx="308.1" cy="772.7" r="5.9" fill="#2f7a4c" stroke="#1f5a35" stroke-width="0.5" stroke-opacity="0.7"/><circle cx="285.0" cy="786.2" r="5.5" fill="#56a46f" stroke="#1f5a35" stroke-width="0.5" stroke-opacity="0.7"/><circle cx="263.8" cy="764.8" r="5.8" fill="#56a46f" stroke="#1f5a35" stroke-width="0.5" stroke-opacity="0.7"/><circle cx="278.4" cy="763.4" r="7.3" fill="#3f8f5e" stroke="#1f5a35" stroke-width="0.5" stroke-opacity="0.7"/><circle cx="292.4" cy="737.9" r="5.2" fill="#357f52" stroke="#1f5a35" stroke-width="0.5" stroke-opacity="0.7"/><circle cx="281.4" cy="760.6" r="6.2" fill="#357f52" stroke="#1f5a35" stroke-width="0.5" stroke-opacity="0.7"/><circle cx="280.4" cy="744.5" r="5.2" fill="#3f8f5e" stroke="#1f5a35" stroke-width="0.5" stroke-opacity="0.7"/><circle cx="283.6" cy="791.8" r="7.5" fill="#4a9a66" stroke="#1f5a35" stroke-width="0.5" stroke-opacity="0.7"/><circle cx="275.3" cy="749.0" r="6.4" fill="#357f52" stroke="#1f5a35" stroke-width="0.5" stroke-opacity="0.7"/><circle cx="302.1" cy="770.9" r="5.4" fill="#56a46f" stroke="#1f5a35" stroke-width="0.5" stroke-opacity="0.7"/><circle cx="279.8" cy="775.8" r="7.2" fill="#3f8f5e" stroke="#1f5a35" stroke-width="0.5" stroke-opacity="0.7"/><circle cx="276.9" cy="781.1" r="4.1" fill="#4a9a66" stroke="#1f5a35" stroke-width="0.5" stroke-opacity="0.7"/><circle cx="292.4" cy="794.2" r="7.2" fill="#4a9a66" stroke="#1f5a35" stroke-width="0.5" stroke-opacity="0.7"/><circle cx="288.6" cy="758.5" r="5.1" fill="#3f8f5e" stroke="#1f5a35" stroke-width="0.5" stroke-opacity="0.7"/><circle cx="296.1" cy="778.2" r="4.8" fill="#2f7a4c" stroke="#1f5a35" stroke-width="0.5" stroke-opacity="0.7"/><circle cx="307.6" cy="749.4" r="6.5" fill="#2f7a4c" stroke="#1f5a35" stroke-width="0.5" stroke-opacity="0.7"/><circle cx="303.5" cy="750.7" r="6.4" fill="#4a9a66" stroke="#1f5a35" stroke-width="0.5" stroke-opacity="0.7"/><circle cx="263.4" cy="761.2" r="6.4" fill="#2f7a4c" stroke="#1f5a35" stroke-width="0.5" stroke-opacity="0.7"/><circle cx="265.5" cy="772.3" r="7.0" fill="#357f52" stroke="#1f5a35" stroke-width="0.5" stroke-opacity="0.7"/><circle cx="274.5" cy="764.3" r="5.4" fill="#357f52" stroke="#1f5a35" stroke-width="0.5" stroke-opacity="0.7"/><circle cx="286.7" cy="781.0" r="5.1" fill="#4a9a66" stroke="#1f5a35" stroke-width="0.5" stroke-opacity="0.7"/><circle cx="281.3" cy="772.0" r="7.2" fill="#4a9a66" stroke="#1f5a35" stroke-width="0.5" stroke-opacity="0.7"/><circle cx="284.9" cy="749.6" r="7.3" fill="#56a46f" stroke="#1f5a35" stroke-width="0.5" stroke-opacity="0.7"/><circle cx="272.2" cy="782.0" r="4.5" fill="#4a9a66" stroke="#1f5a35" stroke-width="0.5" stroke-opacity="0.7"/><circle cx="274.8" cy="746.8" r="4.4" fill="#56a46f" stroke="#1f5a35" stroke-width="0.5" stroke-opacity="0.7"/><circle cx="287.1" cy="739.5" r="5.7" fill="#2f7a4c" stroke="#1f5a35" stroke-width="0.5" stroke-opacity="0.7"/><circle cx="278.5" cy="765.4" r="6.4" fill="#4a9a66" stroke="#1f5a35" stroke-width="0.5" stroke-opacity="0.7"/><circle cx="311.7" cy="759.5" r="4.7" fill="#357f52" stroke="#1f5a35" stroke-width="0.5" stroke-opacity="0.7"/><circle cx="273.3" cy="787.9" r="6.1" fill="#357f52" stroke="#1f5a35" stroke-width="0.5" stroke-opacity="0.7"/>
<circle cx="396.8" cy="739.9" r="4.3" fill="#2f7a4c" stroke="#1f5a35" stroke-width="0.5" stroke-opacity="0.7"/><circle cx="398.1" cy="752.6" r="4.3" fill="#357f52" stroke="#1f5a35" stroke-width="0.5" stroke-opacity="0.7"/><circle cx="433.9" cy="781.8" r="5.6" fill="#4a9a66" stroke="#1f5a35" stroke-width="0.5" stroke-opacity="0.7"/><circle cx="392.6" cy="748.5" r="4.3" fill="#3f8f5e" stroke="#1f5a35" stroke-width="0.5" stroke-opacity="0.7"/><circle cx="404.3" cy="777.3" r="4.5" fill="#3f8f5e" stroke="#1f5a35" stroke-width="0.5" stroke-opacity="0.7"/><circle cx="373.2" cy="764.9" r="5.7" fill="#357f52" stroke="#1f5a35" stroke-width="0.5" stroke-opacity="0.7"/><circle cx="408.0" cy="783.4" r="7.0" fill="#4a9a66" stroke="#1f5a35" stroke-width="0.5" stroke-opacity="0.7"/><circle cx="405.6" cy="760.7" r="7.1" fill="#2f7a4c" stroke="#1f5a35" stroke-width="0.5" stroke-opacity="0.7"/><circle cx="399.3" cy="779.4" r="6.9" fill="#3f8f5e" stroke="#1f5a35" stroke-width="0.5" stroke-opacity="0.7"/><circle cx="392.7" cy="744.7" r="4.2" fill="#2f7a4c" stroke="#1f5a35" stroke-width="0.5" stroke-opacity="0.7"/><circle cx="381.2" cy="755.1" r="5.1" fill="#357f52" stroke="#1f5a35" stroke-width="0.5" stroke-opacity="0.7"/><circle cx="398.2" cy="739.3" r="5.6" fill="#56a46f" stroke="#1f5a35" stroke-width="0.5" stroke-opacity="0.7"/><circle cx="402.2" cy="760.7" r="4.8" fill="#4a9a66" stroke="#1f5a35" stroke-width="0.5" stroke-opacity="0.7"/><circle cx="403.3" cy="797.4" r="5.2" fill="#56a46f" stroke="#1f5a35" stroke-width="0.5" stroke-opacity="0.7"/><circle cx="423.8" cy="762.9" r="7.1" fill="#2f7a4c" stroke="#1f5a35" stroke-width="0.5" stroke-opacity="0.7"/><circle cx="410.3" cy="751.4" r="5.6" fill="#56a46f" stroke="#1f5a35" stroke-width="0.5" stroke-opacity="0.7"/><circle cx="394.2" cy="738.3" r="5.6" fill="#4a9a66" stroke="#1f5a35" stroke-width="0.5" stroke-opacity="0.7"/><circle cx="435.1" cy="777.1" r="5.1" fill="#4a9a66" stroke="#1f5a35" stroke-width="0.5" stroke-opacity="0.7"/><circle cx="426.4" cy="768.9" r="5.7" fill="#56a46f" stroke="#1f5a35" stroke-width="0.5" stroke-opacity="0.7"/><circle cx="377.5" cy="769.7" r="6.8" fill="#56a46f" stroke="#1f5a35" stroke-width="0.5" stroke-opacity="0.7"/><circle cx="393.4" cy="796.6" r="4.7" fill="#2f7a4c" stroke="#1f5a35" stroke-width="0.5" stroke-opacity="0.7"/><circle cx="424.0" cy="755.5" r="6.7" fill="#357f52" stroke="#1f5a35" stroke-width="0.5" stroke-opacity="0.7"/><circle cx="382.1" cy="770.7" r="5.7" fill="#3f8f5e" stroke="#1f5a35" stroke-width="0.5" stroke-opacity="0.7"/><circle cx="379.7" cy="745.5" r="6.4" fill="#3f8f5e" stroke="#1f5a35" stroke-width="0.5" stroke-opacity="0.7"/><circle cx="387.3" cy="750.8" r="5.3" fill="#357f52" stroke="#1f5a35" stroke-width="0.5" stroke-opacity="0.7"/><circle cx="404.0" cy="784.4" r="5.1" fill="#3f8f5e" stroke="#1f5a35" stroke-width="0.5" stroke-opacity="0.7"/><circle cx="391.3" cy="776.0" r="6.3" fill="#2f7a4c" stroke="#1f5a35" stroke-width="0.5" stroke-opacity="0.7"/><circle cx="403.8" cy="764.9" r="4.2" fill="#3f8f5e" stroke="#1f5a35" stroke-width="0.5" stroke-opacity="0.7"/><circle cx="397.9" cy="749.7" r="4.7" fill="#4a9a66" stroke="#1f5a35" stroke-width="0.5" stroke-opacity="0.7"/><circle cx="378.8" cy="750.9" r="6.6" fill="#3f8f5e" stroke="#1f5a35" stroke-width="0.5" stroke-opacity="0.7"/><circle cx="414.3" cy="788.5" r="5.6" fill="#4a9a66" stroke="#1f5a35" stroke-width="0.5" stroke-opacity="0.7"/><circle cx="435.0" cy="756.5" r="5.2" fill="#357f52" stroke="#1f5a35" stroke-width="0.5" stroke-opacity="0.7"/><circle cx="395.3" cy="789.9" r="5.5" fill="#2f7a4c" stroke="#1f5a35" stroke-width="0.5" stroke-opacity="0.7"/><circle cx="414.5" cy="770.8" r="4.0" fill="#2f7a4c" stroke="#1f5a35" stroke-width="0.5" stroke-opacity="0.7"/><circle cx="402.4" cy="779.6" r="5.8" fill="#2f7a4c" stroke="#1f5a35" stroke-width="0.5" stroke-opacity="0.7"/><circle cx="407.4" cy="779.6" r="5.9" fill="#56a46f" stroke="#1f5a35" stroke-width="0.5" stroke-opacity="0.7"/><circle cx="372.0" cy="776.4" r="6.7" fill="#56a46f" stroke="#1f5a35" stroke-width="0.5" stroke-opacity="0.7"/><circle cx="384.2" cy="774.0" r="6.9" fill="#357f52" stroke="#1f5a35" stroke-width="0.5" stroke-opacity="0.7"/><circle cx="427.5" cy="760.6" r="6.7" fill="#3f8f5e" stroke="#1f5a35" stroke-width="0.5" stroke-opacity="0.7"/><circle cx="389.4" cy="752.3" r="7.5" fill="#56a46f" stroke="#1f5a35" stroke-width="0.5" stroke-opacity="0.7"/><circle cx="409.8" cy="783.0" r="4.9" fill="#56a46f" stroke="#1f5a35" stroke-width="0.5" stroke-opacity="0.7"/><circle cx="381.7" cy="786.6" r="6.5" fill="#357f52" stroke="#1f5a35" stroke-width="0.5" stroke-opacity="0.7"/><circle cx="411.3" cy="762.1" r="7.1" fill="#56a46f" stroke="#1f5a35" stroke-width="0.5" stroke-opacity="0.7"/><circle cx="404.3" cy="788.7" r="6.4" fill="#2f7a4c" stroke="#1f5a35" stroke-width="0.5" stroke-opacity="0.7"/><circle cx="415.1" cy="780.5" r="6.3" fill="#56a46f" stroke="#1f5a35" stroke-width="0.5" stroke-opacity="0.7"/><circle cx="410.8" cy="747.9" r="6.6" fill="#3f8f5e" stroke="#1f5a35" stroke-width="0.5" stroke-opacity="0.7"/><circle cx="405.0" cy="778.5" r="4.2" fill="#56a46f" stroke="#1f5a35" stroke-width="0.5" stroke-opacity="0.7"/><circle cx="435.6" cy="762.2" r="7.4" fill="#56a46f" stroke="#1f5a35" stroke-width="0.5" stroke-opacity="0.7"/><circle cx="414.0" cy="762.9" r="5.3" fill="#4a9a66" stroke="#1f5a35" stroke-width="0.5" stroke-opacity="0.7"/><circle cx="432.4" cy="751.5" r="4.2" fill="#4a9a66" stroke="#1f5a35" stroke-width="0.5" stroke-opacity="0.7"/><circle cx="421.9" cy="742.8" r="6.5" fill="#4a9a66" stroke="#1f5a35" stroke-width="0.5" stroke-opacity="0.7"/><circle cx="389.8" cy="748.4" r="5.0" fill="#2f7a4c" stroke="#1f5a35" stroke-width="0.5" stroke-opacity="0.7"/><circle cx="437.0" cy="765.3" r="4.6" fill="#357f52" stroke="#1f5a35" stroke-width="0.5" stroke-opacity="0.7"/><circle cx="417.3" cy="748.7" r="6.6" fill="#357f52" stroke="#1f5a35" stroke-width="0.5" stroke-opacity="0.7"/><circle cx="402.9" cy="746.5" r="6.2" fill="#56a46f" stroke="#1f5a35" stroke-width="0.5" stroke-opacity="0.7"/><circle cx="422.8" cy="770.9" r="6.4" fill="#3f8f5e" stroke="#1f5a35" stroke-width="0.5" stroke-opacity="0.7"/><circle cx="403.2" cy="781.5" r="7.4" fill="#4a9a66" stroke="#1f5a35" stroke-width="0.5" stroke-opacity="0.7"/><circle cx="430.4" cy="781.4" r="6.0" fill="#56a46f" stroke="#1f5a35" stroke-width="0.5" stroke-opacity="0.7"/><circle cx="399.7" cy="782.6" r="4.2" fill="#357f52" stroke="#1f5a35" stroke-width="0.5" stroke-opacity="0.7"/><circle cx="419.0" cy="794.0" r="6.9" fill="#2f7a4c" stroke="#1f5a35" stroke-width="0.5" stroke-opacity="0.7"/><circle cx="413.9" cy="744.5" r="4.7" fill="#2f7a4c" stroke="#1f5a35" stroke-width="0.5" stroke-opacity="0.7"/><circle cx="434.5" cy="777.7" r="6.5" fill="#2f7a4c" stroke="#1f5a35" stroke-width="0.5" stroke-opacity="0.7"/><circle cx="425.3" cy="766.0" r="7.4" fill="#2f7a4c" stroke="#1f5a35" stroke-width="0.5" stroke-opacity="0.7"/><circle cx="427.5" cy="770.4" r="4.1" fill="#3f8f5e" stroke="#1f5a35" stroke-width="0.5" stroke-opacity="0.7"/><circle cx="413.7" cy="785.7" r="4.4" fill="#357f52" stroke="#1f5a35" stroke-width="0.5" stroke-opacity="0.7"/><circle cx="423.0" cy="792.4" r="6.1" fill="#357f52" stroke="#1f5a35" stroke-width="0.5" stroke-opacity="0.7"/><circle cx="428.3" cy="765.4" r="6.9" fill="#3f8f5e" stroke="#1f5a35" stroke-width="0.5" stroke-opacity="0.7"/><circle cx="389.1" cy="752.6" r="5.0" fill="#56a46f" stroke="#1f5a35" stroke-width="0.5" stroke-opacity="0.7"/><circle cx="388.1" cy="766.9" r="4.5" fill="#4a9a66" stroke="#1f5a35" stroke-width="0.5" stroke-opacity="0.7"/><circle cx="425.9" cy="789.6" r="4.3" fill="#3f8f5e" stroke="#1f5a35" stroke-width="0.5" stroke-opacity="0.7"/><circle cx="430.3" cy="758.0" r="4.2" fill="#357f52" stroke="#1f5a35" stroke-width="0.5" stroke-opacity="0.7"/><circle cx="433.3" cy="757.2" r="4.8" fill="#4a9a66" stroke="#1f5a35" stroke-width="0.5" stroke-opacity="0.7"/><circle cx="419.1" cy="784.9" r="5.6" fill="#56a46f" stroke="#1f5a35" stroke-width="0.5" stroke-opacity="0.7"/><circle cx="427.8" cy="760.0" r="4.5" fill="#357f52" stroke="#1f5a35" stroke-width="0.5" stroke-opacity="0.7"/><circle cx="408.6" cy="763.8" r="5.1" fill="#2f7a4c" stroke="#1f5a35" stroke-width="0.5" stroke-opacity="0.7"/><circle cx="402.3" cy="782.8" r="5.2" fill="#2f7a4c" stroke="#1f5a35" stroke-width="0.5" stroke-opacity="0.7"/><circle cx="394.2" cy="777.4" r="7.2" fill="#3f8f5e" stroke="#1f5a35" stroke-width="0.5" stroke-opacity="0.7"/><circle cx="405.5" cy="788.5" r="6.0" fill="#3f8f5e" stroke="#1f5a35" stroke-width="0.5" stroke-opacity="0.7"/><circle cx="433.9" cy="775.7" r="6.3" fill="#56a46f" stroke="#1f5a35" stroke-width="0.5" stroke-opacity="0.7"/><circle cx="404.1" cy="786.5" r="5.2" fill="#4a9a66" stroke="#1f5a35" stroke-width="0.5" stroke-opacity="0.7"/><circle cx="368.8" cy="755.5" r="6.0" fill="#357f52" stroke="#1f5a35" stroke-width="0.5" stroke-opacity="0.7"/><circle cx="405.5" cy="764.6" r="6.3" fill="#56a46f" stroke="#1f5a35" stroke-width="0.5" stroke-opacity="0.7"/><circle cx="425.0" cy="768.4" r="6.0" fill="#3f8f5e" stroke="#1f5a35" stroke-width="0.5" stroke-opacity="0.7"/><circle cx="410.5" cy="795.7" r="6.1" fill="#56a46f" stroke="#1f5a35" stroke-width="0.5" stroke-opacity="0.7"/><circle cx="389.5" cy="784.5" r="6.8" fill="#4a9a66" stroke="#1f5a35" stroke-width="0.5" stroke-opacity="0.7"/><circle cx="386.4" cy="746.7" r="5.5" fill="#4a9a66" stroke="#1f5a35" stroke-width="0.5" stroke-opacity="0.7"/><circle cx="397.5" cy="742.0" r="4.4" fill="#3f8f5e" stroke="#1f5a35" stroke-width="0.5" stroke-opacity="0.7"/><circle cx="422.3" cy="788.2" r="5.7" fill="#2f7a4c" stroke="#1f5a35" stroke-width="0.5" stroke-opacity="0.7"/><circle cx="387.1" cy="792.8" r="5.9" fill="#2f7a4c" stroke="#1f5a35" stroke-width="0.5" stroke-opacity="0.7"/><circle cx="401.9" cy="788.9" r="6.6" fill="#2f7a4c" stroke="#1f5a35" stroke-width="0.5" stroke-opacity="0.7"/><circle cx="425.8" cy="750.9" r="6.1" fill="#3f8f5e" stroke="#1f5a35" stroke-width="0.5" stroke-opacity="0.7"/><circle cx="406.2" cy="775.6" r="4.5" fill="#357f52" stroke="#1f5a35" stroke-width="0.5" stroke-opacity="0.7"/><circle cx="381.0" cy="771.6" r="4.3" fill="#357f52" stroke="#1f5a35" stroke-width="0.5" stroke-opacity="0.7"/><circle cx="386.2" cy="753.2" r="4.5" fill="#2f7a4c" stroke="#1f5a35" stroke-width="0.5" stroke-opacity="0.7"/><circle cx="414.2" cy="770.9" r="7.3" fill="#357f52" stroke="#1f5a35" stroke-width="0.5" stroke-opacity="0.7"/><circle cx="379.5" cy="769.4" r="7.3" fill="#4a9a66" stroke="#1f5a35" stroke-width="0.5" stroke-opacity="0.7"/><circle cx="380.6" cy="768.6" r="4.6" fill="#357f52" stroke="#1f5a35" stroke-width="0.5" stroke-opacity="0.7"/><circle cx="419.6" cy="753.7" r="6.8" fill="#4a9a66" stroke="#1f5a35" stroke-width="0.5" stroke-opacity="0.7"/><circle cx="402.7" cy="751.0" r="5.1" fill="#56a46f" stroke="#1f5a35" stroke-width="0.5" stroke-opacity="0.7"/><circle cx="414.3" cy="750.2" r="6.6" fill="#4a9a66" stroke="#1f5a35" stroke-width="0.5" stroke-opacity="0.7"/><circle cx="428.5" cy="766.1" r="4.3" fill="#4a9a66" stroke="#1f5a35" stroke-width="0.5" stroke-opacity="0.7"/><circle cx="405.0" cy="785.9" r="6.0" fill="#357f52" stroke="#1f5a35" stroke-width="0.5" stroke-opacity="0.7"/><circle cx="407.1" cy="790.7" r="5.6" fill="#3f8f5e" stroke="#1f5a35" stroke-width="0.5" stroke-opacity="0.7"/><circle cx="397.6" cy="786.9" r="5.3" fill="#56a46f" stroke="#1f5a35" stroke-width="0.5" stroke-opacity="0.7"/><circle cx="396.3" cy="788.7" r="5.6" fill="#2f7a4c" stroke="#1f5a35" stroke-width="0.5" stroke-opacity="0.7"/><circle cx="369.1" cy="763.2" r="6.3" fill="#3f8f5e" stroke="#1f5a35" stroke-width="0.5" stroke-opacity="0.7"/><circle cx="405.5" cy="748.7" r="5.3" fill="#4a9a66" stroke="#1f5a35" stroke-width="0.5" stroke-opacity="0.7"/><circle cx="407.2" cy="760.6" r="7.2" fill="#357f52" stroke="#1f5a35" stroke-width="0.5" stroke-opacity="0.7"/><circle cx="401.8" cy="744.8" r="4.4" fill="#357f52" stroke="#1f5a35" stroke-width="0.5" stroke-opacity="0.7"/><circle cx="381.4" cy="781.5" r="5.5" fill="#357f52" stroke="#1f5a35" stroke-width="0.5" stroke-opacity="0.7"/><circle cx="373.2" cy="751.4" r="4.3" fill="#357f52" stroke="#1f5a35" stroke-width="0.5" stroke-opacity="0.7"/><circle cx="408.0" cy="749.2" r="5.6" fill="#357f52" stroke="#1f5a35" stroke-width="0.5" stroke-opacity="0.7"/><circle cx="408.2" cy="781.7" r="5.3" fill="#3f8f5e" stroke="#1f5a35" stroke-width="0.5" stroke-opacity="0.7"/><circle cx="397.2" cy="784.8" r="5.7" fill="#2f7a4c" stroke="#1f5a35" stroke-width="0.5" stroke-opacity="0.7"/><circle cx="416.8" cy="759.7" r="4.2" fill="#3f8f5e" stroke="#1f5a35" stroke-width="0.5" stroke-opacity="0.7"/><circle cx="379.3" cy="750.5" r="7.0" fill="#4a9a66" stroke="#1f5a35" stroke-width="0.5" stroke-opacity="0.7"/><circle cx="395.9" cy="761.9" r="4.3" fill="#3f8f5e" stroke="#1f5a35" stroke-width="0.5" stroke-opacity="0.7"/><circle cx="402.8" cy="784.7" r="7.0" fill="#357f52" stroke="#1f5a35" stroke-width="0.5" stroke-opacity="0.7"/><circle cx="378.4" cy="776.4" r="5.9" fill="#56a46f" stroke="#1f5a35" stroke-width="0.5" stroke-opacity="0.7"/><circle cx="380.6" cy="786.8" r="7.0" fill="#4a9a66" stroke="#1f5a35" stroke-width="0.5" stroke-opacity="0.7"/><circle cx="411.2" cy="764.4" r="6.6" fill="#56a46f" stroke="#1f5a35" stroke-width="0.5" stroke-opacity="0.7"/><circle cx="388.1" cy="771.6" r="6.2" fill="#56a46f" stroke="#1f5a35" stroke-width="0.5" stroke-opacity="0.7"/><circle cx="427.6" cy="786.2" r="6.6" fill="#357f52" stroke="#1f5a35" stroke-width="0.5" stroke-opacity="0.7"/><circle cx="386.7" cy="742.3" r="6.2" fill="#3f8f5e" stroke="#1f5a35" stroke-width="0.5" stroke-opacity="0.7"/><circle cx="427.9" cy="755.1" r="7.3" fill="#2f7a4c" stroke="#1f5a35" stroke-width="0.5" stroke-opacity="0.7"/><circle cx="413.1" cy="764.4" r="4.4" fill="#56a46f" stroke="#1f5a35" stroke-width="0.5" stroke-opacity="0.7"/><circle cx="428.0" cy="767.8" r="5.4" fill="#357f52" stroke="#1f5a35" stroke-width="0.5" stroke-opacity="0.7"/><circle cx="379.8" cy="761.3" r="4.5" fill="#56a46f" stroke="#1f5a35" stroke-width="0.5" stroke-opacity="0.7"/><circle cx="411.9" cy="744.8" r="5.2" fill="#4a9a66" stroke="#1f5a35" stroke-width="0.5" stroke-opacity="0.7"/><circle cx="395.8" cy="751.8" r="7.4" fill="#357f52" stroke="#1f5a35" stroke-width="0.5" stroke-opacity="0.7"/><circle cx="386.4" cy="767.0" r="7.2" fill="#4a9a66" stroke="#1f5a35" stroke-width="0.5" stroke-opacity="0.7"/><circle cx="409.1" cy="738.4" r="7.4" fill="#3f8f5e" stroke="#1f5a35" stroke-width="0.5" stroke-opacity="0.7"/><circle cx="394.5" cy="744.8" r="7.2" fill="#56a46f" stroke="#1f5a35" stroke-width="0.5" stroke-opacity="0.7"/><circle cx="378.4" cy="751.8" r="6.1" fill="#3f8f5e" stroke="#1f5a35" stroke-width="0.5" stroke-opacity="0.7"/><circle cx="376.9" cy="755.6" r="6.6" fill="#357f52" stroke="#1f5a35" stroke-width="0.5" stroke-opacity="0.7"/><circle cx="410.0" cy="765.2" r="6.1" fill="#4a9a66" stroke="#1f5a35" stroke-width="0.5" stroke-opacity="0.7"/><circle cx="396.9" cy="755.3" r="5.0" fill="#4a9a66" stroke="#1f5a35" stroke-width="0.5" stroke-opacity="0.7"/><circle cx="416.7" cy="770.2" r="4.6" fill="#3f8f5e" stroke="#1f5a35" stroke-width="0.5" stroke-opacity="0.7"/><circle cx="419.2" cy="744.6" r="6.1" fill="#56a46f" stroke="#1f5a35" stroke-width="0.5" stroke-opacity="0.7"/><circle cx="400.3" cy="747.3" r="5.4" fill="#4a9a66" stroke="#1f5a35" stroke-width="0.5" stroke-opacity="0.7"/><circle cx="426.6" cy="767.8" r="5.2" fill="#4a9a66" stroke="#1f5a35" stroke-width="0.5" stroke-opacity="0.7"/><circle cx="384.1" cy="778.4" r="5.0" fill="#3f8f5e" stroke="#1f5a35" stroke-width="0.5" stroke-opacity="0.7"/><circle cx="432.2" cy="766.4" r="4.7" fill="#3f8f5e" stroke="#1f5a35" stroke-width="0.5" stroke-opacity="0.7"/><circle cx="401.0" cy="742.7" r="6.4" fill="#2f7a4c" stroke="#1f5a35" stroke-width="0.5" stroke-opacity="0.7"/><circle cx="417.9" cy="786.4" r="6.4" fill="#4a9a66" stroke="#1f5a35" stroke-width="0.5" stroke-opacity="0.7"/><circle cx="401.2" cy="775.3" r="7.4" fill="#56a46f" stroke="#1f5a35" stroke-width="0.5" stroke-opacity="0.7"/><circle cx="434.1" cy="762.7" r="6.2" fill="#56a46f" stroke="#1f5a35" stroke-width="0.5" stroke-opacity="0.7"/><circle cx="382.6" cy="779.7" r="4.4" fill="#4a9a66" stroke="#1f5a35" stroke-width="0.5" stroke-opacity="0.7"/><circle cx="400.2" cy="793.9" r="5.8" fill="#56a46f" stroke="#1f5a35" stroke-width="0.5" stroke-opacity="0.7"/><circle cx="419.6" cy="781.6" r="6.4" fill="#357f52" stroke="#1f5a35" stroke-width="0.5" stroke-opacity="0.7"/>
<circle cx="320.5" cy="785.9" r="4.4" fill="#4a9a66" stroke="#1f5a35" stroke-width="0.5" stroke-opacity="0.7"/><circle cx="331.4" cy="797.0" r="5.4" fill="#357f52" stroke="#1f5a35" stroke-width="0.5" stroke-opacity="0.7"/><circle cx="341.0" cy="778.2" r="4.4" fill="#3f8f5e" stroke="#1f5a35" stroke-width="0.5" stroke-opacity="0.7"/><circle cx="352.3" cy="794.0" r="4.4" fill="#2f7a4c" stroke="#1f5a35" stroke-width="0.5" stroke-opacity="0.7"/><circle cx="335.4" cy="808.8" r="5.5" fill="#357f52" stroke="#1f5a35" stroke-width="0.5" stroke-opacity="0.7"/><circle cx="335.6" cy="776.0" r="4.5" fill="#56a46f" stroke="#1f5a35" stroke-width="0.5" stroke-opacity="0.7"/><circle cx="348.5" cy="816.7" r="6.8" fill="#2f7a4c" stroke="#1f5a35" stroke-width="0.5" stroke-opacity="0.7"/><circle cx="329.7" cy="787.2" r="5.3" fill="#56a46f" stroke="#1f5a35" stroke-width="0.5" stroke-opacity="0.7"/><circle cx="336.0" cy="778.6" r="4.0" fill="#357f52" stroke="#1f5a35" stroke-width="0.5" stroke-opacity="0.7"/><circle cx="355.1" cy="781.3" r="4.9" fill="#4a9a66" stroke="#1f5a35" stroke-width="0.5" stroke-opacity="0.7"/><circle cx="347.1" cy="798.7" r="4.5" fill="#3f8f5e" stroke="#1f5a35" stroke-width="0.5" stroke-opacity="0.7"/><circle cx="338.8" cy="766.3" r="4.3" fill="#357f52" stroke="#1f5a35" stroke-width="0.5" stroke-opacity="0.7"/><circle cx="346.4" cy="802.5" r="7.4" fill="#2f7a4c" stroke="#1f5a35" stroke-width="0.5" stroke-opacity="0.7"/><circle cx="338.5" cy="815.0" r="4.2" fill="#357f52" stroke="#1f5a35" stroke-width="0.5" stroke-opacity="0.7"/><circle cx="350.5" cy="781.4" r="5.0" fill="#4a9a66" stroke="#1f5a35" stroke-width="0.5" stroke-opacity="0.7"/><circle cx="354.0" cy="799.6" r="6.5" fill="#4a9a66" stroke="#1f5a35" stroke-width="0.5" stroke-opacity="0.7"/><circle cx="336.1" cy="779.2" r="7.1" fill="#56a46f" stroke="#1f5a35" stroke-width="0.5" stroke-opacity="0.7"/><circle cx="325.0" cy="782.4" r="6.1" fill="#4a9a66" stroke="#1f5a35" stroke-width="0.5" stroke-opacity="0.7"/><circle cx="352.7" cy="806.4" r="5.1" fill="#2f7a4c" stroke="#1f5a35" stroke-width="0.5" stroke-opacity="0.7"/><circle cx="329.0" cy="790.4" r="6.1" fill="#3f8f5e" stroke="#1f5a35" stroke-width="0.5" stroke-opacity="0.7"/><circle cx="345.8" cy="813.1" r="4.6" fill="#3f8f5e" stroke="#1f5a35" stroke-width="0.5" stroke-opacity="0.7"/><circle cx="344.8" cy="798.4" r="5.8" fill="#2f7a4c" stroke="#1f5a35" stroke-width="0.5" stroke-opacity="0.7"/><circle cx="338.6" cy="814.7" r="7.2" fill="#2f7a4c" stroke="#1f5a35" stroke-width="0.5" stroke-opacity="0.7"/><circle cx="344.6" cy="804.6" r="6.1" fill="#2f7a4c" stroke="#1f5a35" stroke-width="0.5" stroke-opacity="0.7"/><circle cx="334.9" cy="811.7" r="4.7" fill="#56a46f" stroke="#1f5a35" stroke-width="0.5" stroke-opacity="0.7"/><circle cx="339.0" cy="814.8" r="6.2" fill="#357f52" stroke="#1f5a35" stroke-width="0.5" stroke-opacity="0.7"/><circle cx="346.0" cy="818.6" r="6.9" fill="#357f52" stroke="#1f5a35" stroke-width="0.5" stroke-opacity="0.7"/><circle cx="355.6" cy="799.6" r="6.9" fill="#4a9a66" stroke="#1f5a35" stroke-width="0.5" stroke-opacity="0.7"/><circle cx="331.8" cy="808.0" r="7.0" fill="#4a9a66" stroke="#1f5a35" stroke-width="0.5" stroke-opacity="0.7"/><circle cx="353.5" cy="780.6" r="5.5" fill="#2f7a4c" stroke="#1f5a35" stroke-width="0.5" stroke-opacity="0.7"/><circle cx="359.2" cy="787.2" r="4.9" fill="#56a46f" stroke="#1f5a35" stroke-width="0.5" stroke-opacity="0.7"/><circle cx="325.5" cy="811.2" r="7.0" fill="#357f52" stroke="#1f5a35" stroke-width="0.5" stroke-opacity="0.7"/><circle cx="337.4" cy="809.7" r="6.9" fill="#4a9a66" stroke="#1f5a35" stroke-width="0.5" stroke-opacity="0.7"/><circle cx="336.4" cy="808.3" r="4.2" fill="#357f52" stroke="#1f5a35" stroke-width="0.5" stroke-opacity="0.7"/><circle cx="327.3" cy="789.1" r="5.6" fill="#3f8f5e" stroke="#1f5a35" stroke-width="0.5" stroke-opacity="0.7"/><circle cx="354.1" cy="790.0" r="5.0" fill="#4a9a66" stroke="#1f5a35" stroke-width="0.5" stroke-opacity="0.7"/><circle cx="336.3" cy="781.5" r="5.8" fill="#357f52" stroke="#1f5a35" stroke-width="0.5" stroke-opacity="0.7"/><circle cx="349.1" cy="774.1" r="4.4" fill="#357f52" stroke="#1f5a35" stroke-width="0.5" stroke-opacity="0.7"/><circle cx="327.6" cy="803.3" r="7.2" fill="#3f8f5e" stroke="#1f5a35" stroke-width="0.5" stroke-opacity="0.7"/><circle cx="340.7" cy="777.0" r="7.2" fill="#3f8f5e" stroke="#1f5a35" stroke-width="0.5" stroke-opacity="0.7"/><circle cx="353.2" cy="805.6" r="6.1" fill="#56a46f" stroke="#1f5a35" stroke-width="0.5" stroke-opacity="0.7"/><circle cx="332.5" cy="792.3" r="4.8" fill="#3f8f5e" stroke="#1f5a35" stroke-width="0.5" stroke-opacity="0.7"/><circle cx="323.8" cy="798.4" r="4.7" fill="#357f52" stroke="#1f5a35" stroke-width="0.5" stroke-opacity="0.7"/><circle cx="327.4" cy="788.6" r="4.7" fill="#3f8f5e" stroke="#1f5a35" stroke-width="0.5" stroke-opacity="0.7"/><circle cx="333.5" cy="810.5" r="5.3" fill="#357f52" stroke="#1f5a35" stroke-width="0.5" stroke-opacity="0.7"/><circle cx="335.1" cy="795.7" r="5.3" fill="#56a46f" stroke="#1f5a35" stroke-width="0.5" stroke-opacity="0.7"/><circle cx="348.2" cy="812.8" r="5.0" fill="#56a46f" stroke="#1f5a35" stroke-width="0.5" stroke-opacity="0.7"/><circle cx="318.6" cy="794.4" r="4.6" fill="#357f52" stroke="#1f5a35" stroke-width="0.5" stroke-opacity="0.7"/><circle cx="331.0" cy="811.5" r="4.2" fill="#357f52" stroke="#1f5a35" stroke-width="0.5" stroke-opacity="0.7"/><circle cx="333.1" cy="804.4" r="6.0" fill="#357f52" stroke="#1f5a35" stroke-width="0.5" stroke-opacity="0.7"/><circle cx="334.5" cy="792.8" r="4.8" fill="#56a46f" stroke="#1f5a35" stroke-width="0.5" stroke-opacity="0.7"/><circle cx="359.3" cy="806.0" r="5.8" fill="#56a46f" stroke="#1f5a35" stroke-width="0.5" stroke-opacity="0.7"/><circle cx="359.3" cy="808.6" r="5.8" fill="#3f8f5e" stroke="#1f5a35" stroke-width="0.5" stroke-opacity="0.7"/><circle cx="344.6" cy="817.2" r="4.5" fill="#2f7a4c" stroke="#1f5a35" stroke-width="0.5" stroke-opacity="0.7"/><circle cx="357.3" cy="794.2" r="4.1" fill="#357f52" stroke="#1f5a35" stroke-width="0.5" stroke-opacity="0.7"/><circle cx="330.5" cy="793.6" r="4.7" fill="#4a9a66" stroke="#1f5a35" stroke-width="0.5" stroke-opacity="0.7"/><circle cx="342.0" cy="773.9" r="4.6" fill="#4a9a66" stroke="#1f5a35" stroke-width="0.5" stroke-opacity="0.7"/><circle cx="341.0" cy="819.5" r="7.0" fill="#2f7a4c" stroke="#1f5a35" stroke-width="0.5" stroke-opacity="0.7"/><circle cx="363.8" cy="793.0" r="5.9" fill="#3f8f5e" stroke="#1f5a35" stroke-width="0.5" stroke-opacity="0.7"/><circle cx="348.8" cy="793.5" r="6.1" fill="#2f7a4c" stroke="#1f5a35" stroke-width="0.5" stroke-opacity="0.7"/><circle cx="334.4" cy="816.4" r="5.0" fill="#357f52" stroke="#1f5a35" stroke-width="0.5" stroke-opacity="0.7"/><circle cx="337.1" cy="793.8" r="6.1" fill="#56a46f" stroke="#1f5a35" stroke-width="0.5" stroke-opacity="0.7"/><circle cx="333.2" cy="804.5" r="5.7" fill="#357f52" stroke="#1f5a35" stroke-width="0.5" stroke-opacity="0.7"/><circle cx="344.5" cy="787.4" r="4.6" fill="#56a46f" stroke="#1f5a35" stroke-width="0.5" stroke-opacity="0.7"/><circle cx="355.9" cy="780.3" r="5.3" fill="#2f7a4c" stroke="#1f5a35" stroke-width="0.5" stroke-opacity="0.7"/><circle cx="336.8" cy="807.5" r="5.1" fill="#3f8f5e" stroke="#1f5a35" stroke-width="0.5" stroke-opacity="0.7"/><circle cx="338.1" cy="774.9" r="4.1" fill="#2f7a4c" stroke="#1f5a35" stroke-width="0.5" stroke-opacity="0.7"/><circle cx="351.6" cy="798.3" r="6.4" fill="#3f8f5e" stroke="#1f5a35" stroke-width="0.5" stroke-opacity="0.7"/><circle cx="336.6" cy="768.2" r="4.4" fill="#2f7a4c" stroke="#1f5a35" stroke-width="0.5" stroke-opacity="0.7"/><circle cx="345.2" cy="803.3" r="6.3" fill="#56a46f" stroke="#1f5a35" stroke-width="0.5" stroke-opacity="0.7"/><circle cx="336.6" cy="802.7" r="4.7" fill="#2f7a4c" stroke="#1f5a35" stroke-width="0.5" stroke-opacity="0.7"/><circle cx="352.7" cy="803.9" r="6.6" fill="#357f52" stroke="#1f5a35" stroke-width="0.5" stroke-opacity="0.7"/><circle cx="340.2" cy="790.3" r="5.2" fill="#56a46f" stroke="#1f5a35" stroke-width="0.5" stroke-opacity="0.7"/><circle cx="350.4" cy="781.3" r="4.4" fill="#56a46f" stroke="#1f5a35" stroke-width="0.5" stroke-opacity="0.7"/><circle cx="363.4" cy="789.0" r="5.5" fill="#56a46f" stroke="#1f5a35" stroke-width="0.5" stroke-opacity="0.7"/><circle cx="330.0" cy="774.4" r="7.1" fill="#357f52" stroke="#1f5a35" stroke-width="0.5" stroke-opacity="0.7"/><circle cx="330.7" cy="803.3" r="6.4" fill="#4a9a66" stroke="#1f5a35" stroke-width="0.5" stroke-opacity="0.7"/><circle cx="362.7" cy="793.2" r="5.9" fill="#3f8f5e" stroke="#1f5a35" stroke-width="0.5" stroke-opacity="0.7"/><circle cx="333.3" cy="805.3" r="4.1" fill="#4a9a66" stroke="#1f5a35" stroke-width="0.5" stroke-opacity="0.7"/><circle cx="358.0" cy="793.5" r="6.8" fill="#4a9a66" stroke="#1f5a35" stroke-width="0.5" stroke-opacity="0.7"/><circle cx="325.6" cy="784.0" r="6.0" fill="#357f52" stroke="#1f5a35" stroke-width="0.5" stroke-opacity="0.7"/><circle cx="319.2" cy="798.6" r="5.3" fill="#56a46f" stroke="#1f5a35" stroke-width="0.5" stroke-opacity="0.7"/><circle cx="343.3" cy="770.4" r="6.7" fill="#357f52" stroke="#1f5a35" stroke-width="0.5" stroke-opacity="0.7"/><circle cx="363.8" cy="791.7" r="7.4" fill="#2f7a4c" stroke="#1f5a35" stroke-width="0.5" stroke-opacity="0.7"/><circle cx="335.6" cy="799.9" r="5.7" fill="#2f7a4c" stroke="#1f5a35" stroke-width="0.5" stroke-opacity="0.7"/><circle cx="347.6" cy="773.3" r="4.7" fill="#357f52" stroke="#1f5a35" stroke-width="0.5" stroke-opacity="0.7"/><circle cx="334.1" cy="769.6" r="5.8" fill="#56a46f" stroke="#1f5a35" stroke-width="0.5" stroke-opacity="0.7"/><circle cx="334.6" cy="774.4" r="6.4" fill="#56a46f" stroke="#1f5a35" stroke-width="0.5" stroke-opacity="0.7"/><circle cx="348.6" cy="809.1" r="4.4" fill="#4a9a66" stroke="#1f5a35" stroke-width="0.5" stroke-opacity="0.7"/><circle cx="324.7" cy="788.7" r="4.6" fill="#4a9a66" stroke="#1f5a35" stroke-width="0.5" stroke-opacity="0.7"/>
<circle cx="251.0" cy="780.2" r="5.1" fill="#2f7a4c" stroke="#1f5a35" stroke-width="0.5" stroke-opacity="0.7"/><circle cx="246.7" cy="784.6" r="5.6" fill="#3f8f5e" stroke="#1f5a35" stroke-width="0.5" stroke-opacity="0.7"/><circle cx="259.4" cy="796.5" r="5.0" fill="#56a46f" stroke="#1f5a35" stroke-width="0.5" stroke-opacity="0.7"/><circle cx="256.7" cy="782.8" r="4.2" fill="#357f52" stroke="#1f5a35" stroke-width="0.5" stroke-opacity="0.7"/><circle cx="266.9" cy="790.7" r="4.2" fill="#3f8f5e" stroke="#1f5a35" stroke-width="0.5" stroke-opacity="0.7"/><circle cx="259.2" cy="783.5" r="3.3" fill="#3f8f5e" stroke="#1f5a35" stroke-width="0.5" stroke-opacity="0.7"/><circle cx="256.9" cy="795.4" r="5.0" fill="#4a9a66" stroke="#1f5a35" stroke-width="0.5" stroke-opacity="0.7"/><circle cx="249.7" cy="781.4" r="3.1" fill="#4a9a66" stroke="#1f5a35" stroke-width="0.5" stroke-opacity="0.7"/><circle cx="250.9" cy="785.6" r="3.1" fill="#3f8f5e" stroke="#1f5a35" stroke-width="0.5" stroke-opacity="0.7"/><circle cx="264.4" cy="790.7" r="3.1" fill="#4a9a66" stroke="#1f5a35" stroke-width="0.5" stroke-opacity="0.7"/><circle cx="268.4" cy="790.0" r="5.3" fill="#3f8f5e" stroke="#1f5a35" stroke-width="0.5" stroke-opacity="0.7"/><circle cx="247.1" cy="783.4" r="4.2" fill="#4a9a66" stroke="#1f5a35" stroke-width="0.5" stroke-opacity="0.7"/><circle cx="257.8" cy="781.9" r="5.4" fill="#2f7a4c" stroke="#1f5a35" stroke-width="0.5" stroke-opacity="0.7"/><circle cx="255.3" cy="790.6" r="4.4" fill="#2f7a4c" stroke="#1f5a35" stroke-width="0.5" stroke-opacity="0.7"/><circle cx="257.2" cy="782.0" r="3.2" fill="#3f8f5e" stroke="#1f5a35" stroke-width="0.5" stroke-opacity="0.7"/><circle cx="251.2" cy="787.8" r="5.5" fill="#4a9a66" stroke="#1f5a35" stroke-width="0.5" stroke-opacity="0.7"/><circle cx="248.7" cy="780.9" r="4.5" fill="#56a46f" stroke="#1f5a35" stroke-width="0.5" stroke-opacity="0.7"/><circle cx="249.9" cy="784.1" r="4.1" fill="#3f8f5e" stroke="#1f5a35" stroke-width="0.5" stroke-opacity="0.7"/><circle cx="257.0" cy="779.2" r="3.6" fill="#4a9a66" stroke="#1f5a35" stroke-width="0.5" stroke-opacity="0.7"/><circle cx="255.9" cy="787.9" r="4.3" fill="#3f8f5e" stroke="#1f5a35" stroke-width="0.5" stroke-opacity="0.7"/>
<circle cx="308.7" cy="780.7" r="3.7" fill="#357f52" stroke="#1f5a35" stroke-width="0.5" stroke-opacity="0.7"/><circle cx="323.2" cy="796.2" r="5.5" fill="#3f8f5e" stroke="#1f5a35" stroke-width="0.5" stroke-opacity="0.7"/><circle cx="321.4" cy="777.1" r="3.7" fill="#2f7a4c" stroke="#1f5a35" stroke-width="0.5" stroke-opacity="0.7"/><circle cx="325.5" cy="784.6" r="6.0" fill="#3f8f5e" stroke="#1f5a35" stroke-width="0.5" stroke-opacity="0.7"/><circle cx="313.6" cy="784.0" r="4.0" fill="#3f8f5e" stroke="#1f5a35" stroke-width="0.5" stroke-opacity="0.7"/><circle cx="315.6" cy="791.3" r="4.6" fill="#56a46f" stroke="#1f5a35" stroke-width="0.5" stroke-opacity="0.7"/><circle cx="313.2" cy="791.2" r="3.5" fill="#357f52" stroke="#1f5a35" stroke-width="0.5" stroke-opacity="0.7"/><circle cx="326.7" cy="783.8" r="3.9" fill="#56a46f" stroke="#1f5a35" stroke-width="0.5" stroke-opacity="0.7"/><circle cx="316.4" cy="793.3" r="3.7" fill="#2f7a4c" stroke="#1f5a35" stroke-width="0.5" stroke-opacity="0.7"/><circle cx="318.6" cy="795.1" r="6.4" fill="#4a9a66" stroke="#1f5a35" stroke-width="0.5" stroke-opacity="0.7"/><circle cx="313.3" cy="773.5" r="3.7" fill="#3f8f5e" stroke="#1f5a35" stroke-width="0.5" stroke-opacity="0.7"/><circle cx="313.4" cy="787.2" r="5.3" fill="#56a46f" stroke="#1f5a35" stroke-width="0.5" stroke-opacity="0.7"/><circle cx="324.5" cy="791.3" r="5.9" fill="#4a9a66" stroke="#1f5a35" stroke-width="0.5" stroke-opacity="0.7"/><circle cx="320.9" cy="780.9" r="4.2" fill="#56a46f" stroke="#1f5a35" stroke-width="0.5" stroke-opacity="0.7"/><circle cx="319.9" cy="796.3" r="5.2" fill="#4a9a66" stroke="#1f5a35" stroke-width="0.5" stroke-opacity="0.7"/><circle cx="319.1" cy="791.3" r="3.9" fill="#357f52" stroke="#1f5a35" stroke-width="0.5" stroke-opacity="0.7"/><circle cx="311.7" cy="790.3" r="5.5" fill="#4a9a66" stroke="#1f5a35" stroke-width="0.5" stroke-opacity="0.7"/><circle cx="312.6" cy="791.2" r="6.4" fill="#357f52" stroke="#1f5a35" stroke-width="0.5" stroke-opacity="0.7"/><circle cx="320.6" cy="780.6" r="5.3" fill="#4a9a66" stroke="#1f5a35" stroke-width="0.5" stroke-opacity="0.7"/><circle cx="312.1" cy="791.5" r="3.7" fill="#357f52" stroke="#1f5a35" stroke-width="0.5" stroke-opacity="0.7"/>
<circle cx="366.8" cy="771.7" r="4.6" fill="#56a46f" stroke="#1f5a35" stroke-width="0.5" stroke-opacity="0.7"/><circle cx="363.4" cy="777.2" r="5.4" fill="#2f7a4c" stroke="#1f5a35" stroke-width="0.5" stroke-opacity="0.7"/><circle cx="369.1" cy="781.4" r="4.0" fill="#357f52" stroke="#1f5a35" stroke-width="0.5" stroke-opacity="0.7"/><circle cx="365.5" cy="796.5" r="6.1" fill="#56a46f" stroke="#1f5a35" stroke-width="0.5" stroke-opacity="0.7"/><circle cx="375.8" cy="786.4" r="5.8" fill="#2f7a4c" stroke="#1f5a35" stroke-width="0.5" stroke-opacity="0.7"/><circle cx="369.2" cy="795.8" r="4.7" fill="#56a46f" stroke="#1f5a35" stroke-width="0.5" stroke-opacity="0.7"/><circle cx="359.4" cy="792.5" r="5.6" fill="#3f8f5e" stroke="#1f5a35" stroke-width="0.5" stroke-opacity="0.7"/><circle cx="368.9" cy="783.9" r="4.7" fill="#4a9a66" stroke="#1f5a35" stroke-width="0.5" stroke-opacity="0.7"/><circle cx="375.3" cy="788.0" r="5.4" fill="#3f8f5e" stroke="#1f5a35" stroke-width="0.5" stroke-opacity="0.7"/><circle cx="368.2" cy="783.8" r="4.3" fill="#2f7a4c" stroke="#1f5a35" stroke-width="0.5" stroke-opacity="0.7"/><circle cx="373.9" cy="779.8" r="6.0" fill="#3f8f5e" stroke="#1f5a35" stroke-width="0.5" stroke-opacity="0.7"/><circle cx="368.7" cy="772.8" r="6.2" fill="#4a9a66" stroke="#1f5a35" stroke-width="0.5" stroke-opacity="0.7"/><circle cx="357.8" cy="791.0" r="5.1" fill="#357f52" stroke="#1f5a35" stroke-width="0.5" stroke-opacity="0.7"/><circle cx="370.3" cy="781.3" r="4.6" fill="#2f7a4c" stroke="#1f5a35" stroke-width="0.5" stroke-opacity="0.7"/><circle cx="364.8" cy="777.3" r="5.7" fill="#3f8f5e" stroke="#1f5a35" stroke-width="0.5" stroke-opacity="0.7"/><circle cx="368.9" cy="773.8" r="5.0" fill="#3f8f5e" stroke="#1f5a35" stroke-width="0.5" stroke-opacity="0.7"/><circle cx="366.5" cy="793.3" r="6.2" fill="#56a46f" stroke="#1f5a35" stroke-width="0.5" stroke-opacity="0.7"/><circle cx="374.4" cy="778.6" r="4.4" fill="#4a9a66" stroke="#1f5a35" stroke-width="0.5" stroke-opacity="0.7"/><circle cx="362.0" cy="793.6" r="3.8" fill="#4a9a66" stroke="#1f5a35" stroke-width="0.5" stroke-opacity="0.7"/><circle cx="364.0" cy="787.8" r="6.0" fill="#357f52" stroke="#1f5a35" stroke-width="0.5" stroke-opacity="0.7"/>
<circle cx="440.7" cy="780.1" r="5.2" fill="#357f52" stroke="#1f5a35" stroke-width="0.5" stroke-opacity="0.7"/><circle cx="431.6" cy="788.1" r="5.7" fill="#3f8f5e" stroke="#1f5a35" stroke-width="0.5" stroke-opacity="0.7"/><circle cx="442.6" cy="789.1" r="5.1" fill="#357f52" stroke="#1f5a35" stroke-width="0.5" stroke-opacity="0.7"/><circle cx="444.4" cy="778.8" r="4.0" fill="#4a9a66" stroke="#1f5a35" stroke-width="0.5" stroke-opacity="0.7"/><circle cx="429.0" cy="782.8" r="4.2" fill="#4a9a66" stroke="#1f5a35" stroke-width="0.5" stroke-opacity="0.7"/><circle cx="440.8" cy="781.1" r="3.0" fill="#2f7a4c" stroke="#1f5a35" stroke-width="0.5" stroke-opacity="0.7"/><circle cx="430.1" cy="787.6" r="5.5" fill="#4a9a66" stroke="#1f5a35" stroke-width="0.5" stroke-opacity="0.7"/><circle cx="445.4" cy="782.1" r="3.3" fill="#3f8f5e" stroke="#1f5a35" stroke-width="0.5" stroke-opacity="0.7"/><circle cx="429.7" cy="791.0" r="4.6" fill="#56a46f" stroke="#1f5a35" stroke-width="0.5" stroke-opacity="0.7"/><circle cx="433.2" cy="792.4" r="3.3" fill="#56a46f" stroke="#1f5a35" stroke-width="0.5" stroke-opacity="0.7"/><circle cx="438.0" cy="791.0" r="5.5" fill="#56a46f" stroke="#1f5a35" stroke-width="0.5" stroke-opacity="0.7"/><circle cx="436.3" cy="781.4" r="4.1" fill="#357f52" stroke="#1f5a35" stroke-width="0.5" stroke-opacity="0.7"/><circle cx="439.2" cy="791.5" r="3.3" fill="#3f8f5e" stroke="#1f5a35" stroke-width="0.5" stroke-opacity="0.7"/><circle cx="446.9" cy="791.3" r="3.8" fill="#4a9a66" stroke="#1f5a35" stroke-width="0.5" stroke-opacity="0.7"/><circle cx="443.8" cy="781.2" r="4.9" fill="#2f7a4c" stroke="#1f5a35" stroke-width="0.5" stroke-opacity="0.7"/><circle cx="445.9" cy="790.9" r="4.0" fill="#56a46f" stroke="#1f5a35" stroke-width="0.5" stroke-opacity="0.7"/>
<path d="M90.0,759.2 L93.0,759.3 L96.0,759.4 L99.0,759.5 L102.0,759.6 L105.0,759.7 L108.0,759.9 L111.0,760.0 L114.0,760.2 L117.0,760.4 L120.0,760.6 L123.0,760.8 L126.0,761.1 L129.0,761.3 L132.0,761.6 L135.0,762.0 L138.0,762.3 L141.0,762.7 L144.0,763.1 L147.0,763.6 L150.0,764.1 L153.0,764.6 L156.0,765.2 L159.0,765.8 L162.0,766.5 L165.0,767.2 L168.0,767.9 L171.0,768.7 L174.0,769.6 L177.0,770.5 L180.0,771.5 L183.0,772.5 L186.0,773.6 L189.0,774.8 L192.0,776.0 L195.0,777.3 L198.0,778.6 L201.0,780.1 L204.0,781.6 L207.0,783.1 L210.0,784.7 L213.0,786.4 L216.0,788.2 L219.0,790.0 L222.0,791.9 L225.0,793.9 L228.0,795.9 L231.0,798.0 L234.0,800.1 L237.0,802.3 L240.0,804.6 L243.0,806.9 L246.0,809.2 L249.0,811.6 L252.0,814.0 L255.0,816.4 L258.0,818.8 L261.0,821.3 L264.0,823.8 L267.0,826.3 L270.0,828.7 L273.0,831.2 L276.0,833.6 L279.0,836.1 L282.0,838.4 L285.0,840.8 L288.0,843.1 L291.0,845.3 L294.0,847.5 L297.0,849.5 L300.0,851.6 L303.0,853.5 L306.0,855.3 L309.0,857.0 L312.0,858.6 L315.0,860.1 L318.0,861.5 L321.0,862.7 L324.0,863.8 L327.0,864.8 L330.0,865.6 L333.0,866.3 L336.0,866.8 L339.0,867.2 L342.0,867.4 L345.0,867.5 L348.0,867.4 L351.0,867.2 L354.0,866.8 L357.0,866.3 L360.0,865.6 L363.0,864.8 L366.0,863.8 L369.0,862.7 L372.0,861.5 L375.0,860.1 L378.0,858.6 L381.0,857.0 L384.0,855.3 L387.0,853.5 L390.0,851.6 L393.0,849.5 L396.0,847.5 L399.0,845.3 L402.0,843.1 L405.0,840.8 L408.0,838.4 L411.0,836.1 L414.0,833.6 L417.0,831.2 L420.0,828.7 L423.0,826.3 L426.0,823.8 L429.0,821.3 L432.0,818.8 L435.0,816.4 L438.0,814.0 L441.0,811.6 L444.0,809.2 L447.0,806.9 L450.0,804.6 L453.0,802.3 L456.0,800.1 L459.0,798.0 L462.0,795.9 L465.0,793.9 L468.0,791.9 L471.0,790.0 L474.0,788.2 L477.0,786.4 L480.0,784.7 L483.0,783.1 L486.0,781.6 L489.0,780.1 L492.0,778.6 L495.0,777.3 L498.0,776.0 L501.0,774.8 L504.0,773.6 L507.0,772.5 L510.0,771.5 L513.0,770.5 L516.0,769.6 L519.0,768.7 L522.0,767.9 L525.0,767.2 L528.0,766.5 L531.0,765.8 L534.0,765.2 L537.0,764.6 L540.0,764.1 L543.0,763.6 L546.0,763.1 L549.0,762.7 L552.0,762.3 L555.0,762.0 L558.0,761.6 L561.0,761.3 L564.0,761.1 L567.0,760.8 L570.0,760.6 L573.0,760.4 L576.0,760.2 L579.0,760.0 L582.0,759.9 L585.0,759.7 L588.0,759.6 L591.0,759.5 L594.0,759.4 L597.0,759.3 L600.0,759.2" fill="none" stroke="#1a9cc4" stroke-width="5.8" stroke-opacity="0.92"/>
<path d="M281.4,838.1L262.3,834.6L274.1,820.1z" fill="#3aaccc"/>
<path d="M402.5,842.8L410.0,824.9L421.6,839.5z" fill="#3aaccc"/>
<path d="M150.0,782.1 L153.0,781.8 L156.0,781.4 L159.0,781.0 L162.0,780.5 L165.0,780.0 L168.0,779.5 L171.0,778.9 L174.0,778.3 L177.0,777.6 L180.0,776.8 L183.0,776.0 L186.0,775.1 L189.0,774.2 L192.0,773.2 L195.0,772.1 L198.0,770.9 L201.0,769.7 L204.0,768.4 L207.0,767.0 L210.0,765.5 L213.0,764.0 L216.0,762.3 L219.0,760.6 L222.0,758.7 L225.0,756.8 L228.0,754.8 L231.0,752.7 L234.0,750.6 L237.0,748.3 L240.0,746.0 L243.0,743.6 L246.0,741.1 L249.0,738.5 L252.0,735.9 L255.0,733.3 L258.0,730.5 L261.0,727.8 L264.0,725.0 L267.0,722.2 L270.0,719.3 L273.0,716.5 L276.0,713.6 L279.0,710.8 L282.0,707.9 L285.0,705.1 L288.0,702.4 L291.0,699.7 L294.0,697.1 L297.0,694.5 L300.0,692.0 L303.0,689.7 L306.0,687.4 L309.0,685.3 L312.0,683.3 L315.0,681.4 L318.0,679.7 L321.0,678.1 L324.0,676.7 L327.0,675.5 L330.0,674.4 L333.0,673.6 L336.0,672.9 L339.0,672.4 L342.0,672.1 L345.0,672.0 L348.0,672.1 L351.0,672.4 L354.0,672.9 L357.0,673.6 L360.0,674.4 L363.0,675.5 L366.0,676.7 L369.0,678.1 L372.0,679.7 L375.0,681.4 L378.0,683.3 L381.0,685.3 L384.0,687.4 L387.0,689.7 L390.0,692.0 L393.0,694.5 L396.0,697.1 L399.0,699.7 L402.0,702.4 L405.0,705.1 L408.0,707.9 L411.0,710.8 L414.0,713.6 L417.0,716.5 L420.0,719.3 L423.0,722.2 L426.0,725.0 L429.0,727.8 L432.0,730.5 L435.0,733.3 L438.0,735.9 L441.0,738.5 L444.0,741.1 L447.0,743.6 L450.0,746.0 L453.0,748.3 L456.0,750.6 L459.0,752.7 L462.0,754.8 L465.0,756.8 L468.0,758.7 L471.0,760.6 L474.0,762.3 L477.0,764.0 L480.0,765.5 L483.0,767.0 L486.0,768.4 L489.0,769.7 L492.0,770.9 L495.0,772.1 L498.0,773.2 L501.0,774.2 L504.0,775.1 L507.0,776.0 L510.0,776.8 L513.0,777.6 L516.0,778.3 L519.0,778.9 L522.0,779.5 L525.0,780.0 L528.0,780.5 L531.0,781.0 L534.0,781.4 L537.0,781.8 L540.0,782.1" fill="none" stroke="#4aaec0" stroke-width="5.8" stroke-opacity="0.88" stroke-linecap="round"/>
<path d="M241.6,745.0L233.5,762.6L222.4,747.5z" fill="#5dbccb"/>
<path d="M442.6,740.1L461.7,743.3L450.2,758.0z" fill="#5dbccb"/>
<path d="M160.0,805.8 L163.0,805.4 L166.0,804.9 L169.0,804.3 L172.0,803.7 L175.0,803.0 L178.0,802.3 L181.0,801.6 L184.0,800.7 L187.0,799.8 L190.0,798.9 L193.0,797.8 L196.0,796.7 L199.0,795.5 L202.0,794.3 L205.0,792.9 L208.0,791.5 L211.0,790.0 L214.0,788.4 L217.0,786.7 L220.0,785.0 L223.0,783.1 L226.0,781.2 L229.0,779.1 L232.0,777.0 L235.0,774.8 L238.0,772.5 L241.0,770.2 L244.0,767.8 L247.0,765.3 L250.0,762.7 L253.0,760.0 L256.0,757.4 L259.0,754.6 L262.0,751.9 L265.0,749.0 L268.0,746.2 L271.0,743.4 L274.0,740.5 L277.0,737.7 L280.0,734.8 L283.0,732.0 L286.0,729.2 L289.0,726.5 L292.0,723.8 L295.0,721.2 L298.0,718.7 L301.0,716.2 L304.0,713.9 L307.0,711.7 L310.0,709.6 L313.0,707.6 L316.0,705.8 L319.0,704.1 L322.0,702.6 L325.0,701.3 L328.0,700.1 L331.0,699.1 L334.0,698.3 L337.0,697.7 L340.0,697.3 L343.0,697.0 L346.0,697.0 L349.0,697.2 L352.0,697.5 L355.0,698.1 L358.0,698.8 L361.0,699.8 L364.0,700.9 L367.0,702.2 L370.0,703.6 L373.0,705.2 L376.0,707.0 L379.0,708.9 L382.0,711.0 L385.0,713.2 L388.0,715.5 L391.0,717.9 L394.0,720.4 L397.0,722.9 L400.0,725.6 L403.0,728.3 L406.0,731.1 L409.0,733.9 L412.0,736.7 L415.0,739.6 L418.0,742.4 L421.0,745.3 L424.0,748.1 L427.0,750.9 L430.0,753.7 L433.0,756.5 L436.0,759.2 L439.0,761.8 L442.0,764.4 L445.0,766.9 L448.0,769.4 L451.0,771.8 L454.0,774.1 L457.0,776.3 L460.0,778.4 L463.0,780.5 L466.0,782.5 L469.0,784.4 L472.0,786.2 L475.0,787.9 L478.0,789.5 L481.0,791.0 L484.0,792.5 L487.0,793.8 L490.0,795.1 L493.0,796.3 L496.0,797.5 L499.0,798.5 L502.0,799.5 L505.0,800.4 L508.0,801.3 L511.0,802.1 L514.0,802.8 L517.0,803.5 L520.0,804.1 L523.0,804.7 L526.0,805.2 L529.0,805.7" fill="none" stroke="#2e9a73" stroke-width="5.8" stroke-opacity="0.88" stroke-linecap="round"/>
<path d="M237.0,773.6L228.3,791.0L217.7,775.6z" fill="#48ac80"/>
<path d="M447.2,769.0L466.4,771.7L455.3,786.7z" fill="#48ac80"/>
<path d="M160.0,830.5 L163.0,830.1 L166.0,829.6 L169.0,829.0 L172.0,828.4 L175.0,827.7 L178.0,827.0 L181.0,826.3 L184.0,825.4 L187.0,824.5 L190.0,823.6 L193.0,822.5 L196.0,821.4 L199.0,820.2 L202.0,819.0 L205.0,817.6 L208.0,816.2 L211.0,814.7 L214.0,813.1 L217.0,811.4 L220.0,809.7 L223.0,807.8 L226.0,805.9 L229.0,803.8 L232.0,801.7 L235.0,799.5 L238.0,797.2 L241.0,794.9 L244.0,792.5 L247.0,790.0 L250.0,787.4 L253.0,784.7 L256.0,782.1 L259.0,779.3 L262.0,776.6 L265.0,773.7 L268.0,770.9 L271.0,768.1 L274.0,765.2 L277.0,762.4 L280.0,759.5 L283.0,756.7 L286.0,753.9 L289.0,751.2 L292.0,748.5 L295.0,745.9 L298.0,743.4 L301.0,740.9 L304.0,738.6 L307.0,736.4 L310.0,734.3 L313.0,732.3 L316.0,730.5 L319.0,728.8 L322.0,727.3 L325.0,726.0 L328.0,724.8 L331.0,723.8 L334.0,723.0 L337.0,722.4 L340.0,722.0 L343.0,721.7 L346.0,721.7 L349.0,721.9 L352.0,722.2 L355.0,722.8 L358.0,723.5 L361.0,724.5 L364.0,725.6 L367.0,726.9 L370.0,728.3 L373.0,729.9 L376.0,731.7 L379.0,733.6 L382.0,735.7 L385.0,737.9 L388.0,740.2 L391.0,742.6 L394.0,745.1 L397.0,747.6 L400.0,750.3 L403.0,753.0 L406.0,755.8 L409.0,758.6 L412.0,761.4 L415.0,764.3 L418.0,767.1 L421.0,770.0 L424.0,772.8 L427.0,775.6 L430.0,778.4 L433.0,781.2 L436.0,783.9 L439.0,786.5 L442.0,789.1 L445.0,791.6 L448.0,794.1 L451.0,796.5 L454.0,798.8 L457.0,801.0 L460.0,803.1 L463.0,805.2 L466.0,807.2 L469.0,809.1 L472.0,810.9 L475.0,812.6 L478.0,814.2 L481.0,815.7 L484.0,817.2 L487.0,818.5 L490.0,819.8 L493.0,821.0 L496.0,822.2 L499.0,823.2 L502.0,824.2 L505.0,825.1 L508.0,826.0 L511.0,826.8 L514.0,827.5 L517.0,828.2 L520.0,828.8 L523.0,829.4 L526.0,829.9 L529.0,830.4" fill="none" stroke="#7fc49a" stroke-width="5.8" stroke-opacity="0.88" stroke-linecap="round"/>
<path d="M226.2,806.1L216.2,822.7L206.8,806.5z" fill="#8fce9f"/>
<path d="M458.0,802.1L477.4,803.3L467.3,819.1z" fill="#8fce9f"/>
<path d="M160.0,854.8 L163.0,854.4 L166.0,853.9 L169.0,853.3 L172.0,852.7 L175.0,852.0 L178.0,851.3 L181.0,850.6 L184.0,849.7 L187.0,848.8 L190.0,847.9 L193.0,846.8 L196.0,845.7 L199.0,844.5 L202.0,843.3 L205.0,841.9 L208.0,840.5 L211.0,839.0 L214.0,837.4 L217.0,835.7 L220.0,834.0 L223.0,832.1 L226.0,830.2 L229.0,828.1 L232.0,826.0 L235.0,823.8 L238.0,821.5 L241.0,819.2 L244.0,816.8 L247.0,814.3 L250.0,811.7 L253.0,809.0 L256.0,806.4 L259.0,803.6 L262.0,800.9 L265.0,798.0 L268.0,795.2 L271.0,792.4 L274.0,789.5 L277.0,786.7 L280.0,783.8 L283.0,781.0 L286.0,778.2 L289.0,775.5 L292.0,772.8 L295.0,770.2 L298.0,767.7 L301.0,765.2 L304.0,762.9 L307.0,760.7 L310.0,758.6 L313.0,756.6 L316.0,754.8 L319.0,753.1 L322.0,751.6 L325.0,750.3 L328.0,749.1 L331.0,748.1 L334.0,747.3 L337.0,746.7 L340.0,746.3 L343.0,746.0 L346.0,746.0 L349.0,746.2 L352.0,746.5 L355.0,747.1 L358.0,747.8 L361.0,748.8 L364.0,749.9 L367.0,751.2 L370.0,752.6 L373.0,754.2 L376.0,756.0 L379.0,757.9 L382.0,760.0 L385.0,762.2 L388.0,764.5 L391.0,766.9 L394.0,769.4 L397.0,771.9 L400.0,774.6 L403.0,777.3 L406.0,780.1 L409.0,782.9 L412.0,785.7 L415.0,788.6 L418.0,791.4 L421.0,794.3 L424.0,797.1 L427.0,799.9 L430.0,802.7 L433.0,805.5 L436.0,808.2 L439.0,810.8 L442.0,813.4 L445.0,815.9 L448.0,818.4 L451.0,820.8 L454.0,823.1 L457.0,825.3 L460.0,827.4 L463.0,829.5 L466.0,831.5 L469.0,833.4 L472.0,835.2 L475.0,836.9 L478.0,838.5 L481.0,840.0 L484.0,841.5 L487.0,842.8 L490.0,844.1 L493.0,845.3 L496.0,846.5 L499.0,847.5 L502.0,848.5 L505.0,849.4 L508.0,850.3 L511.0,851.1 L514.0,851.8 L517.0,852.5 L520.0,853.1 L523.0,853.7 L526.0,854.2 L529.0,854.7" fill="none" stroke="#e9a060" stroke-width="5.8" stroke-opacity="0.88" stroke-linecap="round"/>
<path d="M218.4,835.3L207.4,851.3L199.0,834.6z" fill="#efad70"/>
<path d="M465.8,831.7L485.2,831.9L476.1,848.2z" fill="#efad70"/>
<path d="M89.5,737.0 L92.5,737.1 L95.5,737.2 L98.5,737.4 L101.5,737.5 L104.5,737.7 L107.5,737.9 L110.5,738.1 L113.5,738.3 L116.5,738.5 L119.5,738.8 L122.5,739.1 L125.5,739.4 L128.5,739.7 L131.5,740.1 L134.5,740.5 L137.5,740.9 L140.5,741.4 L143.5,741.9 L146.5,742.4 L149.5,743.0 L152.5,743.6 L155.5,744.3 L158.5,745.0 L161.5,745.7 L164.5,746.5 L167.5,747.4 L170.5,748.3 L173.5,749.2 L176.5,750.3 L179.5,751.3 L182.5,752.5 L185.5,753.7 L188.5,754.9 L191.5,756.3 L194.5,757.6 L197.5,759.1 L200.5,760.6 L203.5,762.2 L206.5,763.8 L209.5,765.5 L212.5,767.3 L215.5,769.2 L218.5,771.1 L221.5,773.0 L224.5,775.0 L227.5,777.1 L230.5,779.2 L233.5,781.4 L236.5,783.7 L239.5,785.9 L242.5,788.2 L245.5,790.6 L248.5,793.0 L251.5,795.4 L254.5,797.8 L257.5,800.3 L260.5,802.7 L263.5,805.2 L266.5,807.6 L269.5,810.1 L272.5,812.5 L275.5,814.9 L278.5,817.3 L281.5,819.6 L284.5,821.9 L287.5,824.1 L290.5,826.3 L293.5,828.4 L296.5,830.4 L299.5,832.4 L302.5,834.2 L305.5,836.0 L308.5,837.7 L311.5,839.2 L314.5,840.7 L317.5,842.0 L320.5,843.2 L323.5,844.3 L326.5,845.3 L329.5,846.1 L332.5,846.7 L335.5,847.3 L338.5,847.7 L341.5,847.9 L344.5,848.0 L347.5,847.9 L350.5,847.8 L353.5,847.4 L356.5,846.9 L359.5,846.3 L362.5,845.5 L365.5,844.6 L368.5,843.6 L371.5,842.4 L374.5,841.1 L377.5,839.7 L380.5,838.2 L383.5,836.6 L386.5,834.8 L389.5,833.0 L392.5,831.1 L395.5,829.1 L398.5,827.0 L401.5,824.8 L404.5,822.6 L407.5,820.4 L410.5,818.0 L413.5,815.7 L416.5,813.3 L419.5,810.9 L422.5,808.4 L425.5,806.0 L428.5,803.5 L431.5,801.1 L434.5,798.6 L437.5,796.2 L440.5,793.8 L443.5,791.4 L446.5,789.0 L449.5,786.7 L452.5,784.4 L455.5,782.2 L458.5,780.0 L461.5,777.8 L464.5,775.7 L467.5,773.7 L470.5,771.7 L473.5,769.8 L476.5,767.9 L479.5,766.1 L482.5,764.4 L485.5,762.7 L488.5,761.1 L491.5,759.6 L494.5,758.1 L497.5,756.7 L500.5,755.4 L503.5,754.1 L506.5,752.9 L509.5,751.7 L512.5,750.6 L515.5,749.6 L518.5,748.6 L521.5,747.7 L524.5,746.8 L527.5,746.0 L530.5,745.2 L533.5,744.5 L536.5,743.8 L539.5,743.2 L542.5,742.6 L545.5,742.1 L548.5,741.5 L551.5,741.1 L554.5,740.6 L557.5,740.2 L560.5,739.8 L563.5,739.5 L566.5,739.2 L569.5,738.9 L572.5,738.6 L575.5,738.4 L578.5,738.1 L581.5,737.9 L584.5,737.7 L587.5,737.6 L590.5,737.4 L593.5,737.3 L596.5,737.1 L599.5,737.0" fill="none" stroke="#404448" stroke-width="2.4" stroke-dasharray="7,5"/>
<text x="74" y="733.7" font-size="10.75" fill="#231815" text-anchor="start" font-weight="bold">High T<tspan font-size="7.5" dy="2">air</tspan><tspan dy="-2"> sensitivity</tspan></text>
<text x="66.4" y="764.4" font-size="10.75" fill="#231815" text-anchor="start" font-weight="bold">High species richness</text>
<text x="65.1" y="788.1" font-size="10.75" fill="#231815" text-anchor="start" font-weight="bold">Low species evenness</text>
<text x="70.3" y="813.3" font-size="10.75" fill="#231815" text-anchor="start" font-weight="bold">Low functional traits</text>
<text x="71.5" y="837.8" font-size="10.75" fill="#231815" text-anchor="start" font-weight="bold">Low photosynthesis</text>
<text x="84.3" y="861.3" font-size="10.75" fill="#231815" text-anchor="start" font-weight="bold">Low resistance</text>
<text x="282.5" y="689.6" font-size="10.75" fill="#231815" text-anchor="start" font-weight="bold">High species evenness</text>
<text x="287.5" y="714.7" font-size="10.75" fill="#231815" text-anchor="start" font-weight="bold">High functional traits</text>
<text x="288.6" y="743.9" font-size="10.75" fill="#231815" text-anchor="start" font-weight="bold">High photosynthesis</text>
<text x="297.2" y="838.9" font-size="10.75" fill="#231815" text-anchor="start" font-weight="bold">Low Tair sensitivity</text>
<text x="292.1" y="861.4" font-size="10.75" fill="#231815" text-anchor="start" font-weight="bold">Low species richness</text>
<text x="529.6" y="732.9" font-size="10.75" fill="#231815" text-anchor="start" font-weight="bold">High T<tspan font-size="7.5" dy="2">air</tspan><tspan dy="-2"> sensitivity</tspan></text>
<text x="515.8" y="759.8" font-size="10.75" fill="#231815" text-anchor="start" font-weight="bold">High species richness</text>
<text x="514.9" y="788.7" font-size="10.75" fill="#231815" text-anchor="start" font-weight="bold">Low species evenness</text>
<text x="520.8" y="811.7" font-size="10.75" fill="#231815" text-anchor="start" font-weight="bold">Low functional traits</text>
<text x="521.4" y="839" font-size="10.75" fill="#231815" text-anchor="start" font-weight="bold">Low photosynthesis</text>
<text x="533.9" y="861.6" font-size="10.75" fill="#231815" text-anchor="start" font-weight="bold">Low resistance</text>
<rect x="288.8" y="770" width="101.7" height="14.2" fill="#f3efe9" opacity="0.9"/>
<text x="339.6" y="781" font-size="10.6" fill="#e8894a" text-anchor="middle" font-weight="bold">Highest resistance</text>
<text x="225.5" y="847.2" font-size="10.7" fill="#e8843c" text-anchor="middle" font-weight="bold" transform="rotate(-25 225.5 847.2)">Increasing resistance</text>
<text x="481" y="860" font-size="10.7" fill="#e8843c" text-anchor="middle" font-weight="bold" transform="rotate(28 481 860)">Increasing resistance</text>
<rect x="84.1" y="876.9" width="69.5" height="19.1" fill="#cde0cd" stroke="#bcd6c2" stroke-width="0.6"/>
<text x="118.8" y="889.8" font-size="10.8" fill="#231815" text-anchor="middle" font-weight="bold">Short LL</text>
<rect x="289.1" y="877.1" width="111.9" height="18.6" fill="#9fc4aa"/>
<text x="345" y="890" font-size="11.5" fill="#3a2a2a" text-anchor="middle" font-weight="bold">LL<tspan font-size="8" dy="0.5">crit</tspan></text>
<rect x="529.6" y="877.4" width="71.7" height="18.1" fill="#d5d8d8"/>
<text x="565.5" y="889.8" font-size="10.8" fill="#231815" text-anchor="middle" font-weight="bold">Long LL</text>
<path d="M179.1,879.2H249.7V874L262,884.9L249.7,895.8V890.6H179.1z" fill="#a7a9ab"/>
<text x="209.8" y="888.4" font-size="9.4" fill="#ffffff" text-anchor="middle" font-weight="bold">Warming</text>
<path d="M503.7,879.8H433.7V874.4L420.9,885L433.7,895.6V890.2H503.7z" fill="#a7a9ab"/>
<text x="466.7" y="888.6" font-size="9.4" fill="#ffffff" text-anchor="middle" font-weight="bold">Warming</text>
<line x1="10.3" y1="901" x2="664" y2="901" stroke="#5a5a5a" stroke-width="4"/>
<path d="M675.2,901L663.7,895.5V906.5z" fill="#5a5a5a"/>
<text x="344.5" y="913.7" font-size="12" fill="#231815" text-anchor="middle" font-weight="bold">Leaf longevity</text>
</svg></body></html>
